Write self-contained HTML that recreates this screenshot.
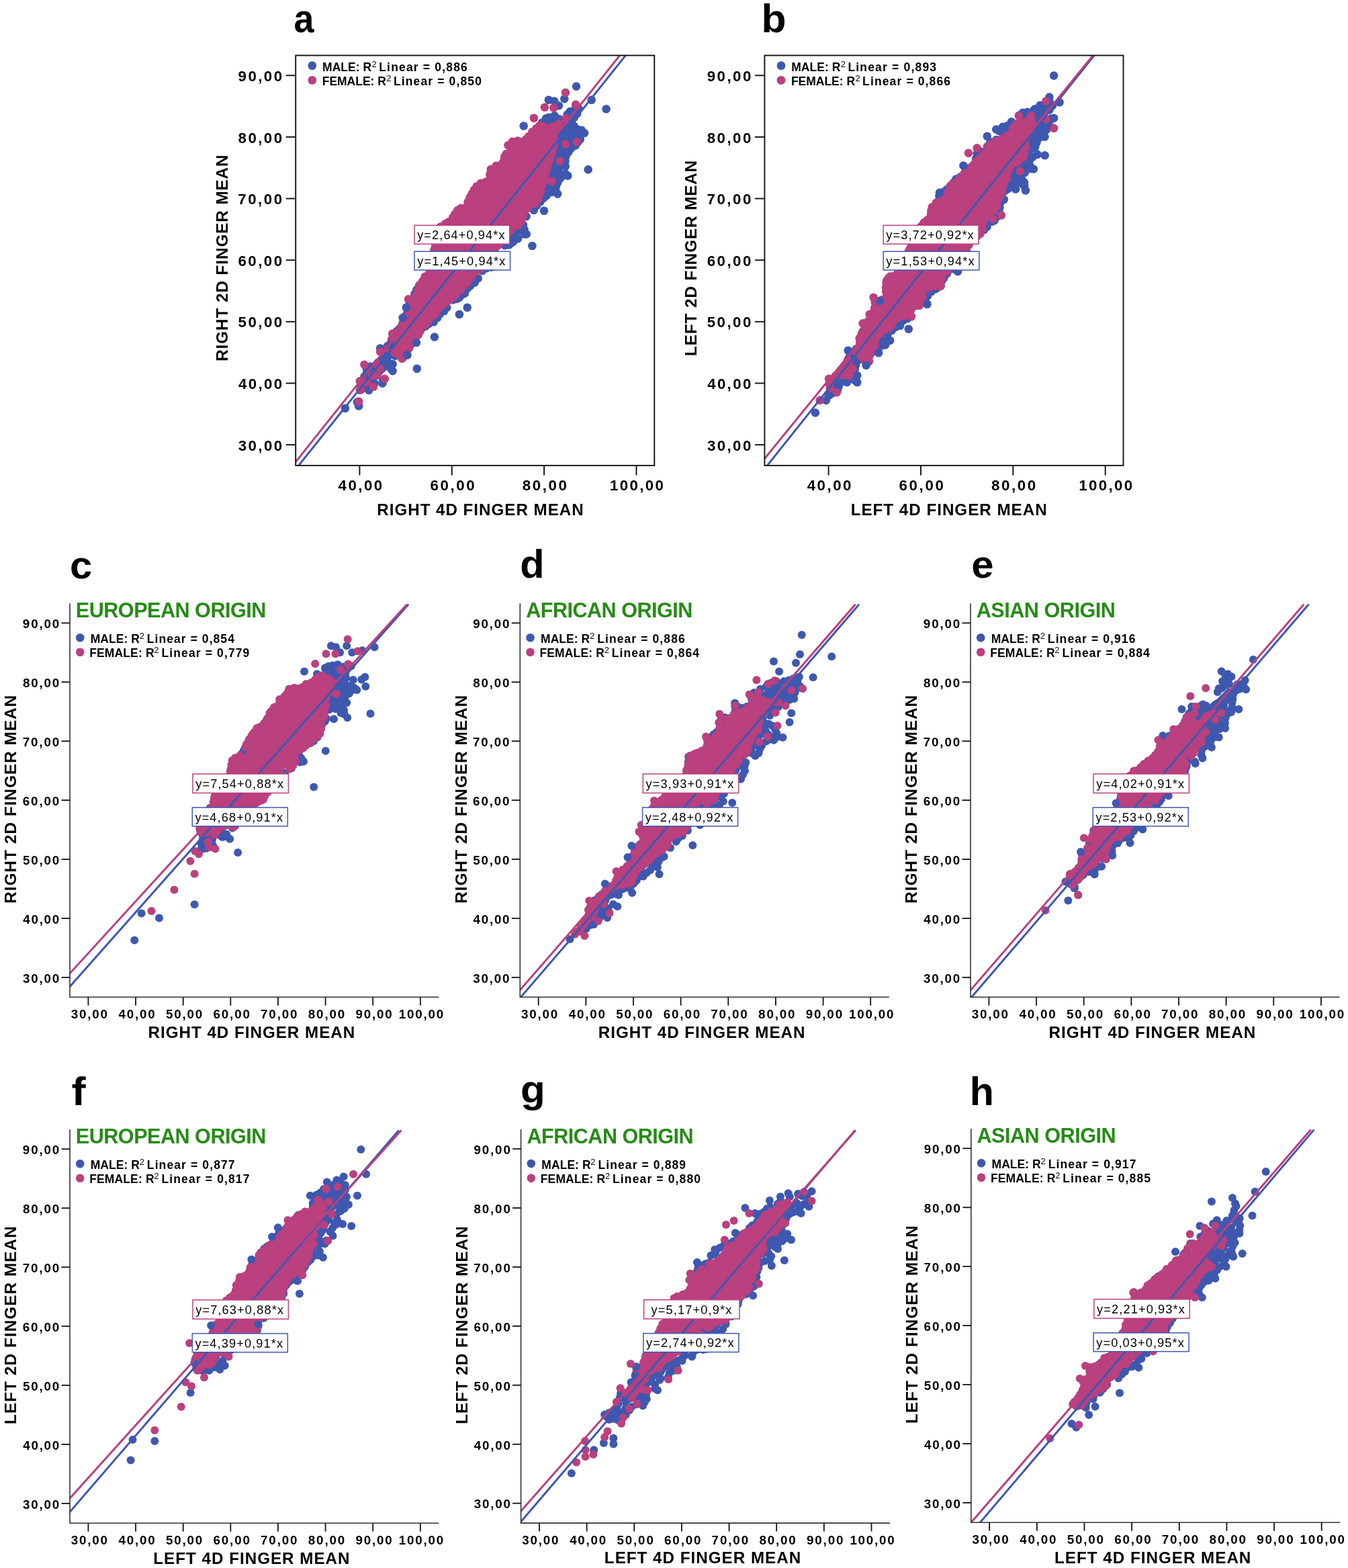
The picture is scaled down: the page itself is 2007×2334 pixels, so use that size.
<!DOCTYPE html>
<html><head><meta charset="utf-8"><title>Finger length scatter plots</title>
<style>html,body{margin:0;padding:0;background:#fff;}svg{display:block;}</style>
</head><body>
<svg xmlns="http://www.w3.org/2000/svg" width="2007" height="2334" viewBox="0 0 2007 2334">
<rect width="2007" height="2334" fill="#fff"/>
<g font-family="'Liberation Sans', Arial, Helvetica, sans-serif">
<g transform="translate(0,0)">
<clipPath id="clipa"><rect x="440.2" y="82.5" width="534.0999999999999" height="610.4"/></clipPath>
<g clip-path="url(#clipa)">
<g transform="translate(0,0)">
<polygon points="543.3,574.1 543.8,574.0 546.5,571.3 547.3,570.6 548.1,570.0 548.9,569.4 549.8,569.0 550.8,568.6 560.6,565.4 565.3,563.5 568.4,558.2 569.2,557.1 570.1,556.1 575.8,550.4 579.6,544.1 582.6,535.2 583.0,534.1 583.5,533.2 584.1,532.2 584.8,531.4 585.5,530.6 586.4,529.9 587.3,529.2 588.3,528.7 589.3,528.3 590.4,528.0 591.4,527.8 600.4,526.5 600.5,526.4 600.5,521.8 600.6,520.7 600.7,519.7 601.0,518.6 601.4,517.6 601.8,516.6 602.4,515.7 603.0,514.8 603.7,514.0 613.1,504.7 625.9,485.4 626.6,484.5 627.4,483.7 628.2,482.9 629.2,482.2 630.2,481.7 639.1,477.2 647.9,469.9 659.1,458.6 661.7,451.0 662.1,450.0 662.6,449.1 663.1,448.1 663.8,447.3 664.5,446.5 665.3,445.8 666.2,445.2 667.1,444.7 668.1,444.2 669.1,443.9 678.6,441.2 686.8,434.1 689.2,429.4 689.8,428.3 690.5,427.4 691.3,426.5 692.2,425.7 700.1,419.3 708.3,411.2 712.5,401.3 713.0,400.4 713.5,399.5 714.2,398.6 714.9,397.8 715.7,397.1 716.6,396.5 717.5,395.9 718.4,395.5 719.4,395.1 720.5,394.9 730.4,392.9 735.5,371.2 735.8,370.1 736.2,369.1 736.7,368.2 737.2,367.3 737.9,366.5 738.6,365.7 739.4,365.0 740.3,364.4 741.2,363.9 742.2,363.4 743.2,363.1 756.5,359.3 765.2,353.5 766.0,353.0 766.8,352.6 777.9,347.7 777.9,347.6 774.7,340.0 774.3,339.0 774.0,337.8 773.8,336.7 773.8,335.6 773.9,334.4 774.0,333.3 774.3,332.2 777.7,322.1 778.1,321.2 778.5,320.3 779.1,319.4 779.7,318.6 780.4,317.8 781.1,317.1 790.4,309.4 798.2,300.0 806.6,289.9 807.5,289.0 808.5,288.2 815.2,283.1 816.1,282.5 817.1,282.0 818.1,281.6 819.2,281.2 820.3,281.0 822.6,280.7 822.6,278.5 822.7,277.4 822.8,276.3 823.1,275.3 823.4,274.2 823.9,273.3 824.5,272.3 831.2,262.2 831.8,261.4 832.6,260.6 833.4,259.8 834.2,259.2 838.4,256.4 837.9,253.3 836.2,243.2 836.1,242.1 836.1,240.9 836.2,239.8 836.4,238.7 836.8,237.6 841.8,224.1 842.3,223.1 842.8,222.1 843.4,221.2 844.2,220.4 845.0,219.6 856.7,209.5 857.0,209.3 857.3,209.0 856.9,208.1 856.6,207.0 856.4,205.9 856.3,204.8 856.3,203.7 856.4,202.6 856.6,201.5 857.0,200.5 857.4,199.5 858.0,198.5 858.6,197.6 858.9,197.3 858.5,197.1 857.6,196.6 856.9,196.0 856.1,195.3 849.4,188.6 848.7,187.8 848.0,186.9 847.5,186.0 847.0,185.1 846.7,184.0 846.4,183.0 846.2,182.0 846.2,180.9 846.2,179.8 846.4,178.8 846.6,177.7 847.0,176.7 847.4,175.7 848.0,174.8 848.6,173.9 850.6,171.4 849.1,172.4 843.1,178.5 842.3,179.2 841.4,179.8 840.5,180.4 839.6,180.8 838.6,181.2 837.6,181.5 836.5,181.6 835.5,181.7 834.4,181.7 833.4,181.5 832.3,181.3 831.3,181.0 830.4,180.5 825.5,178.1 820.2,177.7 815.7,179.6 810.8,186.9 810.2,187.7 803.5,196.1 802.7,197.0 801.8,197.8 794.3,203.8 788.3,211.2 787.6,212.0 786.9,212.7 786.1,213.4 785.2,213.9 784.3,214.4 783.3,214.8 782.3,215.1 781.3,215.3 766.3,217.4 767.0,218.5 767.5,219.4 768.0,220.4 768.4,221.4 768.6,222.4 768.8,223.4 768.8,224.5 768.8,225.6 768.7,226.6 768.4,227.7 768.1,228.7 767.6,229.6 767.1,230.6 766.5,231.4 765.8,232.2 765.0,233.0 764.1,233.6 763.2,234.2 762.3,234.6 761.3,235.0 760.3,235.3 759.2,235.5 756.7,235.8 755.2,243.6 754.9,244.6 754.5,245.7 754.0,246.7 753.5,247.6 752.8,248.5 752.0,249.3 751.2,250.0 750.3,250.7 749.3,251.2 748.3,251.7 747.3,252.0 746.2,252.3 739.6,253.4 736.3,256.6 735.1,266.3 734.9,267.5 734.6,268.5 734.2,269.6 733.6,270.6 733.0,271.5 732.3,272.4 731.5,273.2 730.6,273.9 729.7,274.5 728.7,275.0 727.7,275.4 719.0,278.3 712.0,282.9 705.9,292.8 702.9,306.1 702.6,307.1 702.2,308.2 701.8,309.1 701.2,310.0 700.5,310.9 699.8,311.7 698.9,312.4 698.0,313.0 697.1,313.6 696.1,314.0 695.1,314.3 694.0,314.6 688.4,315.5 682.6,323.6 681.9,324.4 681.2,325.2 680.3,325.9 679.4,326.6 679.3,326.6 679.0,327.6 678.6,328.5 678.1,329.5 677.5,330.3 676.9,331.2 676.2,331.9 675.4,332.6 674.5,333.2 659.7,342.6 644.1,405.8 643.7,406.9 643.3,408.0 642.7,409.0 642.1,409.9 641.3,410.8 640.4,411.6 636.9,414.5 631.2,424.6 630.7,425.3 630.2,426.0 624.9,432.7 622.1,442.3 621.8,443.3 621.3,444.3 620.8,445.2 620.2,446.0 619.6,446.8 618.8,447.5 618.0,448.2 617.2,448.8 615.2,450.0 615.6,452.7 615.8,453.8 615.8,454.9 615.7,456.0 615.5,457.1 615.2,458.1 614.7,459.2 614.2,460.1 609.9,467.3 606.9,477.7 606.5,479.0 605.9,480.1 599.2,491.9 598.5,492.9 597.8,493.8 596.9,494.7 596.0,495.4 588.2,501.0 587.1,509.7 586.9,510.8 586.6,511.8 586.2,512.8 585.8,513.7 585.2,514.6 584.6,515.5 583.8,516.2 583.0,516.9 569.8,527.5 568.6,539.7 568.4,540.8 568.2,541.9 567.8,542.9 567.3,543.8 566.8,544.8 566.1,545.6 565.4,546.4 564.6,547.2 563.7,547.8 562.8,548.4 561.8,548.8 560.8,549.2 559.8,549.4 558.7,549.6 557.6,549.7 550.9,549.7 551.8,557.8 551.8,558.8 551.8,559.9 551.6,561.0 551.3,562.0 551.0,563.1 550.5,564.0 550.0,565.0 549.3,565.8 548.6,566.6 544.0,571.2 543.3,574.1" fill="#3e58af"/>
<g fill="#3e58af"><circle cx="531.9" cy="598.4" r="6.3"/><circle cx="537.6" cy="579.9" r="6.3"/><circle cx="555.2" cy="573.0" r="6.3"/><circle cx="570.1" cy="566.6" r="6.3"/><circle cx="581.9" cy="548.6" r="6.3"/><circle cx="584.0" cy="543.0" r="6.3"/><circle cx="600.3" cy="530.7" r="6.3"/><circle cx="605.5" cy="526.0" r="6.3"/><circle cx="606.0" cy="519.0" r="6.3"/><circle cx="610.8" cy="514.0" r="6.3"/><circle cx="616.3" cy="509.2" r="6.3"/><circle cx="618.7" cy="502.6" r="6.3"/><circle cx="622.9" cy="498.1" r="6.3"/><circle cx="626.7" cy="491.0" r="6.3"/><circle cx="633.6" cy="485.6" r="6.3"/><circle cx="638.4" cy="481.9" r="6.3"/><circle cx="645.7" cy="479.3" r="6.3"/><circle cx="654.8" cy="467.6" r="6.3"/><circle cx="661.2" cy="463.0" r="6.3"/><circle cx="665.3" cy="457.8" r="6.3"/><circle cx="680.0" cy="444.9" r="6.3"/><circle cx="685.2" cy="440.9" r="6.3"/><circle cx="692.0" cy="436.6" r="6.3"/><circle cx="695.8" cy="429.4" r="6.3"/><circle cx="700.1" cy="425.2" r="6.3"/><circle cx="706.7" cy="420.5" r="6.3"/><circle cx="711.7" cy="414.3" r="6.3"/><circle cx="718.1" cy="403.0" r="6.3"/><circle cx="724.1" cy="399.3" r="6.3"/><circle cx="731.3" cy="397.5" r="6.3"/><circle cx="735.2" cy="394.3" r="6.3"/><circle cx="737.9" cy="386.3" r="6.3"/><circle cx="738.1" cy="380.5" r="6.3"/><circle cx="751.7" cy="365.2" r="6.3"/><circle cx="757.8" cy="364.5" r="6.3"/><circle cx="764.1" cy="359.8" r="6.3"/><circle cx="770.9" cy="355.3" r="6.3"/><circle cx="783.7" cy="348.5" r="6.3"/><circle cx="780.6" cy="341.4" r="6.3"/><circle cx="778.9" cy="335.0" r="6.3"/><circle cx="783.6" cy="322.1" r="6.3"/><circle cx="794.9" cy="312.8" r="6.3"/><circle cx="799.2" cy="305.7" r="6.3"/><circle cx="804.5" cy="300.3" r="6.3"/><circle cx="809.3" cy="294.8" r="6.3"/><circle cx="813.5" cy="291.2" r="6.3"/><circle cx="820.8" cy="286.2" r="6.3"/><circle cx="827.2" cy="283.8" r="6.3"/><circle cx="827.6" cy="278.7" r="6.3"/><circle cx="829.7" cy="272.7" r="6.3"/><circle cx="834.7" cy="264.8" r="6.3"/><circle cx="840.1" cy="260.7" r="6.3"/><circle cx="841.8" cy="247.7" r="6.3"/><circle cx="841.5" cy="240.1" r="6.3"/><circle cx="842.3" cy="233.5" r="6.3"/><circle cx="846.3" cy="226.6" r="6.3"/><circle cx="849.8" cy="221.3" r="6.3"/><circle cx="855.9" cy="216.9" r="6.3"/><circle cx="860.3" cy="211.6" r="6.3"/><circle cx="861.5" cy="205.9" r="6.3"/><circle cx="862.1" cy="200.0" r="6.3"/><circle cx="870.0" cy="198.0" r="6.3"/><circle cx="865.6" cy="195.6" r="6.3"/><circle cx="859.2" cy="192.4" r="6.3"/><circle cx="854.6" cy="187.8" r="6.3"/><circle cx="851.4" cy="182.4" r="6.3"/><circle cx="854.9" cy="174.8" r="6.3"/><circle cx="859.3" cy="169.0" r="6.3"/><circle cx="861.8" cy="162.1" r="6.3"/><circle cx="855.7" cy="163.1" r="6.3"/><circle cx="848.5" cy="166.1" r="6.3"/><circle cx="844.9" cy="170.3" r="6.3"/><circle cx="832.5" cy="177.3" r="6.3"/><circle cx="825.6" cy="172.3" r="6.3"/><circle cx="813.1" cy="176.2" r="6.3"/><circle cx="807.1" cy="182.5" r="6.3"/><circle cx="802.9" cy="188.4" r="6.3"/><circle cx="799.3" cy="193.4" r="6.3"/><circle cx="794.1" cy="197.7" r="6.3"/><circle cx="788.0" cy="204.5" r="6.3"/><circle cx="783.6" cy="208.5" r="6.3"/><circle cx="777.4" cy="211.8" r="6.3"/><circle cx="769.7" cy="213.3" r="6.3"/><circle cx="761.5" cy="216.4" r="6.3"/><circle cx="763.6" cy="223.3" r="6.3"/><circle cx="760.8" cy="230.6" r="6.3"/><circle cx="755.3" cy="231.7" r="6.3"/><circle cx="751.7" cy="236.6" r="6.3"/><circle cx="745.1" cy="247.2" r="6.3"/><circle cx="737.6" cy="250.0" r="6.3"/><circle cx="733.1" cy="253.2" r="6.3"/><circle cx="730.4" cy="261.8" r="6.3"/><circle cx="730.5" cy="269.0" r="6.3"/><circle cx="723.9" cy="270.7" r="6.3"/><circle cx="716.0" cy="274.6" r="6.3"/><circle cx="706.5" cy="282.6" r="6.3"/><circle cx="702.6" cy="289.5" r="6.3"/><circle cx="697.8" cy="304.3" r="6.3"/><circle cx="694.5" cy="309.2" r="6.3"/><circle cx="688.7" cy="311.0" r="6.3"/><circle cx="682.3" cy="316.0" r="6.3"/><circle cx="677.2" cy="321.3" r="6.3"/><circle cx="674.3" cy="325.8" r="6.3"/><circle cx="669.0" cy="331.5" r="6.3"/><circle cx="656.7" cy="339.5" r="6.3"/><circle cx="653.5" cy="345.2" r="6.3"/><circle cx="650.3" cy="359.1" r="6.3"/><circle cx="648.5" cy="365.7" r="6.3"/><circle cx="646.6" cy="374.0" r="6.3"/><circle cx="644.6" cy="380.9" r="6.3"/><circle cx="644.4" cy="386.7" r="6.3"/><circle cx="633.3" cy="414.1" r="6.3"/><circle cx="624.1" cy="424.9" r="6.3"/><circle cx="620.5" cy="431.1" r="6.3"/><circle cx="617.3" cy="437.6" r="6.3"/><circle cx="614.9" cy="445.9" r="6.3"/><circle cx="609.5" cy="449.3" r="6.3"/><circle cx="607.1" cy="463.0" r="6.3"/><circle cx="604.7" cy="469.2" r="6.3"/><circle cx="603.5" cy="476.4" r="6.3"/><circle cx="599.0" cy="482.2" r="6.3"/><circle cx="594.7" cy="489.3" r="6.3"/><circle cx="591.0" cy="492.7" r="6.3"/><circle cx="584.6" cy="497.0" r="6.3"/><circle cx="576.6" cy="515.5" r="6.3"/><circle cx="569.5" cy="520.8" r="6.3"/><circle cx="563.0" cy="539.5" r="6.3"/><circle cx="551.8" cy="545.6" r="6.3"/><circle cx="545.7" cy="547.8" r="6.3"/><circle cx="546.3" cy="554.0" r="6.3"/><circle cx="545.1" cy="562.7" r="6.3"/><circle cx="540.6" cy="568.5" r="6.3"/><circle cx="537.4" cy="574.7" r="6.3"/><circle cx="852.3" cy="169.3" r="6.3"/><circle cx="817.3" cy="174.8" r="6.3"/><circle cx="823.7" cy="174.3" r="6.3"/><circle cx="851.7" cy="174.7" r="6.3"/><circle cx="816.8" cy="181.1" r="6.3"/><circle cx="835.0" cy="183.4" r="6.3"/><circle cx="848.1" cy="182.9" r="6.3"/><circle cx="811.8" cy="189.3" r="6.3"/><circle cx="852.0" cy="189.7" r="6.3"/><circle cx="859.8" cy="196.0" r="6.3"/><circle cx="865.7" cy="193.7" r="6.3"/><circle cx="859.7" cy="203.2" r="6.3"/><circle cx="863.8" cy="207.3" r="6.3"/><circle cx="766.6" cy="215.3" r="6.3"/><circle cx="849.0" cy="216.5" r="6.3"/><circle cx="857.1" cy="216.0" r="6.3"/><circle cx="769.9" cy="224.9" r="6.3"/><circle cx="763.8" cy="231.0" r="6.3"/><circle cx="840.9" cy="228.6" r="6.3"/><circle cx="756.2" cy="235.9" r="6.3"/><circle cx="840.3" cy="236.8" r="6.3"/><circle cx="752.7" cy="244.1" r="6.3"/><circle cx="739.8" cy="249.5" r="6.3"/><circle cx="834.4" cy="259.4" r="6.3"/><circle cx="842.3" cy="259.1" r="6.3"/><circle cx="832.5" cy="266.6" r="6.3"/><circle cx="723.7" cy="273.2" r="6.3"/><circle cx="830.6" cy="270.2" r="6.3"/><circle cx="715.3" cy="276.7" r="6.3"/><circle cx="825.2" cy="276.9" r="6.3"/><circle cx="710.2" cy="286.2" r="6.3"/><circle cx="813.5" cy="285.4" r="6.3"/><circle cx="701.0" cy="292.6" r="6.3"/><circle cx="791.6" cy="307.9" r="6.3"/><circle cx="686.1" cy="312.7" r="6.3"/><circle cx="693.7" cy="311.3" r="6.3"/><circle cx="683.8" cy="319.7" r="6.3"/><circle cx="776.1" cy="334.8" r="6.3"/><circle cx="780.5" cy="348.5" r="6.3"/><circle cx="768.2" cy="353.4" r="6.3"/><circle cx="656.3" cy="360.0" r="6.3"/><circle cx="753.7" cy="363.5" r="6.3"/><circle cx="761.0" cy="361.8" r="6.3"/><circle cx="736.5" cy="369.7" r="6.3"/><circle cx="737.4" cy="377.6" r="6.3"/><circle cx="644.9" cy="387.8" r="6.3"/><circle cx="724.0" cy="398.0" r="6.3"/><circle cx="733.2" cy="396.9" r="6.3"/><circle cx="705.6" cy="417.1" r="6.3"/><circle cx="694.6" cy="429.9" r="6.3"/><circle cx="688.0" cy="438.6" r="6.3"/><circle cx="619.2" cy="444.9" r="6.3"/><circle cx="665.8" cy="446.6" r="6.3"/><circle cx="674.7" cy="446.3" r="6.3"/><circle cx="683.3" cy="443.4" r="6.3"/><circle cx="612.8" cy="458.7" r="6.3"/><circle cx="653.2" cy="466.6" r="6.3"/><circle cx="608.4" cy="471.5" r="6.3"/><circle cx="651.3" cy="472.9" r="6.3"/><circle cx="600.7" cy="478.3" r="6.3"/><circle cx="600.7" cy="484.9" r="6.3"/><circle cx="596.6" cy="493.7" r="6.3"/><circle cx="623.9" cy="491.5" r="6.3"/><circle cx="589.9" cy="500.1" r="6.3"/><circle cx="616.7" cy="501.7" r="6.3"/><circle cx="580.2" cy="512.9" r="6.3"/><circle cx="610.1" cy="514.5" r="6.3"/><circle cx="574.3" cy="523.1" r="6.3"/><circle cx="570.7" cy="528.7" r="6.3"/><circle cx="588.3" cy="529.8" r="6.3"/><circle cx="604.1" cy="526.4" r="6.3"/><circle cx="569.1" cy="534.3" r="6.3"/><circle cx="582.0" cy="542.5" r="6.3"/><circle cx="548.9" cy="547.8" r="6.3"/><circle cx="554.5" cy="547.7" r="6.3"/><circle cx="560.9" cy="550.3" r="6.3"/><circle cx="548.1" cy="561.9" r="6.3"/><circle cx="538.5" cy="571.2" r="6.3"/><circle cx="554.8" cy="568.1" r="6.3"/><circle cx="541.1" cy="577.4" r="6.3"/><circle cx="545.8" cy="577.2" r="6.3"/></g>
<polygon points="582.3,516.1 582.8,516.5 583.6,517.0 584.2,517.6 589.2,522.6 596.6,527.0 597.3,527.5 598.0,528.1 598.6,528.7 599.2,529.3 599.3,529.6 600.9,524.8 601.2,524.0 601.6,523.3 602.0,522.6 602.5,522.0 607.9,515.2 609.1,509.0 609.3,508.2 609.6,507.3 610.0,506.5 610.5,505.8 611.0,505.1 611.6,504.4 618.8,497.2 623.2,488.4 623.7,487.5 624.3,486.8 624.9,486.0 644.7,466.3 652.8,456.5 653.4,455.9 660.0,449.3 661.0,448.4 673.9,438.7 683.7,429.0 690.1,422.5 696.3,414.8 700.8,407.2 701.3,406.5 701.8,405.9 702.4,405.2 703.1,404.7 703.8,404.2 704.5,403.8 715.8,398.2 739.8,361.3 740.3,360.6 740.8,360.0 755.7,344.1 755.9,343.8 762.5,337.2 763.2,336.6 763.9,336.1 771.6,330.9 775.8,317.0 776.1,316.1 776.5,315.3 777.0,314.5 777.5,313.8 785.5,304.3 786.0,303.7 786.7,303.1 787.3,302.6 788.0,302.2 788.8,301.8 789.5,301.5 796.0,299.3 799.6,291.1 802.8,279.9 803.0,279.1 803.4,278.3 809.4,266.2 811.0,250.9 811.1,250.1 811.3,249.2 816.3,232.6 816.6,231.8 822.6,216.8 821.1,202.2 821.1,201.3 821.1,200.4 821.3,199.5 821.5,198.6 821.9,197.7 822.3,196.9 825.7,190.9 821.9,192.5 821.1,192.9 820.1,193.1 819.2,193.2 818.3,193.3 817.4,193.2 816.4,193.0 815.5,192.8 806.3,189.7 804.5,189.3 800.8,193.8 800.2,194.5 799.4,195.2 791.8,201.3 786.0,208.6 785.4,209.2 784.8,209.8 784.1,210.3 783.4,210.8 782.6,211.2 781.9,211.5 781.0,211.7 780.2,211.9 760.3,214.7 760.3,214.7 762.7,218.4 763.2,219.1 763.6,219.9 763.9,220.8 764.1,221.6 764.2,222.5 764.3,223.3 764.2,224.2 764.1,225.1 763.9,225.9 763.6,226.7 763.2,227.5 762.8,228.3 762.3,229.0 761.7,229.6 761.1,230.2 760.4,230.8 759.7,231.2 758.9,231.6 758.1,231.9 757.2,232.2 756.4,232.3 753.2,232.7 753.3,233.3 753.3,234.2 753.3,235.0 753.1,235.9 751.9,241.9 751.7,242.7 751.4,243.6 751.0,244.4 750.5,245.2 750.0,245.9 749.4,246.6 748.7,247.2 748.0,247.7 747.2,248.1 746.3,248.5 745.5,248.8 744.6,249.0 737.9,250.1 733.0,255.0 731.7,265.0 731.6,265.9 731.3,266.8 731.0,267.6 730.6,268.4 730.0,269.2 729.5,269.9 728.8,270.6 728.1,271.1 727.3,271.6 726.5,272.1 725.6,272.4 717.4,275.1 709.5,280.4 702.6,291.4 699.7,304.3 699.5,305.2 699.2,306.0 698.8,306.8 698.3,307.6 697.7,308.3 697.1,308.9 696.5,309.5 695.7,310.0 695.0,310.4 694.1,310.8 693.3,311.1 692.4,311.3 686.4,312.3 680.1,321.1 679.5,321.8 678.9,322.4 678.2,323.0 677.5,323.5 676.7,324.0 675.8,324.3 675.8,324.3 675.7,324.6 675.6,325.5 675.3,326.3 675.0,327.1 674.6,327.8 674.1,328.5 673.6,329.2 673.0,329.8 672.4,330.4 671.7,330.9 656.8,340.3 642.5,405.2 642.3,406.0 642.0,406.8 641.6,407.5 641.2,408.3 640.7,409.0 640.1,409.6 634.2,415.5 628.1,424.6 623.7,433.4 620.6,448.9 620.4,449.8 620.1,450.6 619.7,451.4 619.3,452.2 613.3,461.2 610.3,470.1 610.0,470.8 609.7,471.5 609.3,472.2 608.8,472.8 602.9,480.3 598.3,490.8 598.0,491.5 597.5,492.3 597.0,492.9 596.5,493.6 595.8,494.1 587.9,500.8 585.2,511.4 585.0,512.3 584.6,513.2 584.1,514.0 583.6,514.8 583.0,515.5 582.3,516.1 582.3,516.1" fill="#ba407e"/>
<g fill="#ba407e"><circle cx="577.0" cy="518.5" r="6.3"/><circle cx="581.4" cy="519.0" r="6.3"/><circle cx="586.9" cy="524.0" r="6.3"/><circle cx="592.7" cy="527.6" r="6.3"/><circle cx="598.6" cy="533.9" r="6.3"/><circle cx="602.6" cy="528.9" r="6.3"/><circle cx="606.1" cy="522.4" r="6.3"/><circle cx="609.3" cy="518.0" r="6.3"/><circle cx="611.0" cy="510.6" r="6.3"/><circle cx="616.0" cy="502.9" r="6.3"/><circle cx="621.3" cy="499.3" r="6.3"/><circle cx="625.2" cy="493.5" r="6.3"/><circle cx="629.2" cy="485.8" r="6.3"/><circle cx="633.9" cy="482.3" r="6.3"/><circle cx="638.2" cy="476.9" r="6.3"/><circle cx="643.8" cy="470.2" r="6.3"/><circle cx="648.5" cy="466.3" r="6.3"/><circle cx="653.3" cy="459.0" r="6.3"/><circle cx="658.6" cy="453.7" r="6.3"/><circle cx="663.7" cy="450.5" r="6.3"/><circle cx="669.1" cy="446.5" r="6.3"/><circle cx="674.6" cy="442.2" r="6.3"/><circle cx="679.3" cy="437.2" r="6.3"/><circle cx="685.7" cy="431.7" r="6.3"/><circle cx="689.9" cy="424.8" r="6.3"/><circle cx="695.1" cy="421.3" r="6.3"/><circle cx="700.8" cy="413.5" r="6.3"/><circle cx="704.6" cy="407.3" r="6.3"/><circle cx="709.2" cy="403.4" r="6.3"/><circle cx="715.7" cy="400.0" r="6.3"/><circle cx="721.5" cy="396.8" r="6.3"/><circle cx="724.8" cy="388.9" r="6.3"/><circle cx="727.7" cy="382.9" r="6.3"/><circle cx="732.6" cy="376.3" r="6.3"/><circle cx="735.9" cy="372.3" r="6.3"/><circle cx="740.9" cy="365.9" r="6.3"/><circle cx="745.2" cy="360.5" r="6.3"/><circle cx="750.5" cy="353.2" r="6.3"/><circle cx="755.5" cy="348.0" r="6.3"/><circle cx="759.1" cy="343.1" r="6.3"/><circle cx="765.4" cy="337.4" r="6.3"/><circle cx="771.4" cy="335.4" r="6.3"/><circle cx="776.3" cy="329.4" r="6.3"/><circle cx="778.2" cy="322.4" r="6.3"/><circle cx="780.3" cy="315.6" r="6.3"/><circle cx="785.6" cy="309.9" r="6.3"/><circle cx="788.8" cy="305.0" r="6.3"/><circle cx="796.5" cy="302.6" r="6.3"/><circle cx="801.2" cy="296.4" r="6.3"/><circle cx="803.3" cy="288.6" r="6.3"/><circle cx="805.6" cy="283.9" r="6.3"/><circle cx="807.2" cy="275.2" r="6.3"/><circle cx="810.3" cy="269.7" r="6.3"/><circle cx="811.5" cy="262.5" r="6.3"/><circle cx="813.4" cy="254.2" r="6.3"/><circle cx="814.8" cy="247.5" r="6.3"/><circle cx="817.5" cy="240.5" r="6.3"/><circle cx="818.7" cy="235.2" r="6.3"/><circle cx="822.2" cy="227.8" r="6.3"/><circle cx="823.5" cy="220.3" r="6.3"/><circle cx="825.0" cy="214.1" r="6.3"/><circle cx="825.2" cy="207.2" r="6.3"/><circle cx="824.0" cy="199.1" r="6.3"/><circle cx="826.8" cy="192.5" r="6.3"/><circle cx="831.8" cy="187.4" r="6.3"/><circle cx="831.2" cy="184.9" r="6.3"/><circle cx="823.9" cy="188.3" r="6.3"/><circle cx="818.3" cy="191.3" r="6.3"/><circle cx="810.1" cy="188.8" r="6.3"/><circle cx="803.7" cy="186.5" r="6.3"/><circle cx="798.6" cy="191.0" r="6.3"/><circle cx="792.6" cy="196.2" r="6.3"/><circle cx="787.7" cy="202.7" r="6.3"/><circle cx="783.6" cy="206.9" r="6.3"/><circle cx="776.6" cy="210.8" r="6.3"/><circle cx="770.7" cy="209.6" r="6.3"/><circle cx="762.7" cy="210.9" r="6.3"/><circle cx="756.5" cy="216.2" r="6.3"/><circle cx="760.7" cy="221.1" r="6.3"/><circle cx="759.9" cy="226.9" r="6.3"/><circle cx="753.6" cy="229.2" r="6.3"/><circle cx="751.0" cy="233.7" r="6.3"/><circle cx="749.0" cy="241.9" r="6.3"/><circle cx="743.7" cy="246.5" r="6.3"/><circle cx="738.4" cy="246.9" r="6.3"/><circle cx="730.8" cy="252.0" r="6.3"/><circle cx="730.6" cy="259.2" r="6.3"/><circle cx="729.7" cy="265.8" r="6.3"/><circle cx="723.9" cy="270.8" r="6.3"/><circle cx="715.9" cy="272.7" r="6.3"/><circle cx="709.8" cy="277.3" r="6.3"/><circle cx="705.9" cy="282.7" r="6.3"/><circle cx="702.6" cy="288.6" r="6.3"/><circle cx="699.5" cy="294.2" r="6.3"/><circle cx="696.6" cy="300.6" r="6.3"/><circle cx="693.8" cy="308.5" r="6.3"/><circle cx="686.1" cy="310.1" r="6.3"/><circle cx="681.3" cy="313.0" r="6.3"/><circle cx="677.4" cy="318.6" r="6.3"/><circle cx="674.2" cy="323.5" r="6.3"/><circle cx="667.6" cy="330.5" r="6.3"/><circle cx="663.1" cy="333.1" r="6.3"/><circle cx="656.0" cy="337.6" r="6.3"/><circle cx="652.8" cy="342.3" r="6.3"/><circle cx="652.8" cy="350.0" r="6.3"/><circle cx="649.2" cy="357.8" r="6.3"/><circle cx="648.6" cy="364.2" r="6.3"/><circle cx="646.8" cy="371.1" r="6.3"/><circle cx="646.4" cy="380.0" r="6.3"/><circle cx="643.9" cy="387.1" r="6.3"/><circle cx="642.7" cy="393.4" r="6.3"/><circle cx="641.2" cy="399.3" r="6.3"/><circle cx="639.6" cy="406.4" r="6.3"/><circle cx="632.7" cy="411.8" r="6.3"/><circle cx="629.2" cy="418.5" r="6.3"/><circle cx="625.1" cy="424.1" r="6.3"/><circle cx="622.7" cy="431.2" r="6.3"/><circle cx="619.9" cy="438.1" r="6.3"/><circle cx="618.5" cy="444.1" r="6.3"/><circle cx="617.1" cy="452.7" r="6.3"/><circle cx="611.3" cy="458.7" r="6.3"/><circle cx="608.3" cy="464.5" r="6.3"/><circle cx="605.7" cy="470.7" r="6.3"/><circle cx="602.4" cy="476.1" r="6.3"/><circle cx="599.8" cy="483.7" r="6.3"/><circle cx="596.3" cy="488.6" r="6.3"/><circle cx="590.3" cy="495.0" r="6.3"/><circle cx="584.9" cy="499.9" r="6.3"/><circle cx="583.0" cy="505.5" r="6.3"/><circle cx="580.5" cy="513.1" r="6.3"/><circle cx="802.7" cy="191.5" r="6.3"/><circle cx="816.0" cy="191.6" r="6.3"/><circle cx="823.8" cy="191.5" r="6.3"/><circle cx="763.4" cy="211.9" r="6.3"/><circle cx="773.1" cy="213.8" r="6.3"/><circle cx="779.2" cy="213.9" r="6.3"/><circle cx="761.4" cy="219.3" r="6.3"/><circle cx="823.7" cy="217.5" r="6.3"/><circle cx="755.5" cy="232.8" r="6.3"/><circle cx="751.1" cy="240.9" r="6.3"/><circle cx="816.7" cy="239.0" r="6.3"/><circle cx="749.9" cy="248.4" r="6.3"/><circle cx="811.4" cy="246.6" r="6.3"/><circle cx="733.4" cy="255.7" r="6.3"/><circle cx="812.9" cy="252.3" r="6.3"/><circle cx="729.3" cy="259.8" r="6.3"/><circle cx="717.1" cy="275.4" r="6.3"/><circle cx="805.4" cy="276.4" r="6.3"/><circle cx="800.9" cy="280.6" r="6.3"/><circle cx="704.9" cy="286.7" r="6.3"/><circle cx="703.4" cy="296.4" r="6.3"/><circle cx="797.3" cy="294.0" r="6.3"/><circle cx="697.8" cy="303.7" r="6.3"/><circle cx="787.5" cy="300.9" r="6.3"/><circle cx="686.1" cy="310.7" r="6.3"/><circle cx="695.3" cy="307.6" r="6.3"/><circle cx="785.3" cy="307.7" r="6.3"/><circle cx="775.2" cy="318.3" r="6.3"/><circle cx="667.2" cy="332.1" r="6.3"/><circle cx="771.2" cy="330.0" r="6.3"/><circle cx="764.2" cy="335.5" r="6.3"/><circle cx="755.9" cy="345.9" r="6.3"/><circle cx="655.2" cy="349.7" r="6.3"/><circle cx="752.4" cy="351.8" r="6.3"/><circle cx="652.2" cy="356.1" r="6.3"/><circle cx="742.6" cy="358.6" r="6.3"/><circle cx="737.3" cy="363.8" r="6.3"/><circle cx="648.9" cy="370.2" r="6.3"/><circle cx="724.8" cy="386.3" r="6.3"/><circle cx="641.0" cy="391.4" r="6.3"/><circle cx="720.1" cy="392.1" r="6.3"/><circle cx="640.6" cy="399.6" r="6.3"/><circle cx="711.2" cy="399.2" r="6.3"/><circle cx="638.7" cy="407.8" r="6.3"/><circle cx="701.1" cy="408.2" r="6.3"/><circle cx="628.6" cy="421.9" r="6.3"/><circle cx="692.2" cy="420.3" r="6.3"/><circle cx="624.8" cy="425.4" r="6.3"/><circle cx="687.3" cy="427.1" r="6.3"/><circle cx="670.6" cy="440.9" r="6.3"/><circle cx="663.4" cy="449.7" r="6.3"/><circle cx="615.9" cy="453.5" r="6.3"/><circle cx="640.7" cy="470.2" r="6.3"/><circle cx="603.0" cy="475.7" r="6.3"/><circle cx="636.2" cy="474.3" r="6.3"/><circle cx="599.7" cy="483.0" r="6.3"/><circle cx="628.7" cy="481.1" r="6.3"/><circle cx="621.5" cy="487.8" r="6.3"/><circle cx="593.4" cy="496.2" r="6.3"/><circle cx="621.5" cy="497.1" r="6.3"/><circle cx="582.3" cy="509.7" r="6.3"/><circle cx="610.2" cy="508.5" r="6.3"/><circle cx="578.3" cy="516.7" r="6.3"/><circle cx="606.8" cy="517.5" r="6.3"/><circle cx="600.3" cy="531.7" r="6.3"/></g>
<circle cx="513.9" cy="607.7" r="6.3" fill="#3e58af"/>
<circle cx="534.1" cy="604.3" r="6.3" fill="#3e58af"/>
<circle cx="549.2" cy="580.7" r="6.3" fill="#3e58af"/>
<circle cx="569.4" cy="570.6" r="6.3" fill="#3e58af"/>
<circle cx="557.6" cy="570.6" r="6.3" fill="#3e58af"/>
<circle cx="542.5" cy="560.5" r="6.3" fill="#3e58af"/>
<circle cx="566.1" cy="518.5" r="6.3" fill="#3e58af"/>
<circle cx="584.6" cy="552.1" r="6.3" fill="#3e58af"/>
<circle cx="584.6" cy="542.0" r="6.3" fill="#3e58af"/>
<circle cx="620.8" cy="548.8" r="6.3" fill="#3e58af"/>
<circle cx="646.9" cy="501.6" r="6.3" fill="#3e58af"/>
<circle cx="683.9" cy="467.9" r="6.3" fill="#3e58af"/>
<circle cx="695.7" cy="457.8" r="6.3" fill="#3e58af"/>
<circle cx="604.8" cy="457.8" r="6.3" fill="#3e58af"/>
<circle cx="599.7" cy="473.0" r="6.3" fill="#3e58af"/>
<circle cx="581.2" cy="513.4" r="6.3" fill="#3e58af"/>
<circle cx="606.5" cy="528.6" r="6.3" fill="#3e58af"/>
<circle cx="619.9" cy="510.0" r="6.3" fill="#3e58af"/>
<circle cx="858.0" cy="128.6" r="6.3" fill="#3e58af"/>
<circle cx="840.3" cy="147.1" r="6.3" fill="#3e58af"/>
<circle cx="816.8" cy="148.8" r="6.3" fill="#3e58af"/>
<circle cx="825.2" cy="150.5" r="6.3" fill="#3e58af"/>
<circle cx="831.9" cy="157.2" r="6.3" fill="#3e58af"/>
<circle cx="880.7" cy="148.8" r="6.3" fill="#3e58af"/>
<circle cx="902.6" cy="162.3" r="6.3" fill="#3e58af"/>
<circle cx="779.7" cy="187.5" r="6.3" fill="#3e58af"/>
<circle cx="875.7" cy="252.4" r="6.3" fill="#3e58af"/>
<circle cx="810.0" cy="313.8" r="6.3" fill="#3e58af"/>
<circle cx="792.4" cy="366.0" r="6.3" fill="#3e58af"/>
<circle cx="830.2" cy="288.6" r="6.3" fill="#3e58af"/>
<circle cx="845.4" cy="261.6" r="6.3" fill="#3e58af"/>
<circle cx="855.5" cy="216.2" r="6.3" fill="#3e58af"/>
<circle cx="542.5" cy="542.9" r="6.3" fill="#ba407e"/>
<circle cx="561.0" cy="542.0" r="6.3" fill="#ba407e"/>
<circle cx="566.1" cy="548.8" r="6.3" fill="#ba407e"/>
<circle cx="561.0" cy="558.9" r="6.3" fill="#ba407e"/>
<circle cx="554.3" cy="558.9" r="6.3" fill="#ba407e"/>
<circle cx="545.9" cy="569.0" r="6.3" fill="#ba407e"/>
<circle cx="535.8" cy="567.3" r="6.3" fill="#ba407e"/>
<circle cx="556.0" cy="575.7" r="6.3" fill="#ba407e"/>
<circle cx="535.8" cy="580.7" r="6.3" fill="#ba407e"/>
<circle cx="534.1" cy="597.6" r="6.3" fill="#ba407e"/>
<circle cx="572.8" cy="563.9" r="6.3" fill="#ba407e"/>
<circle cx="566.1" cy="523.5" r="6.3" fill="#ba407e"/>
<circle cx="608.1" cy="445.2" r="6.3" fill="#ba407e"/>
<circle cx="584.6" cy="496.6" r="6.3" fill="#ba407e"/>
<circle cx="537.4" cy="579.1" r="6.3" fill="#ba407e"/>
<circle cx="842.0" cy="137.9" r="6.3" fill="#ba407e"/>
<circle cx="810.9" cy="159.8" r="6.3" fill="#ba407e"/>
<circle cx="824.3" cy="160.6" r="6.3" fill="#ba407e"/>
<circle cx="794.9" cy="175.8" r="6.3" fill="#ba407e"/>
<circle cx="857.2" cy="155.6" r="6.3" fill="#ba407e"/>
<circle cx="842.0" cy="214.5" r="6.3" fill="#ba407e"/>
<circle cx="858.9" cy="211.1" r="6.3" fill="#ba407e"/>
<circle cx="833.6" cy="239.7" r="6.3" fill="#ba407e"/>
<circle cx="821.8" cy="270.0" r="6.3" fill="#ba407e"/>
<circle cx="831.9" cy="184.2" r="6.3" fill="#ba407e"/>
<circle cx="842.0" cy="176.6" r="6.3" fill="#ba407e"/>
</g>
<line x1="398.04" y1="751.44" x2="1016.16" y2="-23.75" stroke="#3e58af" stroke-width="3"/>
<line x1="398.04" y1="740.54" x2="1016.16" y2="-34.65" stroke="#ba407e" stroke-width="3"/>
</g>
<rect x="440.2" y="82.5" width="534.0999999999999" height="610.4" fill="none" stroke="#111" stroke-width="1.9"/>
<line x1="425.7" y1="662.10" x2="440.2" y2="662.10" stroke="#111" stroke-width="1.9"/>
<text x="354.79" y="670.70" font-size="22.3" font-weight="bold" fill="#000" textLength="65.33" lengthAdjust="spacing">30,00</text>
<line x1="425.7" y1="570.47" x2="440.2" y2="570.47" stroke="#111" stroke-width="1.9"/>
<text x="354.96" y="579.07" font-size="22.3" font-weight="bold" fill="#000" textLength="65.15" lengthAdjust="spacing">40,00</text>
<line x1="425.7" y1="478.84" x2="440.2" y2="478.84" stroke="#111" stroke-width="1.9"/>
<text x="354.61" y="487.44" font-size="22.3" font-weight="bold" fill="#000" textLength="65.50" lengthAdjust="spacing">50,00</text>
<line x1="425.7" y1="387.21" x2="440.2" y2="387.21" stroke="#111" stroke-width="1.9"/>
<text x="354.48" y="395.81" font-size="22.3" font-weight="bold" fill="#000" textLength="65.63" lengthAdjust="spacing">60,00</text>
<line x1="425.7" y1="295.58" x2="440.2" y2="295.58" stroke="#111" stroke-width="1.9"/>
<text x="354.34" y="304.18" font-size="22.3" font-weight="bold" fill="#000" textLength="65.77" lengthAdjust="spacing">70,00</text>
<line x1="425.7" y1="203.95" x2="440.2" y2="203.95" stroke="#111" stroke-width="1.9"/>
<text x="354.59" y="212.55" font-size="22.3" font-weight="bold" fill="#000" textLength="65.52" lengthAdjust="spacing">80,00</text>
<line x1="425.7" y1="112.32" x2="440.2" y2="112.32" stroke="#111" stroke-width="1.9"/>
<text x="354.53" y="120.92" font-size="22.3" font-weight="bold" fill="#000" textLength="65.59" lengthAdjust="spacing">90,00</text>
<line x1="535.40" y1="692.9" x2="535.40" y2="707.4" stroke="#111" stroke-width="1.9"/>
<text x="503.51" y="730.40" font-size="22.3" font-weight="bold" fill="#000" textLength="65.75" lengthAdjust="spacing">40,00</text>
<line x1="672.76" y1="692.9" x2="672.76" y2="707.4" stroke="#111" stroke-width="1.9"/>
<text x="640.39" y="730.40" font-size="22.3" font-weight="bold" fill="#000" textLength="66.23" lengthAdjust="spacing">60,00</text>
<line x1="810.12" y1="692.9" x2="810.12" y2="707.4" stroke="#111" stroke-width="1.9"/>
<text x="777.86" y="730.40" font-size="22.3" font-weight="bold" fill="#000" textLength="66.12" lengthAdjust="spacing">80,00</text>
<line x1="947.48" y1="692.9" x2="947.48" y2="707.4" stroke="#111" stroke-width="1.9"/>
<text x="908.03" y="730.40" font-size="22.3" font-weight="bold" fill="#000" textLength="79.82" lengthAdjust="spacing">100,00</text>
<text x="561.28" y="767.20" font-size="24.2" font-weight="bold" fill="#000" textLength="307.35" lengthAdjust="spacing">RIGHT 4D FINGER MEAN</text>
<text transform="translate(339.10,537.82) rotate(-90)" x="0" y="0" font-size="24.2" font-weight="bold" textLength="307.35" lengthAdjust="spacing">RIGHT 2D FINGER MEAN</text>
<circle cx="464.8" cy="97.7" r="6.4" fill="#3e58af"/>
<circle cx="464.8" cy="119.4" r="6.4" fill="#ba407e"/>
<text x="480.03" y="106.30" font-size="17.5" font-weight="bold" fill="#000" textLength="73.13" lengthAdjust="spacing">MALE: R</text>
<text transform="translate(553.45,99.80) scale(1.028,1)" font-size="12.60" font-weight="normal" fill="#000">2</text>
<text x="564.23" y="106.30" font-size="17.5" font-weight="bold" fill="#000" textLength="131.60" lengthAdjust="spacing">Linear = 0,886</text>
<text x="479.73" y="127.10" font-size="17.5" font-weight="bold" fill="#000" textLength="95.13" lengthAdjust="spacing">FEMALE: R</text>
<text transform="translate(575.35,120.60) scale(1.028,1)" font-size="12.60" font-weight="normal" fill="#000">2</text>
<text x="585.93" y="127.10" font-size="17.5" font-weight="bold" fill="#000" textLength="130.99" lengthAdjust="spacing">Linear = 0,850</text>
<text transform="translate(437.62,47.73) scale(0.919,1)" font-size="58.59" font-weight="bold" fill="#000">a</text>
<rect x="617.0" y="335.4" width="141.8" height="27.8" fill="#fff" stroke="#ba407e" stroke-width="1.5"/>
<text x="621.16" y="355.90" font-size="18.2" font-weight="normal" fill="#000" textLength="130.34" lengthAdjust="spacing">y=2,64+0,94*x</text>
<rect x="617.0" y="374.3" width="142.6" height="27.7" fill="#fff" stroke="#3e58af" stroke-width="1.5"/>
<text x="621.16" y="394.70" font-size="18.2" font-weight="normal" fill="#000" textLength="131.14" lengthAdjust="spacing">y=1,45+0,94*x</text>
</g>
<g transform="translate(698.2,0)">
<clipPath id="clipb"><rect x="440.2" y="82.5" width="534.0999999999999" height="610.4"/></clipPath>
<g clip-path="url(#clipb)">
<g transform="translate(-698.2,0)">
<polygon points="1241.4,578.0 1241.5,577.9 1244.1,571.6 1244.5,570.7 1245.0,569.8 1245.5,569.0 1246.2,568.2 1246.9,567.5 1247.7,566.9 1254.4,561.8 1255.3,561.2 1256.3,560.7 1257.2,560.3 1258.3,560.0 1259.3,559.8 1260.4,559.7 1261.5,559.7 1262.6,559.8 1267.0,560.4 1266.8,559.2 1266.9,557.9 1267.1,556.7 1270.4,539.9 1270.7,538.8 1271.1,537.7 1271.6,536.8 1272.1,535.8 1272.8,534.9 1273.6,534.1 1274.4,533.4 1275.3,532.7 1276.3,532.2 1277.3,531.7 1278.3,531.4 1279.4,531.2 1280.5,531.0 1281.6,531.0 1282.7,531.1 1283.8,531.3 1284.9,531.6 1285.9,532.1 1286.9,532.6 1288.8,533.7 1290.7,525.9 1291.1,524.8 1291.5,523.8 1292.0,522.8 1292.6,521.9 1293.3,521.1 1294.1,520.3 1295.0,519.6 1295.9,519.0 1296.9,518.5 1297.9,518.1 1305.0,515.8 1309.7,509.9 1310.4,509.1 1311.2,508.3 1312.1,507.6 1317.4,504.1 1317.4,499.9 1317.4,498.9 1317.5,497.9 1317.8,496.9 1318.1,495.9 1318.6,494.9 1319.1,494.0 1319.7,493.2 1320.4,492.4 1321.1,491.7 1334.3,480.1 1339.1,475.3 1339.8,474.7 1340.5,474.1 1349.3,467.8 1351.6,461.1 1352.0,460.1 1352.4,459.2 1353.0,458.3 1353.6,457.5 1354.4,456.7 1355.1,456.0 1363.6,449.3 1364.4,448.7 1365.2,448.1 1366.2,447.7 1367.1,447.4 1368.1,447.1 1369.1,446.9 1374.2,446.3 1374.7,442.8 1374.9,441.7 1375.2,440.7 1375.7,439.6 1376.2,438.7 1376.8,437.7 1377.5,436.9 1378.3,436.1 1379.2,435.4 1389.8,427.8 1396.7,419.6 1403.0,408.6 1403.6,407.7 1404.3,406.8 1405.1,406.0 1405.9,405.3 1406.9,404.6 1421.3,396.0 1432.9,376.7 1432.4,376.1 1431.8,375.2 1431.3,374.3 1430.8,373.3 1430.5,372.3 1430.3,371.2 1430.1,370.1 1430.1,369.0 1430.2,367.9 1430.4,366.8 1430.7,365.8 1431.1,364.8 1431.6,363.8 1432.2,362.9 1432.9,362.0 1433.7,361.3 1434.5,360.6 1441.2,355.5 1442.1,355.0 1442.9,354.5 1449.3,351.3 1451.1,346.8 1451.6,345.8 1452.1,344.8 1452.8,343.9 1453.5,343.1 1454.3,342.3 1455.2,341.7 1465.3,335.0 1474.5,328.8 1481.2,322.1 1483.2,318.8 1482.6,316.5 1482.4,315.5 1482.3,314.6 1482.3,313.6 1482.4,312.6 1482.5,311.6 1484.2,303.2 1484.5,302.2 1484.8,301.2 1485.3,300.2 1485.8,299.3 1486.5,298.4 1487.2,297.6 1488.0,296.9 1488.9,296.2 1499.0,289.5 1509.1,282.8 1519.2,276.0 1520.3,275.4 1520.9,275.1 1519.4,263.0 1519.3,261.9 1519.4,260.7 1519.5,259.6 1519.8,258.5 1520.1,257.5 1520.6,256.5 1521.2,255.5 1521.9,254.6 1522.6,253.8 1523.5,253.0 1527.8,249.6 1527.8,248.1 1527.8,247.2 1527.9,246.3 1529.6,236.2 1529.8,235.1 1530.2,234.1 1530.6,233.0 1531.2,232.1 1531.9,231.1 1532.6,230.3 1533.5,229.5 1534.4,228.9 1535.3,228.3 1536.4,227.8 1539.8,226.5 1538.2,224.2 1537.6,223.3 1537.1,222.4 1536.8,221.4 1536.5,220.3 1536.3,219.3 1536.2,218.2 1536.2,217.1 1536.3,216.0 1536.6,215.0 1536.9,214.0 1537.3,213.0 1537.8,212.0 1538.5,211.1 1539.2,210.3 1539.9,209.6 1540.8,208.9 1549.9,202.3 1552.1,196.9 1552.6,195.9 1553.1,195.0 1553.8,194.1 1554.5,193.3 1555.3,192.6 1557.0,191.1 1556.8,190.7 1556.6,189.6 1556.4,188.5 1556.4,187.5 1556.4,186.4 1556.6,185.3 1556.9,184.2 1557.3,183.2 1560.8,175.0 1558.5,167.0 1558.2,166.0 1558.1,164.9 1558.1,163.8 1558.1,162.8 1558.3,161.7 1558.6,160.7 1558.9,159.7 1559.4,158.7 1560.0,157.8 1560.6,156.9 1560.6,156.9 1560.5,157.0 1547.7,163.4 1538.1,169.8 1537.3,170.3 1536.4,170.7 1535.5,171.0 1534.5,171.3 1533.6,171.5 1522.8,173.0 1521.1,173.6 1514.5,180.2 1513.6,181.0 1505.2,187.7 1504.0,188.6 1496.8,192.9 1486.8,202.9 1479.3,214.8 1474.5,224.4 1474.0,225.4 1473.4,226.3 1472.7,227.1 1471.9,227.8 1471.0,228.5 1470.1,229.1 1469.2,229.6 1468.1,230.0 1467.1,230.3 1466.0,230.4 1459.5,231.3 1458.3,234.8 1457.9,235.7 1457.5,236.6 1457.0,237.4 1450.3,247.5 1449.6,248.4 1448.8,249.3 1448.0,250.0 1447.0,250.7 1446.0,251.3 1443.4,252.6 1441.4,258.4 1441.1,259.3 1440.6,260.3 1440.1,261.1 1439.4,262.0 1438.7,262.7 1437.9,263.4 1437.1,264.0 1428.4,269.8 1422.8,276.9 1422.0,277.7 1421.2,278.5 1411.1,286.9 1403.6,293.1 1401.2,301.7 1400.8,302.8 1400.3,303.8 1399.7,304.8 1399.1,305.7 1392.6,313.4 1391.4,322.1 1391.2,323.2 1390.8,324.3 1390.4,325.3 1389.9,326.3 1389.2,327.3 1388.5,328.1 1387.7,328.9 1377.2,337.9 1365.2,357.4 1347.1,406.1 1346.7,407.1 1346.2,408.0 1345.6,408.9 1344.9,409.7 1344.1,410.5 1343.3,411.1 1342.4,411.7 1334.0,416.8 1333.1,417.3 1332.1,417.7 1331.0,418.0 1326.4,419.2 1326.3,419.2 1327.5,433.4 1327.6,434.6 1327.5,435.8 1327.2,436.9 1325.6,443.7 1325.2,444.7 1324.8,445.7 1324.3,446.7 1323.7,447.6 1323.0,448.4 1322.3,449.2 1321.4,449.8 1320.5,450.4 1319.6,451.0 1318.6,451.4 1317.6,451.7 1310.8,453.4 1310.0,453.5 1310.7,460.1 1310.7,461.2 1310.7,462.3 1310.5,463.3 1310.3,464.4 1309.9,465.4 1309.4,466.4 1308.9,467.3 1308.2,468.2 1307.5,469.0 1302.0,474.5 1297.8,483.0 1297.2,484.0 1296.5,484.9 1295.7,485.8 1290.8,490.7 1288.6,497.3 1287.1,511.2 1286.9,512.3 1286.6,513.4 1286.3,514.4 1285.8,515.3 1285.2,516.3 1284.6,517.1 1283.8,517.9 1283.0,518.6 1274.6,525.4 1273.4,526.2 1268.9,528.9 1264.9,544.7 1264.7,545.6 1264.3,546.6 1263.8,547.4 1263.3,548.3 1262.7,549.1 1262.1,549.8 1246.9,564.9 1245.9,565.8 1244.8,566.6 1241.7,568.5 1241.7,575.7 1241.7,576.7 1241.5,577.7 1241.4,578.0" fill="#3e58af"/>
<g fill="#3e58af"><circle cx="1234.6" cy="588.2" r="6.3"/><circle cx="1239.3" cy="585.2" r="6.3"/><circle cx="1245.0" cy="579.6" r="6.3"/><circle cx="1248.7" cy="574.8" r="6.3"/><circle cx="1252.1" cy="568.9" r="6.3"/><circle cx="1258.0" cy="565.5" r="6.3"/><circle cx="1272.4" cy="565.7" r="6.3"/><circle cx="1271.7" cy="556.9" r="6.3"/><circle cx="1272.7" cy="549.5" r="6.3"/><circle cx="1273.9" cy="544.0" r="6.3"/><circle cx="1276.2" cy="537.6" r="6.3"/><circle cx="1290.4" cy="538.1" r="6.3"/><circle cx="1293.8" cy="532.1" r="6.3"/><circle cx="1295.6" cy="527.2" r="6.3"/><circle cx="1300.8" cy="522.5" r="6.3"/><circle cx="1307.7" cy="519.2" r="6.3"/><circle cx="1311.5" cy="514.7" r="6.3"/><circle cx="1317.7" cy="508.8" r="6.3"/><circle cx="1322.6" cy="505.2" r="6.3"/><circle cx="1321.9" cy="496.6" r="6.3"/><circle cx="1327.8" cy="491.7" r="6.3"/><circle cx="1333.1" cy="487.0" r="6.3"/><circle cx="1338.3" cy="482.8" r="6.3"/><circle cx="1344.7" cy="477.0" r="6.3"/><circle cx="1351.0" cy="474.2" r="6.3"/><circle cx="1353.6" cy="466.4" r="6.3"/><circle cx="1362.9" cy="455.2" r="6.3"/><circle cx="1376.6" cy="450.7" r="6.3"/><circle cx="1381.1" cy="440.2" r="6.3"/><circle cx="1386.7" cy="434.0" r="6.3"/><circle cx="1393.0" cy="430.1" r="6.3"/><circle cx="1398.9" cy="426.0" r="6.3"/><circle cx="1401.8" cy="418.9" r="6.3"/><circle cx="1404.9" cy="414.2" r="6.3"/><circle cx="1409.9" cy="407.2" r="6.3"/><circle cx="1422.7" cy="400.1" r="6.3"/><circle cx="1427.0" cy="395.2" r="6.3"/><circle cx="1432.4" cy="388.8" r="6.3"/><circle cx="1435.9" cy="382.5" r="6.3"/><circle cx="1439.6" cy="375.4" r="6.3"/><circle cx="1434.7" cy="371.3" r="6.3"/><circle cx="1436.8" cy="363.9" r="6.3"/><circle cx="1448.8" cy="356.3" r="6.3"/><circle cx="1454.0" cy="352.2" r="6.3"/><circle cx="1465.2" cy="342.0" r="6.3"/><circle cx="1469.5" cy="337.5" r="6.3"/><circle cx="1480.6" cy="328.0" r="6.3"/><circle cx="1485.8" cy="321.6" r="6.3"/><circle cx="1487.8" cy="315.8" r="6.3"/><circle cx="1488.5" cy="309.0" r="6.3"/><circle cx="1489.8" cy="300.9" r="6.3"/><circle cx="1525.1" cy="277.0" r="6.3"/><circle cx="1524.9" cy="271.2" r="6.3"/><circle cx="1525.8" cy="256.9" r="6.3"/><circle cx="1532.4" cy="251.3" r="6.3"/><circle cx="1533.1" cy="246.1" r="6.3"/><circle cx="1533.5" cy="237.3" r="6.3"/><circle cx="1537.6" cy="233.6" r="6.3"/><circle cx="1544.6" cy="229.9" r="6.3"/><circle cx="1541.4" cy="217.7" r="6.3"/><circle cx="1543.4" cy="212.0" r="6.3"/><circle cx="1555.5" cy="203.6" r="6.3"/><circle cx="1564.7" cy="177.8" r="6.3"/><circle cx="1562.4" cy="163.5" r="6.3"/><circle cx="1567.1" cy="157.1" r="6.3"/><circle cx="1562.5" cy="151.4" r="6.3"/><circle cx="1556.2" cy="155.1" r="6.3"/><circle cx="1548.9" cy="158.5" r="6.3"/><circle cx="1541.4" cy="162.0" r="6.3"/><circle cx="1529.6" cy="166.8" r="6.3"/><circle cx="1522.6" cy="167.9" r="6.3"/><circle cx="1517.2" cy="171.7" r="6.3"/><circle cx="1506.0" cy="181.3" r="6.3"/><circle cx="1500.2" cy="187.0" r="6.3"/><circle cx="1493.0" cy="188.9" r="6.3"/><circle cx="1487.8" cy="195.1" r="6.3"/><circle cx="1474.5" cy="211.3" r="6.3"/><circle cx="1473.0" cy="219.2" r="6.3"/><circle cx="1460.6" cy="225.9" r="6.3"/><circle cx="1454.7" cy="228.7" r="6.3"/><circle cx="1453.2" cy="236.2" r="6.3"/><circle cx="1437.6" cy="251.1" r="6.3"/><circle cx="1435.7" cy="258.2" r="6.3"/><circle cx="1429.6" cy="263.6" r="6.3"/><circle cx="1423.6" cy="266.5" r="6.3"/><circle cx="1419.7" cy="271.9" r="6.3"/><circle cx="1414.2" cy="278.2" r="6.3"/><circle cx="1409.2" cy="282.6" r="6.3"/><circle cx="1403.5" cy="286.2" r="6.3"/><circle cx="1398.4" cy="291.4" r="6.3"/><circle cx="1396.6" cy="300.0" r="6.3"/><circle cx="1388.7" cy="311.9" r="6.3"/><circle cx="1386.5" cy="317.5" r="6.3"/><circle cx="1385.4" cy="325.5" r="6.3"/><circle cx="1379.4" cy="330.6" r="6.3"/><circle cx="1374.9" cy="335.4" r="6.3"/><circle cx="1369.7" cy="339.7" r="6.3"/><circle cx="1367.1" cy="347.4" r="6.3"/><circle cx="1362.8" cy="352.9" r="6.3"/><circle cx="1358.5" cy="359.7" r="6.3"/><circle cx="1357.4" cy="366.3" r="6.3"/><circle cx="1353.5" cy="373.1" r="6.3"/><circle cx="1351.8" cy="379.8" r="6.3"/><circle cx="1348.1" cy="387.0" r="6.3"/><circle cx="1344.3" cy="400.6" r="6.3"/><circle cx="1341.2" cy="406.3" r="6.3"/><circle cx="1320.4" cy="417.7" r="6.3"/><circle cx="1321.5" cy="423.6" r="6.3"/><circle cx="1322.9" cy="431.6" r="6.3"/><circle cx="1318.4" cy="445.2" r="6.3"/><circle cx="1313.3" cy="448.4" r="6.3"/><circle cx="1306.1" cy="456.1" r="6.3"/><circle cx="1305.1" cy="462.2" r="6.3"/><circle cx="1301.5" cy="469.1" r="6.3"/><circle cx="1295.5" cy="474.6" r="6.3"/><circle cx="1293.8" cy="481.1" r="6.3"/><circle cx="1289.2" cy="485.4" r="6.3"/><circle cx="1284.9" cy="493.2" r="6.3"/><circle cx="1282.6" cy="498.6" r="6.3"/><circle cx="1284.0" cy="507.8" r="6.3"/><circle cx="1282.2" cy="514.6" r="6.3"/><circle cx="1274.9" cy="519.3" r="6.3"/><circle cx="1270.6" cy="523.8" r="6.3"/><circle cx="1265.6" cy="526.4" r="6.3"/><circle cx="1263.3" cy="533.6" r="6.3"/><circle cx="1260.3" cy="541.1" r="6.3"/><circle cx="1257.7" cy="548.5" r="6.3"/><circle cx="1253.0" cy="552.2" r="6.3"/><circle cx="1248.2" cy="557.4" r="6.3"/><circle cx="1241.4" cy="563.3" r="6.3"/><circle cx="1236.4" cy="566.7" r="6.3"/><circle cx="1237.7" cy="576.1" r="6.3"/><circle cx="1548.6" cy="156.8" r="6.3"/><circle cx="1557.7" cy="158.0" r="6.3"/><circle cx="1561.7" cy="157.2" r="6.3"/><circle cx="1539.4" cy="163.9" r="6.3"/><circle cx="1546.2" cy="166.2" r="6.3"/><circle cx="1561.3" cy="163.2" r="6.3"/><circle cx="1524.9" cy="171.7" r="6.3"/><circle cx="1564.7" cy="176.6" r="6.3"/><circle cx="1562.1" cy="187.3" r="6.3"/><circle cx="1558.3" cy="192.8" r="6.3"/><circle cx="1552.8" cy="199.8" r="6.3"/><circle cx="1483.4" cy="208.0" r="6.3"/><circle cx="1547.0" cy="205.2" r="6.3"/><circle cx="1478.8" cy="212.9" r="6.3"/><circle cx="1539.6" cy="212.9" r="6.3"/><circle cx="1469.9" cy="218.2" r="6.3"/><circle cx="1540.6" cy="219.6" r="6.3"/><circle cx="1457.9" cy="225.8" r="6.3"/><circle cx="1456.4" cy="231.9" r="6.3"/><circle cx="1529.3" cy="242.6" r="6.3"/><circle cx="1447.5" cy="248.0" r="6.3"/><circle cx="1439.9" cy="256.1" r="6.3"/><circle cx="1525.2" cy="255.9" r="6.3"/><circle cx="1433.6" cy="261.9" r="6.3"/><circle cx="1518.0" cy="260.6" r="6.3"/><circle cx="1425.5" cy="267.9" r="6.3"/><circle cx="1521.6" cy="267.8" r="6.3"/><circle cx="1424.6" cy="275.2" r="6.3"/><circle cx="1522.6" cy="274.0" r="6.3"/><circle cx="1416.8" cy="283.1" r="6.3"/><circle cx="1512.1" cy="281.5" r="6.3"/><circle cx="1408.7" cy="289.7" r="6.3"/><circle cx="1494.8" cy="297.0" r="6.3"/><circle cx="1400.7" cy="302.5" r="6.3"/><circle cx="1393.8" cy="310.9" r="6.3"/><circle cx="1486.0" cy="308.9" r="6.3"/><circle cx="1483.5" cy="318.9" r="6.3"/><circle cx="1389.7" cy="324.9" r="6.3"/><circle cx="1477.0" cy="329.8" r="6.3"/><circle cx="1454.0" cy="343.5" r="6.3"/><circle cx="1359.6" cy="359.0" r="6.3"/><circle cx="1435.4" cy="357.9" r="6.3"/><circle cx="1443.1" cy="359.6" r="6.3"/><circle cx="1352.8" cy="387.6" r="6.3"/><circle cx="1427.8" cy="386.7" r="6.3"/><circle cx="1347.3" cy="394.6" r="6.3"/><circle cx="1414.0" cy="400.7" r="6.3"/><circle cx="1422.2" cy="400.7" r="6.3"/><circle cx="1345.3" cy="408.4" r="6.3"/><circle cx="1407.5" cy="407.3" r="6.3"/><circle cx="1331.3" cy="415.7" r="6.3"/><circle cx="1338.9" cy="412.9" r="6.3"/><circle cx="1399.5" cy="414.5" r="6.3"/><circle cx="1323.2" cy="419.7" r="6.3"/><circle cx="1324.5" cy="429.9" r="6.3"/><circle cx="1396.6" cy="427.5" r="6.3"/><circle cx="1380.7" cy="435.6" r="6.3"/><circle cx="1324.4" cy="440.5" r="6.3"/><circle cx="1321.0" cy="447.1" r="6.3"/><circle cx="1368.7" cy="448.5" r="6.3"/><circle cx="1377.5" cy="447.6" r="6.3"/><circle cx="1309.8" cy="457.1" r="6.3"/><circle cx="1305.6" cy="460.8" r="6.3"/><circle cx="1355.0" cy="463.3" r="6.3"/><circle cx="1307.2" cy="470.8" r="6.3"/><circle cx="1348.6" cy="469.0" r="6.3"/><circle cx="1336.4" cy="476.3" r="6.3"/><circle cx="1292.6" cy="483.3" r="6.3"/><circle cx="1335.2" cy="482.0" r="6.3"/><circle cx="1291.9" cy="490.0" r="6.3"/><circle cx="1287.7" cy="497.3" r="6.3"/><circle cx="1288.0" cy="502.7" r="6.3"/><circle cx="1289.0" cy="509.5" r="6.3"/><circle cx="1308.9" cy="509.3" r="6.3"/><circle cx="1308.7" cy="516.3" r="6.3"/><circle cx="1268.0" cy="524.4" r="6.3"/><circle cx="1281.4" cy="531.0" r="6.3"/><circle cx="1287.2" cy="532.5" r="6.3"/><circle cx="1268.5" cy="536.9" r="6.3"/><circle cx="1273.8" cy="539.7" r="6.3"/><circle cx="1265.1" cy="546.2" r="6.3"/><circle cx="1252.9" cy="550.8" r="6.3"/><circle cx="1260.3" cy="553.4" r="6.3"/><circle cx="1266.0" cy="551.1" r="6.3"/><circle cx="1253.8" cy="558.2" r="6.3"/><circle cx="1258.8" cy="558.0" r="6.3"/><circle cx="1268.5" cy="557.9" r="6.3"/><circle cx="1245.8" cy="565.1" r="6.3"/><circle cx="1252.6" cy="567.4" r="6.3"/><circle cx="1239.7" cy="574.2" r="6.3"/><circle cx="1242.7" cy="572.7" r="6.3"/><circle cx="1233.6" cy="587.4" r="6.3"/></g>
<polygon points="1252.9,554.7 1259.7,554.7 1260.4,553.4 1261.0,545.4 1260.8,545.8 1260.3,546.5 1259.8,547.1 1252.9,554.7" fill="#ba407e"/>
<polygon points="1279.3,520.9 1279.9,521.2 1280.6,521.7 1281.3,522.2 1281.9,522.9 1282.5,523.6 1282.9,524.3 1283.3,525.1 1283.7,525.9 1283.9,526.7 1284.1,527.6 1284.8,532.3 1290.5,535.6 1290.5,535.5 1290.6,534.6 1290.8,533.6 1291.0,532.7 1294.1,523.3 1294.4,522.5 1294.8,521.7 1295.3,521.0 1295.8,520.4 1296.4,519.7 1297.0,519.2 1297.7,518.7 1299.4,517.5 1300.7,507.7 1300.8,506.8 1301.1,506.0 1301.4,505.2 1301.8,504.4 1308.1,493.3 1308.6,492.6 1309.1,491.9 1309.8,491.2 1310.4,490.6 1311.2,490.1 1311.9,489.7 1312.8,489.4 1323.8,485.2 1329.2,478.5 1329.8,477.7 1337.8,469.7 1338.5,469.2 1339.1,468.7 1339.9,468.2 1340.6,467.8 1341.4,467.5 1342.2,467.3 1343.1,467.2 1351.1,466.2 1352.9,459.9 1353.2,459.1 1353.5,458.3 1354.0,457.5 1354.5,456.8 1355.1,456.2 1355.7,455.6 1356.4,455.0 1357.1,454.6 1357.9,454.2 1358.7,453.8 1366.0,451.4 1371.4,445.0 1371.4,435.5 1371.4,434.6 1371.5,433.8 1371.7,432.9 1372.0,432.1 1372.4,431.3 1372.8,430.6 1373.3,429.8 1373.9,429.2 1374.5,428.6 1375.2,428.1 1376.0,427.6 1376.8,427.2 1377.6,426.9 1378.4,426.7 1390.7,424.0 1396.3,419.5 1400.4,409.8 1400.8,409.0 1401.3,408.3 1401.8,407.6 1402.3,407.0 1402.9,406.4 1412.1,398.8 1439.0,362.4 1440.2,352.9 1440.4,352.0 1440.6,351.2 1440.9,350.4 1441.3,349.6 1441.8,348.9 1442.3,348.2 1442.9,347.6 1443.6,347.0 1444.3,346.5 1445.0,346.0 1445.8,345.7 1446.6,345.4 1447.4,345.2 1448.3,345.1 1449.2,345.0 1457.3,345.0 1457.8,344.3 1460.7,334.0 1462.2,325.0 1462.4,324.2 1462.7,323.4 1463.0,322.6 1463.4,321.8 1463.9,321.1 1464.5,320.4 1465.1,319.8 1465.7,319.3 1466.5,318.8 1473.2,314.8 1479.9,306.7 1484.4,293.1 1484.8,292.2 1485.2,291.4 1485.8,290.6 1489.6,285.5 1490.9,277.4 1491.1,276.6 1491.4,275.7 1491.7,274.9 1496.2,265.9 1497.7,258.6 1498.0,257.5 1501.1,248.1 1501.4,247.3 1501.8,246.6 1502.2,245.8 1502.8,245.2 1503.3,244.5 1504.0,244.0 1504.6,243.5 1505.4,243.0 1506.1,242.7 1515.6,238.6 1522.0,231.0 1524.3,224.0 1523.0,216.0 1522.9,215.0 1522.9,214.0 1523.0,213.0 1524.6,203.5 1524.8,202.6 1525.1,201.7 1525.5,200.8 1525.9,200.0 1526.5,199.3 1533.8,190.6 1535.7,184.8 1534.7,182.7 1533.2,181.8 1529.9,185.2 1529.2,185.8 1528.5,186.3 1527.8,186.7 1527.0,187.1 1526.1,187.4 1525.3,187.6 1524.4,187.7 1523.6,187.8 1522.7,187.8 1521.8,187.6 1521.0,187.4 1520.1,187.1 1519.3,186.8 1518.6,186.3 1517.9,185.8 1516.9,185.0 1511.3,193.4 1508.1,198.2 1507.6,198.9 1507.0,199.6 1506.3,200.2 1505.6,200.7 1496.0,207.1 1489.7,211.9 1489.0,212.3 1488.3,212.7 1487.6,213.0 1486.8,213.3 1486.0,213.5 1479.2,214.8 1474.4,217.7 1472.0,226.2 1471.7,227.0 1471.4,227.8 1471.0,228.5 1470.5,229.2 1470.0,229.9 1469.4,230.4 1452.9,245.3 1452.6,245.5 1443.1,253.4 1436.9,261.2 1436.3,261.9 1426.3,271.8 1425.5,272.6 1424.6,273.2 1419.0,276.6 1418.1,280.0 1417.9,280.9 1417.5,281.8 1417.0,282.6 1409.0,295.6 1408.4,296.3 1407.9,297.0 1407.2,297.6 1406.5,298.1 1405.8,298.6 1395.5,304.5 1389.3,311.9 1388.0,321.0 1387.8,321.9 1387.6,322.8 1387.2,323.7 1386.8,324.5 1386.2,325.3 1385.6,326.0 1385.0,326.6 1374.5,335.6 1362.0,355.8 1344.0,404.3 1343.7,405.1 1343.2,405.9 1342.7,406.7 1342.1,407.3 1341.5,408.0 1340.8,408.5 1340.0,409.0 1339.2,409.4 1325.4,415.5 1322.4,417.8 1322.4,440.3 1322.3,441.2 1322.2,442.1 1322.0,442.9 1321.7,443.8 1321.3,444.6 1320.8,445.4 1320.3,446.1 1319.7,446.7 1319.0,447.3 1311.8,453.1 1311.1,453.6 1310.3,454.1 1309.5,454.4 1308.6,454.7 1307.7,454.9 1306.9,455.0 1306.0,455.1 1305.1,455.0 1305.0,455.0 1305.5,459.9 1305.5,460.8 1305.5,461.7 1305.3,462.6 1305.1,463.4 1304.8,464.3 1304.4,465.1 1304.0,465.8 1297.6,475.5 1291.2,485.1 1283.5,501.9 1282.0,515.4 1281.9,516.2 1281.6,517.1 1281.3,517.9 1281.0,518.7 1280.5,519.4 1280.0,520.1 1279.4,520.8 1279.3,520.9" fill="#ba407e"/>
<g fill="#ba407e"><circle cx="1234.6" cy="571.6" r="6.3"/><circle cx="1238.6" cy="566.0" r="6.3"/><circle cx="1236.4" cy="568.2" r="6.3"/><circle cx="1243.7" cy="559.6" r="6.3"/><circle cx="1252.0" cy="558.0" r="6.3"/><circle cx="1259.0" cy="557.0" r="6.3"/><circle cx="1262.0" cy="551.9" r="6.3"/><circle cx="1263.9" cy="546.1" r="6.3"/><circle cx="1264.0" cy="538.5" r="6.3"/><circle cx="1262.1" cy="536.2" r="6.3"/><circle cx="1259.8" cy="544.5" r="6.3"/><circle cx="1255.6" cy="549.2" r="6.3"/><circle cx="1249.7" cy="554.8" r="6.3"/><circle cx="1274.0" cy="523.6" r="6.3"/><circle cx="1281.1" cy="523.9" r="6.3"/><circle cx="1281.9" cy="530.9" r="6.3"/><circle cx="1287.9" cy="537.6" r="6.3"/><circle cx="1293.8" cy="538.0" r="6.3"/><circle cx="1293.8" cy="530.9" r="6.3"/><circle cx="1297.2" cy="524.6" r="6.3"/><circle cx="1301.6" cy="518.7" r="6.3"/><circle cx="1302.7" cy="512.3" r="6.3"/><circle cx="1303.4" cy="505.4" r="6.3"/><circle cx="1308.7" cy="497.9" r="6.3"/><circle cx="1312.5" cy="493.3" r="6.3"/><circle cx="1318.3" cy="490.6" r="6.3"/><circle cx="1325.1" cy="487.6" r="6.3"/><circle cx="1329.4" cy="481.7" r="6.3"/><circle cx="1335.3" cy="475.2" r="6.3"/><circle cx="1339.7" cy="471.0" r="6.3"/><circle cx="1346.1" cy="470.1" r="6.3"/><circle cx="1353.9" cy="467.1" r="6.3"/><circle cx="1355.9" cy="461.7" r="6.3"/><circle cx="1359.7" cy="455.8" r="6.3"/><circle cx="1368.7" cy="454.7" r="6.3"/><circle cx="1372.7" cy="447.6" r="6.3"/><circle cx="1373.5" cy="442.2" r="6.3"/><circle cx="1373.2" cy="435.5" r="6.3"/><circle cx="1379.0" cy="429.1" r="6.3"/><circle cx="1385.3" cy="426.7" r="6.3"/><circle cx="1393.9" cy="425.6" r="6.3"/><circle cx="1397.5" cy="420.8" r="6.3"/><circle cx="1401.3" cy="414.5" r="6.3"/><circle cx="1403.8" cy="407.4" r="6.3"/><circle cx="1411.1" cy="403.5" r="6.3"/><circle cx="1416.2" cy="397.6" r="6.3"/><circle cx="1419.3" cy="393.2" r="6.3"/><circle cx="1423.6" cy="387.3" r="6.3"/><circle cx="1427.6" cy="382.2" r="6.3"/><circle cx="1433.1" cy="374.6" r="6.3"/><circle cx="1438.0" cy="369.6" r="6.3"/><circle cx="1442.4" cy="364.7" r="6.3"/><circle cx="1441.8" cy="356.9" r="6.3"/><circle cx="1445.2" cy="349.2" r="6.3"/><circle cx="1451.8" cy="347.8" r="6.3"/><circle cx="1459.4" cy="348.0" r="6.3"/><circle cx="1461.9" cy="341.2" r="6.3"/><circle cx="1463.2" cy="333.9" r="6.3"/><circle cx="1465.2" cy="327.2" r="6.3"/><circle cx="1468.2" cy="320.9" r="6.3"/><circle cx="1475.4" cy="317.7" r="6.3"/><circle cx="1479.7" cy="313.1" r="6.3"/><circle cx="1483.7" cy="306.9" r="6.3"/><circle cx="1484.6" cy="299.3" r="6.3"/><circle cx="1489.1" cy="291.5" r="6.3"/><circle cx="1491.2" cy="285.6" r="6.3"/><circle cx="1492.6" cy="279.1" r="6.3"/><circle cx="1494.7" cy="273.0" r="6.3"/><circle cx="1499.1" cy="265.3" r="6.3"/><circle cx="1499.8" cy="257.8" r="6.3"/><circle cx="1502.6" cy="251.2" r="6.3"/><circle cx="1505.3" cy="246.1" r="6.3"/><circle cx="1512.6" cy="241.8" r="6.3"/><circle cx="1517.7" cy="238.5" r="6.3"/><circle cx="1523.9" cy="233.7" r="6.3"/><circle cx="1525.1" cy="226.7" r="6.3"/><circle cx="1527.4" cy="219.1" r="6.3"/><circle cx="1525.9" cy="213.5" r="6.3"/><circle cx="1527.0" cy="204.5" r="6.3"/><circle cx="1530.8" cy="198.7" r="6.3"/><circle cx="1534.8" cy="194.6" r="6.3"/><circle cx="1537.6" cy="187.8" r="6.3"/><circle cx="1535.6" cy="179.5" r="6.3"/><circle cx="1530.1" cy="179.9" r="6.3"/><circle cx="1526.2" cy="184.8" r="6.3"/><circle cx="1519.5" cy="182.4" r="6.3"/><circle cx="1513.4" cy="184.1" r="6.3"/><circle cx="1508.6" cy="190.3" r="6.3"/><circle cx="1504.8" cy="198.0" r="6.3"/><circle cx="1500.3" cy="201.5" r="6.3"/><circle cx="1493.5" cy="205.2" r="6.3"/><circle cx="1487.8" cy="209.7" r="6.3"/><circle cx="1482.4" cy="210.6" r="6.3"/><circle cx="1475.2" cy="214.9" r="6.3"/><circle cx="1470.4" cy="219.6" r="6.3"/><circle cx="1468.1" cy="226.2" r="6.3"/><circle cx="1463.4" cy="231.0" r="6.3"/><circle cx="1457.6" cy="236.4" r="6.3"/><circle cx="1452.7" cy="240.7" r="6.3"/><circle cx="1447.4" cy="247.6" r="6.3"/><circle cx="1442.2" cy="250.6" r="6.3"/><circle cx="1436.7" cy="257.8" r="6.3"/><circle cx="1431.4" cy="262.8" r="6.3"/><circle cx="1428.1" cy="266.6" r="6.3"/><circle cx="1421.1" cy="272.8" r="6.3"/><circle cx="1415.4" cy="276.1" r="6.3"/><circle cx="1414.0" cy="282.5" r="6.3"/><circle cx="1408.8" cy="289.5" r="6.3"/><circle cx="1406.6" cy="294.1" r="6.3"/><circle cx="1400.4" cy="299.5" r="6.3"/><circle cx="1393.8" cy="302.0" r="6.3"/><circle cx="1387.9" cy="308.2" r="6.3"/><circle cx="1386.4" cy="313.8" r="6.3"/><circle cx="1386.0" cy="321.0" r="6.3"/><circle cx="1380.9" cy="327.3" r="6.3"/><circle cx="1375.6" cy="331.4" r="6.3"/><circle cx="1371.3" cy="336.9" r="6.3"/><circle cx="1365.4" cy="343.3" r="6.3"/><circle cx="1362.1" cy="349.1" r="6.3"/><circle cx="1359.9" cy="356.0" r="6.3"/><circle cx="1356.8" cy="364.1" r="6.3"/><circle cx="1355.0" cy="370.2" r="6.3"/><circle cx="1351.9" cy="376.2" r="6.3"/><circle cx="1348.2" cy="384.2" r="6.3"/><circle cx="1345.6" cy="390.5" r="6.3"/><circle cx="1344.6" cy="397.3" r="6.3"/><circle cx="1340.6" cy="402.8" r="6.3"/><circle cx="1335.9" cy="407.2" r="6.3"/><circle cx="1328.9" cy="411.5" r="6.3"/><circle cx="1322.7" cy="414.2" r="6.3"/><circle cx="1319.4" cy="420.7" r="6.3"/><circle cx="1319.0" cy="427.9" r="6.3"/><circle cx="1319.2" cy="434.0" r="6.3"/><circle cx="1319.8" cy="441.7" r="6.3"/><circle cx="1313.8" cy="446.0" r="6.3"/><circle cx="1308.4" cy="452.1" r="6.3"/><circle cx="1302.8" cy="450.2" r="6.3"/><circle cx="1302.3" cy="458.2" r="6.3"/><circle cx="1301.0" cy="464.3" r="6.3"/><circle cx="1296.9" cy="471.7" r="6.3"/><circle cx="1292.4" cy="478.1" r="6.3"/><circle cx="1288.8" cy="482.1" r="6.3"/><circle cx="1287.2" cy="490.3" r="6.3"/><circle cx="1283.7" cy="495.9" r="6.3"/><circle cx="1279.6" cy="503.6" r="6.3"/><circle cx="1280.2" cy="510.0" r="6.3"/><circle cx="1277.5" cy="518.0" r="6.3"/><circle cx="1531.9" cy="182.8" r="6.3"/><circle cx="1536.4" cy="186.5" r="6.3"/><circle cx="1533.1" cy="190.7" r="6.3"/><circle cx="1505.1" cy="200.4" r="6.3"/><circle cx="1496.1" cy="206.3" r="6.3"/><circle cx="1480.2" cy="213.0" r="6.3"/><circle cx="1485.4" cy="213.9" r="6.3"/><circle cx="1522.5" cy="218.2" r="6.3"/><circle cx="1523.7" cy="227.3" r="6.3"/><circle cx="1467.4" cy="231.4" r="6.3"/><circle cx="1522.9" cy="232.3" r="6.3"/><circle cx="1460.7" cy="240.3" r="6.3"/><circle cx="1514.2" cy="241.7" r="6.3"/><circle cx="1449.9" cy="245.2" r="6.3"/><circle cx="1441.5" cy="254.8" r="6.3"/><circle cx="1429.3" cy="269.8" r="6.3"/><circle cx="1421.1" cy="275.5" r="6.3"/><circle cx="1418.2" cy="283.1" r="6.3"/><circle cx="1411.5" cy="287.1" r="6.3"/><circle cx="1396.4" cy="303.8" r="6.3"/><circle cx="1479.6" cy="311.3" r="6.3"/><circle cx="1390.7" cy="315.8" r="6.3"/><circle cx="1471.8" cy="315.8" r="6.3"/><circle cx="1388.7" cy="324.7" r="6.3"/><circle cx="1462.6" cy="322.5" r="6.3"/><circle cx="1382.7" cy="332.1" r="6.3"/><circle cx="1461.6" cy="338.1" r="6.3"/><circle cx="1449.6" cy="345.9" r="6.3"/><circle cx="1454.7" cy="343.2" r="6.3"/><circle cx="1439.1" cy="358.5" r="6.3"/><circle cx="1436.7" cy="363.0" r="6.3"/><circle cx="1356.3" cy="373.2" r="6.3"/><circle cx="1431.3" cy="372.0" r="6.3"/><circle cx="1424.9" cy="383.8" r="6.3"/><circle cx="1345.0" cy="393.7" r="6.3"/><circle cx="1415.4" cy="390.9" r="6.3"/><circle cx="1403.7" cy="408.0" r="6.3"/><circle cx="1325.1" cy="411.5" r="6.3"/><circle cx="1401.6" cy="415.4" r="6.3"/><circle cx="1394.5" cy="421.2" r="6.3"/><circle cx="1322.8" cy="427.7" r="6.3"/><circle cx="1379.3" cy="427.3" r="6.3"/><circle cx="1321.9" cy="436.2" r="6.3"/><circle cx="1370.9" cy="434.1" r="6.3"/><circle cx="1371.3" cy="439.3" r="6.3"/><circle cx="1366.8" cy="447.9" r="6.3"/><circle cx="1356.1" cy="456.4" r="6.3"/><circle cx="1304.5" cy="461.6" r="6.3"/><circle cx="1351.1" cy="463.7" r="6.3"/><circle cx="1299.4" cy="470.8" r="6.3"/><circle cx="1341.8" cy="468.0" r="6.3"/><circle cx="1347.9" cy="469.1" r="6.3"/><circle cx="1293.7" cy="483.3" r="6.3"/><circle cx="1327.1" cy="483.4" r="6.3"/><circle cx="1289.6" cy="490.2" r="6.3"/><circle cx="1314.5" cy="489.0" r="6.3"/><circle cx="1282.9" cy="497.8" r="6.3"/><circle cx="1302.1" cy="512.2" r="6.3"/><circle cx="1280.7" cy="515.6" r="6.3"/><circle cx="1298.3" cy="524.1" r="6.3"/><circle cx="1292.3" cy="529.9" r="6.3"/><circle cx="1290.7" cy="536.5" r="6.3"/><circle cx="1253.3" cy="553.5" r="6.3"/></g>
<circle cx="1569.1" cy="112.6" r="6.3" fill="#3e58af"/>
<circle cx="1562.3" cy="144.6" r="6.3" fill="#3e58af"/>
<circle cx="1577.5" cy="152.2" r="6.3" fill="#3e58af"/>
<circle cx="1483.2" cy="192.6" r="6.3" fill="#3e58af"/>
<circle cx="1469.7" cy="202.7" r="6.3" fill="#3e58af"/>
<circle cx="1555.6" cy="231.3" r="6.3" fill="#3e58af"/>
<circle cx="1538.8" cy="251.5" r="6.3" fill="#3e58af"/>
<circle cx="1527.0" cy="283.5" r="6.3" fill="#3e58af"/>
<circle cx="1399.0" cy="286.9" r="6.3" fill="#3e58af"/>
<circle cx="1434.4" cy="246.5" r="6.3" fill="#3e58af"/>
<circle cx="1569.1" cy="175.8" r="6.3" fill="#3e58af"/>
<circle cx="1213.9" cy="614.4" r="6.3" fill="#3e58af"/>
<circle cx="1229.9" cy="595.9" r="6.3" fill="#3e58af"/>
<circle cx="1247.5" cy="579.1" r="6.3" fill="#3e58af"/>
<circle cx="1261.0" cy="569.0" r="6.3" fill="#3e58af"/>
<circle cx="1276.2" cy="569.0" r="6.3" fill="#3e58af"/>
<circle cx="1276.2" cy="558.9" r="6.3" fill="#3e58af"/>
<circle cx="1262.7" cy="521.8" r="6.3" fill="#3e58af"/>
<circle cx="1289.6" cy="543.7" r="6.3" fill="#3e58af"/>
<circle cx="1308.1" cy="525.2" r="6.3" fill="#3e58af"/>
<circle cx="1318.2" cy="513.4" r="6.3" fill="#3e58af"/>
<circle cx="1325.0" cy="506.7" r="6.3" fill="#3e58af"/>
<circle cx="1340.1" cy="484.8" r="6.3" fill="#3e58af"/>
<circle cx="1352.8" cy="489.8" r="6.3" fill="#3e58af"/>
<circle cx="1380.5" cy="452.8" r="6.3" fill="#3e58af"/>
<circle cx="1426.0" cy="404.0" r="6.3" fill="#3e58af"/>
<circle cx="1309.8" cy="447.7" r="6.3" fill="#3e58af"/>
<circle cx="1557.3" cy="150.5" r="6.3" fill="#ba407e"/>
<circle cx="1557.3" cy="177.4" r="6.3" fill="#ba407e"/>
<circle cx="1569.1" cy="190.9" r="6.3" fill="#ba407e"/>
<circle cx="1518.6" cy="254.9" r="6.3" fill="#ba407e"/>
<circle cx="1490.8" cy="320.5" r="6.3" fill="#ba407e"/>
<circle cx="1478.1" cy="325.6" r="6.3" fill="#ba407e"/>
<circle cx="1442.0" cy="227.9" r="6.3" fill="#ba407e"/>
<circle cx="1454.6" cy="220.4" r="6.3" fill="#ba407e"/>
<circle cx="1516.9" cy="172.4" r="6.3" fill="#ba407e"/>
<circle cx="1535.4" cy="172.4" r="6.3" fill="#ba407e"/>
<circle cx="1234.1" cy="563.9" r="6.3" fill="#ba407e"/>
<circle cx="1235.8" cy="577.4" r="6.3" fill="#ba407e"/>
<circle cx="1245.9" cy="584.1" r="6.3" fill="#ba407e"/>
<circle cx="1220.6" cy="595.9" r="6.3" fill="#ba407e"/>
<circle cx="1264.4" cy="558.9" r="6.3" fill="#ba407e"/>
<circle cx="1269.4" cy="548.8" r="6.3" fill="#ba407e"/>
<circle cx="1300.6" cy="442.7" r="6.3" fill="#ba407e"/>
<circle cx="1294.7" cy="467.9" r="6.3" fill="#ba407e"/>
<circle cx="1284.6" cy="481.4" r="6.3" fill="#ba407e"/>
<circle cx="1357.0" cy="471.3" r="6.3" fill="#ba407e"/>
<circle cx="1400.7" cy="425.9" r="6.3" fill="#ba407e"/>
<circle cx="1261.0" cy="558.9" r="6.3" fill="#ba407e"/>
</g>
<line x1="398.04" y1="750.71" x2="1016.16" y2="-24.48" stroke="#3e58af" stroke-width="3"/>
<line x1="398.04" y1="734.30" x2="1016.16" y2="-24.39" stroke="#ba407e" stroke-width="3"/>
</g>
<rect x="440.2" y="82.5" width="534.0999999999999" height="610.4" fill="none" stroke="#111" stroke-width="1.9"/>
<line x1="425.7" y1="662.10" x2="440.2" y2="662.10" stroke="#111" stroke-width="1.9"/>
<text x="354.79" y="670.70" font-size="22.3" font-weight="bold" fill="#000" textLength="65.33" lengthAdjust="spacing">30,00</text>
<line x1="425.7" y1="570.47" x2="440.2" y2="570.47" stroke="#111" stroke-width="1.9"/>
<text x="354.96" y="579.07" font-size="22.3" font-weight="bold" fill="#000" textLength="65.15" lengthAdjust="spacing">40,00</text>
<line x1="425.7" y1="478.84" x2="440.2" y2="478.84" stroke="#111" stroke-width="1.9"/>
<text x="354.61" y="487.44" font-size="22.3" font-weight="bold" fill="#000" textLength="65.50" lengthAdjust="spacing">50,00</text>
<line x1="425.7" y1="387.21" x2="440.2" y2="387.21" stroke="#111" stroke-width="1.9"/>
<text x="354.48" y="395.81" font-size="22.3" font-weight="bold" fill="#000" textLength="65.63" lengthAdjust="spacing">60,00</text>
<line x1="425.7" y1="295.58" x2="440.2" y2="295.58" stroke="#111" stroke-width="1.9"/>
<text x="354.34" y="304.18" font-size="22.3" font-weight="bold" fill="#000" textLength="65.77" lengthAdjust="spacing">70,00</text>
<line x1="425.7" y1="203.95" x2="440.2" y2="203.95" stroke="#111" stroke-width="1.9"/>
<text x="354.59" y="212.55" font-size="22.3" font-weight="bold" fill="#000" textLength="65.52" lengthAdjust="spacing">80,00</text>
<line x1="425.7" y1="112.32" x2="440.2" y2="112.32" stroke="#111" stroke-width="1.9"/>
<text x="354.53" y="120.92" font-size="22.3" font-weight="bold" fill="#000" textLength="65.59" lengthAdjust="spacing">90,00</text>
<line x1="535.40" y1="692.9" x2="535.40" y2="707.4" stroke="#111" stroke-width="1.9"/>
<text x="503.51" y="730.40" font-size="22.3" font-weight="bold" fill="#000" textLength="65.75" lengthAdjust="spacing">40,00</text>
<line x1="672.76" y1="692.9" x2="672.76" y2="707.4" stroke="#111" stroke-width="1.9"/>
<text x="640.39" y="730.40" font-size="22.3" font-weight="bold" fill="#000" textLength="66.23" lengthAdjust="spacing">60,00</text>
<line x1="810.12" y1="692.9" x2="810.12" y2="707.4" stroke="#111" stroke-width="1.9"/>
<text x="777.86" y="730.40" font-size="22.3" font-weight="bold" fill="#000" textLength="66.12" lengthAdjust="spacing">80,00</text>
<line x1="947.48" y1="692.9" x2="947.48" y2="707.4" stroke="#111" stroke-width="1.9"/>
<text x="908.03" y="730.40" font-size="22.3" font-weight="bold" fill="#000" textLength="79.82" lengthAdjust="spacing">100,00</text>
<text x="568.48" y="767.20" font-size="24.2" font-weight="bold" fill="#000" textLength="291.95" lengthAdjust="spacing">LEFT 4D FINGER MEAN</text>
<text transform="translate(339.10,529.92) rotate(-90)" x="0" y="0" font-size="24.2" font-weight="bold" textLength="291.15" lengthAdjust="spacing">LEFT 2D FINGER MEAN</text>
<circle cx="464.8" cy="97.7" r="6.4" fill="#3e58af"/>
<circle cx="464.8" cy="119.4" r="6.4" fill="#ba407e"/>
<text x="480.03" y="106.30" font-size="17.5" font-weight="bold" fill="#000" textLength="73.13" lengthAdjust="spacing">MALE: R</text>
<text transform="translate(553.45,99.80) scale(1.028,1)" font-size="12.60" font-weight="normal" fill="#000">2</text>
<text x="564.23" y="106.30" font-size="17.5" font-weight="bold" fill="#000" textLength="131.60" lengthAdjust="spacing">Linear = 0,893</text>
<text x="479.73" y="127.10" font-size="17.5" font-weight="bold" fill="#000" textLength="95.13" lengthAdjust="spacing">FEMALE: R</text>
<text transform="translate(575.35,120.60) scale(1.028,1)" font-size="12.60" font-weight="normal" fill="#000">2</text>
<text x="585.93" y="127.10" font-size="17.5" font-weight="bold" fill="#000" textLength="130.90" lengthAdjust="spacing">Linear = 0,866</text>
<text transform="translate(435.21,47.73) scale(1.036,1)" font-size="58.42" font-weight="bold" fill="#000">b</text>
<rect x="617.0" y="335.4" width="141.8" height="27.8" fill="#fff" stroke="#ba407e" stroke-width="1.5"/>
<text x="621.16" y="355.90" font-size="18.2" font-weight="normal" fill="#000" textLength="130.34" lengthAdjust="spacing">y=3,72+0,92*x</text>
<rect x="617.0" y="374.3" width="142.6" height="27.7" fill="#fff" stroke="#3e58af" stroke-width="1.5"/>
<text x="621.16" y="394.70" font-size="18.2" font-weight="normal" fill="#000" textLength="131.14" lengthAdjust="spacing">y=1,53+0,94*x</text>
</g>
<g transform="translate(0,0)">
<clipPath id="clipc"><rect x="104.0" y="898.3" width="549.5" height="586.0"/></clipPath>
<g clip-path="url(#clipc)">
<g transform="translate(0,0)">
<polygon points="305.7,1254.5 306.8,1254.4 306.9,1254.4 308.1,1254.4 308.3,1254.4 308.9,1254.5 310.1,1254.6 310.0,1254.1 310.0,1253.9 310.0,1252.7 310.0,1252.5 310.1,1251.3 310.1,1251.2 310.3,1250.0 310.3,1249.8 310.6,1248.7 310.7,1248.5 311.1,1247.4 311.2,1247.2 311.7,1246.1 311.8,1246.0 312.5,1245.0 312.6,1244.8 313.3,1243.9 313.4,1243.7 314.2,1242.9 314.4,1242.7 315.3,1242.0 315.4,1241.8 316.4,1241.2 316.6,1241.1 317.6,1240.5 317.8,1240.4 318.9,1239.9 319.0,1239.8 320.2,1239.5 320.4,1239.4 321.5,1239.2 321.7,1239.1 322.9,1239.0 323.1,1239.0 324.2,1239.0 324.4,1239.0 325.0,1239.0 335.2,1239.8 335.4,1238.3 335.5,1237.8 335.5,1237.6 335.8,1236.5 335.8,1236.3 336.2,1235.2 336.3,1235.0 336.8,1234.0 336.8,1233.8 337.4,1232.8 337.5,1232.6 338.2,1231.7 338.3,1231.5 339.1,1230.7 339.2,1230.5 340.1,1229.7 340.2,1229.6 341.1,1228.9 341.3,1228.8 342.3,1228.2 342.4,1228.1 343.0,1227.8 344.0,1227.3 344.0,1227.3 344.1,1227.1 344.4,1226.0 344.5,1225.8 344.9,1224.7 345.0,1224.5 345.2,1224.0 355.4,1204.5 355.7,1203.9 355.8,1203.8 356.5,1202.8 356.6,1202.6 357.3,1201.7 357.5,1201.5 358.3,1200.7 358.5,1200.6 359.4,1199.8 359.5,1199.7 360.5,1199.0 360.7,1198.9 361.2,1198.6 382.8,1187.0 386.9,1184.5 388.5,1180.5 388.8,1179.9 388.8,1179.7 389.4,1178.7 389.5,1178.5 390.2,1177.5 390.3,1177.3 391.1,1176.4 391.2,1176.2 391.6,1175.8 408.5,1159.0 425.3,1142.1 425.8,1141.7 425.9,1141.5 427.0,1140.7 427.2,1140.5 427.8,1140.1 439.2,1133.0 441.9,1129.7 443.1,1117.0 443.2,1116.4 443.2,1116.2 443.5,1115.0 443.5,1114.8 443.9,1113.6 444.0,1113.4 444.4,1112.3 444.5,1112.1 445.1,1111.1 445.2,1110.9 445.9,1109.9 446.0,1109.8 446.8,1108.8 446.9,1108.7 447.8,1107.8 448.0,1107.7 448.9,1107.0 449.1,1106.9 450.1,1106.2 450.3,1106.1 451.4,1105.6 451.6,1105.5 452.7,1105.1 452.9,1105.0 454.0,1104.7 454.2,1104.6 454.7,1104.5 462.0,1098.8 469.2,1093.0 471.5,1087.2 473.3,1080.0 473.4,1079.5 473.5,1079.3 473.8,1078.3 473.9,1078.1 474.4,1077.1 474.5,1077.0 474.7,1076.5 478.8,1069.4 479.1,1068.9 479.2,1068.7 479.9,1067.7 480.0,1067.6 480.8,1066.7 480.9,1066.5 481.8,1065.7 482.0,1065.6 482.9,1064.9 483.1,1064.7 484.1,1064.1 484.3,1064.0 485.4,1063.5 485.6,1063.4 486.7,1063.0 486.9,1062.9 487.5,1062.8 493.0,1061.4 497.9,1057.9 498.4,1057.6 498.6,1057.5 499.6,1056.9 499.7,1056.8 500.8,1056.3 501.0,1056.3 502.1,1055.9 502.3,1055.8 503.4,1055.6 503.6,1055.5 504.7,1055.4 504.9,1055.3 505.4,1055.3 505.3,1054.9 505.2,1054.3 505.2,1054.1 505.2,1052.8 505.2,1052.6 505.3,1051.4 505.3,1051.2 505.5,1050.0 505.6,1049.8 505.9,1048.6 506.0,1048.5 506.5,1047.3 506.5,1047.1 507.1,1046.1 507.2,1045.9 507.5,1045.4 507.8,1045.0 507.8,1044.9 507.7,1044.7 507.4,1043.5 507.4,1043.3 507.3,1042.1 507.2,1041.9 507.2,1040.6 507.2,1040.4 507.3,1039.2 507.4,1039.0 507.6,1037.8 507.6,1037.6 508.0,1036.5 508.0,1036.3 508.5,1035.1 508.6,1035.0 509.2,1033.9 509.3,1033.7 509.9,1032.7 510.1,1032.5 510.8,1031.6 511.0,1031.5 511.8,1030.6 512.0,1030.5 512.5,1030.1 516.4,1026.9 520.6,1021.9 520.9,1021.5 521.1,1021.4 521.9,1020.5 522.0,1020.4 522.9,1019.7 523.1,1019.6 524.1,1018.9 524.2,1018.8 525.3,1018.3 525.3,1018.3 524.6,1017.9 524.4,1017.8 523.9,1017.5 515.8,1012.5 515.3,1012.1 515.1,1012.0 514.2,1011.3 514.0,1011.2 513.2,1010.3 513.0,1010.2 512.3,1009.3 512.1,1009.1 511.4,1008.2 511.3,1008.0 510.8,1006.9 510.7,1006.8 510.2,1005.7 510.1,1005.5 509.7,1004.3 509.7,1004.2 509.4,1003.0 509.4,1002.8 509.3,1001.6 509.3,1001.4 509.2,1000.2 509.2,1000.0 509.4,998.8 509.4,998.6 509.6,997.4 509.6,997.2 509.8,996.7 509.3,996.6 509.1,996.5 508.6,996.3 504.2,994.4 502.4,994.4 494.5,996.0 491.4,997.0 489.2,998.7 488.8,999.0 488.6,999.1 487.7,999.6 487.6,999.7 486.7,1000.2 486.5,1000.3 486.0,1000.5 479.3,1003.1 479.2,1003.4 475.9,1013.1 475.7,1013.7 475.6,1013.9 475.1,1015.0 475.0,1015.2 474.4,1016.3 474.3,1016.4 473.6,1017.4 473.4,1017.6 472.6,1018.5 472.5,1018.7 471.5,1019.5 471.4,1019.6 470.4,1020.3 470.2,1020.5 469.1,1021.1 469.0,1021.2 467.8,1021.7 467.6,1021.8 467.1,1022.0 462.2,1023.6 452.2,1029.1 451.6,1029.3 451.4,1029.4 450.3,1029.9 450.1,1030.0 448.9,1030.3 448.7,1030.4 447.4,1030.6 447.2,1030.7 446.6,1030.7 436.0,1031.6 435.0,1031.9 434.9,1032.1 423.1,1048.9 422.8,1049.4 422.7,1049.5 422.0,1050.3 421.9,1050.4 421.5,1050.8 410.4,1061.9 409.7,1063.9 409.5,1064.5 409.4,1064.7 408.9,1065.9 408.8,1066.1 408.0,1067.3 407.9,1067.5 407.5,1068.0 395.7,1083.2 395.4,1083.6 395.3,1083.7 394.6,1084.5 394.4,1084.6 393.6,1085.3 393.5,1085.5 393.1,1085.8 382.3,1093.9 378.7,1101.0 370.3,1117.9 370.0,1118.4 369.9,1118.5 369.4,1119.4 369.3,1119.6 368.9,1120.0 363.9,1126.8 363.5,1127.2 363.4,1127.3 362.7,1128.2 362.5,1128.3 361.7,1129.1 361.5,1129.2 361.1,1129.6 351.9,1136.4 351.3,1139.4 349.7,1149.3 349.6,1149.7 349.6,1149.9 349.3,1150.8 349.3,1150.9 349.1,1151.4 347.5,1156.4 347.3,1157.0 347.2,1157.2 346.7,1158.3 346.6,1158.4 346.0,1159.4 345.9,1159.6 345.6,1160.1 327.1,1186.3 326.0,1191.8 325.9,1192.4 325.8,1192.6 325.4,1193.8 325.4,1194.0 324.9,1195.2 324.8,1195.4 324.5,1195.9 303.8,1232.5 303.9,1232.7 306.7,1243.9 306.8,1244.5 306.8,1244.7 307.0,1245.9 307.0,1246.1 307.1,1247.2 307.1,1247.4 307.0,1248.6 307.0,1248.8 306.8,1250.0 306.8,1250.2 306.7,1250.7 305.7,1254.5" fill="#3e58af"/>
<g fill="#3e58af"><circle cx="299.8" cy="1263.0" r="6.0"/><circle cx="305.9" cy="1260.5" r="6.0"/><circle cx="314.4" cy="1260.2" r="6.0"/><circle cx="317.1" cy="1258.5" r="6.0"/><circle cx="316.1" cy="1249.8" r="6.0"/><circle cx="328.5" cy="1244.0" r="6.0"/><circle cx="334.1" cy="1245.3" r="6.0"/><circle cx="346.0" cy="1232.4" r="6.0"/><circle cx="350.3" cy="1229.0" r="6.0"/><circle cx="353.3" cy="1221.4" r="6.0"/><circle cx="356.5" cy="1215.3" r="6.0"/><circle cx="359.3" cy="1210.4" r="6.0"/><circle cx="362.9" cy="1204.4" r="6.0"/><circle cx="380.6" cy="1195.7" r="6.0"/><circle cx="386.3" cy="1190.5" r="6.0"/><circle cx="391.6" cy="1188.2" r="6.0"/><circle cx="395.6" cy="1180.4" r="6.0"/><circle cx="400.2" cy="1175.0" r="6.0"/><circle cx="405.2" cy="1170.1" r="6.0"/><circle cx="418.5" cy="1156.8" r="6.0"/><circle cx="424.3" cy="1151.1" r="6.0"/><circle cx="434.0" cy="1143.6" r="6.0"/><circle cx="446.8" cy="1134.6" r="6.0"/><circle cx="448.5" cy="1128.5" r="6.0"/><circle cx="451.1" cy="1113.4" r="6.0"/><circle cx="461.9" cy="1106.3" r="6.0"/><circle cx="466.9" cy="1103.2" r="6.0"/><circle cx="472.7" cy="1097.3" r="6.0"/><circle cx="475.4" cy="1092.2" r="6.0"/><circle cx="477.5" cy="1085.7" r="6.0"/><circle cx="479.2" cy="1079.1" r="6.0"/><circle cx="483.9" cy="1073.8" r="6.0"/><circle cx="507.4" cy="1061.3" r="6.0"/><circle cx="512.8" cy="1063.3" r="6.0"/><circle cx="511.5" cy="1056.3" r="6.0"/><circle cx="513.7" cy="1037.3" r="6.0"/><circle cx="519.9" cy="1032.2" r="6.0"/><circle cx="524.6" cy="1027.0" r="6.0"/><circle cx="527.9" cy="1024.3" r="6.0"/><circle cx="538.3" cy="1011.6" r="6.0"/><circle cx="525.8" cy="1011.9" r="6.0"/><circle cx="514.3" cy="1001.9" r="6.0"/><circle cx="522.8" cy="991.6" r="6.0"/><circle cx="515.9" cy="991.4" r="6.0"/><circle cx="502.9" cy="989.2" r="6.0"/><circle cx="495.3" cy="990.6" r="6.0"/><circle cx="489.1" cy="991.7" r="6.0"/><circle cx="484.0" cy="994.3" r="6.0"/><circle cx="472.0" cy="1003.3" r="6.0"/><circle cx="466.8" cy="1014.8" r="6.0"/><circle cx="448.3" cy="1024.5" r="6.0"/><circle cx="441.4" cy="1025.3" r="6.0"/><circle cx="433.6" cy="1026.8" r="6.0"/><circle cx="430.0" cy="1030.4" r="6.0"/><circle cx="426.5" cy="1035.0" r="6.0"/><circle cx="420.8" cy="1041.0" r="6.0"/><circle cx="417.0" cy="1045.6" r="6.0"/><circle cx="413.1" cy="1051.2" r="6.0"/><circle cx="405.2" cy="1062.3" r="6.0"/><circle cx="399.4" cy="1067.9" r="6.0"/><circle cx="385.7" cy="1082.8" r="6.0"/><circle cx="376.3" cy="1092.8" r="6.0"/><circle cx="369.8" cy="1103.5" r="6.0"/><circle cx="367.3" cy="1110.4" r="6.0"/><circle cx="362.9" cy="1117.1" r="6.0"/><circle cx="360.6" cy="1121.3" r="6.0"/><circle cx="349.7" cy="1129.9" r="6.0"/><circle cx="344.4" cy="1142.9" r="6.0"/><circle cx="343.8" cy="1149.9" r="6.0"/><circle cx="341.9" cy="1156.8" r="6.0"/><circle cx="336.4" cy="1161.3" r="6.0"/><circle cx="332.4" cy="1168.6" r="6.0"/><circle cx="330.1" cy="1174.3" r="6.0"/><circle cx="323.9" cy="1178.9" r="6.0"/><circle cx="320.2" cy="1183.9" r="6.0"/><circle cx="312.9" cy="1202.5" r="6.0"/><circle cx="309.3" cy="1208.9" r="6.0"/><circle cx="300.5" cy="1227.6" r="6.0"/><circle cx="297.4" cy="1234.1" r="6.0"/><circle cx="299.9" cy="1239.9" r="6.0"/><circle cx="302.1" cy="1247.6" r="6.0"/><circle cx="299.4" cy="1255.1" r="6.0"/><circle cx="510.4" cy="992.4" r="6.0"/><circle cx="484.4" cy="995.8" r="6.0"/><circle cx="490.5" cy="998.1" r="6.0"/><circle cx="510.3" cy="997.2" r="6.0"/><circle cx="514.3" cy="997.9" r="6.0"/><circle cx="515.1" cy="1008.9" r="6.0"/><circle cx="463.0" cy="1017.5" r="6.0"/><circle cx="452.9" cy="1025.3" r="6.0"/><circle cx="518.1" cy="1024.4" r="6.0"/><circle cx="525.0" cy="1022.9" r="6.0"/><circle cx="512.8" cy="1029.4" r="6.0"/><circle cx="518.0" cy="1028.7" r="6.0"/><circle cx="424.4" cy="1035.7" r="6.0"/><circle cx="509.4" cy="1037.7" r="6.0"/><circle cx="512.6" cy="1044.0" r="6.0"/><circle cx="416.9" cy="1050.0" r="6.0"/><circle cx="509.2" cy="1052.2" r="6.0"/><circle cx="499.5" cy="1055.2" r="6.0"/><circle cx="512.1" cy="1057.6" r="6.0"/><circle cx="397.4" cy="1070.2" r="6.0"/><circle cx="478.3" cy="1068.4" r="6.0"/><circle cx="486.0" cy="1069.4" r="6.0"/><circle cx="476.9" cy="1077.3" r="6.0"/><circle cx="386.2" cy="1085.4" r="6.0"/><circle cx="471.1" cy="1085.0" r="6.0"/><circle cx="389.2" cy="1091.6" r="6.0"/><circle cx="376.2" cy="1097.3" r="6.0"/><circle cx="467.7" cy="1097.2" r="6.0"/><circle cx="372.8" cy="1103.4" r="6.0"/><circle cx="369.3" cy="1108.5" r="6.0"/><circle cx="441.3" cy="1118.2" r="6.0"/><circle cx="361.1" cy="1121.5" r="6.0"/><circle cx="444.8" cy="1122.4" r="6.0"/><circle cx="348.3" cy="1137.3" r="6.0"/><circle cx="348.5" cy="1148.2" r="6.0"/><circle cx="422.0" cy="1150.9" r="6.0"/><circle cx="348.3" cy="1155.0" r="6.0"/><circle cx="417.3" cy="1156.4" r="6.0"/><circle cx="336.0" cy="1168.4" r="6.0"/><circle cx="330.8" cy="1176.6" r="6.0"/><circle cx="394.1" cy="1175.0" r="6.0"/><circle cx="327.1" cy="1183.0" r="6.0"/><circle cx="387.3" cy="1182.6" r="6.0"/><circle cx="382.7" cy="1187.3" r="6.0"/><circle cx="389.5" cy="1187.3" r="6.0"/><circle cx="376.3" cy="1196.2" r="6.0"/><circle cx="319.2" cy="1204.1" r="6.0"/><circle cx="359.9" cy="1203.8" r="6.0"/><circle cx="310.2" cy="1209.3" r="6.0"/><circle cx="311.2" cy="1215.3" r="6.0"/><circle cx="303.1" cy="1226.8" r="6.0"/><circle cx="316.7" cy="1242.9" r="6.0"/><circle cx="337.2" cy="1241.8" r="6.0"/><circle cx="311.9" cy="1253.9" r="6.0"/><circle cx="301.8" cy="1263.4" r="6.0"/></g>
<polygon points="303.7,1235.3 315.0,1235.3 317.9,1233.6 323.9,1227.6 324.3,1227.3 324.3,1227.2 325.1,1226.5 325.2,1226.5 326.1,1225.9 326.2,1225.8 327.1,1225.3 327.2,1225.3 328.1,1224.9 328.2,1224.9 329.2,1224.5 329.3,1224.5 330.3,1224.3 330.4,1224.3 331.5,1224.2 331.6,1224.1 332.6,1224.1 332.7,1224.1 333.7,1224.2 333.8,1224.2 334.4,1224.3 346.4,1226.3 346.7,1225.5 346.8,1225.4 347.0,1225.0 357.2,1205.4 357.5,1204.9 357.5,1204.8 358.1,1203.9 358.2,1203.8 358.9,1203.0 358.9,1202.9 359.7,1202.1 359.8,1202.1 360.6,1201.4 360.7,1201.3 361.6,1200.7 361.7,1200.6 362.2,1200.4 383.8,1188.7 388.5,1185.9 390.4,1181.2 390.6,1180.7 390.6,1180.6 391.2,1179.6 391.2,1179.6 391.8,1178.6 391.9,1178.5 392.6,1177.7 392.6,1177.6 393.0,1177.2 409.6,1160.6 424.6,1144.0 424.9,1143.7 425.0,1143.6 425.6,1143.0 425.7,1142.9 426.4,1142.3 426.5,1142.3 426.8,1142.0 429.7,1140.1 434.4,1132.7 433.4,1127.1 433.4,1126.5 433.4,1126.4 433.3,1125.3 433.3,1125.2 433.3,1124.2 433.3,1124.1 433.5,1123.0 433.5,1122.9 433.7,1121.9 433.8,1121.8 434.1,1120.7 434.1,1120.6 434.6,1119.7 434.6,1119.6 435.2,1118.6 435.2,1118.6 435.8,1117.7 435.9,1117.6 436.6,1116.8 436.7,1116.7 437.5,1116.0 437.5,1115.9 438.4,1115.3 438.5,1115.2 439.4,1114.6 439.5,1114.6 440.0,1114.3 449.0,1109.9 457.6,1102.8 467.3,1093.1 467.6,1092.8 467.7,1092.8 468.4,1092.2 468.4,1092.1 468.8,1091.9 471.4,1090.0 471.9,1085.3 472.0,1084.7 472.0,1084.6 472.1,1084.1 475.1,1069.0 475.2,1068.5 475.2,1068.4 475.5,1067.4 475.6,1067.3 475.7,1066.9 477.5,1062.3 479.7,1055.0 479.0,1047.3 478.9,1046.7 478.9,1046.6 478.9,1045.4 478.9,1045.3 479.1,1044.1 479.1,1044.0 479.2,1043.5 481.2,1034.4 481.3,1033.8 481.4,1033.7 481.7,1032.7 481.8,1032.6 482.2,1031.6 482.2,1031.5 482.8,1030.6 482.8,1030.5 483.5,1029.6 483.5,1029.5 484.3,1028.7 484.3,1028.6 485.1,1027.9 485.2,1027.8 486.1,1027.1 486.2,1027.1 487.1,1026.5 487.2,1026.4 487.9,1026.1 487.3,1023.7 487.2,1023.2 487.2,1023.1 487.1,1022.0 487.0,1021.9 487.0,1020.9 487.0,1020.8 487.0,1019.7 487.1,1019.6 487.2,1018.5 487.2,1018.4 487.3,1017.9 487.9,1015.5 487.5,1015.4 487.5,1015.3 487.0,1015.1 479.9,1011.0 479.5,1010.8 479.5,1010.8 478.8,1010.3 477.5,1010.8 471.1,1017.2 470.7,1017.5 470.7,1017.6 469.9,1018.2 469.8,1018.3 469.0,1018.9 468.9,1018.9 468.0,1019.4 467.9,1019.5 467.0,1019.9 466.9,1019.9 466.4,1020.1 461.4,1021.8 451.2,1027.3 450.7,1027.6 450.6,1027.6 449.5,1028.0 449.4,1028.1 448.3,1028.4 448.2,1028.4 447.1,1028.6 447.0,1028.7 446.5,1028.7 435.6,1029.6 433.7,1030.2 433.6,1030.4 433.5,1030.5 433.2,1031.0 421.4,1047.8 421.2,1048.2 421.1,1048.2 420.5,1049.0 420.4,1049.0 420.1,1049.4 408.6,1060.9 407.8,1063.2 407.6,1063.8 407.6,1063.9 407.1,1065.0 407.0,1065.1 406.4,1066.2 406.3,1066.3 405.9,1066.8 394.2,1081.9 393.8,1082.3 393.8,1082.4 393.1,1083.1 393.1,1083.2 392.3,1083.8 392.3,1083.9 391.9,1084.2 380.7,1092.6 376.9,1100.1 368.5,1117.0 368.2,1117.4 368.2,1117.5 367.7,1118.3 367.6,1118.4 367.3,1118.8 362.3,1125.6 362.0,1126.0 361.9,1126.0 361.2,1126.8 361.1,1126.9 360.4,1127.6 360.3,1127.6 359.9,1128.0 350.1,1135.3 349.3,1139.0 347.7,1148.9 347.6,1149.4 347.6,1149.4 347.4,1150.3 347.4,1150.4 347.2,1150.8 345.6,1155.8 345.4,1156.3 345.3,1156.4 344.9,1157.4 344.9,1157.5 344.3,1158.4 344.3,1158.5 344.0,1158.9 325.2,1185.5 324.1,1191.4 323.9,1191.9 323.9,1192.0 323.6,1193.0 323.6,1193.1 323.2,1194.1 323.1,1194.2 322.9,1194.7 303.1,1232.1 303.3,1233.2 303.5,1233.9 303.5,1234.0 303.7,1235.3 303.7,1235.3" fill="#ba407e"/>
<g fill="#ba407e"><circle cx="430.5" cy="1025.5" r="6.0"/><circle cx="427.2" cy="1032.4" r="6.0"/><circle cx="422.4" cy="1038.6" r="6.0"/><circle cx="417.9" cy="1043.7" r="6.0"/><circle cx="415.0" cy="1048.5" r="6.0"/><circle cx="408.0" cy="1052.7" r="6.0"/><circle cx="403.7" cy="1058.7" r="6.0"/><circle cx="401.6" cy="1064.9" r="6.0"/><circle cx="398.2" cy="1070.6" r="6.0"/><circle cx="393.4" cy="1076.2" r="6.0"/><circle cx="389.6" cy="1080.7" r="6.0"/><circle cx="382.2" cy="1084.1" r="6.0"/><circle cx="378.6" cy="1089.8" r="6.0"/><circle cx="374.4" cy="1095.6" r="6.0"/><circle cx="371.1" cy="1100.3" r="6.0"/><circle cx="367.0" cy="1107.8" r="6.0"/><circle cx="365.3" cy="1112.1" r="6.0"/><circle cx="357.7" cy="1124.3" r="6.0"/><circle cx="350.1" cy="1127.9" r="6.0"/><circle cx="345.7" cy="1132.0" r="6.0"/><circle cx="344.4" cy="1138.5" r="6.0"/><circle cx="342.9" cy="1147.0" r="6.0"/><circle cx="338.2" cy="1159.7" r="6.0"/><circle cx="333.4" cy="1163.8" r="6.0"/><circle cx="329.5" cy="1169.7" r="6.0"/><circle cx="325.5" cy="1176.4" r="6.0"/><circle cx="321.6" cy="1182.5" r="6.0"/><circle cx="318.9" cy="1187.4" r="6.0"/><circle cx="317.7" cy="1194.1" r="6.0"/><circle cx="315.3" cy="1201.4" r="6.0"/><circle cx="311.1" cy="1205.5" r="6.0"/><circle cx="305.5" cy="1218.6" r="6.0"/><circle cx="300.6" cy="1223.7" r="6.0"/><circle cx="297.4" cy="1230.9" r="6.0"/><circle cx="298.0" cy="1237.1" r="6.0"/><circle cx="302.7" cy="1240.5" r="6.0"/><circle cx="309.2" cy="1239.3" r="6.0"/><circle cx="316.3" cy="1239.0" r="6.0"/><circle cx="323.3" cy="1237.0" r="6.0"/><circle cx="328.5" cy="1231.8" r="6.0"/><circle cx="333.9" cy="1228.5" r="6.0"/><circle cx="347.7" cy="1231.4" r="6.0"/><circle cx="350.4" cy="1226.4" r="6.0"/><circle cx="355.0" cy="1221.8" r="6.0"/><circle cx="358.1" cy="1216.1" r="6.0"/><circle cx="360.2" cy="1209.2" r="6.0"/><circle cx="365.1" cy="1203.6" r="6.0"/><circle cx="371.6" cy="1201.9" r="6.0"/><circle cx="377.7" cy="1196.7" r="6.0"/><circle cx="383.7" cy="1194.1" r="6.0"/><circle cx="389.4" cy="1191.5" r="6.0"/><circle cx="393.9" cy="1185.8" r="6.0"/><circle cx="398.3" cy="1179.8" r="6.0"/><circle cx="402.9" cy="1175.9" r="6.0"/><circle cx="406.5" cy="1171.1" r="6.0"/><circle cx="412.7" cy="1166.2" r="6.0"/><circle cx="416.8" cy="1160.4" r="6.0"/><circle cx="421.8" cy="1155.3" r="6.0"/><circle cx="431.2" cy="1144.7" r="6.0"/><circle cx="436.4" cy="1139.6" r="6.0"/><circle cx="440.0" cy="1133.8" r="6.0"/><circle cx="439.0" cy="1127.6" r="6.0"/><circle cx="438.9" cy="1120.7" r="6.0"/><circle cx="445.7" cy="1117.0" r="6.0"/><circle cx="451.0" cy="1113.7" r="6.0"/><circle cx="455.8" cy="1109.4" r="6.0"/><circle cx="462.1" cy="1105.6" r="6.0"/><circle cx="466.2" cy="1100.3" r="6.0"/><circle cx="472.5" cy="1095.2" r="6.0"/><circle cx="476.6" cy="1092.1" r="6.0"/><circle cx="478.2" cy="1083.9" r="6.0"/><circle cx="477.7" cy="1077.2" r="6.0"/><circle cx="479.6" cy="1071.1" r="6.0"/><circle cx="483.0" cy="1065.4" r="6.0"/><circle cx="483.3" cy="1058.1" r="6.0"/><circle cx="485.2" cy="1050.3" r="6.0"/><circle cx="483.7" cy="1044.2" r="6.0"/><circle cx="485.3" cy="1038.4" r="6.0"/><circle cx="489.0" cy="1031.2" r="6.0"/><circle cx="493.6" cy="1029.9" r="6.0"/><circle cx="491.1" cy="1021.2" r="6.0"/><circle cx="493.2" cy="1016.2" r="6.0"/><circle cx="490.4" cy="1011.3" r="6.0"/><circle cx="484.3" cy="1008.5" r="6.0"/><circle cx="478.6" cy="1005.4" r="6.0"/><circle cx="473.3" cy="1007.7" r="6.0"/><circle cx="469.3" cy="1011.5" r="6.0"/><circle cx="463.4" cy="1016.0" r="6.0"/><circle cx="455.8" cy="1018.1" r="6.0"/><circle cx="444.0" cy="1024.8" r="6.0"/><circle cx="437.9" cy="1023.7" r="6.0"/><circle cx="488.4" cy="1009.9" r="6.0"/><circle cx="466.4" cy="1016.6" r="6.0"/><circle cx="494.3" cy="1015.3" r="6.0"/><circle cx="450.8" cy="1022.5" r="6.0"/><circle cx="456.0" cy="1022.3" r="6.0"/><circle cx="491.1" cy="1023.8" r="6.0"/><circle cx="429.5" cy="1028.7" r="6.0"/><circle cx="435.8" cy="1030.9" r="6.0"/><circle cx="483.9" cy="1030.9" r="6.0"/><circle cx="426.2" cy="1037.8" r="6.0"/><circle cx="485.0" cy="1035.8" r="6.0"/><circle cx="419.9" cy="1044.5" r="6.0"/><circle cx="479.8" cy="1043.0" r="6.0"/><circle cx="416.6" cy="1049.3" r="6.0"/><circle cx="484.5" cy="1051.9" r="6.0"/><circle cx="411.0" cy="1054.8" r="6.0"/><circle cx="482.0" cy="1057.0" r="6.0"/><circle cx="401.5" cy="1061.3" r="6.0"/><circle cx="398.7" cy="1069.4" r="6.0"/><circle cx="394.9" cy="1075.3" r="6.0"/><circle cx="472.3" cy="1076.9" r="6.0"/><circle cx="391.6" cy="1082.0" r="6.0"/><circle cx="475.7" cy="1081.0" r="6.0"/><circle cx="381.5" cy="1088.4" r="6.0"/><circle cx="471.3" cy="1089.1" r="6.0"/><circle cx="377.3" cy="1095.0" r="6.0"/><circle cx="375.4" cy="1101.3" r="6.0"/><circle cx="456.5" cy="1108.8" r="6.0"/><circle cx="438.8" cy="1116.4" r="6.0"/><circle cx="355.7" cy="1130.8" r="6.0"/><circle cx="432.5" cy="1129.0" r="6.0"/><circle cx="346.6" cy="1136.8" r="6.0"/><circle cx="431.1" cy="1134.6" r="6.0"/><circle cx="342.9" cy="1151.0" r="6.0"/><circle cx="345.7" cy="1156.0" r="6.0"/><circle cx="417.5" cy="1156.9" r="6.0"/><circle cx="334.5" cy="1161.5" r="6.0"/><circle cx="409.6" cy="1160.3" r="6.0"/><circle cx="336.5" cy="1167.8" r="6.0"/><circle cx="404.6" cy="1169.5" r="6.0"/><circle cx="330.1" cy="1176.5" r="6.0"/><circle cx="394.6" cy="1180.3" r="6.0"/><circle cx="323.2" cy="1186.9" r="6.0"/><circle cx="385.2" cy="1187.1" r="6.0"/><circle cx="392.0" cy="1189.9" r="6.0"/><circle cx="318.5" cy="1194.7" r="6.0"/><circle cx="322.2" cy="1193.8" r="6.0"/><circle cx="369.1" cy="1196.1" r="6.0"/><circle cx="374.6" cy="1196.3" r="6.0"/><circle cx="317.4" cy="1201.8" r="6.0"/><circle cx="368.1" cy="1200.2" r="6.0"/><circle cx="314.6" cy="1208.7" r="6.0"/><circle cx="359.7" cy="1209.1" r="6.0"/><circle cx="311.2" cy="1215.0" r="6.0"/><circle cx="356.3" cy="1213.6" r="6.0"/><circle cx="351.6" cy="1223.2" r="6.0"/><circle cx="302.4" cy="1227.0" r="6.0"/><circle cx="327.3" cy="1229.6" r="6.0"/><circle cx="334.7" cy="1229.0" r="6.0"/><circle cx="341.9" cy="1228.4" r="6.0"/><circle cx="299.9" cy="1232.9" r="6.0"/><circle cx="307.3" cy="1234.8" r="6.0"/></g>
<circle cx="516.2" cy="961.2" r="6.0" fill="#3e58af"/>
<circle cx="492.9" cy="961.2" r="6.0" fill="#3e58af"/>
<circle cx="500.0" cy="963.2" r="6.0" fill="#3e58af"/>
<circle cx="506.1" cy="971.3" r="6.0" fill="#3e58af"/>
<circle cx="453.0" cy="999.6" r="6.0" fill="#3e58af"/>
<circle cx="524.2" cy="971.3" r="6.0" fill="#3e58af"/>
<circle cx="539.4" cy="968.3" r="6.0" fill="#3e58af"/>
<circle cx="557.6" cy="963.2" r="6.0" fill="#3e58af"/>
<circle cx="543.4" cy="1007.7" r="6.0" fill="#3e58af"/>
<circle cx="544.4" cy="1021.8" r="6.0" fill="#3e58af"/>
<circle cx="531.3" cy="1026.9" r="6.0" fill="#3e58af"/>
<circle cx="551.5" cy="1062.2" r="6.0" fill="#3e58af"/>
<circle cx="517.2" cy="1068.3" r="6.0" fill="#3e58af"/>
<circle cx="516.2" cy="1046.1" r="6.0" fill="#3e58af"/>
<circle cx="497.0" cy="1070.3" r="6.0" fill="#3e58af"/>
<circle cx="484.8" cy="1117.8" r="6.0" fill="#3e58af"/>
<circle cx="467.2" cy="1171.4" r="6.0" fill="#3e58af"/>
<circle cx="452.0" cy="1133.5" r="6.0" fill="#3e58af"/>
<circle cx="289.6" cy="1346.2" r="6.0" fill="#3e58af"/>
<circle cx="210.6" cy="1359.6" r="6.0" fill="#3e58af"/>
<circle cx="237.0" cy="1366.6" r="6.0" fill="#3e58af"/>
<circle cx="200.2" cy="1399.6" r="6.0" fill="#3e58af"/>
<circle cx="354.1" cy="1269.1" r="6.0" fill="#3e58af"/>
<circle cx="307.1" cy="1262.8" r="6.0" fill="#3e58af"/>
<circle cx="342.2" cy="1248.7" r="6.0" fill="#3e58af"/>
<circle cx="331.0" cy="1245.9" r="6.0" fill="#3e58af"/>
<circle cx="336.6" cy="1244.5" r="6.0" fill="#3e58af"/>
<circle cx="517.7" cy="951.6" r="6.0" fill="#ba407e"/>
<circle cx="485.4" cy="973.3" r="6.0" fill="#ba407e"/>
<circle cx="499.5" cy="973.3" r="6.0" fill="#ba407e"/>
<circle cx="469.2" cy="988.0" r="6.0" fill="#ba407e"/>
<circle cx="532.3" cy="969.3" r="6.0" fill="#ba407e"/>
<circle cx="507.1" cy="996.6" r="6.0" fill="#ba407e"/>
<circle cx="518.2" cy="988.5" r="6.0" fill="#ba407e"/>
<circle cx="501.0" cy="1032.9" r="6.0" fill="#ba407e"/>
<circle cx="416.2" cy="1041.0" r="6.0" fill="#ba407e"/>
<circle cx="428.3" cy="1041.0" r="6.0" fill="#ba407e"/>
<circle cx="283.3" cy="1281.7" r="6.0" fill="#ba407e"/>
<circle cx="289.6" cy="1300.7" r="6.0" fill="#ba407e"/>
<circle cx="259.4" cy="1324.5" r="6.0" fill="#ba407e"/>
<circle cx="225.5" cy="1356.1" r="6.0" fill="#ba407e"/>
<circle cx="295.9" cy="1271.2" r="6.0" fill="#ba407e"/>
<circle cx="290.3" cy="1267.0" r="6.0" fill="#ba407e"/>
<circle cx="320.5" cy="1263.5" r="6.0" fill="#ba407e"/>
<circle cx="309.9" cy="1253.0" r="6.0" fill="#ba407e"/>
<circle cx="319.8" cy="1243.1" r="6.0" fill="#ba407e"/>
<circle cx="311.3" cy="1261.4" r="6.0" fill="#ba407e"/>
</g>
<line x1="-47.35" y1="1639.13" x2="608.23" y2="899.60" stroke="#3e58af" stroke-width="3"/>
<line x1="-46.93" y1="1614.05" x2="606.00" y2="899.60" stroke="#ba407e" stroke-width="3"/>
</g>
<path d="M104.0,898.3 V1484.3 H653.5" fill="none" stroke="#333" stroke-width="1.6"/>
<line x1="91.5" y1="1454.90" x2="104.0" y2="1454.90" stroke="#111" stroke-width="1.8"/>
<text x="34.07" y="1462.70" font-size="18.8" font-weight="bold" fill="#000" textLength="54.20" lengthAdjust="spacing">30,00</text>
<line x1="91.5" y1="1366.98" x2="104.0" y2="1366.98" stroke="#111" stroke-width="1.8"/>
<text x="34.22" y="1374.78" font-size="18.8" font-weight="bold" fill="#000" textLength="54.06" lengthAdjust="spacing">40,00</text>
<line x1="91.5" y1="1279.06" x2="104.0" y2="1279.06" stroke="#111" stroke-width="1.8"/>
<text x="33.92" y="1286.86" font-size="18.8" font-weight="bold" fill="#000" textLength="54.35" lengthAdjust="spacing">50,00</text>
<line x1="91.5" y1="1191.14" x2="104.0" y2="1191.14" stroke="#111" stroke-width="1.8"/>
<text x="33.81" y="1198.94" font-size="18.8" font-weight="bold" fill="#000" textLength="54.46" lengthAdjust="spacing">60,00</text>
<line x1="91.5" y1="1103.22" x2="104.0" y2="1103.22" stroke="#111" stroke-width="1.8"/>
<text x="33.69" y="1111.02" font-size="18.8" font-weight="bold" fill="#000" textLength="54.58" lengthAdjust="spacing">70,00</text>
<line x1="91.5" y1="1015.30" x2="104.0" y2="1015.30" stroke="#111" stroke-width="1.8"/>
<text x="33.90" y="1023.10" font-size="18.8" font-weight="bold" fill="#000" textLength="54.37" lengthAdjust="spacing">80,00</text>
<line x1="91.5" y1="927.38" x2="104.0" y2="927.38" stroke="#111" stroke-width="1.8"/>
<text x="33.85" y="935.18" font-size="18.8" font-weight="bold" fill="#000" textLength="54.42" lengthAdjust="spacing">90,00</text>
<line x1="131.40" y1="1484.3" x2="131.40" y2="1496.7" stroke="#111" stroke-width="1.8"/>
<text x="105.77" y="1516.10" font-size="18.8" font-weight="bold" fill="#000" textLength="54.20" lengthAdjust="spacing">30,00</text>
<line x1="202.04" y1="1484.3" x2="202.04" y2="1496.7" stroke="#111" stroke-width="1.8"/>
<text x="176.56" y="1516.10" font-size="18.8" font-weight="bold" fill="#000" textLength="54.06" lengthAdjust="spacing">40,00</text>
<line x1="272.68" y1="1484.3" x2="272.68" y2="1496.7" stroke="#111" stroke-width="1.8"/>
<text x="246.90" y="1516.10" font-size="18.8" font-weight="bold" fill="#000" textLength="54.35" lengthAdjust="spacing">50,00</text>
<line x1="343.32" y1="1484.3" x2="343.32" y2="1496.7" stroke="#111" stroke-width="1.8"/>
<text x="317.43" y="1516.10" font-size="18.8" font-weight="bold" fill="#000" textLength="54.46" lengthAdjust="spacing">60,00</text>
<line x1="413.96" y1="1484.3" x2="413.96" y2="1496.7" stroke="#111" stroke-width="1.8"/>
<text x="387.95" y="1516.10" font-size="18.8" font-weight="bold" fill="#000" textLength="54.58" lengthAdjust="spacing">70,00</text>
<line x1="484.60" y1="1484.3" x2="484.60" y2="1496.7" stroke="#111" stroke-width="1.8"/>
<text x="458.80" y="1516.10" font-size="18.8" font-weight="bold" fill="#000" textLength="54.37" lengthAdjust="spacing">80,00</text>
<line x1="555.24" y1="1484.3" x2="555.24" y2="1496.7" stroke="#111" stroke-width="1.8"/>
<text x="529.39" y="1516.10" font-size="18.8" font-weight="bold" fill="#000" textLength="54.42" lengthAdjust="spacing">90,00</text>
<line x1="625.88" y1="1484.3" x2="625.88" y2="1496.7" stroke="#111" stroke-width="1.8"/>
<text x="593.80" y="1516.10" font-size="18.8" font-weight="bold" fill="#000" textLength="66.36" lengthAdjust="spacing">100,00</text>
<text x="220.48" y="1544.60" font-size="24.2" font-weight="bold" fill="#000" textLength="307.75" lengthAdjust="spacing">RIGHT 4D FINGER MEAN</text>
<text transform="translate(24.30,1344.72) rotate(-90)" x="0" y="0" font-size="24.2" font-weight="bold" textLength="310.05" lengthAdjust="spacing">RIGHT 2D FINGER MEAN</text>
<text x="112.75" y="918.90" font-size="30.6" font-weight="bold" fill="#278b17" textLength="283.61" lengthAdjust="spacing">EUROPEAN ORIGIN</text>
<circle cx="119.2" cy="949.2" r="6.3" fill="#3e58af"/>
<circle cx="119.2" cy="970.8" r="6.3" fill="#ba407e"/>
<text x="134.73" y="957.40" font-size="17.5" font-weight="bold" fill="#000" textLength="73.23" lengthAdjust="spacing">MALE: R</text>
<text transform="translate(207.75,950.90) scale(1.028,1)" font-size="12.60" font-weight="normal" fill="#000">2</text>
<text x="218.83" y="957.40" font-size="17.5" font-weight="bold" fill="#000" textLength="130.06" lengthAdjust="spacing">Linear = 0,854</text>
<text x="133.13" y="978.20" font-size="17.5" font-weight="bold" fill="#000" textLength="96.43" lengthAdjust="spacing">FEMALE: R</text>
<text transform="translate(229.35,971.70) scale(1.028,1)" font-size="12.60" font-weight="normal" fill="#000">2</text>
<text x="240.43" y="978.20" font-size="17.5" font-weight="bold" fill="#000" textLength="130.92" lengthAdjust="spacing">Linear = 0,779</text>
<text transform="translate(104.07,860.64) scale(1.048,1)" font-size="56.95" font-weight="bold" fill="#000">c</text>
<rect x="287.0" y="1152.0" width="142.4" height="28.4" fill="#fff" stroke="#ba407e" stroke-width="1.5"/>
<text x="291.16" y="1173.10" font-size="18.2" font-weight="normal" fill="#000" textLength="130.94" lengthAdjust="spacing">y=7,54+0,88*x</text>
<rect x="286.3" y="1202.0" width="142.0" height="27.8" fill="#fff" stroke="#3e58af" stroke-width="1.5"/>
<text x="290.46" y="1222.50" font-size="18.2" font-weight="normal" fill="#000" textLength="130.54" lengthAdjust="spacing">y=4,68+0,91*x</text>
</g>
<g transform="translate(670.3,0)">
<clipPath id="clipd"><rect x="104.0" y="898.3" width="549.5" height="586.0"/></clipPath>
<g clip-path="url(#clipd)">
<g transform="translate(-670.3,0)">
<polygon points="879.3,1369.6 885.5,1367.2 895.9,1359.4 899.4,1354.7 906.5,1343.3 911.0,1328.3 911.2,1327.7 911.2,1327.6 911.7,1326.5 911.7,1326.3 912.2,1325.4 909.1,1327.0 902.3,1333.8 902.1,1334.0 902.0,1334.1 901.8,1334.3 886.1,1348.5 880.5,1366.7 880.4,1367.2 880.3,1367.4 879.9,1368.3 879.9,1368.4 879.7,1368.9 879.3,1369.6" fill="#3e58af"/>
<polygon points="922.4,1318.5 922.4,1318.5 923.0,1318.4 934.8,1317.2 936.7,1315.3 942.5,1305.2 942.8,1304.7 942.9,1304.5 943.6,1303.6 943.7,1303.4 944.4,1302.6 944.6,1302.4 945.4,1301.7 945.5,1301.5 946.4,1300.8 946.6,1300.7 947.5,1300.1 947.7,1300.0 948.7,1299.5 948.9,1299.4 949.9,1299.0 950.1,1298.9 951.2,1298.6 951.4,1298.5 951.9,1298.4 956.2,1297.5 961.6,1292.1 962.0,1291.7 962.2,1291.6 963.1,1290.9 963.2,1290.7 964.2,1290.1 964.3,1290.0 965.4,1289.4 965.5,1289.4 966.6,1288.9 966.8,1288.8 967.9,1288.5 968.1,1288.5 969.2,1288.2 969.4,1288.2 970.0,1288.1 973.9,1287.7 974.4,1282.1 974.5,1281.5 974.5,1281.3 974.8,1280.1 974.8,1279.9 975.2,1278.8 975.2,1278.6 975.7,1277.5 975.8,1277.3 976.4,1276.2 976.5,1276.1 977.2,1275.1 977.3,1274.9 978.1,1274.0 978.2,1273.8 979.1,1273.0 979.2,1272.9 980.2,1272.1 980.4,1272.0 981.4,1271.4 981.6,1271.3 982.1,1271.0 988.4,1267.8 993.0,1259.7 993.3,1259.2 993.5,1259.0 993.8,1258.5 1002.2,1246.7 1002.6,1246.2 1002.7,1246.1 1003.6,1245.1 1003.7,1244.9 1004.7,1244.1 1004.9,1243.9 1005.9,1243.2 1006.1,1243.1 1006.7,1242.7 1018.2,1236.1 1018.1,1235.0 1018.1,1234.8 1018.2,1233.7 1018.2,1233.5 1018.3,1232.3 1018.4,1232.1 1018.6,1231.0 1018.7,1230.8 1019.1,1229.7 1019.1,1229.5 1019.6,1228.4 1019.7,1228.2 1020.3,1227.2 1020.4,1227.1 1021.1,1226.1 1021.2,1225.9 1022.0,1225.1 1022.1,1224.9 1022.9,1224.1 1023.1,1224.0 1024.0,1223.3 1024.2,1223.2 1025.2,1222.5 1025.3,1222.4 1025.9,1222.2 1034.9,1217.7 1072.4,1189.9 1073.6,1189.0 1072.4,1184.2 1072.3,1183.6 1072.2,1183.4 1072.1,1182.2 1072.0,1182.0 1072.0,1180.8 1072.0,1180.6 1072.1,1179.5 1072.1,1179.3 1072.3,1178.1 1072.3,1177.9 1072.6,1176.7 1072.7,1176.5 1073.1,1175.4 1073.2,1175.2 1073.7,1174.1 1073.8,1174.0 1074.4,1173.0 1074.5,1172.8 1075.2,1171.8 1075.4,1171.7 1076.2,1170.8 1076.3,1170.7 1077.2,1169.9 1077.4,1169.8 1078.4,1169.1 1078.5,1169.0 1079.0,1168.7 1089.9,1162.5 1095.3,1158.2 1103.1,1143.9 1103.0,1143.2 1103.0,1143.1 1103.0,1141.9 1103.0,1141.7 1103.1,1140.5 1103.1,1140.3 1103.3,1139.1 1103.4,1138.9 1103.7,1137.8 1103.8,1137.6 1104.2,1136.5 1104.3,1136.3 1104.8,1135.3 1104.9,1135.1 1105.6,1134.1 1105.7,1133.9 1106.0,1133.5 1111.4,1126.7 1111.8,1126.3 1111.9,1126.2 1112.7,1125.4 1112.8,1125.2 1113.7,1124.5 1113.8,1124.4 1114.8,1123.7 1114.9,1123.6 1115.4,1123.3 1122.0,1119.6 1125.3,1114.5 1129.2,1108.1 1133.2,1101.3 1133.6,1100.8 1133.7,1100.6 1134.5,1099.6 1134.6,1099.5 1135.4,1098.6 1135.6,1098.4 1136.5,1097.6 1136.7,1097.5 1137.7,1096.8 1137.9,1096.6 1139.0,1096.0 1139.2,1095.9 1139.7,1095.7 1149.2,1091.6 1149.8,1091.4 1150.1,1091.3 1150.5,1091.2 1149.6,1090.6 1149.1,1090.2 1149.0,1090.1 1148.1,1089.4 1147.9,1089.2 1147.1,1088.4 1146.9,1088.3 1146.2,1087.4 1146.1,1087.2 1145.4,1086.2 1145.3,1086.0 1144.8,1085.0 1144.7,1084.8 1144.2,1083.7 1144.2,1083.6 1143.8,1082.4 1143.8,1082.2 1143.6,1081.7 1141.0,1068.2 1140.9,1067.6 1140.8,1067.4 1140.7,1066.3 1140.7,1066.1 1140.7,1064.9 1140.7,1064.7 1140.8,1063.5 1140.8,1063.3 1141.1,1062.2 1141.1,1062.0 1141.5,1060.8 1141.5,1060.7 1142.0,1059.6 1142.1,1059.4 1142.6,1058.3 1142.7,1058.2 1143.4,1057.2 1143.5,1057.0 1144.2,1056.1 1144.4,1056.0 1144.8,1055.6 1151.5,1048.8 1151.9,1048.4 1152.1,1048.3 1153.0,1047.5 1153.2,1047.4 1154.1,1046.8 1154.3,1046.7 1155.3,1046.1 1155.5,1046.0 1156.6,1045.6 1156.8,1045.5 1157.9,1045.2 1158.1,1045.1 1158.7,1045.0 1164.1,1043.9 1166.0,1043.1 1167.7,1040.9 1168.1,1040.4 1168.2,1040.3 1169.0,1039.5 1169.1,1039.3 1169.9,1038.6 1170.1,1038.4 1170.5,1038.1 1172.9,1036.3 1175.5,1030.3 1175.7,1029.7 1175.8,1029.6 1176.4,1028.5 1176.6,1028.3 1177.3,1027.3 1177.4,1027.1 1178.2,1026.2 1178.4,1026.0 1179.3,1025.2 1179.4,1025.0 1180.4,1024.3 1180.6,1024.2 1181.1,1023.8 1184.5,1021.8 1183.9,1020.5 1183.7,1020.0 1183.6,1019.8 1183.2,1018.8 1183.1,1018.6 1182.8,1017.5 1182.8,1017.3 1182.6,1016.1 1182.5,1015.9 1182.5,1015.7 1182.3,1015.7 1171.5,1018.4 1166.2,1019.8 1165.6,1019.9 1165.4,1019.9 1164.2,1020.1 1164.0,1020.1 1162.9,1020.2 1162.7,1020.2 1161.5,1020.1 1161.3,1020.1 1160.1,1019.9 1159.9,1019.9 1158.8,1019.6 1158.6,1019.6 1157.5,1019.2 1157.4,1019.1 1157.2,1019.2 1157.0,1019.3 1156.4,1019.5 1149.6,1021.7 1141.8,1026.2 1130.1,1034.0 1129.7,1034.3 1129.5,1034.4 1128.6,1034.9 1128.4,1035.0 1127.5,1035.4 1127.3,1035.5 1126.8,1035.6 1126.4,1035.8 1125.3,1041.3 1125.2,1041.8 1125.1,1042.0 1124.8,1043.1 1124.7,1043.3 1124.3,1044.4 1124.2,1044.6 1123.6,1045.6 1123.5,1045.8 1123.2,1046.3 1117.8,1054.4 1117.5,1054.8 1117.4,1055.0 1116.7,1055.9 1116.5,1056.0 1115.7,1056.8 1115.6,1057.0 1114.7,1057.7 1114.6,1057.8 1113.6,1058.5 1113.4,1058.6 1112.4,1059.1 1112.3,1059.2 1111.2,1059.7 1111.0,1059.7 1109.9,1060.1 1109.8,1060.1 1108.6,1060.4 1108.4,1060.4 1107.3,1060.6 1107.1,1060.6 1106.0,1060.6 1105.8,1060.6 1104.6,1060.5 1104.4,1060.5 1103.3,1060.3 1103.1,1060.3 1102.0,1060.0 1101.8,1059.9 1101.3,1059.7 1098.6,1058.7 1096.7,1061.9 1096.2,1062.6 1096.1,1062.8 1095.6,1063.4 1090.2,1070.2 1089.8,1070.6 1089.7,1070.8 1088.8,1071.6 1088.7,1071.8 1087.8,1072.5 1087.6,1072.6 1086.6,1073.3 1086.5,1073.4 1085.4,1074.0 1085.2,1074.1 1084.1,1074.5 1083.9,1074.6 1082.8,1075.0 1082.6,1075.0 1081.4,1075.2 1081.2,1075.3 1080.7,1075.3 1078.9,1075.5 1078.4,1082.6 1078.3,1083.2 1078.3,1083.4 1078.1,1084.6 1078.1,1084.8 1077.7,1086.0 1077.7,1086.2 1077.2,1087.3 1077.1,1087.5 1076.6,1088.6 1076.5,1088.8 1075.8,1089.8 1075.7,1090.0 1074.9,1090.9 1074.8,1091.1 1074.3,1091.5 1070.3,1095.6 1069.8,1096.1 1069.6,1096.2 1068.4,1097.1 1068.2,1097.3 1067.6,1097.7 1060.9,1101.7 1060.9,1108.6 1060.9,1109.1 1060.9,1109.3 1060.8,1110.4 1060.8,1110.6 1060.6,1111.7 1060.5,1111.9 1060.2,1113.0 1060.1,1113.2 1059.7,1114.2 1059.7,1114.4 1059.1,1115.4 1059.1,1115.6 1058.4,1116.5 1058.3,1116.7 1057.6,1117.6 1057.5,1117.7 1056.7,1118.5 1056.6,1118.7 1055.8,1119.4 1055.6,1119.5 1054.7,1120.2 1054.5,1120.3 1053.6,1120.9 1053.4,1121.0 1052.9,1121.2 1031.4,1131.3 1030.9,1135.4 1029.2,1151.9 1029.1,1152.5 1029.1,1152.7 1028.9,1153.8 1028.8,1154.0 1028.5,1155.1 1028.4,1155.3 1028.0,1156.4 1027.9,1156.6 1027.3,1157.6 1027.2,1157.8 1026.6,1158.8 1026.5,1158.9 1025.7,1159.8 1025.6,1160.0 1025.2,1160.4 988.1,1197.4 987.7,1197.8 987.6,1198.0 986.7,1198.7 986.5,1198.8 985.5,1199.5 985.4,1199.6 984.3,1200.1 984.2,1200.2 983.6,1200.5 979.2,1202.3 969.5,1229.3 969.3,1229.8 969.3,1230.0 968.8,1231.0 968.7,1231.1 968.2,1232.1 968.1,1232.2 967.4,1233.1 967.3,1233.3 966.6,1234.1 966.5,1234.2 965.7,1235.0 965.6,1235.1 964.7,1235.8 964.6,1235.9 964.1,1236.2 963.1,1236.9 962.7,1238.0 964.6,1243.7 964.8,1244.3 964.8,1244.5 965.1,1245.7 965.1,1245.9 965.3,1247.1 965.3,1247.3 965.3,1248.5 965.3,1248.7 965.2,1249.9 965.2,1250.1 965.0,1251.3 964.9,1251.5 964.6,1252.6 964.5,1252.8 964.1,1253.9 964.0,1254.1 963.4,1255.2 963.3,1255.4 962.6,1256.4 962.5,1256.5 961.8,1257.5 961.6,1257.6 961.2,1258.0 953.1,1266.1 947.5,1280.3 947.2,1280.9 947.1,1281.0 946.6,1282.1 946.5,1282.3 946.1,1282.8 939.4,1293.0 939.0,1293.5 938.9,1293.7 938.0,1294.7 937.8,1294.9 936.8,1295.8 936.7,1296.0 936.1,1296.4 926.8,1303.4 924.6,1313.5 924.4,1314.0 924.4,1314.2 924.0,1315.4 923.9,1315.5 923.5,1316.6 923.4,1316.8 922.8,1317.8 922.7,1318.0 922.4,1318.5" fill="#3e58af"/>
<g fill="#3e58af"><circle cx="866.1" cy="1385.2" r="6.0"/><circle cx="872.7" cy="1382.5" r="6.0"/><circle cx="878.5" cy="1376.9" r="6.0"/><circle cx="883.5" cy="1374.5" r="6.0"/><circle cx="890.3" cy="1369.9" r="6.0"/><circle cx="901.0" cy="1362.9" r="6.0"/><circle cx="906.1" cy="1355.6" r="6.0"/><circle cx="913.0" cy="1346.0" r="6.0"/><circle cx="916.7" cy="1330.7" r="6.0"/><circle cx="918.7" cy="1325.4" r="6.0"/><circle cx="927.1" cy="1323.6" r="6.0"/><circle cx="938.6" cy="1320.7" r="6.0"/><circle cx="943.8" cy="1315.1" r="6.0"/><circle cx="947.8" cy="1310.6" r="6.0"/><circle cx="951.3" cy="1304.8" r="6.0"/><circle cx="957.8" cy="1304.4" r="6.0"/><circle cx="962.5" cy="1299.3" r="6.0"/><circle cx="968.1" cy="1295.3" r="6.0"/><circle cx="978.9" cy="1291.0" r="6.0"/><circle cx="980.3" cy="1282.8" r="6.0"/><circle cx="982.9" cy="1277.9" r="6.0"/><circle cx="988.7" cy="1274.9" r="6.0"/><circle cx="1006.6" cy="1252.8" r="6.0"/><circle cx="1010.1" cy="1247.6" r="6.0"/><circle cx="1015.8" cy="1243.9" r="6.0"/><circle cx="1023.9" cy="1236.3" r="6.0"/><circle cx="1039.4" cy="1221.7" r="6.0"/><circle cx="1045.0" cy="1217.3" r="6.0"/><circle cx="1049.1" cy="1213.5" r="6.0"/><circle cx="1055.8" cy="1210.4" r="6.0"/><circle cx="1061.4" cy="1207.0" r="6.0"/><circle cx="1065.6" cy="1201.8" r="6.0"/><circle cx="1071.2" cy="1198.0" r="6.0"/><circle cx="1076.8" cy="1192.7" r="6.0"/><circle cx="1077.9" cy="1181.4" r="6.0"/><circle cx="1092.9" cy="1166.9" r="6.0"/><circle cx="1103.0" cy="1159.7" r="6.0"/><circle cx="1106.1" cy="1152.9" r="6.0"/><circle cx="1109.0" cy="1147.6" r="6.0"/><circle cx="1108.7" cy="1139.6" r="6.0"/><circle cx="1124.5" cy="1125.1" r="6.0"/><circle cx="1129.5" cy="1120.9" r="6.0"/><circle cx="1131.3" cy="1114.9" r="6.0"/><circle cx="1140.6" cy="1103.4" r="6.0"/><circle cx="1145.9" cy="1100.4" r="6.0"/><circle cx="1152.0" cy="1096.4" r="6.0"/><circle cx="1158.1" cy="1096.7" r="6.0"/><circle cx="1154.2" cy="1085.5" r="6.0"/><circle cx="1150.0" cy="1080.6" r="6.0"/><circle cx="1147.9" cy="1060.1" r="6.0"/><circle cx="1153.7" cy="1055.4" r="6.0"/><circle cx="1158.7" cy="1052.2" r="6.0"/><circle cx="1175.5" cy="1041.7" r="6.0"/><circle cx="1179.9" cy="1036.9" r="6.0"/><circle cx="1183.6" cy="1031.0" r="6.0"/><circle cx="1191.6" cy="1021.9" r="6.0"/><circle cx="1187.4" cy="1014.8" r="6.0"/><circle cx="1189.8" cy="1007.5" r="6.0"/><circle cx="1181.2" cy="1010.2" r="6.0"/><circle cx="1174.6" cy="1012.4" r="6.0"/><circle cx="1167.2" cy="1014.0" r="6.0"/><circle cx="1156.0" cy="1014.3" r="6.0"/><circle cx="1148.1" cy="1016.4" r="6.0"/><circle cx="1143.2" cy="1018.2" r="6.0"/><circle cx="1132.0" cy="1025.8" r="6.0"/><circle cx="1119.6" cy="1034.0" r="6.0"/><circle cx="1118.9" cy="1039.9" r="6.0"/><circle cx="1111.6" cy="1052.1" r="6.0"/><circle cx="1105.8" cy="1053.9" r="6.0"/><circle cx="1099.0" cy="1052.2" r="6.0"/><circle cx="1094.9" cy="1055.1" r="6.0"/><circle cx="1078.7" cy="1069.3" r="6.0"/><circle cx="1073.7" cy="1069.6" r="6.0"/><circle cx="1072.7" cy="1076.3" r="6.0"/><circle cx="1073.0" cy="1083.5" r="6.0"/><circle cx="1067.0" cy="1089.7" r="6.0"/><circle cx="1062.7" cy="1093.0" r="6.0"/><circle cx="1056.7" cy="1098.5" r="6.0"/><circle cx="1054.0" cy="1104.0" r="6.0"/><circle cx="1053.6" cy="1111.1" r="6.0"/><circle cx="1050.4" cy="1115.8" r="6.0"/><circle cx="1045.0" cy="1119.8" r="6.0"/><circle cx="1038.6" cy="1122.6" r="6.0"/><circle cx="1032.8" cy="1124.8" r="6.0"/><circle cx="1025.1" cy="1126.6" r="6.0"/><circle cx="1024.6" cy="1135.0" r="6.0"/><circle cx="1024.6" cy="1141.8" r="6.0"/><circle cx="1024.7" cy="1148.3" r="6.0"/><circle cx="1021.1" cy="1154.3" r="6.0"/><circle cx="1016.6" cy="1161.2" r="6.0"/><circle cx="1002.6" cy="1174.9" r="6.0"/><circle cx="992.9" cy="1184.7" r="6.0"/><circle cx="983.6" cy="1194.8" r="6.0"/><circle cx="977.1" cy="1197.1" r="6.0"/><circle cx="972.9" cy="1203.3" r="6.0"/><circle cx="969.0" cy="1214.8" r="6.0"/><circle cx="966.8" cy="1222.7" r="6.0"/><circle cx="959.3" cy="1232.8" r="6.0"/><circle cx="953.0" cy="1256.7" r="6.0"/><circle cx="947.8" cy="1262.3" r="6.0"/><circle cx="945.9" cy="1267.8" r="6.0"/><circle cx="940.1" cy="1280.4" r="6.0"/><circle cx="937.1" cy="1287.5" r="6.0"/><circle cx="925.3" cy="1297.0" r="6.0"/><circle cx="920.2" cy="1306.6" r="6.0"/><circle cx="917.5" cy="1315.3" r="6.0"/><circle cx="913.7" cy="1318.6" r="6.0"/><circle cx="907.7" cy="1320.5" r="6.0"/><circle cx="900.5" cy="1326.7" r="6.0"/><circle cx="895.8" cy="1331.6" r="6.0"/><circle cx="892.3" cy="1335.2" r="6.0"/><circle cx="885.1" cy="1340.2" r="6.0"/><circle cx="880.7" cy="1344.5" r="6.0"/><circle cx="878.8" cy="1351.9" r="6.0"/><circle cx="877.0" cy="1357.4" r="6.0"/><circle cx="875.4" cy="1364.7" r="6.0"/><circle cx="872.4" cy="1370.7" r="6.0"/><circle cx="869.7" cy="1376.8" r="6.0"/><circle cx="865.3" cy="1383.8" r="6.0"/><circle cx="1187.2" cy="1009.7" r="6.0"/><circle cx="1146.4" cy="1017.7" r="6.0"/><circle cx="1152.1" cy="1015.8" r="6.0"/><circle cx="1158.8" cy="1018.2" r="6.0"/><circle cx="1176.9" cy="1018.2" r="6.0"/><circle cx="1187.3" cy="1015.6" r="6.0"/><circle cx="1140.6" cy="1022.3" r="6.0"/><circle cx="1146.8" cy="1022.6" r="6.0"/><circle cx="1188.0" cy="1024.0" r="6.0"/><circle cx="1122.7" cy="1031.1" r="6.0"/><circle cx="1176.8" cy="1030.7" r="6.0"/><circle cx="1173.7" cy="1036.1" r="6.0"/><circle cx="1120.6" cy="1044.8" r="6.0"/><circle cx="1168.5" cy="1045.1" r="6.0"/><circle cx="1153.7" cy="1049.8" r="6.0"/><circle cx="1100.1" cy="1058.4" r="6.0"/><circle cx="1143.8" cy="1056.1" r="6.0"/><circle cx="1093.3" cy="1061.9" r="6.0"/><circle cx="1146.2" cy="1064.9" r="6.0"/><circle cx="1079.5" cy="1068.1" r="6.0"/><circle cx="1083.9" cy="1070.0" r="6.0"/><circle cx="1144.3" cy="1077.5" r="6.0"/><circle cx="1069.7" cy="1089.7" r="6.0"/><circle cx="1076.5" cy="1089.7" r="6.0"/><circle cx="1156.2" cy="1091.3" r="6.0"/><circle cx="1060.6" cy="1095.7" r="6.0"/><circle cx="1067.6" cy="1097.7" r="6.0"/><circle cx="1053.8" cy="1109.5" r="6.0"/><circle cx="1128.4" cy="1109.3" r="6.0"/><circle cx="1134.0" cy="1110.1" r="6.0"/><circle cx="1049.2" cy="1117.1" r="6.0"/><circle cx="1039.3" cy="1122.2" r="6.0"/><circle cx="1044.6" cy="1121.3" r="6.0"/><circle cx="1120.2" cy="1121.5" r="6.0"/><circle cx="1025.2" cy="1136.2" r="6.0"/><circle cx="1104.9" cy="1137.0" r="6.0"/><circle cx="1110.4" cy="1135.1" r="6.0"/><circle cx="1107.4" cy="1142.6" r="6.0"/><circle cx="1026.7" cy="1148.9" r="6.0"/><circle cx="1029.0" cy="1157.6" r="6.0"/><circle cx="1006.3" cy="1167.7" r="6.0"/><circle cx="1015.5" cy="1169.0" r="6.0"/><circle cx="1011.3" cy="1176.4" r="6.0"/><circle cx="997.7" cy="1181.1" r="6.0"/><circle cx="1072.8" cy="1182.2" r="6.0"/><circle cx="982.8" cy="1196.5" r="6.0"/><circle cx="989.1" cy="1197.4" r="6.0"/><circle cx="977.5" cy="1204.0" r="6.0"/><circle cx="1059.5" cy="1201.9" r="6.0"/><circle cx="1055.5" cy="1209.5" r="6.0"/><circle cx="972.8" cy="1216.7" r="6.0"/><circle cx="1044.9" cy="1215.2" r="6.0"/><circle cx="964.7" cy="1223.5" r="6.0"/><circle cx="1031.9" cy="1219.8" r="6.0"/><circle cx="1025.1" cy="1227.3" r="6.0"/><circle cx="1013.5" cy="1241.9" r="6.0"/><circle cx="963.6" cy="1247.3" r="6.0"/><circle cx="964.7" cy="1254.8" r="6.0"/><circle cx="957.4" cy="1262.5" r="6.0"/><circle cx="998.1" cy="1262.0" r="6.0"/><circle cx="951.0" cy="1266.1" r="6.0"/><circle cx="944.3" cy="1275.6" r="6.0"/><circle cx="985.8" cy="1276.0" r="6.0"/><circle cx="943.0" cy="1279.7" r="6.0"/><circle cx="947.6" cy="1279.2" r="6.0"/><circle cx="973.2" cy="1279.7" r="6.0"/><circle cx="938.5" cy="1288.5" r="6.0"/><circle cx="971.4" cy="1288.5" r="6.0"/><circle cx="977.8" cy="1288.5" r="6.0"/><circle cx="928.8" cy="1301.9" r="6.0"/><circle cx="949.7" cy="1299.9" r="6.0"/><circle cx="957.5" cy="1299.8" r="6.0"/><circle cx="924.0" cy="1315.2" r="6.0"/><circle cx="935.3" cy="1321.7" r="6.0"/><circle cx="903.0" cy="1327.4" r="6.0"/><circle cx="915.4" cy="1327.5" r="6.0"/><circle cx="909.1" cy="1332.2" r="6.0"/><circle cx="897.7" cy="1339.7" r="6.0"/><circle cx="879.2" cy="1352.8" r="6.0"/><circle cx="904.9" cy="1352.1" r="6.0"/><circle cx="895.5" cy="1358.6" r="6.0"/><circle cx="876.0" cy="1367.6" r="6.0"/><circle cx="892.7" cy="1366.0" r="6.0"/><circle cx="872.2" cy="1374.6" r="6.0"/><circle cx="870.6" cy="1379.4" r="6.0"/></g>
<polygon points="922.9,1311.7 935.3,1310.9 936.4,1307.1 936.6,1306.5 936.6,1306.4 937.2,1305.2 937.2,1305.1 937.5,1304.5 944.3,1292.7 944.6,1292.2 944.6,1292.1 945.3,1291.2 945.3,1291.1 946.1,1290.3 946.1,1290.2 947.0,1289.5 947.0,1289.4 947.5,1289.1 960.3,1279.5 966.4,1273.3 966.7,1273.0 966.8,1273.0 967.1,1272.7 978.9,1262.6 979.3,1262.3 979.3,1262.2 980.2,1261.6 980.3,1261.5 981.2,1261.0 981.3,1261.0 982.3,1260.5 982.4,1260.5 982.9,1260.3 987.1,1258.9 990.3,1248.1 990.5,1247.5 990.5,1247.4 990.9,1246.4 991.0,1246.3 991.5,1245.4 991.6,1245.3 992.2,1244.4 992.2,1244.3 992.9,1243.4 993.0,1243.4 993.8,1242.6 993.9,1242.5 994.7,1241.8 994.8,1241.8 995.7,1241.2 995.8,1241.1 996.8,1240.6 996.9,1240.6 997.9,1240.2 998.0,1240.1 998.5,1240.0 1008.8,1237.0 1013.2,1234.4 1018.3,1225.4 1018.7,1224.8 1018.8,1224.7 1019.2,1224.1 1029.3,1210.6 1029.6,1210.2 1029.6,1210.2 1030.3,1209.4 1030.4,1209.3 1030.8,1209.0 1049.3,1192.1 1049.8,1191.7 1049.8,1191.7 1050.8,1191.0 1050.9,1190.9 1051.4,1190.6 1058.8,1186.4 1060.9,1177.9 1061.0,1177.4 1061.1,1177.3 1061.4,1176.3 1061.4,1176.2 1061.9,1175.3 1061.9,1175.2 1062.5,1174.3 1062.5,1174.2 1063.1,1173.3 1063.2,1173.3 1063.9,1172.5 1064.0,1172.4 1064.7,1171.7 1064.8,1171.6 1065.6,1171.0 1065.7,1170.9 1066.6,1170.4 1066.7,1170.3 1067.2,1170.1 1068.2,1169.6 1073.0,1163.5 1079.6,1153.9 1084.6,1143.7 1084.9,1143.2 1084.9,1143.1 1085.5,1142.3 1085.5,1142.2 1085.8,1141.8 1093.9,1131.0 1094.4,1130.4 1094.5,1130.3 1095.0,1129.7 1103.1,1121.6 1103.5,1121.2 1103.6,1121.2 1104.4,1120.5 1104.5,1120.4 1104.9,1120.1 1107.7,1118.3 1107.7,1113.9 1107.7,1113.3 1107.7,1113.2 1107.8,1112.1 1107.8,1112.0 1108.1,1110.8 1108.1,1110.7 1108.3,1110.1 1111.0,1102.1 1111.1,1101.6 1111.2,1101.5 1111.6,1100.6 1111.6,1100.6 1112.1,1099.7 1112.1,1099.6 1112.6,1098.8 1112.7,1098.7 1113.0,1098.4 1118.2,1091.9 1123.1,1085.0 1124.0,1079.6 1124.1,1079.1 1124.1,1079.0 1124.4,1077.8 1124.5,1077.7 1124.7,1077.2 1127.4,1070.4 1127.6,1070.0 1127.6,1069.9 1128.1,1069.0 1128.1,1068.9 1128.6,1068.1 1128.7,1068.0 1129.3,1067.2 1129.4,1067.1 1130.0,1066.4 1130.1,1066.3 1130.9,1065.6 1130.9,1065.6 1131.3,1065.3 1132.9,1064.1 1134.8,1052.7 1134.9,1052.2 1134.9,1052.1 1135.2,1051.0 1135.2,1050.9 1135.6,1049.8 1135.7,1049.7 1136.2,1048.7 1136.2,1048.6 1136.8,1047.7 1136.9,1047.6 1137.0,1047.5 1136.3,1047.2 1134.1,1047.6 1133.6,1047.7 1133.5,1047.7 1132.4,1047.8 1132.3,1047.8 1131.3,1047.8 1131.2,1047.8 1130.1,1047.7 1130.0,1047.7 1128.9,1047.5 1128.8,1047.5 1127.8,1047.1 1127.7,1047.1 1126.7,1046.7 1126.6,1046.7 1125.7,1046.1 1125.6,1046.1 1125.3,1045.9 1125.0,1046.6 1125.0,1046.7 1124.4,1047.7 1124.3,1047.7 1123.7,1048.7 1123.6,1048.7 1123.2,1049.2 1112.5,1061.3 1112.1,1061.7 1112.0,1061.8 1111.2,1062.5 1111.1,1062.6 1110.2,1063.3 1110.2,1063.3 1109.2,1063.9 1109.1,1063.9 1108.1,1064.4 1108.0,1064.4 1107.0,1064.8 1106.9,1064.8 1105.8,1065.1 1105.7,1065.1 1104.6,1065.3 1104.5,1065.3 1103.4,1065.3 1103.3,1065.3 1102.2,1065.3 1102.1,1065.3 1101.0,1065.1 1100.9,1065.1 1099.9,1064.8 1099.8,1064.7 1099.6,1064.7 1099.1,1065.3 1099.0,1065.4 1098.3,1066.1 1098.2,1066.1 1097.5,1066.8 1097.4,1066.8 1097.0,1067.1 1087.6,1073.9 1087.1,1074.2 1087.1,1074.2 1086.1,1074.8 1086.1,1074.8 1085.1,1075.2 1085.0,1075.3 1084.0,1075.6 1083.9,1075.6 1082.9,1075.9 1082.8,1075.9 1081.8,1076.1 1081.7,1076.1 1080.6,1076.1 1080.5,1076.1 1079.4,1076.1 1079.4,1076.0 1078.3,1075.9 1078.2,1075.9 1077.7,1075.7 1076.7,1075.5 1076.4,1076.1 1076.4,1085.7 1076.4,1086.2 1076.4,1086.3 1076.3,1087.4 1076.3,1087.5 1076.1,1088.6 1076.1,1088.7 1075.7,1089.7 1075.7,1089.8 1075.3,1090.8 1075.2,1090.9 1074.7,1091.8 1074.7,1091.9 1074.1,1092.8 1074.0,1092.9 1073.7,1093.3 1066.9,1101.4 1066.6,1101.8 1066.5,1101.9 1065.7,1102.6 1065.7,1102.7 1064.8,1103.4 1064.8,1103.4 1063.9,1104.0 1063.8,1104.1 1062.8,1104.6 1062.8,1104.6 1061.8,1105.0 1061.7,1105.1 1060.6,1105.4 1060.6,1105.4 1059.5,1105.6 1059.4,1105.6 1058.9,1105.7 1058.9,1108.6 1058.9,1109.1 1058.9,1109.2 1058.8,1110.2 1058.8,1110.3 1058.6,1111.3 1058.6,1111.4 1058.3,1112.4 1058.3,1112.5 1057.9,1113.4 1057.9,1113.5 1057.4,1114.5 1057.3,1114.5 1056.8,1115.4 1056.7,1115.5 1056.1,1116.3 1056.0,1116.4 1055.3,1117.1 1055.3,1117.2 1054.5,1117.9 1054.4,1117.9 1053.6,1118.6 1053.5,1118.6 1052.6,1119.1 1052.5,1119.2 1052.1,1119.4 1029.6,1130.0 1028.9,1135.1 1027.2,1151.7 1027.2,1152.2 1027.1,1152.3 1026.9,1153.4 1026.9,1153.5 1026.6,1154.5 1026.6,1154.6 1026.2,1155.6 1026.1,1155.7 1025.6,1156.6 1025.5,1156.7 1025.0,1157.6 1024.9,1157.7 1024.2,1158.5 1024.1,1158.6 1023.8,1159.0 986.7,1196.0 986.3,1196.4 986.3,1196.5 985.4,1197.1 985.4,1197.2 984.5,1197.8 984.4,1197.9 983.4,1198.4 983.4,1198.4 982.9,1198.6 977.7,1200.8 967.7,1228.6 967.5,1229.1 967.4,1229.2 967.0,1230.1 967.0,1230.2 966.5,1231.0 966.4,1231.1 965.8,1231.9 965.8,1232.0 965.1,1232.8 965.1,1232.8 964.4,1233.5 964.3,1233.6 963.5,1234.2 963.4,1234.3 963.0,1234.6 961.4,1235.6 960.6,1238.0 962.7,1244.4 962.9,1244.9 962.9,1245.0 963.1,1246.1 963.1,1246.2 963.3,1247.3 963.3,1247.4 963.3,1248.5 963.3,1248.6 963.2,1249.7 963.2,1249.8 963.0,1250.9 963.0,1251.0 962.7,1252.0 962.6,1252.1 962.2,1253.1 962.2,1253.2 961.7,1254.2 961.6,1254.3 961.0,1255.2 960.9,1255.3 960.2,1256.2 960.2,1256.2 959.8,1256.6 951.4,1265.0 945.6,1279.5 945.4,1280.1 945.4,1280.2 944.8,1281.2 944.8,1281.3 944.5,1281.7 937.7,1291.8 937.4,1292.3 937.3,1292.4 936.5,1293.4 936.4,1293.5 935.5,1294.3 935.4,1294.4 934.9,1294.8 925.0,1302.2 922.9,1311.7" fill="#ba407e"/>
<g fill="#ba407e"><circle cx="1052.9" cy="1101.4" r="6.0"/><circle cx="1053.0" cy="1108.6" r="6.0"/><circle cx="1051.3" cy="1113.6" r="6.0"/><circle cx="1045.1" cy="1117.2" r="6.0"/><circle cx="1038.0" cy="1120.6" r="6.0"/><circle cx="1033.8" cy="1123.5" r="6.0"/><circle cx="1027.1" cy="1125.1" r="6.0"/><circle cx="1025.3" cy="1132.8" r="6.0"/><circle cx="1024.4" cy="1139.0" r="6.0"/><circle cx="1021.9" cy="1146.4" r="6.0"/><circle cx="1022.2" cy="1151.4" r="6.0"/><circle cx="1017.6" cy="1157.4" r="6.0"/><circle cx="1011.8" cy="1163.6" r="6.0"/><circle cx="1006.9" cy="1167.8" r="6.0"/><circle cx="1002.4" cy="1173.6" r="6.0"/><circle cx="998.4" cy="1178.6" r="6.0"/><circle cx="992.3" cy="1182.0" r="6.0"/><circle cx="989.5" cy="1186.3" r="6.0"/><circle cx="984.4" cy="1191.0" r="6.0"/><circle cx="977.6" cy="1195.1" r="6.0"/><circle cx="973.2" cy="1200.4" r="6.0"/><circle cx="969.5" cy="1205.2" r="6.0"/><circle cx="968.5" cy="1212.1" r="6.0"/><circle cx="964.8" cy="1220.1" r="6.0"/><circle cx="962.5" cy="1224.9" r="6.0"/><circle cx="960.3" cy="1230.1" r="6.0"/><circle cx="955.9" cy="1236.5" r="6.0"/><circle cx="956.4" cy="1244.1" r="6.0"/><circle cx="957.8" cy="1249.9" r="6.0"/><circle cx="954.5" cy="1256.1" r="6.0"/><circle cx="944.9" cy="1266.7" r="6.0"/><circle cx="942.5" cy="1273.4" r="6.0"/><circle cx="939.3" cy="1277.9" r="6.0"/><circle cx="937.4" cy="1285.5" r="6.0"/><circle cx="933.5" cy="1289.5" r="6.0"/><circle cx="927.1" cy="1294.6" r="6.0"/><circle cx="920.5" cy="1299.5" r="6.0"/><circle cx="919.3" cy="1305.3" r="6.0"/><circle cx="916.8" cy="1311.0" r="6.0"/><circle cx="914.0" cy="1316.7" r="6.0"/><circle cx="906.4" cy="1319.5" r="6.0"/><circle cx="901.9" cy="1324.5" r="6.0"/><circle cx="891.5" cy="1334.6" r="6.0"/><circle cx="882.8" cy="1342.9" r="6.0"/><circle cx="878.7" cy="1350.0" r="6.0"/><circle cx="875.9" cy="1354.6" r="6.0"/><circle cx="872.2" cy="1369.1" r="6.0"/><circle cx="869.5" cy="1374.7" r="6.0"/><circle cx="864.3" cy="1380.6" r="6.0"/><circle cx="862.0" cy="1385.9" r="6.0"/><circle cx="856.0" cy="1390.8" r="6.0"/><circle cx="861.6" cy="1387.0" r="6.0"/><circle cx="864.8" cy="1381.7" r="6.0"/><circle cx="868.7" cy="1376.2" r="6.0"/><circle cx="873.1" cy="1371.0" r="6.0"/><circle cx="879.1" cy="1367.6" r="6.0"/><circle cx="882.6" cy="1360.5" r="6.0"/><circle cx="885.4" cy="1354.2" r="6.0"/><circle cx="887.6" cy="1349.2" r="6.0"/><circle cx="892.5" cy="1342.6" r="6.0"/><circle cx="897.3" cy="1337.1" r="6.0"/><circle cx="900.9" cy="1333.2" r="6.0"/><circle cx="906.2" cy="1326.3" r="6.0"/><circle cx="910.1" cy="1323.5" r="6.0"/><circle cx="917.5" cy="1318.8" r="6.0"/><circle cx="924.3" cy="1317.0" r="6.0"/><circle cx="929.1" cy="1317.0" r="6.0"/><circle cx="937.5" cy="1315.0" r="6.0"/><circle cx="940.7" cy="1312.1" r="6.0"/><circle cx="943.2" cy="1304.3" r="6.0"/><circle cx="946.3" cy="1298.2" r="6.0"/><circle cx="949.3" cy="1293.0" r="6.0"/><circle cx="955.0" cy="1290.1" r="6.0"/><circle cx="962.1" cy="1284.4" r="6.0"/><circle cx="966.9" cy="1280.2" r="6.0"/><circle cx="970.6" cy="1275.8" r="6.0"/><circle cx="977.8" cy="1269.9" r="6.0"/><circle cx="982.3" cy="1266.7" r="6.0"/><circle cx="987.3" cy="1264.0" r="6.0"/><circle cx="993.1" cy="1258.7" r="6.0"/><circle cx="994.4" cy="1252.6" r="6.0"/><circle cx="998.4" cy="1247.1" r="6.0"/><circle cx="1002.8" cy="1243.2" r="6.0"/><circle cx="1010.5" cy="1241.2" r="6.0"/><circle cx="1017.1" cy="1238.4" r="6.0"/><circle cx="1020.4" cy="1232.2" r="6.0"/><circle cx="1024.3" cy="1227.0" r="6.0"/><circle cx="1028.8" cy="1222.1" r="6.0"/><circle cx="1030.9" cy="1216.0" r="6.0"/><circle cx="1037.2" cy="1210.6" r="6.0"/><circle cx="1042.4" cy="1206.9" r="6.0"/><circle cx="1052.5" cy="1196.9" r="6.0"/><circle cx="1058.1" cy="1192.6" r="6.0"/><circle cx="1062.6" cy="1189.5" r="6.0"/><circle cx="1064.7" cy="1181.1" r="6.0"/><circle cx="1067.4" cy="1177.1" r="6.0"/><circle cx="1072.9" cy="1171.0" r="6.0"/><circle cx="1076.1" cy="1167.1" r="6.0"/><circle cx="1084.4" cy="1154.2" r="6.0"/><circle cx="1088.4" cy="1147.8" r="6.0"/><circle cx="1090.7" cy="1142.1" r="6.0"/><circle cx="1096.0" cy="1137.8" r="6.0"/><circle cx="1099.6" cy="1132.8" r="6.0"/><circle cx="1110.4" cy="1121.5" r="6.0"/><circle cx="1113.8" cy="1116.0" r="6.0"/><circle cx="1112.8" cy="1109.0" r="6.0"/><circle cx="1116.5" cy="1104.7" r="6.0"/><circle cx="1119.2" cy="1096.8" r="6.0"/><circle cx="1122.9" cy="1091.6" r="6.0"/><circle cx="1128.9" cy="1085.9" r="6.0"/><circle cx="1128.9" cy="1080.1" r="6.0"/><circle cx="1130.8" cy="1072.9" r="6.0"/><circle cx="1137.3" cy="1061.4" r="6.0"/><circle cx="1139.8" cy="1054.7" r="6.0"/><circle cx="1142.5" cy="1049.4" r="6.0"/><circle cx="1148.7" cy="1046.2" r="6.0"/><circle cx="1143.4" cy="1045.5" r="6.0"/><circle cx="1135.6" cy="1042.0" r="6.0"/><circle cx="1130.7" cy="1041.4" r="6.0"/><circle cx="1124.4" cy="1038.8" r="6.0"/><circle cx="1121.1" cy="1041.4" r="6.0"/><circle cx="1118.9" cy="1047.2" r="6.0"/><circle cx="1112.6" cy="1053.4" r="6.0"/><circle cx="1109.4" cy="1058.2" r="6.0"/><circle cx="1103.9" cy="1060.3" r="6.0"/><circle cx="1097.8" cy="1060.0" r="6.0"/><circle cx="1092.7" cy="1063.5" r="6.0"/><circle cx="1087.4" cy="1068.6" r="6.0"/><circle cx="1079.9" cy="1071.0" r="6.0"/><circle cx="1074.6" cy="1070.7" r="6.0"/><circle cx="1070.3" cy="1075.5" r="6.0"/><circle cx="1071.3" cy="1083.6" r="6.0"/><circle cx="1070.1" cy="1091.0" r="6.0"/><circle cx="1065.9" cy="1094.4" r="6.0"/><circle cx="1061.6" cy="1100.7" r="6.0"/><circle cx="1124.0" cy="1043.0" r="6.0"/><circle cx="1117.9" cy="1050.9" r="6.0"/><circle cx="1109.8" cy="1056.8" r="6.0"/><circle cx="1116.6" cy="1056.1" r="6.0"/><circle cx="1135.3" cy="1057.9" r="6.0"/><circle cx="1094.9" cy="1063.7" r="6.0"/><circle cx="1100.9" cy="1064.0" r="6.0"/><circle cx="1105.6" cy="1065.4" r="6.0"/><circle cx="1085.3" cy="1071.6" r="6.0"/><circle cx="1091.4" cy="1070.4" r="6.0"/><circle cx="1122.4" cy="1078.3" r="6.0"/><circle cx="1072.9" cy="1085.5" r="6.0"/><circle cx="1128.6" cy="1084.7" r="6.0"/><circle cx="1074.0" cy="1092.8" r="6.0"/><circle cx="1064.9" cy="1099.1" r="6.0"/><circle cx="1058.0" cy="1105.0" r="6.0"/><circle cx="1064.5" cy="1102.8" r="6.0"/><circle cx="1111.0" cy="1103.4" r="6.0"/><circle cx="1059.3" cy="1112.6" r="6.0"/><circle cx="1050.4" cy="1118.8" r="6.0"/><circle cx="1055.8" cy="1117.3" r="6.0"/><circle cx="1110.6" cy="1116.2" r="6.0"/><circle cx="1033.4" cy="1122.6" r="6.0"/><circle cx="1040.5" cy="1125.1" r="6.0"/><circle cx="1101.2" cy="1123.7" r="6.0"/><circle cx="1108.7" cy="1123.2" r="6.0"/><circle cx="1095.3" cy="1128.7" r="6.0"/><circle cx="1100.1" cy="1128.6" r="6.0"/><circle cx="1084.6" cy="1141.8" r="6.0"/><circle cx="1026.9" cy="1150.3" r="6.0"/><circle cx="1082.6" cy="1151.6" r="6.0"/><circle cx="1022.3" cy="1155.3" r="6.0"/><circle cx="1076.2" cy="1164.5" r="6.0"/><circle cx="1007.8" cy="1171.7" r="6.0"/><circle cx="1067.1" cy="1170.3" r="6.0"/><circle cx="1004.8" cy="1176.7" r="6.0"/><circle cx="998.4" cy="1185.1" r="6.0"/><circle cx="1065.2" cy="1183.3" r="6.0"/><circle cx="986.6" cy="1191.4" r="6.0"/><circle cx="1053.6" cy="1191.0" r="6.0"/><circle cx="1059.2" cy="1190.4" r="6.0"/><circle cx="978.5" cy="1195.9" r="6.0"/><circle cx="1051.9" cy="1195.3" r="6.0"/><circle cx="977.8" cy="1202.3" r="6.0"/><circle cx="1036.0" cy="1203.4" r="6.0"/><circle cx="974.6" cy="1209.3" r="6.0"/><circle cx="1032.1" cy="1209.6" r="6.0"/><circle cx="1021.8" cy="1223.2" r="6.0"/><circle cx="967.0" cy="1230.7" r="6.0"/><circle cx="1020.4" cy="1229.1" r="6.0"/><circle cx="1016.4" cy="1234.5" r="6.0"/><circle cx="962.0" cy="1243.0" r="6.0"/><circle cx="994.1" cy="1244.1" r="6.0"/><circle cx="961.5" cy="1247.5" r="6.0"/><circle cx="988.3" cy="1257.8" r="6.0"/><circle cx="947.4" cy="1261.1" r="6.0"/><circle cx="953.7" cy="1264.3" r="6.0"/><circle cx="980.4" cy="1264.3" r="6.0"/><circle cx="985.3" cy="1264.3" r="6.0"/><circle cx="946.3" cy="1270.7" r="6.0"/><circle cx="980.4" cy="1267.4" r="6.0"/><circle cx="946.1" cy="1276.0" r="6.0"/><circle cx="964.0" cy="1273.9" r="6.0"/><circle cx="943.6" cy="1282.7" r="6.0"/><circle cx="957.5" cy="1280.5" r="6.0"/><circle cx="963.6" cy="1282.0" r="6.0"/><circle cx="945.6" cy="1287.4" r="6.0"/><circle cx="953.8" cy="1289.0" r="6.0"/><circle cx="927.5" cy="1297.4" r="6.0"/><circle cx="933.9" cy="1294.3" r="6.0"/><circle cx="941.4" cy="1297.1" r="6.0"/><circle cx="922.0" cy="1304.0" r="6.0"/><circle cx="941.5" cy="1304.0" r="6.0"/><circle cx="923.1" cy="1309.9" r="6.0"/><circle cx="928.6" cy="1317.1" r="6.0"/><circle cx="906.5" cy="1321.6" r="6.0"/><circle cx="900.8" cy="1329.9" r="6.0"/><circle cx="894.9" cy="1333.8" r="6.0"/><circle cx="885.9" cy="1343.2" r="6.0"/><circle cx="894.6" cy="1342.9" r="6.0"/><circle cx="878.1" cy="1360.4" r="6.0"/><circle cx="858.8" cy="1386.9" r="6.0"/></g>
<circle cx="1193.7" cy="944.9" r="6.0" fill="#3e58af"/>
<circle cx="1191.0" cy="973.9" r="6.0" fill="#3e58af"/>
<circle cx="1185.0" cy="986.7" r="6.0" fill="#3e58af"/>
<circle cx="1238.2" cy="977.2" r="6.0" fill="#3e58af"/>
<circle cx="1210.6" cy="1008.2" r="6.0" fill="#3e58af"/>
<circle cx="1182.3" cy="1039.9" r="6.0" fill="#3e58af"/>
<circle cx="1178.2" cy="1061.4" r="6.0" fill="#3e58af"/>
<circle cx="1175.6" cy="1074.9" r="6.0" fill="#3e58af"/>
<circle cx="1165.5" cy="1097.8" r="6.0" fill="#3e58af"/>
<circle cx="1152.0" cy="1101.8" r="6.0" fill="#3e58af"/>
<circle cx="1168.1" cy="1038.5" r="6.0" fill="#3e58af"/>
<circle cx="1152.0" cy="984.6" r="6.0" fill="#3e58af"/>
<circle cx="1160.1" cy="999.5" r="6.0" fill="#3e58af"/>
<circle cx="1094.1" cy="1046.6" r="6.0" fill="#3e58af"/>
<circle cx="1090.2" cy="1195.1" r="6.0" fill="#3e58af"/>
<circle cx="1031.3" cy="1258.2" r="6.0" fill="#3e58af"/>
<circle cx="981.6" cy="1301.2" r="6.0" fill="#3e58af"/>
<circle cx="919.3" cy="1349.2" r="6.0" fill="#3e58af"/>
<circle cx="904.2" cy="1366.0" r="6.0" fill="#3e58af"/>
<circle cx="884.0" cy="1376.1" r="6.0" fill="#3e58af"/>
<circle cx="941.2" cy="1329.0" r="6.0" fill="#3e58af"/>
<circle cx="921.0" cy="1332.3" r="6.0" fill="#3e58af"/>
<circle cx="940.4" cy="1259.1" r="6.0" fill="#3e58af"/>
<circle cx="934.5" cy="1275.9" r="6.0" fill="#3e58af"/>
<circle cx="900.8" cy="1315.5" r="6.0" fill="#3e58af"/>
<circle cx="848.6" cy="1398.0" r="6.0" fill="#3e58af"/>
<circle cx="1042.2" cy="1227.9" r="6.0" fill="#3e58af"/>
<circle cx="1178.2" cy="1027.7" r="6.0" fill="#ba407e"/>
<circle cx="1195.1" cy="1025.1" r="6.0" fill="#ba407e"/>
<circle cx="1169.5" cy="1050.6" r="6.0" fill="#ba407e"/>
<circle cx="1154.7" cy="1060.7" r="6.0" fill="#ba407e"/>
<circle cx="1157.4" cy="1080.3" r="6.0" fill="#ba407e"/>
<circle cx="1142.6" cy="1096.4" r="6.0" fill="#ba407e"/>
<circle cx="1130.4" cy="1104.5" r="6.0" fill="#ba407e"/>
<circle cx="1158.7" cy="1045.3" r="6.0" fill="#ba407e"/>
<circle cx="1126.4" cy="1012.3" r="6.0" fill="#ba407e"/>
<circle cx="1143.9" cy="1018.3" r="6.0" fill="#ba407e"/>
<circle cx="1153.3" cy="1012.9" r="6.0" fill="#ba407e"/>
<circle cx="1115.6" cy="1033.8" r="6.0" fill="#ba407e"/>
<circle cx="1129.1" cy="1030.4" r="6.0" fill="#ba407e"/>
<circle cx="1051.0" cy="1096.4" r="6.0" fill="#ba407e"/>
<circle cx="1071.2" cy="1062.8" r="6.0" fill="#ba407e"/>
<circle cx="1094.1" cy="1050.6" r="6.0" fill="#ba407e"/>
<circle cx="974.0" cy="1191.8" r="6.0" fill="#ba407e"/>
<circle cx="877.2" cy="1340.7" r="6.0" fill="#ba407e"/>
<circle cx="870.5" cy="1392.9" r="6.0" fill="#ba407e"/>
<circle cx="907.5" cy="1359.3" r="6.0" fill="#ba407e"/>
<circle cx="890.7" cy="1371.0" r="6.0" fill="#ba407e"/>
<circle cx="899.1" cy="1345.8" r="6.0" fill="#ba407e"/>
<circle cx="954.7" cy="1227.9" r="6.0" fill="#ba407e"/>
<circle cx="951.3" cy="1238.0" r="6.0" fill="#ba407e"/>
<circle cx="917.6" cy="1297.0" r="6.0" fill="#ba407e"/>
</g>
<line x1="-4.50" y1="1611.25" x2="608.83" y2="899.60" stroke="#3e58af" stroke-width="3"/>
<line x1="-15.75" y1="1611.31" x2="603.27" y2="899.60" stroke="#ba407e" stroke-width="3"/>
</g>
<path d="M104.0,898.3 V1484.3 H653.5" fill="none" stroke="#333" stroke-width="1.6"/>
<line x1="91.5" y1="1454.90" x2="104.0" y2="1454.90" stroke="#111" stroke-width="1.8"/>
<text x="34.07" y="1462.70" font-size="18.8" font-weight="bold" fill="#000" textLength="54.20" lengthAdjust="spacing">30,00</text>
<line x1="91.5" y1="1366.98" x2="104.0" y2="1366.98" stroke="#111" stroke-width="1.8"/>
<text x="34.22" y="1374.78" font-size="18.8" font-weight="bold" fill="#000" textLength="54.06" lengthAdjust="spacing">40,00</text>
<line x1="91.5" y1="1279.06" x2="104.0" y2="1279.06" stroke="#111" stroke-width="1.8"/>
<text x="33.92" y="1286.86" font-size="18.8" font-weight="bold" fill="#000" textLength="54.35" lengthAdjust="spacing">50,00</text>
<line x1="91.5" y1="1191.14" x2="104.0" y2="1191.14" stroke="#111" stroke-width="1.8"/>
<text x="33.81" y="1198.94" font-size="18.8" font-weight="bold" fill="#000" textLength="54.46" lengthAdjust="spacing">60,00</text>
<line x1="91.5" y1="1103.22" x2="104.0" y2="1103.22" stroke="#111" stroke-width="1.8"/>
<text x="33.69" y="1111.02" font-size="18.8" font-weight="bold" fill="#000" textLength="54.58" lengthAdjust="spacing">70,00</text>
<line x1="91.5" y1="1015.30" x2="104.0" y2="1015.30" stroke="#111" stroke-width="1.8"/>
<text x="33.90" y="1023.10" font-size="18.8" font-weight="bold" fill="#000" textLength="54.37" lengthAdjust="spacing">80,00</text>
<line x1="91.5" y1="927.38" x2="104.0" y2="927.38" stroke="#111" stroke-width="1.8"/>
<text x="33.85" y="935.18" font-size="18.8" font-weight="bold" fill="#000" textLength="54.42" lengthAdjust="spacing">90,00</text>
<line x1="131.40" y1="1484.3" x2="131.40" y2="1496.7" stroke="#111" stroke-width="1.8"/>
<text x="105.77" y="1516.10" font-size="18.8" font-weight="bold" fill="#000" textLength="54.20" lengthAdjust="spacing">30,00</text>
<line x1="202.04" y1="1484.3" x2="202.04" y2="1496.7" stroke="#111" stroke-width="1.8"/>
<text x="176.56" y="1516.10" font-size="18.8" font-weight="bold" fill="#000" textLength="54.06" lengthAdjust="spacing">40,00</text>
<line x1="272.68" y1="1484.3" x2="272.68" y2="1496.7" stroke="#111" stroke-width="1.8"/>
<text x="246.90" y="1516.10" font-size="18.8" font-weight="bold" fill="#000" textLength="54.35" lengthAdjust="spacing">50,00</text>
<line x1="343.32" y1="1484.3" x2="343.32" y2="1496.7" stroke="#111" stroke-width="1.8"/>
<text x="317.43" y="1516.10" font-size="18.8" font-weight="bold" fill="#000" textLength="54.46" lengthAdjust="spacing">60,00</text>
<line x1="413.96" y1="1484.3" x2="413.96" y2="1496.7" stroke="#111" stroke-width="1.8"/>
<text x="387.95" y="1516.10" font-size="18.8" font-weight="bold" fill="#000" textLength="54.58" lengthAdjust="spacing">70,00</text>
<line x1="484.60" y1="1484.3" x2="484.60" y2="1496.7" stroke="#111" stroke-width="1.8"/>
<text x="458.80" y="1516.10" font-size="18.8" font-weight="bold" fill="#000" textLength="54.37" lengthAdjust="spacing">80,00</text>
<line x1="555.24" y1="1484.3" x2="555.24" y2="1496.7" stroke="#111" stroke-width="1.8"/>
<text x="529.39" y="1516.10" font-size="18.8" font-weight="bold" fill="#000" textLength="54.42" lengthAdjust="spacing">90,00</text>
<line x1="625.88" y1="1484.3" x2="625.88" y2="1496.7" stroke="#111" stroke-width="1.8"/>
<text x="593.80" y="1516.10" font-size="18.8" font-weight="bold" fill="#000" textLength="66.36" lengthAdjust="spacing">100,00</text>
<text x="220.48" y="1544.60" font-size="24.2" font-weight="bold" fill="#000" textLength="307.75" lengthAdjust="spacing">RIGHT 4D FINGER MEAN</text>
<text transform="translate(24.30,1344.72) rotate(-90)" x="0" y="0" font-size="24.2" font-weight="bold" textLength="310.05" lengthAdjust="spacing">RIGHT 2D FINGER MEAN</text>
<text x="112.84" y="918.90" font-size="30.6" font-weight="bold" fill="#278b17" textLength="248.22" lengthAdjust="spacing">AFRICAN ORIGIN</text>
<circle cx="119.2" cy="949.2" r="6.3" fill="#3e58af"/>
<circle cx="119.2" cy="970.8" r="6.3" fill="#ba407e"/>
<text x="134.73" y="957.40" font-size="17.5" font-weight="bold" fill="#000" textLength="73.23" lengthAdjust="spacing">MALE: R</text>
<text transform="translate(207.75,950.90) scale(1.028,1)" font-size="12.60" font-weight="normal" fill="#000">2</text>
<text x="218.83" y="957.40" font-size="17.5" font-weight="bold" fill="#000" textLength="130.60" lengthAdjust="spacing">Linear = 0,886</text>
<text x="133.13" y="978.20" font-size="17.5" font-weight="bold" fill="#000" textLength="96.43" lengthAdjust="spacing">FEMALE: R</text>
<text transform="translate(229.35,971.70) scale(1.028,1)" font-size="12.60" font-weight="normal" fill="#000">2</text>
<text x="240.43" y="978.20" font-size="17.5" font-weight="bold" fill="#000" textLength="130.36" lengthAdjust="spacing">Linear = 0,864</text>
<text transform="translate(103.86,860.33) scale(1.014,1)" font-size="58.69" font-weight="bold" fill="#000">d</text>
<rect x="287.0" y="1152.0" width="142.4" height="28.4" fill="#fff" stroke="#ba407e" stroke-width="1.5"/>
<text x="291.16" y="1173.10" font-size="18.2" font-weight="normal" fill="#000" textLength="130.94" lengthAdjust="spacing">y=3,93+0,91*x</text>
<rect x="286.3" y="1202.0" width="142.0" height="27.8" fill="#fff" stroke="#3e58af" stroke-width="1.5"/>
<text x="290.46" y="1222.50" font-size="18.2" font-weight="normal" fill="#000" textLength="130.54" lengthAdjust="spacing">y=2,48+0,92*x</text>
</g>
<g transform="translate(1341.0,0)">
<clipPath id="clipe"><rect x="104.0" y="898.3" width="549.5" height="586.0"/></clipPath>
<g clip-path="url(#clipe)">
<g transform="translate(-1341.0,0)">
<polygon points="1613.6,1295.4 1619.9,1292.2 1625.3,1289.0 1630.7,1284.6 1632.4,1283.0 1633.0,1279.3 1633.1,1278.8 1633.1,1278.6 1633.4,1277.5 1633.5,1277.3 1633.9,1276.2 1633.9,1276.1 1634.4,1275.1 1634.5,1274.9 1635.1,1273.9 1635.2,1273.8 1635.9,1272.9 1636.0,1272.7 1636.8,1271.9 1636.9,1271.7 1637.7,1271.0 1637.9,1270.8 1638.8,1270.2 1638.9,1270.0 1639.9,1269.5 1640.0,1269.4 1640.5,1269.1 1648.1,1265.3 1651.5,1263.3 1656.5,1255.3 1656.6,1255.2 1656.6,1255.1 1656.7,1255.0 1662.1,1246.9 1662.4,1246.4 1662.6,1246.3 1663.3,1245.3 1663.4,1245.2 1664.3,1244.4 1664.4,1244.2 1665.4,1243.5 1665.5,1243.4 1666.5,1242.7 1666.7,1242.6 1667.7,1242.0 1667.9,1242.0 1669.0,1241.5 1669.2,1241.4 1670.4,1241.1 1670.5,1241.1 1671.7,1240.8 1671.9,1240.8 1673.1,1240.7 1673.3,1240.7 1674.5,1240.7 1674.7,1240.7 1675.3,1240.8 1678.3,1241.1 1678.9,1240.0 1681.4,1235.0 1681.7,1234.5 1681.8,1234.3 1682.4,1233.4 1682.5,1233.2 1683.1,1232.3 1683.3,1232.2 1684.0,1231.4 1684.1,1231.2 1685.0,1230.5 1685.1,1230.4 1685.5,1230.0 1695.0,1223.0 1717.7,1195.2 1722.1,1188.5 1727.3,1177.4 1727.6,1176.8 1727.7,1176.6 1728.4,1175.4 1728.6,1175.2 1729.4,1174.1 1729.6,1174.0 1730.0,1173.5 1752.7,1150.6 1753.2,1150.0 1753.4,1149.9 1754.0,1149.4 1757.8,1146.4 1759.1,1143.8 1761.8,1138.5 1762.0,1137.9 1762.1,1137.8 1762.8,1136.8 1762.9,1136.6 1763.6,1135.7 1763.7,1135.5 1764.5,1134.7 1764.7,1134.5 1765.6,1133.8 1765.7,1133.6 1766.7,1133.0 1766.8,1132.9 1767.9,1132.3 1768.0,1132.2 1769.1,1131.7 1769.3,1131.6 1769.8,1131.4 1774.8,1129.8 1777.8,1126.7 1778.3,1126.3 1778.5,1126.1 1779.0,1125.7 1781.4,1123.8 1782.0,1119.8 1782.1,1119.2 1782.1,1119.0 1782.4,1117.8 1782.5,1117.6 1782.9,1116.4 1783.0,1116.2 1783.6,1115.1 1783.7,1114.9 1784.3,1113.8 1784.4,1113.7 1785.2,1112.7 1785.4,1112.5 1786.2,1111.6 1786.4,1111.5 1786.9,1111.1 1793.9,1105.2 1798.4,1099.6 1798.7,1099.1 1798.9,1099.0 1799.7,1098.1 1799.9,1098.0 1800.3,1097.6 1806.2,1092.7 1806.9,1091.3 1807.8,1087.4 1808.0,1086.9 1808.0,1086.7 1808.4,1085.7 1808.5,1085.5 1808.9,1084.5 1809.0,1084.3 1809.6,1083.4 1809.7,1083.2 1810.3,1082.3 1810.4,1082.1 1811.2,1081.3 1811.3,1081.2 1812.1,1080.4 1812.2,1080.3 1812.7,1079.9 1816.2,1077.1 1817.6,1072.9 1820.3,1064.9 1820.4,1064.3 1820.5,1064.1 1821.0,1063.1 1821.1,1062.9 1821.6,1061.9 1821.7,1061.8 1822.4,1060.8 1822.5,1060.7 1823.3,1059.8 1823.4,1059.7 1824.2,1058.9 1824.3,1058.7 1824.8,1058.4 1828.2,1055.7 1828.1,1055.5 1827.8,1054.3 1827.8,1054.1 1827.7,1052.9 1827.6,1052.7 1827.6,1051.5 1827.6,1051.3 1827.7,1050.1 1827.7,1049.9 1828.0,1048.7 1828.0,1048.5 1828.3,1047.3 1828.4,1047.2 1828.6,1046.6 1830.3,1042.4 1830.3,1034.3 1830.3,1033.7 1830.3,1033.5 1830.5,1032.3 1830.5,1032.1 1830.7,1030.9 1830.8,1030.7 1831.1,1029.6 1831.2,1029.4 1831.6,1028.3 1831.7,1028.1 1832.3,1027.1 1832.4,1026.9 1833.0,1026.0 1832.7,1025.8 1832.5,1025.8 1831.4,1025.3 1831.2,1025.2 1830.2,1024.6 1830.0,1024.5 1829.1,1023.8 1828.9,1023.7 1828.0,1022.9 1827.9,1022.8 1827.7,1023.3 1827.4,1023.9 1827.4,1024.1 1826.8,1025.1 1826.7,1025.3 1826.0,1026.3 1825.9,1026.5 1825.1,1027.4 1825.0,1027.6 1824.6,1028.0 1813.8,1038.8 1813.3,1039.3 1813.1,1039.5 1811.9,1040.4 1811.7,1040.5 1811.1,1040.9 1805.9,1044.0 1800.3,1049.6 1799.9,1050.0 1799.7,1050.1 1798.7,1051.0 1798.5,1051.1 1797.5,1051.8 1797.3,1051.9 1796.7,1052.2 1789.6,1055.7 1781.4,1061.6 1774.9,1066.8 1774.5,1067.1 1774.4,1067.2 1773.4,1067.8 1773.3,1067.9 1772.3,1068.4 1772.1,1068.5 1771.1,1068.9 1771.0,1069.0 1770.5,1069.1 1770.7,1072.2 1770.8,1072.8 1770.8,1073.0 1770.7,1074.2 1770.7,1074.5 1770.6,1075.7 1770.5,1075.9 1770.2,1077.1 1770.2,1077.3 1769.8,1078.5 1769.7,1078.7 1769.2,1079.8 1769.1,1080.0 1768.4,1081.1 1768.3,1081.2 1768.0,1081.7 1763.9,1087.1 1763.6,1087.6 1763.5,1087.7 1762.7,1088.5 1762.6,1088.7 1761.8,1089.4 1761.6,1089.5 1760.7,1090.2 1760.6,1090.3 1759.6,1090.9 1759.5,1091.0 1759.0,1091.2 1752.0,1094.7 1742.3,1102.0 1737.2,1105.9 1734.4,1108.2 1734.4,1111.0 1734.4,1111.7 1734.4,1111.9 1734.2,1113.1 1734.2,1113.3 1734.0,1114.5 1733.9,1114.7 1733.5,1115.9 1733.5,1116.1 1732.9,1117.3 1732.9,1117.4 1732.6,1118.0 1727.2,1127.4 1726.9,1127.9 1726.8,1128.1 1726.1,1129.0 1726.0,1129.1 1725.3,1130.0 1725.2,1130.1 1724.4,1130.9 1724.3,1131.0 1723.4,1131.7 1723.2,1131.8 1722.8,1132.1 1707.8,1142.1 1695.3,1154.6 1694.9,1155.0 1694.7,1155.1 1693.9,1155.9 1693.7,1156.0 1692.8,1156.6 1692.6,1156.7 1692.1,1157.0 1687.2,1159.7 1681.2,1172.8 1674.9,1187.7 1672.5,1197.5 1672.3,1198.1 1672.3,1198.3 1671.8,1199.5 1671.7,1199.7 1671.4,1200.3 1668.8,1205.7 1668.5,1206.3 1668.4,1206.4 1667.7,1207.5 1667.6,1207.6 1666.9,1208.6 1666.7,1208.7 1665.9,1209.6 1665.7,1209.7 1664.8,1210.5 1664.7,1210.6 1664.2,1211.0 1645.1,1224.1 1638.6,1234.9 1638.2,1235.6 1638.1,1235.8 1637.2,1236.9 1637.0,1237.1 1636.5,1237.6 1633.9,1240.3 1632.1,1247.3 1632.0,1247.8 1631.9,1248.0 1631.5,1249.1 1631.5,1249.3 1631.0,1250.3 1630.9,1250.4 1630.3,1251.4 1630.2,1251.6 1629.9,1252.0 1626.4,1256.9 1627.0,1260.8 1627.1,1261.4 1627.1,1261.6 1627.1,1262.7 1627.1,1262.9 1627.1,1264.1 1627.0,1264.3 1626.9,1265.4 1626.8,1265.6 1626.5,1266.8 1626.5,1267.0 1626.1,1268.1 1626.0,1268.2 1625.5,1269.3 1625.4,1269.5 1624.8,1270.5 1624.7,1270.6 1624.0,1271.6 1623.9,1271.7 1623.1,1272.6 1623.0,1272.7 1622.1,1273.5 1621.9,1273.6 1621.0,1274.3 1620.8,1274.5 1620.3,1274.8 1617.5,1276.5 1616.4,1279.1 1616.4,1287.0 1616.3,1287.6 1616.3,1287.8 1616.2,1288.9 1616.2,1289.1 1616.0,1290.3 1615.9,1290.5 1615.6,1291.6 1615.5,1291.8 1615.1,1292.9 1615.0,1293.0 1614.4,1294.1 1614.3,1294.2 1613.7,1295.2 1613.6,1295.4 1613.6,1295.4" fill="#3e58af"/>
<g fill="#3e58af"><circle cx="1591.6" cy="1311.4" r="6.0"/><circle cx="1594.7" cy="1316.7" r="6.0"/><circle cx="1599.6" cy="1319.4" r="6.0"/><circle cx="1604.8" cy="1309.7" r="6.0"/><circle cx="1609.6" cy="1304.4" r="6.0"/><circle cx="1621.4" cy="1297.7" r="6.0"/><circle cx="1627.9" cy="1294.6" r="6.0"/><circle cx="1633.9" cy="1290.8" r="6.0"/><circle cx="1650.3" cy="1270.4" r="6.0"/><circle cx="1655.4" cy="1267.4" r="6.0"/><circle cx="1664.1" cy="1255.1" r="6.0"/><circle cx="1666.9" cy="1250.0" r="6.0"/><circle cx="1673.2" cy="1247.1" r="6.0"/><circle cx="1680.5" cy="1247.5" r="6.0"/><circle cx="1683.8" cy="1242.9" r="6.0"/><circle cx="1688.0" cy="1236.9" r="6.0"/><circle cx="1692.7" cy="1231.8" r="6.0"/><circle cx="1699.9" cy="1228.3" r="6.0"/><circle cx="1702.4" cy="1222.3" r="6.0"/><circle cx="1708.7" cy="1217.8" r="6.0"/><circle cx="1722.0" cy="1200.6" r="6.0"/><circle cx="1726.0" cy="1193.9" r="6.0"/><circle cx="1727.6" cy="1187.8" r="6.0"/><circle cx="1730.4" cy="1183.9" r="6.0"/><circle cx="1735.4" cy="1175.8" r="6.0"/><circle cx="1738.8" cy="1171.4" r="6.0"/><circle cx="1745.1" cy="1167.8" r="6.0"/><circle cx="1754.6" cy="1156.7" r="6.0"/><circle cx="1758.5" cy="1152.5" r="6.0"/><circle cx="1764.3" cy="1147.3" r="6.0"/><circle cx="1766.4" cy="1141.2" r="6.0"/><circle cx="1778.9" cy="1133.8" r="6.0"/><circle cx="1788.5" cy="1123.8" r="6.0"/><circle cx="1789.0" cy="1117.5" r="6.0"/><circle cx="1799.2" cy="1108.7" r="6.0"/><circle cx="1802.5" cy="1103.9" r="6.0"/><circle cx="1808.6" cy="1097.3" r="6.0"/><circle cx="1815.3" cy="1085.4" r="6.0"/><circle cx="1820.7" cy="1080.9" r="6.0"/><circle cx="1823.9" cy="1076.6" r="6.0"/><circle cx="1824.1" cy="1069.2" r="6.0"/><circle cx="1827.3" cy="1062.8" r="6.0"/><circle cx="1833.2" cy="1059.9" r="6.0"/><circle cx="1834.3" cy="1052.8" r="6.0"/><circle cx="1834.4" cy="1045.9" r="6.0"/><circle cx="1835.4" cy="1040.8" r="6.0"/><circle cx="1836.2" cy="1033.5" r="6.0"/><circle cx="1839.7" cy="1028.1" r="6.0"/><circle cx="1845.4" cy="1025.8" r="6.0"/><circle cx="1851.7" cy="1021.5" r="6.0"/><circle cx="1842.5" cy="1018.5" r="6.0"/><circle cx="1830.1" cy="1018.0" r="6.0"/><circle cx="1829.3" cy="1009.7" r="6.0"/><circle cx="1824.6" cy="1006.0" r="6.0"/><circle cx="1825.7" cy="1013.7" r="6.0"/><circle cx="1822.5" cy="1020.7" r="6.0"/><circle cx="1817.4" cy="1025.2" r="6.0"/><circle cx="1812.8" cy="1029.9" r="6.0"/><circle cx="1791.0" cy="1048.6" r="6.0"/><circle cx="1786.5" cy="1052.2" r="6.0"/><circle cx="1780.3" cy="1054.3" r="6.0"/><circle cx="1773.9" cy="1058.7" r="6.0"/><circle cx="1770.1" cy="1062.3" r="6.0"/><circle cx="1763.9" cy="1074.1" r="6.0"/><circle cx="1761.7" cy="1079.5" r="6.0"/><circle cx="1758.3" cy="1083.9" r="6.0"/><circle cx="1751.5" cy="1088.2" r="6.0"/><circle cx="1741.0" cy="1095.2" r="6.0"/><circle cx="1729.8" cy="1104.5" r="6.0"/><circle cx="1728.0" cy="1111.0" r="6.0"/><circle cx="1726.7" cy="1118.2" r="6.0"/><circle cx="1719.3" cy="1128.2" r="6.0"/><circle cx="1712.5" cy="1132.7" r="6.0"/><circle cx="1707.7" cy="1136.8" r="6.0"/><circle cx="1697.3" cy="1145.8" r="6.0"/><circle cx="1686.8" cy="1153.2" r="6.0"/><circle cx="1681.1" cy="1157.8" r="6.0"/><circle cx="1677.4" cy="1165.3" r="6.0"/><circle cx="1674.4" cy="1171.0" r="6.0"/><circle cx="1673.3" cy="1176.9" r="6.0"/><circle cx="1669.0" cy="1183.6" r="6.0"/><circle cx="1667.9" cy="1189.6" r="6.0"/><circle cx="1652.3" cy="1210.6" r="6.0"/><circle cx="1641.9" cy="1218.5" r="6.0"/><circle cx="1636.3" cy="1225.0" r="6.0"/><circle cx="1628.2" cy="1236.5" r="6.0"/><circle cx="1627.8" cy="1243.0" r="6.0"/><circle cx="1625.7" cy="1249.7" r="6.0"/><circle cx="1621.7" cy="1256.1" r="6.0"/><circle cx="1613.0" cy="1272.0" r="6.0"/><circle cx="1610.3" cy="1284.7" r="6.0"/><circle cx="1604.9" cy="1295.6" r="6.0"/><circle cx="1598.7" cy="1299.8" r="6.0"/><circle cx="1849.4" cy="1018.1" r="6.0"/><circle cx="1819.5" cy="1024.1" r="6.0"/><circle cx="1841.5" cy="1024.3" r="6.0"/><circle cx="1831.2" cy="1031.5" r="6.0"/><circle cx="1831.4" cy="1039.0" r="6.0"/><circle cx="1788.1" cy="1050.6" r="6.0"/><circle cx="1795.7" cy="1050.4" r="6.0"/><circle cx="1780.2" cy="1057.7" r="6.0"/><circle cx="1786.6" cy="1060.0" r="6.0"/><circle cx="1825.8" cy="1058.7" r="6.0"/><circle cx="1833.0" cy="1057.3" r="6.0"/><circle cx="1825.7" cy="1065.2" r="6.0"/><circle cx="1767.0" cy="1079.7" r="6.0"/><circle cx="1814.7" cy="1076.5" r="6.0"/><circle cx="1819.0" cy="1079.7" r="6.0"/><circle cx="1808.8" cy="1085.2" r="6.0"/><circle cx="1748.3" cy="1089.8" r="6.0"/><circle cx="1756.3" cy="1090.5" r="6.0"/><circle cx="1807.6" cy="1090.5" r="6.0"/><circle cx="1747.8" cy="1098.1" r="6.0"/><circle cx="1800.5" cy="1098.7" r="6.0"/><circle cx="1810.0" cy="1095.9" r="6.0"/><circle cx="1740.3" cy="1105.2" r="6.0"/><circle cx="1798.2" cy="1104.3" r="6.0"/><circle cx="1788.8" cy="1112.5" r="6.0"/><circle cx="1793.7" cy="1111.3" r="6.0"/><circle cx="1729.8" cy="1117.3" r="6.0"/><circle cx="1726.9" cy="1123.9" r="6.0"/><circle cx="1727.7" cy="1130.6" r="6.0"/><circle cx="1773.4" cy="1130.2" r="6.0"/><circle cx="1708.0" cy="1138.0" r="6.0"/><circle cx="1767.0" cy="1137.8" r="6.0"/><circle cx="1701.6" cy="1145.9" r="6.0"/><circle cx="1696.5" cy="1150.0" r="6.0"/><circle cx="1754.7" cy="1151.8" r="6.0"/><circle cx="1688.6" cy="1156.6" r="6.0"/><circle cx="1747.6" cy="1157.8" r="6.0"/><circle cx="1752.2" cy="1158.4" r="6.0"/><circle cx="1680.3" cy="1163.2" r="6.0"/><circle cx="1684.3" cy="1165.5" r="6.0"/><circle cx="1680.2" cy="1171.0" r="6.0"/><circle cx="1674.0" cy="1176.4" r="6.0"/><circle cx="1726.8" cy="1176.4" r="6.0"/><circle cx="1674.5" cy="1184.0" r="6.0"/><circle cx="1727.1" cy="1183.1" r="6.0"/><circle cx="1676.3" cy="1190.6" r="6.0"/><circle cx="1722.5" cy="1189.6" r="6.0"/><circle cx="1728.9" cy="1189.8" r="6.0"/><circle cx="1667.3" cy="1197.7" r="6.0"/><circle cx="1721.0" cy="1197.1" r="6.0"/><circle cx="1719.4" cy="1204.2" r="6.0"/><circle cx="1651.5" cy="1218.3" r="6.0"/><circle cx="1642.8" cy="1225.1" r="6.0"/><circle cx="1692.4" cy="1223.9" r="6.0"/><circle cx="1643.7" cy="1228.7" r="6.0"/><circle cx="1695.2" cy="1230.6" r="6.0"/><circle cx="1631.5" cy="1235.5" r="6.0"/><circle cx="1637.6" cy="1238.3" r="6.0"/><circle cx="1631.8" cy="1242.4" r="6.0"/><circle cx="1674.6" cy="1244.4" r="6.0"/><circle cx="1627.4" cy="1248.9" r="6.0"/><circle cx="1658.0" cy="1249.2" r="6.0"/><circle cx="1657.4" cy="1257.4" r="6.0"/><circle cx="1625.7" cy="1262.7" r="6.0"/><circle cx="1655.4" cy="1261.5" r="6.0"/><circle cx="1621.5" cy="1269.9" r="6.0"/><circle cx="1642.0" cy="1269.3" r="6.0"/><circle cx="1650.9" cy="1270.0" r="6.0"/><circle cx="1620.4" cy="1276.4" r="6.0"/><circle cx="1641.5" cy="1278.0" r="6.0"/><circle cx="1631.0" cy="1281.3" r="6.0"/><circle cx="1614.0" cy="1289.2" r="6.0"/><circle cx="1631.8" cy="1289.5" r="6.0"/><circle cx="1611.4" cy="1295.1" r="6.0"/><circle cx="1625.1" cy="1296.0" r="6.0"/><circle cx="1599.7" cy="1301.0" r="6.0"/><circle cx="1606.7" cy="1303.5" r="6.0"/><circle cx="1613.1" cy="1301.9" r="6.0"/><circle cx="1595.9" cy="1308.1" r="6.0"/><circle cx="1601.5" cy="1309.4" r="6.0"/><circle cx="1595.9" cy="1314.9" r="6.0"/></g>
<polygon points="1601.2,1303.8 1604.1,1302.3 1605.6,1301.2 1606.2,1299.4 1602.4,1302.6 1601.2,1303.8" fill="#ba407e"/>
<polygon points="1614.2,1288.9 1619.4,1285.5 1626.6,1279.5 1632.9,1273.1 1633.3,1272.7 1633.4,1272.7 1634.3,1272.0 1634.4,1271.9 1635.3,1271.3 1635.4,1271.3 1636.4,1270.7 1636.4,1270.7 1637.0,1270.5 1639.5,1269.5 1641.1,1266.2 1643.5,1259.0 1643.8,1258.2 1643.8,1258.1 1644.1,1257.4 1648.2,1249.3 1648.4,1248.8 1648.5,1248.8 1649.0,1247.9 1649.1,1247.8 1649.8,1246.9 1649.8,1246.9 1650.5,1246.1 1650.6,1246.0 1651.4,1245.3 1651.5,1245.3 1652.3,1244.6 1652.4,1244.6 1653.3,1244.1 1653.4,1244.0 1654.4,1243.6 1654.5,1243.5 1655.5,1243.2 1655.6,1243.2 1656.6,1242.9 1656.7,1242.9 1657.2,1242.8 1663.4,1241.9 1667.6,1238.6 1668.1,1238.2 1668.2,1238.1 1668.7,1237.8 1675.6,1233.5 1677.0,1228.5 1677.2,1228.0 1677.2,1227.9 1677.6,1226.9 1677.6,1226.9 1678.1,1225.9 1678.1,1225.8 1678.7,1225.0 1678.7,1224.9 1679.0,1224.5 1692.5,1207.0 1692.9,1206.5 1693.0,1206.4 1693.8,1205.5 1693.9,1205.5 1694.8,1204.7 1694.9,1204.6 1695.4,1204.3 1714.1,1191.8 1719.3,1185.5 1724.4,1178.0 1724.6,1177.6 1724.7,1177.5 1725.3,1176.7 1725.4,1176.7 1726.1,1175.9 1726.1,1175.9 1726.9,1175.2 1727.0,1175.2 1727.4,1174.9 1728.9,1173.8 1730.6,1162.7 1730.6,1162.1 1730.7,1162.0 1730.9,1161.0 1731.0,1160.9 1731.3,1159.9 1731.3,1159.8 1731.8,1158.9 1731.8,1158.8 1732.4,1157.9 1732.4,1157.8 1733.1,1156.9 1733.1,1156.9 1733.8,1156.1 1733.9,1156.0 1734.7,1155.3 1734.7,1155.2 1735.6,1154.6 1735.7,1154.5 1736.6,1154.0 1736.7,1153.9 1737.6,1153.5 1737.7,1153.4 1738.2,1153.2 1756.3,1146.4 1757.4,1142.8 1757.5,1142.2 1757.6,1142.1 1757.7,1141.6 1760.4,1134.9 1760.7,1134.4 1760.7,1134.3 1761.2,1133.3 1761.3,1133.2 1761.9,1132.3 1761.9,1132.2 1762.6,1131.3 1762.7,1131.2 1763.1,1130.8 1768.5,1125.5 1772.1,1121.8 1773.8,1117.7 1776.4,1109.9 1776.5,1109.4 1776.6,1109.4 1777.0,1108.4 1777.0,1108.3 1777.6,1107.4 1777.6,1107.3 1778.2,1106.4 1778.3,1106.4 1779.0,1105.6 1779.0,1105.5 1779.8,1104.8 1779.8,1104.7 1780.2,1104.4 1784.5,1101.0 1785.2,1099.3 1785.2,1085.5 1785.2,1084.8 1785.2,1084.6 1785.3,1084.0 1786.6,1073.2 1786.6,1073.1 1786.3,1073.1 1786.2,1073.1 1785.2,1072.9 1785.1,1072.9 1784.0,1072.6 1783.9,1072.6 1782.9,1072.2 1782.8,1072.2 1781.9,1071.7 1781.8,1071.6 1780.9,1071.0 1780.8,1071.0 1779.9,1070.3 1779.8,1070.2 1779.1,1069.5 1779.0,1069.4 1778.6,1069.0 1777.9,1068.1 1777.0,1068.5 1776.9,1068.5 1775.9,1068.8 1775.8,1068.8 1775.3,1068.9 1770.6,1069.9 1768.2,1077.1 1768.0,1077.7 1767.9,1077.8 1767.4,1078.9 1767.4,1078.9 1766.8,1080.0 1766.7,1080.1 1766.4,1080.5 1762.3,1085.9 1762.0,1086.3 1762.0,1086.4 1761.3,1087.1 1761.2,1087.2 1760.5,1087.9 1760.4,1088.0 1759.6,1088.6 1759.5,1088.6 1758.6,1089.2 1758.5,1089.2 1758.1,1089.5 1752.9,1092.1 1746.6,1101.5 1746.3,1102.0 1746.2,1102.0 1745.5,1102.8 1745.5,1102.9 1744.8,1103.7 1744.7,1103.7 1743.9,1104.4 1743.8,1104.4 1743.0,1105.0 1742.9,1105.1 1742.0,1105.6 1741.9,1105.6 1740.9,1106.1 1740.8,1106.1 1740.4,1106.3 1733.1,1108.7 1732.4,1109.0 1732.4,1111.0 1732.4,1111.6 1732.4,1111.7 1732.3,1112.9 1732.2,1113.0 1732.0,1114.1 1732.0,1114.2 1731.6,1115.3 1731.6,1115.4 1731.1,1116.4 1731.1,1116.5 1730.8,1117.0 1725.4,1126.4 1725.2,1126.9 1725.1,1126.9 1724.5,1127.8 1724.5,1127.8 1723.8,1128.6 1723.8,1128.7 1723.0,1129.4 1723.0,1129.5 1722.2,1130.1 1722.1,1130.2 1721.7,1130.5 1706.5,1140.6 1693.9,1153.2 1693.5,1153.6 1693.4,1153.6 1692.6,1154.3 1692.6,1154.3 1691.7,1154.9 1691.6,1155.0 1691.2,1155.2 1685.7,1158.2 1679.3,1172.0 1673.0,1187.1 1670.6,1197.0 1670.4,1197.6 1670.4,1197.7 1670.0,1198.8 1669.9,1198.9 1669.7,1199.4 1667.0,1204.8 1666.7,1205.3 1666.7,1205.4 1666.1,1206.3 1666.0,1206.4 1665.3,1207.3 1665.2,1207.4 1664.5,1208.2 1664.4,1208.2 1663.6,1209.0 1663.5,1209.0 1663.0,1209.3 1643.6,1222.7 1636.9,1233.9 1636.5,1234.5 1636.5,1234.6 1635.6,1235.6 1635.5,1235.7 1635.1,1236.2 1632.0,1239.3 1630.2,1246.8 1630.0,1247.3 1630.0,1247.4 1629.7,1248.4 1629.6,1248.5 1629.2,1249.4 1629.1,1249.5 1628.6,1250.4 1628.6,1250.5 1628.3,1250.9 1624.3,1256.4 1625.0,1261.1 1625.1,1261.6 1625.1,1261.7 1625.1,1262.8 1625.1,1262.9 1625.1,1263.9 1625.1,1264.0 1624.9,1265.1 1624.9,1265.2 1624.6,1266.2 1624.6,1266.3 1624.2,1267.3 1624.2,1267.4 1623.7,1268.4 1623.7,1268.5 1623.1,1269.4 1623.1,1269.5 1622.4,1270.3 1622.4,1270.4 1621.6,1271.2 1621.6,1271.3 1620.8,1272.0 1620.7,1272.1 1619.8,1272.7 1619.8,1272.8 1619.3,1273.1 1615.9,1275.1 1614.4,1278.7 1614.4,1287.0 1614.3,1287.5 1614.3,1287.6 1614.2,1288.7 1614.2,1288.8 1614.2,1288.9" fill="#ba407e"/>
<g fill="#ba407e"><circle cx="1595.9" cy="1311.4" r="6.0"/><circle cx="1603.5" cy="1308.4" r="6.0"/><circle cx="1608.0" cy="1305.0" r="6.0"/><circle cx="1612.4" cy="1298.7" r="6.0"/><circle cx="1615.0" cy="1293.1" r="6.0"/><circle cx="1621.9" cy="1289.9" r="6.0"/><circle cx="1627.9" cy="1286.4" r="6.0"/><circle cx="1632.6" cy="1281.0" r="6.0"/><circle cx="1637.7" cy="1275.1" r="6.0"/><circle cx="1647.0" cy="1267.9" r="6.0"/><circle cx="1648.9" cy="1259.2" r="6.0"/><circle cx="1650.8" cy="1253.3" r="6.0"/><circle cx="1656.4" cy="1248.5" r="6.0"/><circle cx="1661.4" cy="1246.3" r="6.0"/><circle cx="1667.5" cy="1243.6" r="6.0"/><circle cx="1673.4" cy="1239.6" r="6.0"/><circle cx="1678.7" cy="1236.6" r="6.0"/><circle cx="1681.0" cy="1229.6" r="6.0"/><circle cx="1685.5" cy="1224.1" r="6.0"/><circle cx="1689.3" cy="1218.4" r="6.0"/><circle cx="1694.6" cy="1212.3" r="6.0"/><circle cx="1704.6" cy="1203.3" r="6.0"/><circle cx="1709.4" cy="1199.4" r="6.0"/><circle cx="1720.4" cy="1191.8" r="6.0"/><circle cx="1724.2" cy="1185.8" r="6.0"/><circle cx="1728.6" cy="1179.6" r="6.0"/><circle cx="1734.4" cy="1176.5" r="6.0"/><circle cx="1733.9" cy="1168.2" r="6.0"/><circle cx="1735.4" cy="1163.4" r="6.0"/><circle cx="1740.3" cy="1158.7" r="6.0"/><circle cx="1746.2" cy="1155.5" r="6.0"/><circle cx="1753.8" cy="1152.3" r="6.0"/><circle cx="1760.8" cy="1150.8" r="6.0"/><circle cx="1762.6" cy="1142.8" r="6.0"/><circle cx="1764.8" cy="1137.3" r="6.0"/><circle cx="1776.9" cy="1120.9" r="6.0"/><circle cx="1779.6" cy="1115.2" r="6.0"/><circle cx="1783.6" cy="1108.2" r="6.0"/><circle cx="1788.4" cy="1105.2" r="6.0"/><circle cx="1789.2" cy="1098.6" r="6.0"/><circle cx="1790.8" cy="1091.1" r="6.0"/><circle cx="1791.1" cy="1084.4" r="6.0"/><circle cx="1790.8" cy="1076.2" r="6.0"/><circle cx="1793.6" cy="1071.0" r="6.0"/><circle cx="1798.4" cy="1067.4" r="6.0"/><circle cx="1805.3" cy="1066.7" r="6.0"/><circle cx="1808.9" cy="1062.2" r="6.0"/><circle cx="1800.9" cy="1064.1" r="6.0"/><circle cx="1795.2" cy="1066.3" r="6.0"/><circle cx="1778.3" cy="1061.8" r="6.0"/><circle cx="1770.2" cy="1065.5" r="6.0"/><circle cx="1766.5" cy="1067.6" r="6.0"/><circle cx="1764.4" cy="1075.3" r="6.0"/><circle cx="1760.6" cy="1079.9" r="6.0"/><circle cx="1755.2" cy="1084.7" r="6.0"/><circle cx="1747.9" cy="1088.8" r="6.0"/><circle cx="1746.0" cy="1094.5" r="6.0"/><circle cx="1740.8" cy="1099.4" r="6.0"/><circle cx="1735.4" cy="1104.1" r="6.0"/><circle cx="1727.5" cy="1104.4" r="6.0"/><circle cx="1726.7" cy="1110.9" r="6.0"/><circle cx="1724.1" cy="1118.4" r="6.0"/><circle cx="1720.1" cy="1123.8" r="6.0"/><circle cx="1715.9" cy="1128.5" r="6.0"/><circle cx="1709.4" cy="1132.2" r="6.0"/><circle cx="1703.2" cy="1137.1" r="6.0"/><circle cx="1698.5" cy="1141.8" r="6.0"/><circle cx="1693.0" cy="1146.5" r="6.0"/><circle cx="1689.0" cy="1151.2" r="6.0"/><circle cx="1682.4" cy="1154.2" r="6.0"/><circle cx="1680.5" cy="1158.6" r="6.0"/><circle cx="1675.8" cy="1167.1" r="6.0"/><circle cx="1673.7" cy="1172.7" r="6.0"/><circle cx="1672.2" cy="1178.7" r="6.0"/><circle cx="1669.2" cy="1185.1" r="6.0"/><circle cx="1667.1" cy="1192.6" r="6.0"/><circle cx="1664.1" cy="1198.7" r="6.0"/><circle cx="1661.6" cy="1205.2" r="6.0"/><circle cx="1656.4" cy="1207.4" r="6.0"/><circle cx="1650.5" cy="1212.9" r="6.0"/><circle cx="1643.4" cy="1216.6" r="6.0"/><circle cx="1639.4" cy="1221.3" r="6.0"/><circle cx="1635.9" cy="1226.0" r="6.0"/><circle cx="1631.3" cy="1232.7" r="6.0"/><circle cx="1626.2" cy="1244.8" r="6.0"/><circle cx="1621.9" cy="1249.7" r="6.0"/><circle cx="1619.0" cy="1262.2" r="6.0"/><circle cx="1616.1" cy="1267.9" r="6.0"/><circle cx="1610.9" cy="1272.8" r="6.0"/><circle cx="1610.2" cy="1279.6" r="6.0"/><circle cx="1610.3" cy="1285.2" r="6.0"/><circle cx="1605.6" cy="1291.7" r="6.0"/><circle cx="1601.1" cy="1297.0" r="6.0"/><circle cx="1595.3" cy="1301.8" r="6.0"/><circle cx="1592.5" cy="1306.6" r="6.0"/><circle cx="1768.2" cy="1067.3" r="6.0"/><circle cx="1772.8" cy="1067.5" r="6.0"/><circle cx="1797.9" cy="1068.2" r="6.0"/><circle cx="1805.0" cy="1065.3" r="6.0"/><circle cx="1791.9" cy="1072.6" r="6.0"/><circle cx="1767.2" cy="1078.1" r="6.0"/><circle cx="1759.8" cy="1086.6" r="6.0"/><circle cx="1786.4" cy="1087.8" r="6.0"/><circle cx="1752.5" cy="1091.5" r="6.0"/><circle cx="1785.3" cy="1091.7" r="6.0"/><circle cx="1744.1" cy="1099.3" r="6.0"/><circle cx="1730.2" cy="1104.4" r="6.0"/><circle cx="1740.8" cy="1105.0" r="6.0"/><circle cx="1731.1" cy="1112.4" r="6.0"/><circle cx="1729.5" cy="1118.0" r="6.0"/><circle cx="1719.8" cy="1124.6" r="6.0"/><circle cx="1724.8" cy="1127.0" r="6.0"/><circle cx="1773.4" cy="1125.5" r="6.0"/><circle cx="1717.0" cy="1133.9" r="6.0"/><circle cx="1762.8" cy="1133.8" r="6.0"/><circle cx="1760.2" cy="1139.8" r="6.0"/><circle cx="1703.6" cy="1147.3" r="6.0"/><circle cx="1761.7" cy="1145.1" r="6.0"/><circle cx="1688.6" cy="1152.1" r="6.0"/><circle cx="1693.2" cy="1151.0" r="6.0"/><circle cx="1739.9" cy="1151.2" r="6.0"/><circle cx="1745.7" cy="1150.4" r="6.0"/><circle cx="1752.4" cy="1150.7" r="6.0"/><circle cx="1685.0" cy="1167.1" r="6.0"/><circle cx="1679.0" cy="1170.1" r="6.0"/><circle cx="1733.1" cy="1171.5" r="6.0"/><circle cx="1671.6" cy="1179.2" r="6.0"/><circle cx="1726.1" cy="1179.5" r="6.0"/><circle cx="1674.8" cy="1186.3" r="6.0"/><circle cx="1720.1" cy="1184.0" r="6.0"/><circle cx="1717.1" cy="1190.0" r="6.0"/><circle cx="1672.4" cy="1196.5" r="6.0"/><circle cx="1663.5" cy="1206.1" r="6.0"/><circle cx="1698.3" cy="1206.6" r="6.0"/><circle cx="1651.9" cy="1212.0" r="6.0"/><circle cx="1659.7" cy="1209.9" r="6.0"/><circle cx="1642.3" cy="1218.7" r="6.0"/><circle cx="1685.2" cy="1216.6" r="6.0"/><circle cx="1644.2" cy="1225.5" r="6.0"/><circle cx="1681.1" cy="1224.7" r="6.0"/><circle cx="1628.3" cy="1239.7" r="6.0"/><circle cx="1668.4" cy="1237.6" r="6.0"/><circle cx="1672.9" cy="1238.3" r="6.0"/><circle cx="1652.1" cy="1244.2" r="6.0"/><circle cx="1660.6" cy="1244.7" r="6.0"/><circle cx="1667.2" cy="1245.7" r="6.0"/><circle cx="1629.7" cy="1251.2" r="6.0"/><circle cx="1644.3" cy="1256.7" r="6.0"/><circle cx="1622.4" cy="1263.9" r="6.0"/><circle cx="1644.4" cy="1262.7" r="6.0"/><circle cx="1622.1" cy="1270.8" r="6.0"/><circle cx="1636.0" cy="1277.2" r="6.0"/><circle cx="1611.1" cy="1285.4" r="6.0"/><circle cx="1623.8" cy="1283.5" r="6.0"/><circle cx="1612.0" cy="1291.1" r="6.0"/><circle cx="1616.5" cy="1290.5" r="6.0"/><circle cx="1606.1" cy="1295.9" r="6.0"/><circle cx="1596.6" cy="1302.0" r="6.0"/><circle cx="1600.7" cy="1305.2" r="6.0"/><circle cx="1608.7" cy="1302.5" r="6.0"/></g>
<circle cx="1865.9" cy="981.8" r="6.0" fill="#3e58af"/>
<circle cx="1818.7" cy="999.3" r="6.0" fill="#3e58af"/>
<circle cx="1828.1" cy="1003.3" r="6.0" fill="#3e58af"/>
<circle cx="1833.5" cy="1007.3" r="6.0" fill="#3e58af"/>
<circle cx="1820.1" cy="1014.1" r="6.0" fill="#3e58af"/>
<circle cx="1814.7" cy="1024.8" r="6.0" fill="#3e58af"/>
<circle cx="1855.1" cy="1026.2" r="6.0" fill="#3e58af"/>
<circle cx="1853.7" cy="1012.7" r="6.0" fill="#3e58af"/>
<circle cx="1844.3" cy="1055.8" r="6.0" fill="#3e58af"/>
<circle cx="1824.1" cy="1084.1" r="6.0" fill="#3e58af"/>
<circle cx="1814.7" cy="1097.6" r="6.0" fill="#3e58af"/>
<circle cx="1803.9" cy="1112.4" r="6.0" fill="#3e58af"/>
<circle cx="1790.4" cy="1128.6" r="6.0" fill="#3e58af"/>
<circle cx="1779.7" cy="1136.6" r="6.0" fill="#3e58af"/>
<circle cx="1759.5" cy="1055.8" r="6.0" fill="#3e58af"/>
<circle cx="1731.2" cy="1094.9" r="6.0" fill="#3e58af"/>
<circle cx="1774.3" cy="1051.8" r="6.0" fill="#3e58af"/>
<circle cx="1701.3" cy="1234.5" r="6.0" fill="#3e58af"/>
<circle cx="1682.5" cy="1254.7" r="6.0" fill="#3e58af"/>
<circle cx="1609.1" cy="1268.1" r="6.0" fill="#3e58af"/>
<circle cx="1656.2" cy="1273.5" r="6.0" fill="#3e58af"/>
<circle cx="1640.1" cy="1289.7" r="6.0" fill="#3e58af"/>
<circle cx="1629.3" cy="1299.1" r="6.0" fill="#3e58af"/>
<circle cx="1599.7" cy="1322.0" r="6.0" fill="#3e58af"/>
<circle cx="1661.6" cy="1195.4" r="6.0" fill="#3e58af"/>
<circle cx="1739.7" cy="1184.6" r="6.0" fill="#3e58af"/>
<circle cx="1590.3" cy="1340.5" r="6.0" fill="#3e58af"/>
<circle cx="1599.8" cy="1322.0" r="6.0" fill="#3e58af"/>
<circle cx="1586.4" cy="1312.6" r="6.0" fill="#3e58af"/>
<circle cx="1629.6" cy="1301.6" r="6.0" fill="#3e58af"/>
<circle cx="1795.2" cy="1024.2" r="6.0" fill="#ba407e"/>
<circle cx="1772.3" cy="1036.3" r="6.0" fill="#ba407e"/>
<circle cx="1780.3" cy="1051.8" r="6.0" fill="#ba407e"/>
<circle cx="1818.7" cy="1061.2" r="6.0" fill="#ba407e"/>
<circle cx="1809.3" cy="1071.3" r="6.0" fill="#ba407e"/>
<circle cx="1795.2" cy="1089.5" r="6.0" fill="#ba407e"/>
<circle cx="1747.3" cy="1085.5" r="6.0" fill="#ba407e"/>
<circle cx="1724.4" cy="1101.6" r="6.0" fill="#ba407e"/>
<circle cx="1688.1" cy="1147.4" r="6.0" fill="#ba407e"/>
<circle cx="1613.8" cy="1247.3" r="6.0" fill="#ba407e"/>
<circle cx="1605.1" cy="1332.1" r="6.0" fill="#ba407e"/>
<circle cx="1594.3" cy="1300.5" r="6.0" fill="#ba407e"/>
<circle cx="1646.8" cy="1278.9" r="6.0" fill="#ba407e"/>
<circle cx="1556.6" cy="1355.0" r="6.0" fill="#ba407e"/>
<circle cx="1605.3" cy="1332.2" r="6.0" fill="#ba407e"/>
<circle cx="1596.6" cy="1317.3" r="6.0" fill="#ba407e"/>
<circle cx="1606.0" cy="1308.6" r="6.0" fill="#ba407e"/>
<circle cx="1592.7" cy="1301.6" r="6.0" fill="#ba407e"/>
</g>
<line x1="71.58" y1="1523.73" x2="607.52" y2="899.60" stroke="#3e58af" stroke-width="3"/>
<line x1="61.00" y1="1523.73" x2="600.32" y2="899.60" stroke="#ba407e" stroke-width="3"/>
</g>
<path d="M104.0,898.3 V1484.3 H653.5" fill="none" stroke="#333" stroke-width="1.6"/>
<line x1="91.5" y1="1454.90" x2="104.0" y2="1454.90" stroke="#111" stroke-width="1.8"/>
<text x="34.07" y="1462.70" font-size="18.8" font-weight="bold" fill="#000" textLength="54.20" lengthAdjust="spacing">30,00</text>
<line x1="91.5" y1="1366.98" x2="104.0" y2="1366.98" stroke="#111" stroke-width="1.8"/>
<text x="34.22" y="1374.78" font-size="18.8" font-weight="bold" fill="#000" textLength="54.06" lengthAdjust="spacing">40,00</text>
<line x1="91.5" y1="1279.06" x2="104.0" y2="1279.06" stroke="#111" stroke-width="1.8"/>
<text x="33.92" y="1286.86" font-size="18.8" font-weight="bold" fill="#000" textLength="54.35" lengthAdjust="spacing">50,00</text>
<line x1="91.5" y1="1191.14" x2="104.0" y2="1191.14" stroke="#111" stroke-width="1.8"/>
<text x="33.81" y="1198.94" font-size="18.8" font-weight="bold" fill="#000" textLength="54.46" lengthAdjust="spacing">60,00</text>
<line x1="91.5" y1="1103.22" x2="104.0" y2="1103.22" stroke="#111" stroke-width="1.8"/>
<text x="33.69" y="1111.02" font-size="18.8" font-weight="bold" fill="#000" textLength="54.58" lengthAdjust="spacing">70,00</text>
<line x1="91.5" y1="1015.30" x2="104.0" y2="1015.30" stroke="#111" stroke-width="1.8"/>
<text x="33.90" y="1023.10" font-size="18.8" font-weight="bold" fill="#000" textLength="54.37" lengthAdjust="spacing">80,00</text>
<line x1="91.5" y1="927.38" x2="104.0" y2="927.38" stroke="#111" stroke-width="1.8"/>
<text x="33.85" y="935.18" font-size="18.8" font-weight="bold" fill="#000" textLength="54.42" lengthAdjust="spacing">90,00</text>
<line x1="131.40" y1="1484.3" x2="131.40" y2="1496.7" stroke="#111" stroke-width="1.8"/>
<text x="105.77" y="1516.10" font-size="18.8" font-weight="bold" fill="#000" textLength="54.20" lengthAdjust="spacing">30,00</text>
<line x1="202.04" y1="1484.3" x2="202.04" y2="1496.7" stroke="#111" stroke-width="1.8"/>
<text x="176.56" y="1516.10" font-size="18.8" font-weight="bold" fill="#000" textLength="54.06" lengthAdjust="spacing">40,00</text>
<line x1="272.68" y1="1484.3" x2="272.68" y2="1496.7" stroke="#111" stroke-width="1.8"/>
<text x="246.90" y="1516.10" font-size="18.8" font-weight="bold" fill="#000" textLength="54.35" lengthAdjust="spacing">50,00</text>
<line x1="343.32" y1="1484.3" x2="343.32" y2="1496.7" stroke="#111" stroke-width="1.8"/>
<text x="317.43" y="1516.10" font-size="18.8" font-weight="bold" fill="#000" textLength="54.46" lengthAdjust="spacing">60,00</text>
<line x1="413.96" y1="1484.3" x2="413.96" y2="1496.7" stroke="#111" stroke-width="1.8"/>
<text x="387.95" y="1516.10" font-size="18.8" font-weight="bold" fill="#000" textLength="54.58" lengthAdjust="spacing">70,00</text>
<line x1="484.60" y1="1484.3" x2="484.60" y2="1496.7" stroke="#111" stroke-width="1.8"/>
<text x="458.80" y="1516.10" font-size="18.8" font-weight="bold" fill="#000" textLength="54.37" lengthAdjust="spacing">80,00</text>
<line x1="555.24" y1="1484.3" x2="555.24" y2="1496.7" stroke="#111" stroke-width="1.8"/>
<text x="529.39" y="1516.10" font-size="18.8" font-weight="bold" fill="#000" textLength="54.42" lengthAdjust="spacing">90,00</text>
<line x1="625.88" y1="1484.3" x2="625.88" y2="1496.7" stroke="#111" stroke-width="1.8"/>
<text x="593.80" y="1516.10" font-size="18.8" font-weight="bold" fill="#000" textLength="66.36" lengthAdjust="spacing">100,00</text>
<text x="220.48" y="1544.60" font-size="24.2" font-weight="bold" fill="#000" textLength="307.75" lengthAdjust="spacing">RIGHT 4D FINGER MEAN</text>
<text transform="translate(24.30,1344.72) rotate(-90)" x="0" y="0" font-size="24.2" font-weight="bold" textLength="310.05" lengthAdjust="spacing">RIGHT 2D FINGER MEAN</text>
<text x="112.64" y="918.90" font-size="30.6" font-weight="bold" fill="#278b17" textLength="207.22" lengthAdjust="spacing">ASIAN ORIGIN</text>
<circle cx="119.2" cy="949.2" r="6.3" fill="#3e58af"/>
<circle cx="119.2" cy="970.8" r="6.3" fill="#ba407e"/>
<text x="134.73" y="957.40" font-size="17.5" font-weight="bold" fill="#000" textLength="73.23" lengthAdjust="spacing">MALE: R</text>
<text transform="translate(207.75,950.90) scale(1.028,1)" font-size="12.60" font-weight="normal" fill="#000">2</text>
<text x="218.83" y="957.40" font-size="17.5" font-weight="bold" fill="#000" textLength="130.60" lengthAdjust="spacing">Linear = 0,916</text>
<text x="133.13" y="978.20" font-size="17.5" font-weight="bold" fill="#000" textLength="96.43" lengthAdjust="spacing">FEMALE: R</text>
<text transform="translate(229.35,971.70) scale(1.028,1)" font-size="12.60" font-weight="normal" fill="#000">2</text>
<text x="240.43" y="978.20" font-size="17.5" font-weight="bold" fill="#000" textLength="130.36" lengthAdjust="spacing">Linear = 0,884</text>
<text transform="translate(105.16,860.05) scale(1.054,1)" font-size="56.77" font-weight="bold" fill="#000">e</text>
<rect x="287.0" y="1152.0" width="142.4" height="28.4" fill="#fff" stroke="#ba407e" stroke-width="1.5"/>
<text x="291.16" y="1173.10" font-size="18.2" font-weight="normal" fill="#000" textLength="130.94" lengthAdjust="spacing">y=4,02+0,91*x</text>
<rect x="286.3" y="1202.0" width="142.0" height="27.8" fill="#fff" stroke="#3e58af" stroke-width="1.5"/>
<text x="290.46" y="1222.50" font-size="18.2" font-weight="normal" fill="#000" textLength="130.54" lengthAdjust="spacing">y=2,53+0,92*x</text>
</g>
<g transform="translate(0,783.0)">
<clipPath id="clipf"><rect x="104.0" y="898.3" width="549.5" height="586.0"/></clipPath>
<g clip-path="url(#clipf)">
<g transform="translate(0,-783.0)">
<polygon points="296.1,2032.8 300.1,2033.8 300.7,2033.9 300.8,2034.0 301.7,2034.3 302.1,2033.9 302.2,2033.8 303.1,2033.1 303.3,2033.0 304.3,2032.3 304.5,2032.2 305.6,2031.7 305.8,2031.6 306.9,2031.2 307.1,2031.1 308.2,2030.8 308.4,2030.7 309.0,2030.6 317.8,2029.2 318.3,2029.1 318.5,2029.1 319.7,2029.0 319.9,2029.0 321.0,2029.0 321.2,2029.0 321.8,2029.1 326.0,2029.6 326.5,2029.0 326.5,2024.0 326.5,2023.4 326.5,2023.2 326.6,2022.1 326.7,2021.9 326.9,2020.8 326.9,2020.6 327.2,2019.5 327.3,2019.3 327.7,2018.3 327.8,2018.1 328.3,2017.1 328.4,2016.9 329.1,2015.9 329.2,2015.8 329.9,2014.9 330.0,2014.7 330.8,2013.9 331.0,2013.8 331.4,2013.4 341.6,2004.6 342.1,2004.2 342.2,2004.1 342.7,2003.8 361.1,1991.1 377.6,1976.8 377.6,1973.0 377.6,1972.4 377.6,1972.2 377.7,1971.0 377.7,1970.9 377.9,1969.7 378.0,1969.5 378.3,1968.4 378.4,1968.3 378.8,1967.2 378.9,1967.0 379.4,1966.0 379.5,1965.8 380.1,1964.9 380.2,1964.7 380.9,1963.8 381.1,1963.7 381.5,1963.2 414.0,1929.5 414.7,1925.9 414.7,1925.6 414.7,1925.5 414.8,1925.2 417.7,1913.6 417.9,1913.0 417.9,1912.8 418.3,1911.7 418.4,1911.5 418.9,1910.5 419.0,1910.3 419.6,1909.3 419.7,1909.1 420.4,1908.2 420.5,1908.0 421.3,1907.1 421.5,1907.0 422.3,1906.2 422.5,1906.1 423.4,1905.4 423.6,1905.3 424.1,1905.0 431.4,1900.6 432.0,1900.3 432.2,1900.2 433.4,1899.6 433.6,1899.5 434.2,1899.3 439.2,1897.6 442.2,1894.0 444.3,1887.7 444.5,1887.2 444.6,1887.0 445.0,1885.9 445.1,1885.8 445.7,1884.8 445.8,1884.6 446.5,1883.7 446.6,1883.5 446.9,1883.1 455.7,1872.8 456.1,1872.4 456.2,1872.3 456.9,1871.6 457.1,1871.4 457.9,1870.8 458.0,1870.7 458.9,1870.1 459.1,1870.0 460.0,1869.5 460.2,1869.4 460.6,1869.2 470.0,1865.0 469.9,1864.7 469.9,1864.5 469.8,1863.4 469.8,1863.2 469.9,1862.1 469.9,1861.9 470.0,1860.8 470.0,1860.6 470.3,1859.5 470.3,1859.3 470.7,1858.2 470.7,1858.0 471.2,1857.0 471.3,1856.8 471.8,1855.8 471.9,1855.6 472.5,1854.7 472.7,1854.6 473.4,1853.7 473.5,1853.5 474.3,1852.7 474.4,1852.6 474.9,1852.2 478.6,1849.1 478.6,1848.4 478.6,1847.8 478.6,1847.6 478.7,1846.4 478.8,1846.2 479.0,1845.1 479.0,1844.9 479.4,1843.8 479.4,1843.6 479.9,1842.5 480.0,1842.3 480.5,1841.3 480.6,1841.1 480.9,1840.6 485.7,1833.4 488.1,1826.5 488.3,1825.9 488.3,1825.7 488.8,1824.6 488.9,1824.5 489.5,1823.4 489.6,1823.3 490.3,1822.3 490.4,1822.2 491.2,1821.3 491.3,1821.1 492.2,1820.3 492.3,1820.2 493.2,1819.5 493.4,1819.4 494.4,1818.7 494.6,1818.6 495.6,1818.1 495.8,1818.0 496.3,1817.8 495.4,1814.9 495.2,1814.3 495.1,1814.1 494.9,1813.0 494.8,1812.8 494.7,1811.6 494.7,1811.4 494.6,1810.2 494.6,1810.0 494.7,1808.8 494.8,1808.7 495.0,1807.5 495.0,1807.3 495.3,1806.2 495.4,1806.0 495.8,1804.9 495.9,1804.7 496.4,1803.6 496.5,1803.5 497.2,1802.5 497.3,1802.3 498.0,1801.4 498.1,1801.2 498.9,1800.4 499.1,1800.2 499.5,1799.8 506.4,1794.0 508.2,1786.6 510.3,1778.0 508.2,1767.2 507.4,1767.6 507.2,1767.7 506.2,1768.2 506.0,1768.2 504.8,1768.6 504.7,1768.6 504.1,1768.7 492.2,1771.1 486.0,1775.3 477.8,1781.1 472.9,1788.0 467.7,1801.1 467.4,1801.6 467.3,1801.8 466.8,1802.9 466.7,1803.1 466.0,1804.1 465.9,1804.2 465.1,1805.2 465.0,1805.3 464.1,1806.2 464.0,1806.3 463.0,1807.1 462.9,1807.2 461.8,1807.9 461.7,1808.0 460.6,1808.5 460.4,1808.6 459.9,1808.9 449.3,1813.1 445.9,1818.2 445.5,1818.7 445.4,1818.9 444.6,1819.8 444.5,1820.0 443.7,1820.8 443.5,1820.9 442.6,1821.7 442.4,1821.8 441.4,1822.5 441.2,1822.6 440.2,1823.1 440.0,1823.2 439.4,1823.5 437.1,1824.4 436.5,1825.5 436.2,1826.0 436.1,1826.2 435.4,1827.3 435.3,1827.5 434.5,1828.5 434.3,1828.7 433.4,1829.6 433.3,1829.7 432.8,1830.1 425.5,1836.0 425.1,1836.3 424.9,1836.4 424.5,1836.7 418.8,1840.5 414.7,1848.8 414.4,1849.3 414.3,1849.5 413.7,1850.4 413.6,1850.6 412.9,1851.5 412.8,1851.6 412.1,1852.4 411.9,1852.5 411.1,1853.3 411.0,1853.4 410.5,1853.8 398.9,1862.5 390.7,1868.6 389.1,1873.2 389.0,1873.8 388.9,1874.0 388.4,1875.0 388.3,1875.2 387.8,1876.2 387.7,1876.3 387.0,1877.3 386.9,1877.4 386.2,1878.3 386.0,1878.5 385.2,1879.3 385.1,1879.4 384.6,1879.8 380.9,1882.7 377.7,1894.4 377.5,1894.9 377.5,1895.1 377.1,1896.2 377.0,1896.3 376.5,1897.4 376.4,1897.5 375.8,1898.5 375.7,1898.6 375.0,1899.6 374.9,1899.7 374.2,1900.5 374.0,1900.7 373.2,1901.4 373.0,1901.6 372.6,1901.9 363.2,1908.9 359.3,1915.8 353.9,1929.5 353.6,1930.0 353.6,1930.2 353.0,1931.2 352.9,1931.3 352.3,1932.3 352.2,1932.4 351.5,1933.3 351.4,1933.5 350.6,1934.3 350.5,1934.4 350.1,1934.8 346.1,1938.3 346.3,1938.8 346.3,1939.0 346.7,1940.1 346.8,1940.3 347.0,1941.5 347.0,1941.7 347.2,1942.8 347.2,1943.0 347.2,1944.2 347.2,1944.4 347.1,1945.6 347.0,1945.8 346.8,1947.0 346.8,1947.2 346.4,1948.3 346.4,1948.5 345.9,1949.6 345.8,1949.8 345.3,1950.9 345.2,1951.0 344.8,1951.5 330.3,1973.4 329.9,1973.9 329.8,1974.1 329.0,1975.0 328.9,1975.1 328.5,1975.6 325.3,1978.7 325.3,1981.7 325.3,1982.3 325.3,1982.4 325.2,1983.6 325.2,1983.7 325.0,1984.8 324.9,1985.0 324.6,1986.1 324.5,1986.3 324.1,1987.3 324.1,1987.5 323.6,1988.5 323.5,1988.6 322.9,1989.6 322.8,1989.7 322.1,1990.6 322.0,1990.8 321.2,1991.6 321.1,1991.7 320.7,1992.1 307.8,2003.7 299.2,2019.1 298.4,2021.0 296.1,2030.1 296.1,2032.8" fill="#3e58af"/>
<g fill="#3e58af"><circle cx="338.7" cy="1936.4" r="6.0"/><circle cx="341.8" cy="1943.4" r="6.0"/><circle cx="339.0" cy="1949.0" r="6.0"/><circle cx="334.9" cy="1955.2" r="6.0"/><circle cx="331.9" cy="1960.3" r="6.0"/><circle cx="326.6" cy="1966.0" r="6.0"/><circle cx="319.6" cy="1976.3" r="6.0"/><circle cx="318.1" cy="1983.5" r="6.0"/><circle cx="300.1" cy="2005.5" r="6.0"/><circle cx="296.3" cy="2009.7" r="6.0"/><circle cx="293.9" cy="2015.9" r="6.0"/><circle cx="295.8" cy="2039.6" r="6.0"/><circle cx="301.8" cy="2040.6" r="6.0"/><circle cx="306.2" cy="2037.0" r="6.0"/><circle cx="314.3" cy="2036.2" r="6.0"/><circle cx="319.6" cy="2035.3" r="6.0"/><circle cx="332.6" cy="2031.9" r="6.0"/><circle cx="334.8" cy="2018.7" r="6.0"/><circle cx="343.7" cy="2009.7" r="6.0"/><circle cx="367.2" cy="1992.7" r="6.0"/><circle cx="372.3" cy="1989.3" r="6.0"/><circle cx="378.3" cy="1985.5" r="6.0"/><circle cx="383.1" cy="1979.8" r="6.0"/><circle cx="384.5" cy="1972.8" r="6.0"/><circle cx="385.0" cy="1965.9" r="6.0"/><circle cx="391.6" cy="1961.4" r="6.0"/><circle cx="395.5" cy="1957.6" r="6.0"/><circle cx="399.3" cy="1952.1" r="6.0"/><circle cx="409.9" cy="1942.2" r="6.0"/><circle cx="414.7" cy="1937.6" r="6.0"/><circle cx="419.2" cy="1933.1" r="6.0"/><circle cx="421.6" cy="1925.6" r="6.0"/><circle cx="422.2" cy="1919.4" r="6.0"/><circle cx="426.1" cy="1913.1" r="6.0"/><circle cx="429.6" cy="1908.7" r="6.0"/><circle cx="435.9" cy="1905.0" r="6.0"/><circle cx="442.2" cy="1902.2" r="6.0"/><circle cx="447.8" cy="1898.1" r="6.0"/><circle cx="450.5" cy="1890.3" r="6.0"/><circle cx="454.1" cy="1885.4" r="6.0"/><circle cx="458.5" cy="1878.7" r="6.0"/><circle cx="462.4" cy="1875.3" r="6.0"/><circle cx="474.3" cy="1868.6" r="6.0"/><circle cx="475.8" cy="1862.7" r="6.0"/><circle cx="483.6" cy="1851.5" r="6.0"/><circle cx="486.0" cy="1846.4" r="6.0"/><circle cx="491.5" cy="1833.2" r="6.0"/><circle cx="495.1" cy="1828.1" r="6.0"/><circle cx="500.4" cy="1822.7" r="6.0"/><circle cx="503.1" cy="1820.0" r="6.0"/><circle cx="501.9" cy="1815.3" r="6.0"/><circle cx="500.4" cy="1808.1" r="6.0"/><circle cx="504.9" cy="1803.4" r="6.0"/><circle cx="512.0" cy="1798.8" r="6.0"/><circle cx="513.3" cy="1792.8" r="6.0"/><circle cx="514.3" cy="1784.3" r="6.0"/><circle cx="514.0" cy="1771.2" r="6.0"/><circle cx="513.8" cy="1764.1" r="6.0"/><circle cx="506.6" cy="1760.4" r="6.0"/><circle cx="500.7" cy="1762.7" r="6.0"/><circle cx="495.0" cy="1763.9" r="6.0"/><circle cx="487.2" cy="1767.7" r="6.0"/><circle cx="482.0" cy="1770.0" r="6.0"/><circle cx="477.0" cy="1775.2" r="6.0"/><circle cx="471.5" cy="1778.4" r="6.0"/><circle cx="468.3" cy="1784.4" r="6.0"/><circle cx="465.7" cy="1791.1" r="6.0"/><circle cx="444.4" cy="1808.4" r="6.0"/><circle cx="435.4" cy="1817.1" r="6.0"/><circle cx="426.4" cy="1828.1" r="6.0"/><circle cx="422.0" cy="1831.7" r="6.0"/><circle cx="415.6" cy="1834.7" r="6.0"/><circle cx="409.5" cy="1846.0" r="6.0"/><circle cx="404.2" cy="1851.7" r="6.0"/><circle cx="396.9" cy="1856.0" r="6.0"/><circle cx="393.1" cy="1859.0" r="6.0"/><circle cx="375.4" cy="1881.3" r="6.0"/><circle cx="372.8" cy="1886.9" r="6.0"/><circle cx="366.9" cy="1898.1" r="6.0"/><circle cx="361.6" cy="1902.2" r="6.0"/><circle cx="354.2" cy="1914.0" r="6.0"/><circle cx="351.2" cy="1921.6" r="6.0"/><circle cx="348.5" cy="1927.8" r="6.0"/><circle cx="491.2" cy="1769.1" r="6.0"/><circle cx="496.9" cy="1766.5" r="6.0"/><circle cx="503.7" cy="1766.9" r="6.0"/><circle cx="484.7" cy="1773.5" r="6.0"/><circle cx="474.7" cy="1779.7" r="6.0"/><circle cx="507.2" cy="1780.4" r="6.0"/><circle cx="515.9" cy="1781.6" r="6.0"/><circle cx="470.0" cy="1790.0" r="6.0"/><circle cx="509.0" cy="1786.2" r="6.0"/><circle cx="465.8" cy="1796.3" r="6.0"/><circle cx="505.1" cy="1794.8" r="6.0"/><circle cx="507.4" cy="1802.6" r="6.0"/><circle cx="444.5" cy="1815.3" r="6.0"/><circle cx="433.8" cy="1820.7" r="6.0"/><circle cx="498.0" cy="1822.0" r="6.0"/><circle cx="411.7" cy="1840.5" r="6.0"/><circle cx="415.0" cy="1847.2" r="6.0"/><circle cx="481.2" cy="1848.7" r="6.0"/><circle cx="473.9" cy="1854.7" r="6.0"/><circle cx="393.3" cy="1859.4" r="6.0"/><circle cx="467.9" cy="1869.2" r="6.0"/><circle cx="387.2" cy="1873.7" r="6.0"/><circle cx="453.3" cy="1872.8" r="6.0"/><circle cx="376.9" cy="1878.5" r="6.0"/><circle cx="385.2" cy="1880.4" r="6.0"/><circle cx="451.4" cy="1888.7" r="6.0"/><circle cx="377.2" cy="1891.8" r="6.0"/><circle cx="444.1" cy="1892.3" r="6.0"/><circle cx="435.2" cy="1899.9" r="6.0"/><circle cx="355.4" cy="1918.6" r="6.0"/><circle cx="414.8" cy="1927.1" r="6.0"/><circle cx="422.3" cy="1925.7" r="6.0"/><circle cx="408.0" cy="1931.7" r="6.0"/><circle cx="414.3" cy="1931.8" r="6.0"/><circle cx="342.5" cy="1938.9" r="6.0"/><circle cx="340.0" cy="1952.4" r="6.0"/><circle cx="385.7" cy="1958.3" r="6.0"/><circle cx="392.9" cy="1961.7" r="6.0"/><circle cx="383.1" cy="1967.9" r="6.0"/><circle cx="382.5" cy="1973.9" r="6.0"/><circle cx="326.9" cy="1980.1" r="6.0"/><circle cx="377.3" cy="1980.4" r="6.0"/><circle cx="324.1" cy="1986.1" r="6.0"/><circle cx="369.0" cy="1987.6" r="6.0"/><circle cx="375.3" cy="1986.5" r="6.0"/><circle cx="312.5" cy="1991.8" r="6.0"/><circle cx="320.3" cy="1992.1" r="6.0"/><circle cx="305.2" cy="1998.3" r="6.0"/><circle cx="311.7" cy="1997.6" r="6.0"/><circle cx="350.7" cy="1998.5" r="6.0"/><circle cx="357.2" cy="1999.9" r="6.0"/><circle cx="304.6" cy="2007.5" r="6.0"/><circle cx="338.9" cy="2005.1" r="6.0"/><circle cx="301.6" cy="2012.7" r="6.0"/><circle cx="334.3" cy="2011.1" r="6.0"/><circle cx="331.5" cy="2025.8" r="6.0"/><circle cx="309.9" cy="2032.1" r="6.0"/><circle cx="315.3" cy="2030.7" r="6.0"/><circle cx="324.4" cy="2034.0" r="6.0"/><circle cx="329.7" cy="2031.4" r="6.0"/><circle cx="304.3" cy="2040.0" r="6.0"/></g>
<polygon points="343.7,1937.7 344.2,1939.0 344.4,1939.5 344.5,1939.6 344.8,1940.7 344.8,1940.8 345.0,1941.8 345.1,1941.9 345.2,1943.0 345.2,1943.1 345.2,1944.2 345.2,1944.3 345.1,1945.4 345.1,1945.5 344.9,1946.6 344.8,1946.7 344.5,1947.7 344.5,1947.8 344.1,1948.8 344.0,1948.9 343.5,1949.9 343.5,1950.0 343.2,1950.4 328.6,1972.3 328.3,1972.8 328.2,1972.8 327.5,1973.7 327.5,1973.7 327.1,1974.1 323.3,1977.9 323.3,1981.7 323.3,1982.2 323.3,1982.3 323.2,1983.3 323.2,1983.4 323.0,1984.4 323.0,1984.5 322.7,1985.5 322.7,1985.6 322.3,1986.5 322.3,1986.6 321.8,1987.5 321.7,1987.6 321.2,1988.5 321.2,1988.6 320.5,1989.4 320.5,1989.5 319.8,1990.2 319.7,1990.3 319.3,1990.6 306.2,2002.4 297.4,2018.3 296.9,2019.5 295.8,2033.3 295.8,2033.3 296.0,2033.3 300.7,2029.4 301.1,2029.1 301.2,2029.0 302.0,2028.5 302.1,2028.4 302.9,2027.9 303.0,2027.9 303.9,2027.5 304.0,2027.4 304.9,2027.1 305.0,2027.1 305.5,2027.0 312.7,2025.2 315.9,2020.3 316.2,2019.9 316.3,2019.8 316.9,2019.0 317.0,2018.9 317.7,2018.2 317.7,2018.1 318.5,2017.5 318.6,2017.4 319.4,2016.8 319.5,2016.8 320.4,2016.3 320.4,2016.2 321.4,2015.8 321.5,2015.8 322.4,2015.5 322.5,2015.4 323.0,2015.3 334.2,2012.5 335.8,2012.0 336.0,2010.9 336.1,2010.4 336.1,2010.3 336.4,2009.2 336.5,2009.1 336.9,2008.0 336.9,2007.9 337.5,2006.9 337.5,2006.8 338.2,2005.9 338.2,2005.8 339.0,2004.9 339.0,2004.9 339.8,2004.1 339.9,2004.0 340.8,2003.3 340.9,2003.3 341.4,2002.9 362.5,1989.5 378.6,1975.7 379.6,1965.9 379.7,1965.4 379.7,1965.3 379.9,1964.2 379.9,1964.1 380.3,1963.0 380.3,1962.9 380.7,1961.9 380.8,1961.8 381.3,1960.9 381.4,1960.8 382.0,1959.9 382.1,1959.8 382.8,1958.9 382.8,1958.9 383.2,1958.5 413.2,1929.5 413.8,1927.2 413.9,1926.8 414.0,1926.7 414.1,1926.3 417.0,1917.5 417.3,1916.8 417.3,1916.7 417.7,1916.0 423.5,1904.3 423.7,1903.9 423.8,1903.8 424.3,1902.9 424.3,1902.9 424.6,1902.5 429.0,1896.6 429.4,1896.1 429.5,1896.1 430.3,1895.2 430.4,1895.1 431.4,1894.3 431.4,1894.2 431.9,1893.8 443.5,1886.1 448.0,1880.5 453.8,1872.5 456.1,1863.0 456.3,1862.4 456.3,1862.3 456.5,1861.7 460.4,1851.4 461.7,1839.8 461.7,1839.6 461.7,1839.6 461.7,1839.4 463.2,1829.2 463.3,1828.6 463.3,1828.5 463.6,1827.4 463.6,1827.3 464.1,1826.2 464.1,1826.1 464.3,1825.5 468.1,1817.9 470.7,1807.5 470.9,1806.9 470.9,1806.8 471.4,1805.7 471.4,1805.6 472.0,1804.4 472.1,1804.3 472.4,1803.8 475.3,1799.5 475.2,1799.1 468.3,1805.0 467.9,1805.3 467.8,1805.4 467.0,1805.9 466.9,1806.0 466.0,1806.5 466.0,1806.6 465.0,1807.0 464.9,1807.0 464.0,1807.3 463.9,1807.4 463.4,1807.5 458.0,1808.9 449.7,1811.6 449.3,1811.8 449.2,1811.8 448.8,1811.9 447.5,1812.2 444.2,1817.1 443.9,1817.5 443.9,1817.6 443.2,1818.4 443.2,1818.5 442.5,1819.2 442.4,1819.2 442.0,1819.6 433.2,1827.1 426.9,1837.2 426.6,1837.8 426.5,1837.9 425.7,1838.8 425.6,1838.9 425.2,1839.4 410.6,1854.0 410.2,1854.4 410.1,1854.4 409.2,1855.2 409.1,1855.2 408.1,1855.9 408.0,1855.9 407.5,1856.2 398.2,1860.9 388.7,1872.8 380.4,1886.6 374.6,1896.7 374.3,1897.1 374.3,1897.2 373.6,1898.1 373.6,1898.2 372.8,1899.1 372.7,1899.1 371.9,1899.9 371.8,1900.0 371.4,1900.3 361.7,1907.6 357.5,1914.9 352.0,1928.7 351.8,1929.2 351.8,1929.3 351.3,1930.2 351.2,1930.3 350.7,1931.2 350.6,1931.2 350.0,1932.1 349.9,1932.1 349.2,1932.9 349.1,1932.9 348.8,1933.3 343.7,1937.7" fill="#ba407e"/>
<g fill="#ba407e"><circle cx="336.9" cy="1935.8" r="6.0"/><circle cx="339.9" cy="1942.7" r="6.0"/><circle cx="337.0" cy="1950.0" r="6.0"/><circle cx="333.9" cy="1955.6" r="6.0"/><circle cx="326.7" cy="1966.0" r="6.0"/><circle cx="321.7" cy="1971.2" r="6.0"/><circle cx="318.0" cy="1978.5" r="6.0"/><circle cx="316.6" cy="1983.6" r="6.0"/><circle cx="314.2" cy="1990.7" r="6.0"/><circle cx="302.7" cy="1998.3" r="6.0"/><circle cx="299.9" cy="2005.6" r="6.0"/><circle cx="293.5" cy="2015.9" r="6.0"/><circle cx="290.5" cy="2023.7" r="6.0"/><circle cx="290.6" cy="2029.8" r="6.0"/><circle cx="292.1" cy="2036.7" r="6.0"/><circle cx="298.4" cy="2036.5" r="6.0"/><circle cx="311.0" cy="2031.1" r="6.0"/><circle cx="315.7" cy="2029.1" r="6.0"/><circle cx="319.6" cy="2022.6" r="6.0"/><circle cx="339.3" cy="2016.1" r="6.0"/><circle cx="341.3" cy="2008.3" r="6.0"/><circle cx="346.4" cy="2005.8" r="6.0"/><circle cx="352.3" cy="2001.1" r="6.0"/><circle cx="358.6" cy="1998.6" r="6.0"/><circle cx="364.8" cy="1994.7" r="6.0"/><circle cx="369.6" cy="1988.4" r="6.0"/><circle cx="374.6" cy="1985.1" r="6.0"/><circle cx="380.3" cy="1980.0" r="6.0"/><circle cx="384.6" cy="1973.9" r="6.0"/><circle cx="383.8" cy="1968.3" r="6.0"/><circle cx="387.9" cy="1960.7" r="6.0"/><circle cx="392.2" cy="1957.4" r="6.0"/><circle cx="398.5" cy="1951.2" r="6.0"/><circle cx="413.6" cy="1936.8" r="6.0"/><circle cx="417.5" cy="1932.5" r="6.0"/><circle cx="419.9" cy="1926.5" r="6.0"/><circle cx="421.2" cy="1919.1" r="6.0"/><circle cx="423.9" cy="1912.8" r="6.0"/><circle cx="428.0" cy="1906.1" r="6.0"/><circle cx="430.9" cy="1900.3" r="6.0"/><circle cx="436.1" cy="1897.0" r="6.0"/><circle cx="443.2" cy="1893.5" r="6.0"/><circle cx="448.7" cy="1889.0" r="6.0"/><circle cx="453.4" cy="1883.0" r="6.0"/><circle cx="455.8" cy="1875.9" r="6.0"/><circle cx="459.5" cy="1870.4" r="6.0"/><circle cx="459.9" cy="1863.4" r="6.0"/><circle cx="462.4" cy="1857.6" r="6.0"/><circle cx="466.6" cy="1851.2" r="6.0"/><circle cx="465.1" cy="1843.0" r="6.0"/><circle cx="467.5" cy="1837.9" r="6.0"/><circle cx="467.0" cy="1828.9" r="6.0"/><circle cx="471.3" cy="1824.8" r="6.0"/><circle cx="474.6" cy="1818.3" r="6.0"/><circle cx="479.1" cy="1804.1" r="6.0"/><circle cx="480.8" cy="1796.9" r="6.0"/><circle cx="478.6" cy="1791.0" r="6.0"/><circle cx="472.1" cy="1794.5" r="6.0"/><circle cx="467.0" cy="1800.1" r="6.0"/><circle cx="461.2" cy="1803.6" r="6.0"/><circle cx="454.1" cy="1803.6" r="6.0"/><circle cx="448.9" cy="1807.5" r="6.0"/><circle cx="442.0" cy="1811.1" r="6.0"/><circle cx="437.9" cy="1815.6" r="6.0"/><circle cx="433.9" cy="1820.4" r="6.0"/><circle cx="428.9" cy="1824.4" r="6.0"/><circle cx="420.0" cy="1836.1" r="6.0"/><circle cx="416.0" cy="1841.7" r="6.0"/><circle cx="411.9" cy="1847.8" r="6.0"/><circle cx="406.0" cy="1851.6" r="6.0"/><circle cx="399.8" cy="1854.1" r="6.0"/><circle cx="394.7" cy="1859.5" r="6.0"/><circle cx="388.3" cy="1864.3" r="6.0"/><circle cx="386.1" cy="1870.2" r="6.0"/><circle cx="382.1" cy="1875.9" r="6.0"/><circle cx="377.2" cy="1882.3" r="6.0"/><circle cx="374.1" cy="1888.3" r="6.0"/><circle cx="371.2" cy="1892.5" r="6.0"/><circle cx="366.8" cy="1897.8" r="6.0"/><circle cx="360.5" cy="1901.5" r="6.0"/><circle cx="355.8" cy="1907.5" r="6.0"/><circle cx="351.6" cy="1912.9" r="6.0"/><circle cx="350.8" cy="1921.1" r="6.0"/><circle cx="347.7" cy="1927.3" r="6.0"/><circle cx="342.5" cy="1931.2" r="6.0"/><circle cx="470.9" cy="1796.3" r="6.0"/><circle cx="478.6" cy="1795.1" r="6.0"/><circle cx="465.3" cy="1801.7" r="6.0"/><circle cx="474.3" cy="1804.0" r="6.0"/><circle cx="446.3" cy="1808.2" r="6.0"/><circle cx="454.2" cy="1809.3" r="6.0"/><circle cx="459.4" cy="1811.0" r="6.0"/><circle cx="475.5" cy="1810.3" r="6.0"/><circle cx="471.4" cy="1815.1" r="6.0"/><circle cx="434.1" cy="1820.4" r="6.0"/><circle cx="426.4" cy="1828.7" r="6.0"/><circle cx="466.0" cy="1828.3" r="6.0"/><circle cx="426.2" cy="1836.0" r="6.0"/><circle cx="466.3" cy="1836.6" r="6.0"/><circle cx="459.7" cy="1840.9" r="6.0"/><circle cx="412.0" cy="1849.7" r="6.0"/><circle cx="402.3" cy="1856.5" r="6.0"/><circle cx="407.3" cy="1855.7" r="6.0"/><circle cx="460.7" cy="1855.6" r="6.0"/><circle cx="394.8" cy="1861.1" r="6.0"/><circle cx="385.5" cy="1868.3" r="6.0"/><circle cx="393.2" cy="1866.6" r="6.0"/><circle cx="385.2" cy="1873.5" r="6.0"/><circle cx="450.1" cy="1875.6" r="6.0"/><circle cx="376.7" cy="1879.8" r="6.0"/><circle cx="450.2" cy="1883.6" r="6.0"/><circle cx="372.7" cy="1886.5" r="6.0"/><circle cx="448.7" cy="1887.7" r="6.0"/><circle cx="436.3" cy="1896.5" r="6.0"/><circle cx="361.5" cy="1900.3" r="6.0"/><circle cx="429.1" cy="1899.7" r="6.0"/><circle cx="356.4" cy="1906.5" r="6.0"/><circle cx="353.2" cy="1914.7" r="6.0"/><circle cx="419.7" cy="1913.4" r="6.0"/><circle cx="352.1" cy="1919.7" r="6.0"/><circle cx="349.5" cy="1926.1" r="6.0"/><circle cx="417.6" cy="1927.4" r="6.0"/><circle cx="342.3" cy="1933.3" r="6.0"/><circle cx="408.4" cy="1935.8" r="6.0"/><circle cx="402.3" cy="1942.7" r="6.0"/><circle cx="346.0" cy="1948.9" r="6.0"/><circle cx="336.3" cy="1955.0" r="6.0"/><circle cx="391.1" cy="1954.1" r="6.0"/><circle cx="382.6" cy="1961.6" r="6.0"/><circle cx="333.5" cy="1966.9" r="6.0"/><circle cx="322.4" cy="1975.0" r="6.0"/><circle cx="328.0" cy="1973.7" r="6.0"/><circle cx="379.4" cy="1976.0" r="6.0"/><circle cx="323.5" cy="1981.4" r="6.0"/><circle cx="323.3" cy="1985.9" r="6.0"/><circle cx="369.7" cy="1988.5" r="6.0"/><circle cx="312.4" cy="1992.4" r="6.0"/><circle cx="357.1" cy="1995.6" r="6.0"/><circle cx="309.0" cy="1999.2" r="6.0"/><circle cx="354.8" cy="2001.3" r="6.0"/><circle cx="339.7" cy="2006.6" r="6.0"/><circle cx="326.1" cy="2013.3" r="6.0"/><circle cx="331.5" cy="2014.0" r="6.0"/><circle cx="291.4" cy="2021.2" r="6.0"/><circle cx="302.6" cy="2027.0" r="6.0"/><circle cx="312.7" cy="2028.2" r="6.0"/><circle cx="296.2" cy="2032.3" r="6.0"/><circle cx="304.7" cy="2032.6" r="6.0"/></g>
<circle cx="194.6" cy="2173.4" r="6.0" fill="#3e58af"/>
<circle cx="537.3" cy="1710.9" r="6.0" fill="#3e58af"/>
<circle cx="545.1" cy="1747.7" r="6.0" fill="#3e58af"/>
<circle cx="532.0" cy="1779.8" r="6.0" fill="#3e58af"/>
<circle cx="523.2" cy="1825.0" r="6.0" fill="#3e58af"/>
<circle cx="510.1" cy="1822.1" r="6.0" fill="#3e58af"/>
<circle cx="495.5" cy="1839.6" r="6.0" fill="#3e58af"/>
<circle cx="480.9" cy="1871.7" r="6.0" fill="#3e58af"/>
<circle cx="445.9" cy="1925.7" r="6.0" fill="#3e58af"/>
<circle cx="443.0" cy="1906.8" r="6.0" fill="#3e58af"/>
<circle cx="413.8" cy="1827.2" r="6.0" fill="#3e58af"/>
<circle cx="405.0" cy="1841.1" r="6.0" fill="#3e58af"/>
<circle cx="374.4" cy="1874.7" r="6.0" fill="#3e58af"/>
<circle cx="513.0" cy="1798.8" r="6.0" fill="#3e58af"/>
<circle cx="518.9" cy="1793.0" r="6.0" fill="#3e58af"/>
<circle cx="501.3" cy="1756.5" r="6.0" fill="#3e58af"/>
<circle cx="511.6" cy="1751.4" r="6.0" fill="#3e58af"/>
<circle cx="486.8" cy="1759.4" r="6.0" fill="#3e58af"/>
<circle cx="461.9" cy="1779.8" r="6.0" fill="#3e58af"/>
<circle cx="283.6" cy="2072.9" r="6.0" fill="#3e58af"/>
<circle cx="230.3" cy="2145.1" r="6.0" fill="#3e58af"/>
<circle cx="197.5" cy="2142.9" r="6.0" fill="#3e58af"/>
<circle cx="334.7" cy="2032.8" r="6.0" fill="#3e58af"/>
<circle cx="327.4" cy="2038.6" r="6.0" fill="#3e58af"/>
<circle cx="311.3" cy="2040.1" r="6.0" fill="#3e58af"/>
<circle cx="289.4" cy="2028.4" r="6.0" fill="#3e58af"/>
<circle cx="314.2" cy="1973.0" r="6.0" fill="#3e58af"/>
<circle cx="384.3" cy="1971.5" r="6.0" fill="#3e58af"/>
<circle cx="526.1" cy="1747.7" r="6.0" fill="#ba407e"/>
<circle cx="485.3" cy="1769.6" r="6.0" fill="#ba407e"/>
<circle cx="502.8" cy="1766.7" r="6.0" fill="#ba407e"/>
<circle cx="473.6" cy="1785.7" r="6.0" fill="#ba407e"/>
<circle cx="489.7" cy="1788.6" r="6.0" fill="#ba407e"/>
<circle cx="494.0" cy="1807.5" r="6.0" fill="#ba407e"/>
<circle cx="482.4" cy="1823.6" r="6.0" fill="#ba407e"/>
<circle cx="488.2" cy="1846.9" r="6.0" fill="#ba407e"/>
<circle cx="450.3" cy="1898.0" r="6.0" fill="#ba407e"/>
<circle cx="428.4" cy="1816.3" r="6.0" fill="#ba407e"/>
<circle cx="356.9" cy="1900.9" r="6.0" fill="#ba407e"/>
<circle cx="304.0" cy="2050.3" r="6.0" fill="#ba407e"/>
<circle cx="276.3" cy="2057.6" r="6.0" fill="#ba407e"/>
<circle cx="285.0" cy="2063.4" r="6.0" fill="#ba407e"/>
<circle cx="269.7" cy="2094.0" r="6.0" fill="#ba407e"/>
<circle cx="230.3" cy="2129.1" r="6.0" fill="#ba407e"/>
<circle cx="282.1" cy="1999.2" r="6.0" fill="#ba407e"/>
<circle cx="340.5" cy="2019.6" r="6.0" fill="#ba407e"/>
<circle cx="311.3" cy="2031.3" r="6.0" fill="#ba407e"/>
<circle cx="293.8" cy="2040.1" r="6.0" fill="#ba407e"/>
</g>
<line x1="-42.72" y1="1637.58" x2="593.77" y2="899.60" stroke="#3e58af" stroke-width="3"/>
<line x1="-43.53" y1="1610.99" x2="597.41" y2="899.60" stroke="#ba407e" stroke-width="3"/>
</g>
<path d="M104.0,898.3 V1484.3 H653.5" fill="none" stroke="#333" stroke-width="1.6"/>
<line x1="91.5" y1="1454.90" x2="104.0" y2="1454.90" stroke="#111" stroke-width="1.8"/>
<text x="34.07" y="1462.70" font-size="18.8" font-weight="bold" fill="#000" textLength="54.20" lengthAdjust="spacing">30,00</text>
<line x1="91.5" y1="1366.98" x2="104.0" y2="1366.98" stroke="#111" stroke-width="1.8"/>
<text x="34.22" y="1374.78" font-size="18.8" font-weight="bold" fill="#000" textLength="54.06" lengthAdjust="spacing">40,00</text>
<line x1="91.5" y1="1279.06" x2="104.0" y2="1279.06" stroke="#111" stroke-width="1.8"/>
<text x="33.92" y="1286.86" font-size="18.8" font-weight="bold" fill="#000" textLength="54.35" lengthAdjust="spacing">50,00</text>
<line x1="91.5" y1="1191.14" x2="104.0" y2="1191.14" stroke="#111" stroke-width="1.8"/>
<text x="33.81" y="1198.94" font-size="18.8" font-weight="bold" fill="#000" textLength="54.46" lengthAdjust="spacing">60,00</text>
<line x1="91.5" y1="1103.22" x2="104.0" y2="1103.22" stroke="#111" stroke-width="1.8"/>
<text x="33.69" y="1111.02" font-size="18.8" font-weight="bold" fill="#000" textLength="54.58" lengthAdjust="spacing">70,00</text>
<line x1="91.5" y1="1015.30" x2="104.0" y2="1015.30" stroke="#111" stroke-width="1.8"/>
<text x="33.90" y="1023.10" font-size="18.8" font-weight="bold" fill="#000" textLength="54.37" lengthAdjust="spacing">80,00</text>
<line x1="91.5" y1="927.38" x2="104.0" y2="927.38" stroke="#111" stroke-width="1.8"/>
<text x="33.85" y="935.18" font-size="18.8" font-weight="bold" fill="#000" textLength="54.42" lengthAdjust="spacing">90,00</text>
<line x1="131.40" y1="1484.3" x2="131.40" y2="1496.7" stroke="#111" stroke-width="1.8"/>
<text x="105.77" y="1516.10" font-size="18.8" font-weight="bold" fill="#000" textLength="54.20" lengthAdjust="spacing">30,00</text>
<line x1="202.04" y1="1484.3" x2="202.04" y2="1496.7" stroke="#111" stroke-width="1.8"/>
<text x="176.56" y="1516.10" font-size="18.8" font-weight="bold" fill="#000" textLength="54.06" lengthAdjust="spacing">40,00</text>
<line x1="272.68" y1="1484.3" x2="272.68" y2="1496.7" stroke="#111" stroke-width="1.8"/>
<text x="246.90" y="1516.10" font-size="18.8" font-weight="bold" fill="#000" textLength="54.35" lengthAdjust="spacing">50,00</text>
<line x1="343.32" y1="1484.3" x2="343.32" y2="1496.7" stroke="#111" stroke-width="1.8"/>
<text x="317.43" y="1516.10" font-size="18.8" font-weight="bold" fill="#000" textLength="54.46" lengthAdjust="spacing">60,00</text>
<line x1="413.96" y1="1484.3" x2="413.96" y2="1496.7" stroke="#111" stroke-width="1.8"/>
<text x="387.95" y="1516.10" font-size="18.8" font-weight="bold" fill="#000" textLength="54.58" lengthAdjust="spacing">70,00</text>
<line x1="484.60" y1="1484.3" x2="484.60" y2="1496.7" stroke="#111" stroke-width="1.8"/>
<text x="458.80" y="1516.10" font-size="18.8" font-weight="bold" fill="#000" textLength="54.37" lengthAdjust="spacing">80,00</text>
<line x1="555.24" y1="1484.3" x2="555.24" y2="1496.7" stroke="#111" stroke-width="1.8"/>
<text x="529.39" y="1516.10" font-size="18.8" font-weight="bold" fill="#000" textLength="54.42" lengthAdjust="spacing">90,00</text>
<line x1="625.88" y1="1484.3" x2="625.88" y2="1496.7" stroke="#111" stroke-width="1.8"/>
<text x="593.80" y="1516.10" font-size="18.8" font-weight="bold" fill="#000" textLength="66.36" lengthAdjust="spacing">100,00</text>
<text x="228.28" y="1544.60" font-size="24.2" font-weight="bold" fill="#000" textLength="292.25" lengthAdjust="spacing">LEFT 4D FINGER MEAN</text>
<text transform="translate(24.30,1337.02) rotate(-90)" x="0" y="0" font-size="24.2" font-weight="bold" textLength="294.65" lengthAdjust="spacing">LEFT 2D FINGER MEAN</text>
<text x="112.75" y="918.90" font-size="30.6" font-weight="bold" fill="#278b17" textLength="283.61" lengthAdjust="spacing">EUROPEAN ORIGIN</text>
<circle cx="119.2" cy="949.2" r="6.3" fill="#3e58af"/>
<circle cx="119.2" cy="970.8" r="6.3" fill="#ba407e"/>
<text x="134.73" y="957.40" font-size="17.5" font-weight="bold" fill="#000" textLength="73.23" lengthAdjust="spacing">MALE: R</text>
<text transform="translate(207.75,950.90) scale(1.028,1)" font-size="12.60" font-weight="normal" fill="#000">2</text>
<text x="218.83" y="957.40" font-size="17.5" font-weight="bold" fill="#000" textLength="130.74" lengthAdjust="spacing">Linear = 0,877</text>
<text x="133.13" y="978.20" font-size="17.5" font-weight="bold" fill="#000" textLength="96.43" lengthAdjust="spacing">FEMALE: R</text>
<text transform="translate(229.35,971.70) scale(1.028,1)" font-size="12.60" font-weight="normal" fill="#000">2</text>
<text x="240.43" y="978.20" font-size="17.5" font-weight="bold" fill="#000" textLength="131.04" lengthAdjust="spacing">Linear = 0,817</text>
<text transform="translate(106.61,862.10) scale(1.081,1)" font-size="58.79" font-weight="bold" fill="#000">f</text>
<rect x="287.0" y="1152.0" width="142.4" height="28.4" fill="#fff" stroke="#ba407e" stroke-width="1.5"/>
<text x="291.16" y="1173.10" font-size="18.2" font-weight="normal" fill="#000" textLength="130.94" lengthAdjust="spacing">y=7,63+0,88*x</text>
<rect x="286.3" y="1202.0" width="142.0" height="27.8" fill="#fff" stroke="#3e58af" stroke-width="1.5"/>
<text x="290.46" y="1222.50" font-size="18.2" font-weight="normal" fill="#000" textLength="130.54" lengthAdjust="spacing">y=4,39+0,91*x</text>
</g>
<g transform="translate(671.6,782.8)">
<clipPath id="clipg"><rect x="104.0" y="898.3" width="549.5" height="586.0"/></clipPath>
<g clip-path="url(#clipg)">
<g transform="translate(-671.6,-782.8)">
<polygon points="916.1,2105.1 916.5,2105.2 916.7,2105.3 917.9,2105.6 918.1,2105.7 919.2,2106.1 919.4,2106.2 920.5,2106.8 920.6,2106.9 921.1,2107.2 923.3,2108.6 923.6,2108.2 929.3,2099.7 933.5,2092.7 933.8,2092.2 933.9,2092.0 934.6,2091.1 934.7,2090.9 935.5,2090.1 935.7,2089.9 936.5,2089.1 936.7,2089.0 937.6,2088.3 937.8,2088.2 938.8,2087.6 939.0,2087.5 940.0,2087.0 940.2,2086.9 941.3,2086.5 941.5,2086.5 942.1,2086.3 953.0,2083.6 957.1,2082.0 957.2,2081.8 961.5,2070.2 961.8,2069.6 961.8,2069.4 962.4,2068.4 962.5,2068.2 963.1,2067.2 963.2,2067.0 963.9,2066.1 964.1,2065.9 964.9,2065.1 965.0,2064.9 965.9,2064.2 966.1,2064.0 967.0,2063.3 967.2,2063.2 968.2,2062.6 968.4,2062.6 969.5,2062.1 969.7,2062.0 970.2,2061.8 972.6,2061.0 974.7,2055.6 974.9,2055.0 975.0,2054.8 975.5,2053.7 975.6,2053.6 976.3,2052.5 976.4,2052.4 977.1,2051.4 977.3,2051.3 978.1,2050.4 978.2,2050.3 979.2,2049.5 979.3,2049.3 980.3,2048.7 980.5,2048.5 981.5,2048.0 981.7,2047.9 982.8,2047.4 983.0,2047.3 984.2,2047.0 984.4,2046.9 985.6,2046.7 985.8,2046.6 987.0,2046.5 987.2,2046.5 987.8,2046.5 988.3,2046.5 989.3,2043.9 989.5,2043.4 989.6,2043.2 990.1,2042.1 990.2,2041.9 990.8,2040.9 990.9,2040.8 991.7,2039.8 991.8,2039.7 992.6,2038.8 992.7,2038.7 993.6,2037.9 993.8,2037.8 994.8,2037.1 994.9,2037.0 996.0,2036.4 996.2,2036.3 996.7,2036.0 1000.3,2034.4 1000.2,2033.0 1000.1,2032.5 1000.1,2032.3 1000.1,2031.1 1000.1,2030.9 1000.1,2029.8 1000.2,2029.6 1000.3,2028.5 1000.4,2028.3 1000.7,2027.1 1000.7,2027.0 1001.1,2025.9 1001.2,2025.7 1001.7,2024.7 1001.8,2024.5 1002.4,2023.5 1002.5,2023.4 1003.2,2022.4 1003.3,2022.3 1004.1,2021.4 1004.3,2021.3 1005.1,2020.5 1005.3,2020.4 1006.2,2019.7 1006.4,2019.6 1006.8,2019.3 1014.1,2014.9 1014.7,2014.6 1014.9,2014.5 1016.2,2013.9 1016.4,2013.8 1017.7,2013.4 1017.9,2013.4 1018.6,2013.2 1025.8,2011.8 1025.9,2011.5 1026.1,2011.0 1026.2,2010.8 1026.7,2009.7 1026.8,2009.6 1027.5,2008.6 1027.6,2008.4 1028.3,2007.5 1028.5,2007.3 1029.3,2006.5 1029.4,2006.4 1030.4,2005.6 1030.5,2005.5 1031.5,2004.8 1031.7,2004.7 1032.7,2004.1 1032.9,2004.1 1034.0,2003.6 1034.2,2003.5 1035.3,2003.2 1035.5,2003.1 1036.7,2002.9 1036.9,2002.9 1037.5,2002.8 1058.6,2000.7 1067.3,1981.7 1067.5,1981.2 1067.6,1981.1 1068.1,1980.1 1068.2,1980.0 1068.5,1979.5 1075.9,1969.0 1089.4,1947.4 1094.7,1931.5 1094.9,1931.0 1095.0,1930.8 1095.4,1929.7 1095.5,1929.6 1096.1,1928.5 1096.2,1928.4 1096.8,1927.4 1097.0,1927.3 1097.7,1926.4 1097.8,1926.3 1098.7,1925.5 1098.8,1925.3 1099.7,1924.6 1099.9,1924.5 1100.9,1923.9 1101.0,1923.8 1102.1,1923.2 1102.2,1923.2 1102.8,1922.9 1114.1,1918.4 1116.7,1915.3 1117.5,1910.3 1117.6,1909.7 1117.7,1909.5 1118.0,1908.4 1118.0,1908.2 1118.5,1907.0 1118.5,1906.9 1118.8,1906.3 1120.2,1903.4 1120.2,1895.1 1120.2,1894.5 1120.3,1894.3 1120.4,1893.0 1120.4,1892.8 1120.7,1891.6 1120.7,1891.4 1121.1,1890.2 1121.2,1890.0 1121.7,1888.9 1121.8,1888.7 1122.1,1888.1 1127.9,1877.9 1128.2,1877.4 1128.3,1877.2 1129.0,1876.3 1129.1,1876.1 1129.9,1875.2 1130.0,1875.1 1130.9,1874.3 1131.0,1874.2 1132.0,1873.4 1132.1,1873.3 1133.1,1872.7 1133.3,1872.6 1134.4,1872.1 1134.6,1872.0 1135.7,1871.6 1135.8,1871.5 1137.0,1871.2 1137.2,1871.2 1137.8,1871.1 1140.5,1870.6 1143.0,1866.9 1148.8,1858.1 1149.2,1857.6 1149.3,1857.5 1150.1,1856.5 1150.2,1856.4 1151.1,1855.5 1151.3,1855.4 1151.7,1855.0 1156.6,1851.1 1159.6,1845.0 1159.9,1844.5 1160.0,1844.3 1160.6,1843.5 1160.3,1843.2 1160.2,1843.0 1159.4,1842.1 1159.3,1841.9 1158.6,1840.9 1158.5,1840.7 1158.0,1839.7 1157.9,1839.5 1157.5,1838.4 1157.4,1838.2 1157.1,1837.0 1157.0,1836.8 1156.8,1835.7 1156.8,1835.5 1156.7,1834.3 1156.7,1834.1 1156.7,1832.9 1156.8,1832.7 1156.8,1832.1 1158.3,1820.4 1158.4,1819.8 1158.4,1819.6 1158.6,1818.5 1158.7,1818.4 1159.0,1817.3 1159.1,1817.1 1159.5,1816.1 1159.6,1815.9 1160.2,1814.9 1160.3,1814.7 1160.9,1813.8 1161.0,1813.7 1161.7,1812.8 1161.9,1812.6 1162.3,1812.2 1169.6,1804.9 1170.0,1804.6 1170.1,1804.4 1171.0,1803.7 1171.1,1803.6 1172.0,1803.0 1172.2,1802.9 1173.1,1802.3 1173.3,1802.3 1174.3,1801.8 1174.5,1801.7 1175.0,1801.6 1182.3,1799.1 1185.6,1797.2 1189.7,1791.0 1190.1,1790.5 1190.2,1790.3 1191.0,1789.4 1191.1,1789.2 1192.0,1788.4 1192.0,1788.4 1190.8,1789.1 1190.3,1789.3 1190.1,1789.4 1189.0,1789.9 1188.8,1790.0 1187.7,1790.4 1187.5,1790.4 1186.4,1790.7 1186.2,1790.7 1185.0,1790.8 1184.8,1790.9 1183.6,1790.9 1183.4,1790.9 1182.3,1790.8 1182.1,1790.8 1180.9,1790.6 1180.7,1790.5 1179.6,1790.2 1179.4,1790.2 1178.3,1789.8 1178.1,1789.7 1177.6,1789.4 1175.1,1788.2 1174.9,1788.2 1174.7,1788.3 1174.2,1788.6 1166.5,1791.4 1161.7,1798.2 1161.3,1798.6 1161.2,1798.8 1160.4,1799.7 1160.3,1799.8 1159.4,1800.6 1159.3,1800.8 1158.3,1801.5 1158.2,1801.6 1157.1,1802.2 1157.0,1802.3 1155.9,1802.8 1155.7,1802.9 1154.6,1803.3 1154.4,1803.4 1153.3,1803.7 1153.1,1803.7 1151.9,1803.9 1151.7,1804.0 1150.5,1804.0 1150.3,1804.0 1149.2,1804.0 1149.0,1804.0 1147.8,1803.8 1147.6,1803.8 1146.4,1803.5 1146.2,1803.4 1146.1,1803.4 1145.9,1803.6 1145.5,1804.2 1145.4,1804.3 1144.6,1805.3 1144.4,1805.5 1143.5,1806.3 1143.4,1806.5 1142.4,1807.3 1142.2,1807.4 1141.6,1807.7 1135.1,1811.8 1134.8,1813.2 1134.7,1813.8 1134.6,1814.0 1134.3,1815.1 1134.2,1815.3 1133.8,1816.4 1133.7,1816.6 1133.1,1817.6 1133.0,1817.8 1132.3,1818.8 1132.2,1819.0 1131.9,1819.4 1124.6,1828.2 1124.2,1828.6 1124.0,1828.8 1123.2,1829.6 1123.1,1829.7 1122.2,1830.4 1122.0,1830.6 1121.0,1831.2 1120.9,1831.3 1119.8,1831.8 1119.6,1831.9 1118.6,1832.4 1118.4,1832.4 1117.8,1832.6 1107.4,1835.7 1105.5,1838.1 1101.9,1846.6 1101.6,1847.1 1101.5,1847.3 1101.0,1848.3 1100.9,1848.5 1100.3,1849.4 1100.2,1849.6 1099.4,1850.4 1099.3,1850.6 1098.5,1851.4 1098.4,1851.5 1097.5,1852.2 1097.3,1852.3 1096.4,1853.0 1096.2,1853.1 1095.2,1853.6 1095.1,1853.7 1094.0,1854.2 1093.9,1854.2 1092.8,1854.6 1092.6,1854.6 1091.5,1854.9 1091.3,1854.9 1090.7,1855.0 1083.8,1855.9 1081.4,1858.3 1081.0,1858.7 1080.9,1858.8 1080.5,1859.1 1071.7,1866.4 1071.3,1866.7 1071.2,1866.8 1070.5,1867.4 1070.3,1867.4 1069.9,1867.7 1069.4,1868.0 1069.4,1870.3 1069.4,1870.9 1069.4,1871.1 1069.3,1872.3 1069.3,1872.5 1069.0,1873.7 1069.0,1873.9 1068.6,1875.0 1068.5,1875.2 1068.1,1876.3 1068.0,1876.5 1067.4,1877.6 1067.3,1877.7 1066.6,1878.7 1066.5,1878.9 1065.7,1879.8 1065.5,1880.0 1064.7,1880.8 1064.5,1880.9 1063.6,1881.7 1063.4,1881.8 1062.4,1882.4 1062.2,1882.5 1061.1,1883.1 1060.9,1883.2 1060.4,1883.4 1048.7,1887.8 1048.5,1887.8 1048.4,1887.9 1048.2,1887.9 1045.6,1888.8 1042.2,1897.4 1041.8,1898.1 1041.7,1898.4 1041.3,1899.1 1036.4,1907.8 1032.5,1922.1 1032.3,1922.7 1032.3,1922.8 1031.9,1923.9 1031.8,1924.1 1031.3,1925.1 1031.2,1925.3 1030.6,1926.2 1030.5,1926.4 1029.8,1927.3 1029.7,1927.4 1028.9,1928.3 1028.8,1928.4 1027.9,1929.2 1027.8,1929.3 1026.9,1930.0 1026.7,1930.1 1025.7,1930.7 1025.6,1930.8 1024.6,1931.3 1024.4,1931.3 1023.9,1931.5 1015.3,1934.7 1007.2,1938.8 1006.4,1939.2 995.1,1970.4 994.9,1971.1 994.8,1971.3 994.1,1972.6 994.0,1972.8 993.6,1973.4 991.6,1976.5 987.8,1986.6 987.6,1987.1 987.5,1987.3 987.0,1988.3 986.9,1988.5 986.6,1989.0 970.9,2014.8 967.4,2021.6 964.9,2031.8 964.7,2032.4 964.7,2032.5 964.3,2033.7 964.2,2033.8 963.7,2034.9 963.6,2035.1 963.0,2036.1 962.9,2036.2 962.2,2037.2 962.1,2037.3 961.3,2038.2 961.1,2038.4 960.3,2039.1 960.1,2039.3 959.2,2040.0 959.0,2040.1 958.0,2040.7 957.8,2040.8 956.8,2041.3 956.6,2041.4 955.5,2041.8 955.3,2041.8 955.0,2041.9 955.1,2042.9 955.1,2043.1 955.0,2044.3 955.0,2044.5 954.8,2045.7 954.8,2045.9 954.5,2047.1 954.4,2047.3 954.2,2047.9 949.8,2059.6 949.7,2060.0 949.6,2060.2 949.2,2061.0 949.1,2061.2 948.9,2061.6 943.0,2071.8 942.7,2072.3 942.6,2072.5 941.9,2073.5 941.8,2073.6 941.0,2074.5 940.9,2074.7 940.0,2075.5 939.9,2075.6 938.9,2076.3 938.7,2076.5 937.7,2077.1 937.5,2077.2 936.5,2077.7 936.3,2077.8 935.2,2078.2 935.0,2078.3 933.8,2078.6 933.6,2078.6 932.4,2078.8 932.2,2078.8 931.0,2078.9 930.8,2078.9 929.7,2078.8 929.5,2078.8 928.5,2078.7 927.3,2089.8 927.2,2090.3 927.2,2090.5 926.9,2091.7 926.9,2091.8 926.6,2092.9 926.5,2093.1 926.0,2094.2 926.0,2094.4 925.4,2095.4 925.3,2095.5 924.7,2096.5 924.5,2096.7 923.8,2097.5 923.7,2097.7 923.3,2098.1 917.4,2103.9 917.1,2104.3 917.0,2104.4 916.2,2105.0 916.1,2105.1" fill="#3e58af"/>
<g fill="#3e58af"><circle cx="906.9" cy="2113.0" r="6.0"/><circle cx="914.4" cy="2111.9" r="6.0"/><circle cx="920.5" cy="2114.0" r="6.0"/><circle cx="924.8" cy="2115.9" r="6.0"/><circle cx="931.7" cy="2105.9" r="6.0"/><circle cx="937.2" cy="2098.9" r="6.0"/><circle cx="940.4" cy="2093.9" r="6.0"/><circle cx="947.6" cy="2090.6" r="6.0"/><circle cx="959.8" cy="2087.1" r="6.0"/><circle cx="962.8" cy="2082.5" r="6.0"/><circle cx="975.1" cy="2067.1" r="6.0"/><circle cx="982.3" cy="2054.1" r="6.0"/><circle cx="996.7" cy="2043.6" r="6.0"/><circle cx="1003.4" cy="2040.0" r="6.0"/><circle cx="1007.8" cy="2035.1" r="6.0"/><circle cx="1006.7" cy="2030.0" r="6.0"/><circle cx="1009.4" cy="2025.2" r="6.0"/><circle cx="1016.1" cy="2021.1" r="6.0"/><circle cx="1030.6" cy="2017.4" r="6.0"/><circle cx="1033.0" cy="2011.7" r="6.0"/><circle cx="1038.7" cy="2008.8" r="6.0"/><circle cx="1046.9" cy="2009.0" r="6.0"/><circle cx="1052.7" cy="2007.7" r="6.0"/><circle cx="1059.0" cy="2005.6" r="6.0"/><circle cx="1065.3" cy="2001.8" r="6.0"/><circle cx="1067.2" cy="1997.2" r="6.0"/><circle cx="1070.8" cy="1990.7" r="6.0"/><circle cx="1073.1" cy="1984.0" r="6.0"/><circle cx="1076.2" cy="1978.5" r="6.0"/><circle cx="1080.7" cy="1971.0" r="6.0"/><circle cx="1089.5" cy="1959.6" r="6.0"/><circle cx="1092.6" cy="1955.2" r="6.0"/><circle cx="1094.8" cy="1949.0" r="6.0"/><circle cx="1098.8" cy="1941.1" r="6.0"/><circle cx="1099.8" cy="1935.7" r="6.0"/><circle cx="1103.1" cy="1929.8" r="6.0"/><circle cx="1110.8" cy="1926.6" r="6.0"/><circle cx="1115.4" cy="1923.7" r="6.0"/><circle cx="1123.2" cy="1914.1" r="6.0"/><circle cx="1125.6" cy="1906.0" r="6.0"/><circle cx="1126.4" cy="1900.7" r="6.0"/><circle cx="1127.4" cy="1892.4" r="6.0"/><circle cx="1129.5" cy="1887.3" r="6.0"/><circle cx="1132.1" cy="1879.5" r="6.0"/><circle cx="1138.6" cy="1877.1" r="6.0"/><circle cx="1145.9" cy="1875.3" r="6.0"/><circle cx="1148.3" cy="1870.0" r="6.0"/><circle cx="1158.1" cy="1858.9" r="6.0"/><circle cx="1164.3" cy="1847.5" r="6.0"/><circle cx="1168.7" cy="1843.8" r="6.0"/><circle cx="1163.7" cy="1838.7" r="6.0"/><circle cx="1164.1" cy="1831.9" r="6.0"/><circle cx="1164.6" cy="1824.3" r="6.0"/><circle cx="1170.5" cy="1814.0" r="6.0"/><circle cx="1174.7" cy="1807.6" r="6.0"/><circle cx="1180.4" cy="1804.8" r="6.0"/><circle cx="1187.3" cy="1803.3" r="6.0"/><circle cx="1191.1" cy="1796.9" r="6.0"/><circle cx="1196.8" cy="1792.6" r="6.0"/><circle cx="1201.4" cy="1789.2" r="6.0"/><circle cx="1201.7" cy="1778.3" r="6.0"/><circle cx="1194.3" cy="1780.2" r="6.0"/><circle cx="1175.8" cy="1781.4" r="6.0"/><circle cx="1161.9" cy="1787.9" r="6.0"/><circle cx="1157.7" cy="1792.2" r="6.0"/><circle cx="1146.6" cy="1796.8" r="6.0"/><circle cx="1142.0" cy="1799.0" r="6.0"/><circle cx="1138.1" cy="1803.7" r="6.0"/><circle cx="1131.3" cy="1807.0" r="6.0"/><circle cx="1129.0" cy="1811.4" r="6.0"/><circle cx="1120.1" cy="1824.0" r="6.0"/><circle cx="1115.9" cy="1827.9" r="6.0"/><circle cx="1099.7" cy="1838.4" r="6.0"/><circle cx="1097.2" cy="1845.1" r="6.0"/><circle cx="1091.8" cy="1847.8" r="6.0"/><circle cx="1084.8" cy="1850.9" r="6.0"/><circle cx="1078.1" cy="1853.3" r="6.0"/><circle cx="1071.8" cy="1857.2" r="6.0"/><circle cx="1066.6" cy="1860.9" r="6.0"/><circle cx="1063.0" cy="1867.2" r="6.0"/><circle cx="1056.6" cy="1878.9" r="6.0"/><circle cx="1050.5" cy="1881.2" r="6.0"/><circle cx="1044.6" cy="1883.5" r="6.0"/><circle cx="1039.4" cy="1887.0" r="6.0"/><circle cx="1037.8" cy="1892.4" r="6.0"/><circle cx="1033.6" cy="1900.3" r="6.0"/><circle cx="1030.6" cy="1905.2" r="6.0"/><circle cx="1028.1" cy="1918.6" r="6.0"/><circle cx="1023.1" cy="1925.4" r="6.0"/><circle cx="1016.4" cy="1926.9" r="6.0"/><circle cx="1011.4" cy="1931.0" r="6.0"/><circle cx="1004.0" cy="1933.6" r="6.0"/><circle cx="1001.0" cy="1938.9" r="6.0"/><circle cx="997.7" cy="1945.3" r="6.0"/><circle cx="994.6" cy="1951.5" r="6.0"/><circle cx="993.3" cy="1957.1" r="6.0"/><circle cx="982.0" cy="1981.9" r="6.0"/><circle cx="979.8" cy="1990.1" r="6.0"/><circle cx="976.1" cy="1994.2" r="6.0"/><circle cx="971.8" cy="2000.2" r="6.0"/><circle cx="961.1" cy="2018.2" r="6.0"/><circle cx="960.5" cy="2026.4" r="6.0"/><circle cx="959.2" cy="2032.0" r="6.0"/><circle cx="953.8" cy="2035.1" r="6.0"/><circle cx="947.0" cy="2034.9" r="6.0"/><circle cx="948.7" cy="2041.6" r="6.0"/><circle cx="938.8" cy="2068.0" r="6.0"/><circle cx="928.3" cy="2073.4" r="6.0"/><circle cx="924.0" cy="2074.4" r="6.0"/><circle cx="922.7" cy="2081.0" r="6.0"/><circle cx="920.3" cy="2090.2" r="6.0"/><circle cx="918.3" cy="2095.8" r="6.0"/><circle cx="912.5" cy="2100.6" r="6.0"/><circle cx="906.9" cy="2102.9" r="6.0"/><circle cx="903.4" cy="2109.1" r="6.0"/><circle cx="1186.2" cy="1790.7" r="6.0"/><circle cx="1158.5" cy="1799.4" r="6.0"/><circle cx="1134.7" cy="1805.9" r="6.0"/><circle cx="1170.1" cy="1803.1" r="6.0"/><circle cx="1180.8" cy="1804.3" r="6.0"/><circle cx="1136.0" cy="1810.2" r="6.0"/><circle cx="1167.5" cy="1811.7" r="6.0"/><circle cx="1126.7" cy="1819.2" r="6.0"/><circle cx="1159.1" cy="1816.1" r="6.0"/><circle cx="1126.8" cy="1824.3" r="6.0"/><circle cx="1115.1" cy="1831.6" r="6.0"/><circle cx="1121.6" cy="1830.4" r="6.0"/><circle cx="1160.7" cy="1832.3" r="6.0"/><circle cx="1103.0" cy="1838.5" r="6.0"/><circle cx="1159.4" cy="1837.6" r="6.0"/><circle cx="1163.7" cy="1845.7" r="6.0"/><circle cx="1086.9" cy="1851.9" r="6.0"/><circle cx="1090.9" cy="1851.2" r="6.0"/><circle cx="1157.5" cy="1852.8" r="6.0"/><circle cx="1083.1" cy="1857.2" r="6.0"/><circle cx="1153.7" cy="1855.9" r="6.0"/><circle cx="1065.2" cy="1864.8" r="6.0"/><circle cx="1144.2" cy="1865.5" r="6.0"/><circle cx="1047.1" cy="1884.4" r="6.0"/><circle cx="1123.7" cy="1885.4" r="6.0"/><circle cx="1123.2" cy="1890.4" r="6.0"/><circle cx="1039.3" cy="1904.7" r="6.0"/><circle cx="1124.7" cy="1904.9" r="6.0"/><circle cx="1120.6" cy="1915.7" r="6.0"/><circle cx="1031.5" cy="1923.4" r="6.0"/><circle cx="1104.0" cy="1923.8" r="6.0"/><circle cx="1111.2" cy="1923.2" r="6.0"/><circle cx="1022.5" cy="1929.9" r="6.0"/><circle cx="1099.1" cy="1929.7" r="6.0"/><circle cx="1009.1" cy="1936.8" r="6.0"/><circle cx="1002.0" cy="1943.8" r="6.0"/><circle cx="1092.5" cy="1941.9" r="6.0"/><circle cx="993.9" cy="1963.8" r="6.0"/><circle cx="989.1" cy="1976.2" r="6.0"/><circle cx="988.1" cy="1982.2" r="6.0"/><circle cx="1066.9" cy="1983.8" r="6.0"/><circle cx="980.8" cy="1990.3" r="6.0"/><circle cx="979.5" cy="1995.0" r="6.0"/><circle cx="1064.3" cy="1994.3" r="6.0"/><circle cx="1047.7" cy="2004.6" r="6.0"/><circle cx="969.2" cy="2010.2" r="6.0"/><circle cx="963.9" cy="2014.9" r="6.0"/><circle cx="1019.9" cy="2017.4" r="6.0"/><circle cx="967.4" cy="2022.5" r="6.0"/><circle cx="1012.9" cy="2024.4" r="6.0"/><circle cx="967.5" cy="2030.5" r="6.0"/><circle cx="1004.5" cy="2028.1" r="6.0"/><circle cx="960.1" cy="2037.5" r="6.0"/><circle cx="1002.3" cy="2035.8" r="6.0"/><circle cx="953.5" cy="2041.7" r="6.0"/><circle cx="947.0" cy="2050.6" r="6.0"/><circle cx="952.7" cy="2047.6" r="6.0"/><circle cx="994.7" cy="2049.9" r="6.0"/><circle cx="950.2" cy="2060.9" r="6.0"/><circle cx="975.1" cy="2060.7" r="6.0"/><circle cx="945.9" cy="2067.7" r="6.0"/><circle cx="938.6" cy="2074.8" r="6.0"/><circle cx="962.0" cy="2075.7" r="6.0"/><circle cx="929.0" cy="2080.4" r="6.0"/><circle cx="956.8" cy="2081.3" r="6.0"/><circle cx="955.5" cy="2089.1" r="6.0"/><circle cx="937.9" cy="2096.3" r="6.0"/><circle cx="914.6" cy="2102.3" r="6.0"/><circle cx="918.4" cy="2102.9" r="6.0"/><circle cx="931.1" cy="2099.9" r="6.0"/><circle cx="918.4" cy="2108.6" r="6.0"/><circle cx="925.9" cy="2107.1" r="6.0"/></g>
<polygon points="942.2,2069.2 942.6,2069.0 942.7,2068.9 943.7,2068.4 943.8,2068.4 944.8,2068.0 944.9,2068.0 946.0,2067.7 946.1,2067.7 946.7,2067.6 950.0,2067.1 949.8,2066.7 949.7,2066.6 949.2,2065.7 949.2,2065.6 948.8,2064.6 948.7,2064.5 948.4,2063.4 948.4,2063.3 948.2,2062.3 948.2,2062.2 948.1,2061.1 948.1,2061.0 948.1,2059.9 948.1,2059.8 948.2,2058.8 948.2,2058.7 948.4,2057.7 948.0,2058.9 947.8,2059.3 947.8,2059.4 947.4,2060.1 947.4,2060.2 947.1,2060.6 942.2,2069.2" fill="#ba407e"/>
<polygon points="949.4,2055.0 949.8,2054.4 949.8,2054.3 950.4,2053.4 950.5,2053.3 951.1,2052.5 951.2,2052.4 952.0,2051.6 952.1,2051.6 952.9,2050.9 953.0,2050.8 953.4,2050.5 959.5,2046.4 962.5,2040.5 962.7,2040.0 962.8,2039.9 963.4,2039.0 963.4,2038.9 964.1,2038.0 964.2,2038.0 965.0,2037.2 965.1,2037.1 965.9,2036.4 966.0,2036.3 966.9,2035.7 967.0,2035.6 968.0,2035.1 968.1,2035.0 969.1,2034.6 969.2,2034.6 969.7,2034.4 978.1,2031.9 979.2,2028.0 979.3,2027.5 979.4,2027.4 979.7,2026.4 979.8,2026.3 980.3,2025.4 980.3,2025.3 980.9,2024.4 981.0,2024.3 981.6,2023.5 981.7,2023.4 982.4,2022.6 982.5,2022.6 983.3,2021.9 983.4,2021.8 984.2,2021.2 984.3,2021.1 985.3,2020.6 985.3,2020.6 986.3,2020.1 986.4,2020.1 986.9,2019.9 993.4,2017.8 1001.9,2010.5 1002.0,2010.4 1002.0,2010.4 1002.2,2010.3 1009.5,2004.4 1016.8,1998.6 1017.0,1998.4 1017.1,1998.3 1017.4,1998.1 1046.2,1977.9 1060.5,1966.5 1061.0,1966.1 1061.1,1966.1 1062.1,1965.4 1062.2,1965.4 1063.3,1964.8 1063.4,1964.8 1064.5,1964.4 1064.6,1964.4 1065.2,1964.2 1076.6,1961.4 1084.4,1947.6 1084.4,1947.5 1084.4,1947.5 1084.5,1947.4 1094.7,1929.9 1095.0,1929.4 1095.0,1929.4 1095.6,1928.5 1095.7,1928.4 1096.4,1927.6 1096.5,1927.6 1097.2,1926.8 1097.3,1926.8 1098.2,1926.1 1098.2,1926.1 1099.1,1925.5 1099.2,1925.4 1099.7,1925.2 1103.8,1923.2 1107.1,1919.8 1112.1,1911.0 1112.4,1910.6 1112.5,1910.5 1113.0,1909.7 1113.1,1909.6 1113.8,1908.8 1113.8,1908.7 1114.5,1908.0 1114.6,1908.0 1115.4,1907.3 1115.5,1907.3 1115.9,1907.0 1116.7,1906.5 1116.5,1905.6 1116.5,1905.5 1116.4,1904.5 1116.4,1904.4 1116.4,1903.8 1116.4,1895.1 1116.4,1894.5 1116.4,1894.4 1116.5,1893.4 1116.5,1893.3 1116.7,1892.2 1116.8,1892.1 1117.1,1891.1 1117.1,1891.0 1117.5,1890.0 1117.5,1889.9 1118.0,1889.0 1118.1,1888.9 1118.7,1888.0 1118.7,1887.9 1119.4,1887.1 1119.5,1887.0 1120.2,1886.3 1120.3,1886.2 1120.7,1885.9 1121.7,1885.0 1120.9,1883.5 1120.6,1883.1 1120.6,1883.0 1120.2,1882.0 1120.1,1881.9 1119.8,1880.9 1119.8,1880.8 1119.5,1879.8 1119.5,1879.7 1119.4,1878.6 1119.3,1878.5 1119.3,1877.5 1119.3,1877.4 1119.4,1876.3 1119.4,1876.2 1119.6,1875.2 1119.6,1875.1 1119.8,1874.0 1119.9,1873.9 1120.2,1872.9 1120.3,1872.8 1120.7,1871.9 1120.8,1871.8 1121.3,1870.9 1121.4,1870.8 1122.0,1870.0 1122.1,1869.9 1122.8,1869.1 1122.9,1869.0 1123.7,1868.3 1123.7,1868.3 1124.6,1867.6 1124.7,1867.6 1125.1,1867.3 1129.0,1865.0 1132.1,1857.1 1131.1,1850.1 1131.0,1849.5 1131.0,1849.4 1131.0,1848.3 1131.0,1848.2 1131.1,1847.1 1131.1,1847.0 1131.2,1845.9 1131.3,1845.8 1131.5,1844.8 1131.6,1844.7 1132.0,1843.6 1132.0,1843.5 1132.2,1843.0 1135.2,1837.2 1135.4,1836.7 1135.5,1836.6 1136.0,1835.7 1136.1,1835.6 1136.8,1834.8 1136.8,1834.7 1137.6,1833.9 1137.7,1833.8 1138.5,1833.1 1138.6,1833.1 1139.4,1832.4 1139.5,1832.4 1140.5,1831.9 1140.6,1831.8 1141.6,1831.4 1141.6,1831.3 1142.7,1831.0 1142.8,1831.0 1143.3,1830.8 1152.4,1828.8 1157.1,1823.2 1159.4,1820.5 1157.1,1815.8 1156.8,1815.3 1156.8,1815.2 1156.4,1814.2 1156.4,1814.1 1156.1,1813.1 1156.1,1813.0 1155.9,1811.9 1155.9,1811.8 1155.8,1810.8 1155.8,1810.7 1155.8,1809.6 1155.8,1809.5 1156.0,1808.4 1156.0,1808.3 1156.2,1807.2 1156.3,1807.1 1156.6,1806.1 1156.6,1806.0 1157.1,1805.0 1157.1,1805.0 1157.7,1804.0 1157.7,1803.9 1158.0,1803.5 1162.6,1797.1 1161.1,1797.6 1148.5,1810.2 1148.2,1810.6 1148.1,1810.6 1147.3,1811.3 1147.2,1811.4 1146.3,1812.0 1146.2,1812.0 1145.2,1812.5 1145.1,1812.6 1144.2,1813.0 1144.1,1813.0 1143.0,1813.3 1142.9,1813.4 1141.9,1813.6 1141.8,1813.6 1141.3,1813.6 1137.4,1820.7 1137.1,1821.1 1137.1,1821.2 1136.5,1822.1 1136.4,1822.2 1135.7,1823.1 1135.6,1823.1 1134.8,1823.9 1134.7,1824.0 1134.3,1824.3 1121.2,1834.5 1120.8,1834.8 1120.7,1834.9 1119.8,1835.4 1119.7,1835.5 1118.8,1835.9 1118.7,1836.0 1118.3,1836.2 1107.9,1840.3 1101.2,1853.8 1100.9,1854.2 1100.9,1854.3 1100.3,1855.2 1100.3,1855.3 1099.7,1856.1 1099.6,1856.2 1098.9,1856.9 1098.8,1857.0 1098.0,1857.7 1098.0,1857.7 1097.1,1858.4 1097.1,1858.4 1096.2,1858.9 1096.1,1859.0 1095.1,1859.4 1095.1,1859.5 1094.1,1859.8 1094.0,1859.9 1093.0,1860.1 1092.9,1860.1 1091.9,1860.3 1091.8,1860.3 1090.7,1860.4 1090.6,1860.4 1089.6,1860.4 1089.5,1860.4 1089.0,1860.3 1088.1,1860.2 1087.6,1862.7 1087.5,1863.2 1087.4,1863.3 1087.1,1864.3 1087.1,1864.4 1086.7,1865.3 1086.6,1865.4 1086.1,1866.3 1086.1,1866.4 1085.5,1867.3 1085.4,1867.3 1085.1,1867.7 1077.8,1876.5 1077.5,1876.9 1077.4,1876.9 1076.7,1877.7 1076.6,1877.7 1075.8,1878.4 1075.8,1878.4 1074.9,1879.0 1074.9,1879.0 1074.0,1879.5 1073.9,1879.6 1073.4,1879.8 1060.3,1885.6 1060.0,1885.7 1060.0,1885.8 1059.7,1885.9 1051.1,1889.1 1042.1,1900.4 1036.8,1909.5 1029.7,1923.8 1029.5,1924.2 1029.4,1924.3 1028.9,1925.2 1028.8,1925.3 1028.2,1926.1 1028.1,1926.2 1027.4,1926.9 1027.4,1927.0 1026.6,1927.7 1026.5,1927.7 1025.7,1928.4 1025.6,1928.4 1024.7,1928.9 1024.6,1929.0 1023.7,1929.4 1023.6,1929.5 1023.2,1929.7 1014.5,1932.9 1006.3,1937.0 1004.7,1937.8 993.2,1969.7 993.0,1970.3 992.9,1970.5 992.3,1971.6 992.3,1971.7 991.9,1972.3 989.8,1975.5 985.9,1985.9 985.7,1986.4 985.7,1986.5 985.2,1987.4 985.2,1987.5 984.9,1988.0 969.1,2013.8 965.6,2020.9 963.0,2031.3 962.8,2031.8 962.8,2031.9 962.4,2032.9 962.4,2033.0 962.0,2033.9 961.9,2034.0 961.4,2034.9 961.3,2035.0 960.7,2035.8 960.7,2035.9 960.0,2036.7 959.9,2036.7 959.2,2037.5 959.1,2037.5 958.3,2038.2 958.2,2038.2 957.3,2038.8 957.3,2038.8 956.3,2039.3 956.2,2039.3 955.8,2039.5 954.2,2040.2 952.7,2045.9 952.6,2046.5 952.5,2046.6 952.3,2047.2 949.4,2055.0" fill="#ba407e"/>
<g fill="#ba407e"><circle cx="931.8" cy="2072.9" r="6.0"/><circle cx="936.2" cy="2075.6" r="6.0"/><circle cx="940.4" cy="2080.4" r="6.0"/><circle cx="945.0" cy="2073.6" r="6.0"/><circle cx="957.8" cy="2068.4" r="6.0"/><circle cx="954.4" cy="2057.2" r="6.0"/><circle cx="960.1" cy="2053.0" r="6.0"/><circle cx="967.9" cy="2040.5" r="6.0"/><circle cx="972.8" cy="2038.6" r="6.0"/><circle cx="980.9" cy="2036.2" r="6.0"/><circle cx="983.9" cy="2030.2" r="6.0"/><circle cx="987.1" cy="2026.1" r="6.0"/><circle cx="994.9" cy="2022.3" r="6.0"/><circle cx="999.0" cy="2019.4" r="6.0"/><circle cx="1005.4" cy="2013.8" r="6.0"/><circle cx="1010.1" cy="2010.9" r="6.0"/><circle cx="1015.5" cy="2005.9" r="6.0"/><circle cx="1020.2" cy="2001.9" r="6.0"/><circle cx="1026.1" cy="1997.4" r="6.0"/><circle cx="1037.7" cy="1989.4" r="6.0"/><circle cx="1044.2" cy="1986.7" r="6.0"/><circle cx="1054.2" cy="1976.6" r="6.0"/><circle cx="1059.4" cy="1973.6" r="6.0"/><circle cx="1066.8" cy="1968.3" r="6.0"/><circle cx="1073.7" cy="1966.4" r="6.0"/><circle cx="1080.4" cy="1965.0" r="6.0"/><circle cx="1083.7" cy="1960.6" r="6.0"/><circle cx="1089.8" cy="1948.1" r="6.0"/><circle cx="1093.1" cy="1941.7" r="6.0"/><circle cx="1101.7" cy="1931.0" r="6.0"/><circle cx="1112.7" cy="1921.8" r="6.0"/><circle cx="1115.8" cy="1916.3" r="6.0"/><circle cx="1120.4" cy="1899.2" r="6.0"/><circle cx="1123.1" cy="1891.4" r="6.0"/><circle cx="1126.8" cy="1887.4" r="6.0"/><circle cx="1126.4" cy="1880.4" r="6.0"/><circle cx="1124.7" cy="1873.5" r="6.0"/><circle cx="1129.5" cy="1869.0" r="6.0"/><circle cx="1133.5" cy="1864.2" r="6.0"/><circle cx="1136.6" cy="1859.7" r="6.0"/><circle cx="1135.8" cy="1851.5" r="6.0"/><circle cx="1136.4" cy="1844.7" r="6.0"/><circle cx="1141.0" cy="1838.5" r="6.0"/><circle cx="1144.8" cy="1835.5" r="6.0"/><circle cx="1153.2" cy="1834.6" r="6.0"/><circle cx="1156.9" cy="1829.8" r="6.0"/><circle cx="1161.7" cy="1823.7" r="6.0"/><circle cx="1164.3" cy="1817.9" r="6.0"/><circle cx="1161.1" cy="1813.4" r="6.0"/><circle cx="1162.0" cy="1805.3" r="6.0"/><circle cx="1169.4" cy="1795.5" r="6.0"/><circle cx="1171.9" cy="1791.3" r="6.0"/><circle cx="1164.7" cy="1791.8" r="6.0"/><circle cx="1160.0" cy="1793.9" r="6.0"/><circle cx="1149.2" cy="1803.2" r="6.0"/><circle cx="1143.8" cy="1806.8" r="6.0"/><circle cx="1138.1" cy="1808.7" r="6.0"/><circle cx="1134.8" cy="1816.3" r="6.0"/><circle cx="1130.1" cy="1820.6" r="6.0"/><circle cx="1125.3" cy="1825.8" r="6.0"/><circle cx="1118.5" cy="1830.6" r="6.0"/><circle cx="1112.4" cy="1833.8" r="6.0"/><circle cx="1108.0" cy="1835.6" r="6.0"/><circle cx="1103.2" cy="1839.7" r="6.0"/><circle cx="1099.6" cy="1845.9" r="6.0"/><circle cx="1096.4" cy="1852.6" r="6.0"/><circle cx="1089.7" cy="1854.2" r="6.0"/><circle cx="1083.3" cy="1856.8" r="6.0"/><circle cx="1081.5" cy="1861.5" r="6.0"/><circle cx="1077.7" cy="1868.1" r="6.0"/><circle cx="1074.8" cy="1874.0" r="6.0"/><circle cx="1068.7" cy="1876.2" r="6.0"/><circle cx="1060.7" cy="1880.5" r="6.0"/><circle cx="1055.6" cy="1882.1" r="6.0"/><circle cx="1045.0" cy="1889.4" r="6.0"/><circle cx="1040.3" cy="1894.5" r="6.0"/><circle cx="1036.4" cy="1901.4" r="6.0"/><circle cx="1032.7" cy="1907.3" r="6.0"/><circle cx="1029.6" cy="1912.9" r="6.0"/><circle cx="1027.1" cy="1919.0" r="6.0"/><circle cx="1022.4" cy="1924.8" r="6.0"/><circle cx="1016.5" cy="1927.2" r="6.0"/><circle cx="1008.2" cy="1929.7" r="6.0"/><circle cx="1003.5" cy="1932.5" r="6.0"/><circle cx="1000.0" cy="1939.6" r="6.0"/><circle cx="997.0" cy="1943.9" r="6.0"/><circle cx="994.6" cy="1950.9" r="6.0"/><circle cx="992.4" cy="1958.6" r="6.0"/><circle cx="986.3" cy="1970.8" r="6.0"/><circle cx="983.3" cy="1977.4" r="6.0"/><circle cx="980.4" cy="1984.1" r="6.0"/><circle cx="978.2" cy="1989.2" r="6.0"/><circle cx="974.5" cy="1994.5" r="6.0"/><circle cx="971.6" cy="2001.7" r="6.0"/><circle cx="966.3" cy="2007.9" r="6.0"/><circle cx="963.5" cy="2012.8" r="6.0"/><circle cx="961.8" cy="2020.3" r="6.0"/><circle cx="958.1" cy="2027.4" r="6.0"/><circle cx="956.6" cy="2033.9" r="6.0"/><circle cx="947.3" cy="2041.5" r="6.0"/><circle cx="946.5" cy="2050.1" r="6.0"/><circle cx="944.9" cy="2056.2" r="6.0"/><circle cx="940.7" cy="2061.4" r="6.0"/><circle cx="938.1" cy="2067.9" r="6.0"/><circle cx="1172.1" cy="1789.4" r="6.0"/><circle cx="1161.9" cy="1795.6" r="6.0"/><circle cx="1169.7" cy="1796.4" r="6.0"/><circle cx="1154.9" cy="1802.2" r="6.0"/><circle cx="1140.9" cy="1811.4" r="6.0"/><circle cx="1149.9" cy="1811.5" r="6.0"/><circle cx="1157.4" cy="1810.0" r="6.0"/><circle cx="1156.5" cy="1816.0" r="6.0"/><circle cx="1131.2" cy="1825.0" r="6.0"/><circle cx="1159.7" cy="1825.2" r="6.0"/><circle cx="1123.8" cy="1830.2" r="6.0"/><circle cx="1127.7" cy="1828.3" r="6.0"/><circle cx="1154.2" cy="1828.8" r="6.0"/><circle cx="1108.0" cy="1837.9" r="6.0"/><circle cx="1112.2" cy="1836.5" r="6.0"/><circle cx="1140.0" cy="1834.6" r="6.0"/><circle cx="1104.1" cy="1844.4" r="6.0"/><circle cx="1131.0" cy="1842.1" r="6.0"/><circle cx="1130.3" cy="1848.9" r="6.0"/><circle cx="1088.8" cy="1855.8" r="6.0"/><circle cx="1096.6" cy="1856.1" r="6.0"/><circle cx="1086.0" cy="1864.8" r="6.0"/><circle cx="1132.8" cy="1861.4" r="6.0"/><circle cx="1128.6" cy="1869.1" r="6.0"/><circle cx="1069.1" cy="1876.8" r="6.0"/><circle cx="1078.3" cy="1875.5" r="6.0"/><circle cx="1123.9" cy="1877.9" r="6.0"/><circle cx="1057.6" cy="1882.4" r="6.0"/><circle cx="1065.9" cy="1883.7" r="6.0"/><circle cx="1046.9" cy="1891.4" r="6.0"/><circle cx="1121.6" cy="1891.1" r="6.0"/><circle cx="1045.7" cy="1896.2" r="6.0"/><circle cx="1040.7" cy="1903.7" r="6.0"/><circle cx="1119.3" cy="1904.1" r="6.0"/><circle cx="1035.0" cy="1910.5" r="6.0"/><circle cx="1111.2" cy="1910.3" r="6.0"/><circle cx="1032.7" cy="1916.8" r="6.0"/><circle cx="1109.4" cy="1916.2" r="6.0"/><circle cx="1025.3" cy="1923.4" r="6.0"/><circle cx="1105.5" cy="1923.5" r="6.0"/><circle cx="1024.4" cy="1929.8" r="6.0"/><circle cx="1097.4" cy="1930.6" r="6.0"/><circle cx="1104.0" cy="1929.2" r="6.0"/><circle cx="1007.6" cy="1934.7" r="6.0"/><circle cx="1094.0" cy="1936.9" r="6.0"/><circle cx="1002.9" cy="1943.0" r="6.0"/><circle cx="1090.0" cy="1943.1" r="6.0"/><circle cx="1083.1" cy="1950.6" r="6.0"/><circle cx="997.7" cy="1956.0" r="6.0"/><circle cx="994.9" cy="1963.0" r="6.0"/><circle cx="1074.4" cy="1960.7" r="6.0"/><circle cx="988.8" cy="1969.3" r="6.0"/><circle cx="1055.2" cy="1969.6" r="6.0"/><circle cx="1062.6" cy="1968.6" r="6.0"/><circle cx="986.3" cy="1976.3" r="6.0"/><circle cx="1052.3" cy="1975.3" r="6.0"/><circle cx="985.6" cy="1982.8" r="6.0"/><circle cx="1029.5" cy="1986.6" r="6.0"/><circle cx="1037.8" cy="1987.0" r="6.0"/><circle cx="1022.2" cy="1993.9" r="6.0"/><circle cx="1015.8" cy="2001.3" r="6.0"/><circle cx="971.1" cy="2006.8" r="6.0"/><circle cx="967.7" cy="2013.4" r="6.0"/><circle cx="960.6" cy="2021.0" r="6.0"/><circle cx="988.1" cy="2023.3" r="6.0"/><circle cx="992.2" cy="2019.9" r="6.0"/><circle cx="981.5" cy="2026.3" r="6.0"/><circle cx="958.3" cy="2034.0" r="6.0"/><circle cx="967.9" cy="2036.1" r="6.0"/><circle cx="978.0" cy="2034.4" r="6.0"/><circle cx="956.2" cy="2041.1" r="6.0"/><circle cx="968.5" cy="2040.4" r="6.0"/><circle cx="950.8" cy="2049.6" r="6.0"/><circle cx="960.9" cy="2046.8" r="6.0"/><circle cx="945.9" cy="2056.0" r="6.0"/><circle cx="952.6" cy="2054.8" r="6.0"/><circle cx="944.7" cy="2062.7" r="6.0"/><circle cx="948.2" cy="2059.2" r="6.0"/><circle cx="940.0" cy="2066.8" r="6.0"/><circle cx="948.6" cy="2066.6" r="6.0"/><circle cx="953.6" cy="2067.2" r="6.0"/><circle cx="941.8" cy="2075.8" r="6.0"/></g>
<circle cx="850.9" cy="2193.0" r="6.0" fill="#3e58af"/>
<circle cx="1208.6" cy="1773.3" r="6.0" fill="#3e58af"/>
<circle cx="1188.2" cy="1776.9" r="6.0" fill="#3e58af"/>
<circle cx="1173.6" cy="1776.2" r="6.0" fill="#3e58af"/>
<circle cx="1161.9" cy="1781.3" r="6.0" fill="#3e58af"/>
<circle cx="1145.9" cy="1787.1" r="6.0" fill="#3e58af"/>
<circle cx="1109.4" cy="1798.1" r="6.0" fill="#3e58af"/>
<circle cx="1124.0" cy="1806.1" r="6.0" fill="#3e58af"/>
<circle cx="1167.8" cy="1876.1" r="6.0" fill="#3e58af"/>
<circle cx="1148.8" cy="1884.1" r="6.0" fill="#3e58af"/>
<circle cx="1178.0" cy="1845.5" r="6.0" fill="#3e58af"/>
<circle cx="1172.2" cy="1836.7" r="6.0" fill="#3e58af"/>
<circle cx="1037.9" cy="1879.0" r="6.0" fill="#3e58af"/>
<circle cx="1064.2" cy="1860.1" r="6.0" fill="#3e58af"/>
<circle cx="1058.4" cy="1868.8" r="6.0" fill="#3e58af"/>
<circle cx="1121.1" cy="1928.6" r="6.0" fill="#3e58af"/>
<circle cx="1094.8" cy="1835.3" r="6.0" fill="#3e58af"/>
<circle cx="1192.6" cy="1806.1" r="6.0" fill="#3e58af"/>
<circle cx="1204.3" cy="1795.9" r="6.0" fill="#3e58af"/>
<circle cx="946.9" cy="2034.2" r="6.0" fill="#3e58af"/>
<circle cx="945.5" cy="2047.4" r="6.0" fill="#3e58af"/>
<circle cx="939.6" cy="2057.6" r="6.0" fill="#3e58af"/>
<circle cx="960.1" cy="2083.8" r="6.0" fill="#3e58af"/>
<circle cx="957.1" cy="2092.6" r="6.0" fill="#3e58af"/>
<circle cx="979.0" cy="2069.2" r="6.0" fill="#3e58af"/>
<circle cx="983.4" cy="2051.7" r="6.0" fill="#3e58af"/>
<circle cx="1030.1" cy="2019.6" r="6.0" fill="#3e58af"/>
<circle cx="1015.5" cy="2025.5" r="6.0" fill="#3e58af"/>
<circle cx="998.0" cy="2034.2" r="6.0" fill="#3e58af"/>
<circle cx="900.2" cy="2105.7" r="6.0" fill="#3e58af"/>
<circle cx="913.4" cy="2140.7" r="6.0" fill="#3e58af"/>
<circle cx="913.4" cy="2149.5" r="6.0" fill="#3e58af"/>
<circle cx="898.8" cy="2148.0" r="6.0" fill="#3e58af"/>
<circle cx="884.2" cy="2158.2" r="6.0" fill="#3e58af"/>
<circle cx="858.2" cy="2176.7" r="6.0" fill="#ba407e"/>
<circle cx="871.6" cy="2168.3" r="6.0" fill="#ba407e"/>
<circle cx="883.4" cy="2164.9" r="6.0" fill="#ba407e"/>
<circle cx="871.6" cy="2158.2" r="6.0" fill="#ba407e"/>
<circle cx="1208.6" cy="1787.8" r="6.0" fill="#ba407e"/>
<circle cx="1197.0" cy="1774.0" r="6.0" fill="#ba407e"/>
<circle cx="1115.3" cy="1806.1" r="6.0" fill="#ba407e"/>
<circle cx="1081.0" cy="1822.9" r="6.0" fill="#ba407e"/>
<circle cx="1092.6" cy="1817.0" r="6.0" fill="#ba407e"/>
<circle cx="1169.2" cy="1820.7" r="6.0" fill="#ba407e"/>
<circle cx="1129.9" cy="1911.1" r="6.0" fill="#ba407e"/>
<circle cx="1027.7" cy="1895.8" r="6.0" fill="#ba407e"/>
<circle cx="1026.3" cy="1905.3" r="6.0" fill="#ba407e"/>
<circle cx="1078.8" cy="1845.5" r="6.0" fill="#ba407e"/>
<circle cx="938.9" cy="2029.9" r="6.0" fill="#ba407e"/>
<circle cx="923.6" cy="2066.3" r="6.0" fill="#ba407e"/>
<circle cx="917.8" cy="2086.8" r="6.0" fill="#ba407e"/>
<circle cx="936.7" cy="2097.0" r="6.0" fill="#ba407e"/>
<circle cx="928.0" cy="2110.1" r="6.0" fill="#ba407e"/>
<circle cx="925.0" cy="2118.9" r="6.0" fill="#ba407e"/>
<circle cx="904.6" cy="2130.5" r="6.0" fill="#ba407e"/>
<circle cx="900.2" cy="2139.3" r="6.0" fill="#ba407e"/>
<circle cx="871.1" cy="2145.1" r="6.0" fill="#ba407e"/>
<circle cx="1009.7" cy="2040.1" r="6.0" fill="#ba407e"/>
<circle cx="995.1" cy="2053.2" r="6.0" fill="#ba407e"/>
<circle cx="964.4" cy="2069.2" r="6.0" fill="#ba407e"/>
<circle cx="948.4" cy="2089.7" r="6.0" fill="#ba407e"/>
</g>
<line x1="-44.32" y1="1656.02" x2="601.51" y2="899.60" stroke="#3e58af" stroke-width="3"/>
<line x1="-44.47" y1="1635.36" x2="602.38" y2="899.60" stroke="#ba407e" stroke-width="3"/>
</g>
<path d="M104.0,898.3 V1484.3 H653.5" fill="none" stroke="#333" stroke-width="1.6"/>
<line x1="91.5" y1="1454.90" x2="104.0" y2="1454.90" stroke="#111" stroke-width="1.8"/>
<text x="34.07" y="1462.70" font-size="18.8" font-weight="bold" fill="#000" textLength="54.20" lengthAdjust="spacing">30,00</text>
<line x1="91.5" y1="1366.98" x2="104.0" y2="1366.98" stroke="#111" stroke-width="1.8"/>
<text x="34.22" y="1374.78" font-size="18.8" font-weight="bold" fill="#000" textLength="54.06" lengthAdjust="spacing">40,00</text>
<line x1="91.5" y1="1279.06" x2="104.0" y2="1279.06" stroke="#111" stroke-width="1.8"/>
<text x="33.92" y="1286.86" font-size="18.8" font-weight="bold" fill="#000" textLength="54.35" lengthAdjust="spacing">50,00</text>
<line x1="91.5" y1="1191.14" x2="104.0" y2="1191.14" stroke="#111" stroke-width="1.8"/>
<text x="33.81" y="1198.94" font-size="18.8" font-weight="bold" fill="#000" textLength="54.46" lengthAdjust="spacing">60,00</text>
<line x1="91.5" y1="1103.22" x2="104.0" y2="1103.22" stroke="#111" stroke-width="1.8"/>
<text x="33.69" y="1111.02" font-size="18.8" font-weight="bold" fill="#000" textLength="54.58" lengthAdjust="spacing">70,00</text>
<line x1="91.5" y1="1015.30" x2="104.0" y2="1015.30" stroke="#111" stroke-width="1.8"/>
<text x="33.90" y="1023.10" font-size="18.8" font-weight="bold" fill="#000" textLength="54.37" lengthAdjust="spacing">80,00</text>
<line x1="91.5" y1="927.38" x2="104.0" y2="927.38" stroke="#111" stroke-width="1.8"/>
<text x="33.85" y="935.18" font-size="18.8" font-weight="bold" fill="#000" textLength="54.42" lengthAdjust="spacing">90,00</text>
<line x1="131.40" y1="1484.3" x2="131.40" y2="1496.7" stroke="#111" stroke-width="1.8"/>
<text x="105.77" y="1516.10" font-size="18.8" font-weight="bold" fill="#000" textLength="54.20" lengthAdjust="spacing">30,00</text>
<line x1="202.04" y1="1484.3" x2="202.04" y2="1496.7" stroke="#111" stroke-width="1.8"/>
<text x="176.56" y="1516.10" font-size="18.8" font-weight="bold" fill="#000" textLength="54.06" lengthAdjust="spacing">40,00</text>
<line x1="272.68" y1="1484.3" x2="272.68" y2="1496.7" stroke="#111" stroke-width="1.8"/>
<text x="246.90" y="1516.10" font-size="18.8" font-weight="bold" fill="#000" textLength="54.35" lengthAdjust="spacing">50,00</text>
<line x1="343.32" y1="1484.3" x2="343.32" y2="1496.7" stroke="#111" stroke-width="1.8"/>
<text x="317.43" y="1516.10" font-size="18.8" font-weight="bold" fill="#000" textLength="54.46" lengthAdjust="spacing">60,00</text>
<line x1="413.96" y1="1484.3" x2="413.96" y2="1496.7" stroke="#111" stroke-width="1.8"/>
<text x="387.95" y="1516.10" font-size="18.8" font-weight="bold" fill="#000" textLength="54.58" lengthAdjust="spacing">70,00</text>
<line x1="484.60" y1="1484.3" x2="484.60" y2="1496.7" stroke="#111" stroke-width="1.8"/>
<text x="458.80" y="1516.10" font-size="18.8" font-weight="bold" fill="#000" textLength="54.37" lengthAdjust="spacing">80,00</text>
<line x1="555.24" y1="1484.3" x2="555.24" y2="1496.7" stroke="#111" stroke-width="1.8"/>
<text x="529.39" y="1516.10" font-size="18.8" font-weight="bold" fill="#000" textLength="54.42" lengthAdjust="spacing">90,00</text>
<line x1="625.88" y1="1484.3" x2="625.88" y2="1496.7" stroke="#111" stroke-width="1.8"/>
<text x="593.80" y="1516.10" font-size="18.8" font-weight="bold" fill="#000" textLength="66.36" lengthAdjust="spacing">100,00</text>
<text x="228.28" y="1544.60" font-size="24.2" font-weight="bold" fill="#000" textLength="292.25" lengthAdjust="spacing">LEFT 4D FINGER MEAN</text>
<text transform="translate(24.30,1337.02) rotate(-90)" x="0" y="0" font-size="24.2" font-weight="bold" textLength="294.65" lengthAdjust="spacing">LEFT 2D FINGER MEAN</text>
<text x="112.84" y="918.90" font-size="30.6" font-weight="bold" fill="#278b17" textLength="248.22" lengthAdjust="spacing">AFRICAN ORIGIN</text>
<circle cx="119.2" cy="949.2" r="6.3" fill="#3e58af"/>
<circle cx="119.2" cy="970.8" r="6.3" fill="#ba407e"/>
<text x="134.73" y="957.40" font-size="17.5" font-weight="bold" fill="#000" textLength="73.23" lengthAdjust="spacing">MALE: R</text>
<text transform="translate(207.75,950.90) scale(1.028,1)" font-size="12.60" font-weight="normal" fill="#000">2</text>
<text x="218.83" y="957.40" font-size="17.5" font-weight="bold" fill="#000" textLength="130.62" lengthAdjust="spacing">Linear = 0,889</text>
<text x="133.13" y="978.20" font-size="17.5" font-weight="bold" fill="#000" textLength="96.43" lengthAdjust="spacing">FEMALE: R</text>
<text transform="translate(229.35,971.70) scale(1.028,1)" font-size="12.60" font-weight="normal" fill="#000">2</text>
<text x="240.43" y="978.20" font-size="17.5" font-weight="bold" fill="#000" textLength="130.99" lengthAdjust="spacing">Linear = 0,880</text>
<text transform="translate(103.33,858.62) scale(1.039,1)" font-size="57.96" font-weight="bold" fill="#000">g</text>
<rect x="287.0" y="1152.0" width="142.4" height="28.4" fill="#fff" stroke="#ba407e" stroke-width="1.5"/>
<text x="297.99" y="1173.10" font-size="18.2" font-weight="normal" fill="#000" textLength="119.67" lengthAdjust="spacing">y=5,17+0,9*x</text>
<rect x="286.3" y="1202.0" width="142.0" height="27.8" fill="#fff" stroke="#3e58af" stroke-width="1.5"/>
<text x="290.46" y="1222.50" font-size="18.2" font-weight="normal" fill="#000" textLength="130.54" lengthAdjust="spacing">y=2,74+0,92*x</text>
</g>
<g transform="translate(1341.8,782.0)">
<clipPath id="cliph"><rect x="104.0" y="898.3" width="549.5" height="586.0"/></clipPath>
<g clip-path="url(#cliph)">
<g transform="translate(-1341.8,-782.0)">
<polygon points="1609.1,2086.5 1609.2,2086.5 1609.4,2086.6 1610.6,2086.8 1610.8,2086.8 1611.0,2086.9 1611.4,2086.0 1611.5,2085.8 1612.1,2084.8 1612.2,2084.7 1612.9,2083.7 1613.0,2083.6 1613.8,2082.7 1613.9,2082.6 1614.8,2081.8 1614.9,2081.7 1615.8,2081.0 1616.0,2080.9 1617.0,2080.2 1617.1,2080.1 1617.6,2079.9 1624.6,2076.4 1628.2,2073.7 1632.5,2069.4 1640.2,2060.4 1640.5,2060.0 1640.7,2059.9 1641.4,2059.2 1641.5,2059.1 1641.9,2058.7 1650.0,2052.0 1650.5,2051.6 1650.6,2051.5 1651.7,2050.8 1651.8,2050.7 1653.0,2050.1 1653.1,2050.0 1653.7,2049.8 1659.4,2047.5 1663.0,2045.3 1666.8,2040.5 1667.3,2040.0 1667.4,2039.9 1667.9,2039.4 1673.3,2034.0 1673.7,2033.6 1673.8,2033.5 1674.7,2032.8 1674.8,2032.7 1675.7,2032.0 1675.9,2031.9 1676.9,2031.4 1677.0,2031.3 1678.0,2030.9 1678.2,2030.8 1678.7,2030.6 1685.8,2028.3 1686.1,2027.2 1686.2,2027.0 1686.6,2025.9 1686.7,2025.7 1687.3,2024.7 1687.4,2024.5 1687.7,2024.0 1693.1,2015.9 1693.4,2015.5 1693.5,2015.4 1693.8,2015.0 1699.2,2008.2 1699.5,2007.8 1699.7,2007.6 1700.5,2006.8 1700.6,2006.7 1701.5,2005.9 1701.6,2005.8 1702.6,2005.2 1702.7,2005.1 1703.7,2004.5 1703.9,2004.4 1704.4,2004.2 1716.5,1998.8 1717.1,1998.5 1717.3,1998.5 1718.5,1998.1 1718.7,1998.0 1719.9,1997.8 1720.1,1997.7 1721.4,1997.6 1721.6,1997.6 1722.2,1997.6 1726.0,1997.6 1726.0,1987.3 1726.0,1986.8 1726.0,1986.6 1726.1,1985.5 1726.2,1985.3 1726.4,1984.2 1726.4,1984.0 1726.7,1982.9 1726.8,1982.7 1727.2,1981.7 1727.3,1981.5 1727.8,1980.5 1727.9,1980.3 1728.2,1979.9 1761.1,1927.8 1761.4,1927.3 1761.5,1927.2 1762.2,1926.3 1762.4,1926.1 1763.1,1925.3 1763.3,1925.1 1764.1,1924.4 1764.3,1924.3 1765.2,1923.6 1765.4,1923.5 1766.4,1922.9 1766.5,1922.8 1767.6,1922.3 1767.8,1922.3 1768.9,1921.9 1769.0,1921.8 1770.1,1921.6 1770.3,1921.5 1771.5,1921.4 1771.7,1921.3 1772.8,1921.3 1773.0,1921.3 1774.1,1921.3 1774.3,1921.4 1774.9,1921.4 1777.8,1921.8 1777.8,1921.4 1777.8,1921.2 1777.9,1920.0 1777.9,1919.8 1778.1,1918.7 1778.2,1918.5 1778.5,1917.4 1778.6,1917.2 1779.0,1916.1 1779.1,1915.9 1779.6,1914.9 1779.7,1914.7 1780.4,1913.7 1780.5,1913.5 1780.9,1913.1 1786.2,1906.3 1786.6,1905.9 1786.7,1905.8 1787.5,1905.0 1787.7,1904.8 1788.5,1904.1 1788.7,1904.0 1789.6,1903.3 1789.7,1903.2 1790.2,1902.9 1799.7,1897.5 1799.9,1897.4 1800.0,1897.3 1800.3,1897.2 1800.8,1896.9 1800.8,1896.8 1801.1,1895.6 1801.1,1895.4 1801.5,1894.3 1801.5,1894.1 1802.0,1893.0 1802.1,1892.8 1802.6,1891.8 1802.7,1891.6 1803.4,1890.7 1803.5,1890.5 1804.2,1889.6 1804.4,1889.4 1804.8,1889.0 1812.9,1880.9 1813.3,1880.5 1813.5,1880.3 1814.0,1879.9 1817.1,1877.5 1818.6,1871.3 1818.8,1870.7 1818.8,1870.5 1819.2,1869.4 1819.3,1869.2 1819.8,1868.1 1819.9,1867.9 1820.6,1866.9 1820.7,1866.7 1821.4,1865.7 1821.6,1865.6 1822.4,1864.7 1822.5,1864.5 1823.4,1863.8 1823.6,1863.6 1824.6,1862.9 1824.8,1862.8 1825.8,1862.2 1826.0,1862.1 1827.1,1861.6 1827.3,1861.6 1827.6,1861.5 1827.6,1860.6 1827.6,1860.4 1827.8,1859.3 1827.8,1859.1 1828.0,1857.9 1828.1,1857.7 1828.4,1856.6 1828.5,1856.4 1828.9,1855.3 1829.0,1855.1 1829.6,1854.1 1829.7,1853.9 1830.3,1853.0 1830.4,1852.8 1831.2,1851.9 1831.3,1851.7 1831.7,1851.3 1833.0,1850.0 1833.0,1847.7 1833.0,1847.2 1833.0,1847.0 1833.1,1845.8 1833.2,1845.6 1833.4,1844.4 1833.4,1844.3 1833.8,1843.1 1833.9,1842.9 1834.3,1841.9 1834.4,1841.7 1834.9,1840.6 1835.0,1840.5 1835.4,1840.0 1838.4,1835.4 1838.4,1831.6 1838.4,1830.9 1838.4,1830.7 1838.6,1829.4 1838.6,1829.2 1838.9,1828.0 1838.9,1827.8 1839.1,1827.2 1841.8,1819.1 1842.0,1818.5 1842.1,1818.4 1842.4,1817.6 1840.2,1815.7 1840.1,1816.1 1839.9,1816.2 1839.3,1817.2 1839.1,1817.4 1838.3,1818.3 1838.2,1818.4 1837.3,1819.2 1837.2,1819.4 1836.2,1820.1 1836.1,1820.2 1835.1,1820.9 1834.9,1821.0 1833.8,1821.5 1833.6,1821.6 1832.5,1822.0 1832.3,1822.1 1831.1,1822.4 1830.9,1822.4 1829.8,1822.6 1829.6,1822.6 1828.4,1822.7 1828.2,1822.7 1827.0,1822.6 1826.8,1822.6 1826.2,1822.5 1819.7,1821.6 1813.4,1823.4 1812.3,1823.8 1811.8,1825.2 1811.6,1825.8 1811.5,1825.9 1811.1,1826.9 1811.0,1827.1 1810.5,1828.1 1810.4,1828.2 1809.8,1829.2 1809.6,1829.3 1808.9,1830.2 1808.8,1830.3 1808.0,1831.1 1807.9,1831.2 1807.5,1831.6 1791.3,1845.0 1790.9,1845.4 1790.8,1845.5 1789.9,1846.1 1789.7,1846.2 1788.8,1846.7 1788.6,1846.8 1787.6,1847.2 1787.5,1847.3 1786.4,1847.7 1786.3,1847.7 1785.8,1847.9 1779.4,1849.4 1777.3,1852.0 1774.1,1861.6 1773.9,1862.2 1773.8,1862.4 1773.3,1863.5 1773.2,1863.6 1772.6,1864.7 1772.5,1864.9 1771.8,1865.9 1771.7,1866.0 1771.3,1866.5 1760.5,1878.6 1760.1,1879.0 1760.0,1879.1 1759.3,1879.8 1759.2,1879.9 1758.4,1880.5 1758.2,1880.6 1757.8,1880.9 1752.8,1884.3 1750.4,1889.0 1750.2,1889.5 1750.1,1889.7 1749.5,1890.6 1749.4,1890.8 1748.7,1891.7 1748.6,1891.8 1747.8,1892.6 1747.7,1892.8 1746.9,1893.5 1746.7,1893.6 1746.3,1894.0 1740.9,1898.0 1740.7,1898.2 1740.6,1898.3 1740.3,1898.5 1732.2,1903.8 1732.1,1903.9 1732.1,1903.9 1732.0,1904.0 1719.5,1911.9 1711.7,1923.1 1711.3,1923.6 1711.2,1923.8 1710.4,1924.7 1710.2,1924.9 1709.3,1925.7 1709.1,1925.9 1708.1,1926.6 1708.0,1926.7 1707.4,1927.1 1695.1,1934.5 1684.5,1971.0 1681.8,1980.4 1681.6,1980.9 1681.6,1981.1 1681.2,1982.2 1681.1,1982.3 1680.9,1982.8 1678.2,1988.2 1678.0,1988.6 1677.9,1988.7 1677.7,1989.1 1660.2,2018.7 1659.9,2019.2 1659.8,2019.4 1659.1,2020.3 1659.0,2020.5 1658.2,2021.4 1658.0,2021.5 1657.2,2022.3 1657.0,2022.4 1656.5,2022.8 1651.2,2026.8 1650.7,2027.1 1650.6,2027.2 1649.7,2027.8 1649.5,2027.9 1649.0,2028.1 1644.3,2030.5 1640.9,2035.5 1640.6,2036.0 1640.5,2036.1 1639.8,2037.0 1639.6,2037.2 1638.8,2038.0 1638.7,2038.1 1637.8,2038.8 1637.7,2039.0 1636.7,2039.6 1636.6,2039.7 1635.6,2040.3 1635.4,2040.3 1634.3,2040.8 1634.2,2040.9 1633.1,2041.2 1632.9,2041.3 1631.8,2041.5 1631.6,2041.6 1631.0,2041.6 1629.4,2041.8 1629.5,2042.2 1629.6,2042.8 1629.6,2043.0 1629.8,2044.1 1629.8,2044.3 1629.8,2045.5 1629.8,2045.7 1629.7,2046.9 1629.7,2047.1 1629.5,2048.2 1629.5,2048.4 1629.1,2049.6 1629.1,2049.7 1628.7,2050.8 1628.6,2051.0 1628.1,2052.1 1628.0,2052.2 1627.3,2053.2 1627.2,2053.4 1626.5,2054.3 1626.4,2054.5 1625.6,2055.3 1625.4,2055.4 1624.5,2056.2 1624.4,2056.3 1623.4,2057.0 1623.3,2057.1 1622.2,2057.7 1622.1,2057.8 1621.0,2058.3 1621.0,2058.4 1621.1,2058.6 1621.4,2059.8 1621.5,2060.0 1621.7,2061.2 1621.7,2061.4 1621.7,2062.7 1621.7,2062.9 1621.7,2064.1 1621.7,2064.3 1621.5,2065.5 1621.4,2065.7 1621.1,2066.9 1621.0,2067.1 1620.6,2068.3 1620.5,2068.5 1620.3,2069.0 1617.6,2074.4 1617.2,2075.1 1617.1,2075.3 1616.7,2075.9 1611.3,2084.0 1611.0,2084.5 1610.9,2084.6 1610.1,2085.6 1610.0,2085.7 1609.6,2086.1 1609.1,2086.5" fill="#3e58af"/>
<g fill="#3e58af"><circle cx="1616.7" cy="2095.3" r="6.0"/><circle cx="1617.4" cy="2088.6" r="6.0"/><circle cx="1627.4" cy="2082.5" r="6.0"/><circle cx="1638.5" cy="2071.8" r="6.0"/><circle cx="1642.3" cy="2067.5" r="6.0"/><circle cx="1648.2" cy="2060.9" r="6.0"/><circle cx="1665.2" cy="2051.4" r="6.0"/><circle cx="1670.1" cy="2045.7" r="6.0"/><circle cx="1674.9" cy="2041.7" r="6.0"/><circle cx="1686.1" cy="2033.8" r="6.0"/><circle cx="1691.0" cy="2030.9" r="6.0"/><circle cx="1694.5" cy="2024.6" r="6.0"/><circle cx="1698.2" cy="2019.6" r="6.0"/><circle cx="1702.6" cy="2013.4" r="6.0"/><circle cx="1707.4" cy="2009.3" r="6.0"/><circle cx="1730.9" cy="2001.7" r="6.0"/><circle cx="1732.0" cy="1994.1" r="6.0"/><circle cx="1732.0" cy="1986.5" r="6.0"/><circle cx="1735.6" cy="1980.9" r="6.0"/><circle cx="1737.8" cy="1975.4" r="6.0"/><circle cx="1742.0" cy="1968.9" r="6.0"/><circle cx="1745.9" cy="1962.7" r="6.0"/><circle cx="1760.7" cy="1940.1" r="6.0"/><circle cx="1763.9" cy="1934.8" r="6.0"/><circle cx="1769.2" cy="1928.4" r="6.0"/><circle cx="1774.3" cy="1927.3" r="6.0"/><circle cx="1782.7" cy="1928.2" r="6.0"/><circle cx="1785.0" cy="1925.6" r="6.0"/><circle cx="1784.8" cy="1919.2" r="6.0"/><circle cx="1788.6" cy="1913.0" r="6.0"/><circle cx="1793.7" cy="1907.7" r="6.0"/><circle cx="1799.5" cy="1905.9" r="6.0"/><circle cx="1804.9" cy="1900.7" r="6.0"/><circle cx="1807.9" cy="1895.7" r="6.0"/><circle cx="1812.2" cy="1890.2" r="6.0"/><circle cx="1815.9" cy="1885.4" r="6.0"/><circle cx="1822.7" cy="1881.8" r="6.0"/><circle cx="1824.1" cy="1874.6" r="6.0"/><circle cx="1827.5" cy="1869.4" r="6.0"/><circle cx="1834.1" cy="1865.7" r="6.0"/><circle cx="1833.3" cy="1862.2" r="6.0"/><circle cx="1835.2" cy="1855.3" r="6.0"/><circle cx="1838.6" cy="1849.7" r="6.0"/><circle cx="1845.4" cy="1836.1" r="6.0"/><circle cx="1845.1" cy="1831.2" r="6.0"/><circle cx="1846.2" cy="1824.2" r="6.0"/><circle cx="1845.6" cy="1813.6" r="6.0"/><circle cx="1840.5" cy="1795.5" r="6.0"/><circle cx="1837.5" cy="1801.4" r="6.0"/><circle cx="1834.9" cy="1809.3" r="6.0"/><circle cx="1833.3" cy="1814.9" r="6.0"/><circle cx="1826.4" cy="1817.1" r="6.0"/><circle cx="1811.7" cy="1816.2" r="6.0"/><circle cx="1806.1" cy="1821.6" r="6.0"/><circle cx="1799.0" cy="1832.2" r="6.0"/><circle cx="1793.2" cy="1836.8" r="6.0"/><circle cx="1787.2" cy="1841.0" r="6.0"/><circle cx="1772.1" cy="1850.9" r="6.0"/><circle cx="1768.4" cy="1858.2" r="6.0"/><circle cx="1766.2" cy="1863.7" r="6.0"/><circle cx="1761.9" cy="1867.6" r="6.0"/><circle cx="1757.8" cy="1874.2" r="6.0"/><circle cx="1750.5" cy="1877.6" r="6.0"/><circle cx="1747.7" cy="1882.4" r="6.0"/><circle cx="1743.7" cy="1889.2" r="6.0"/><circle cx="1736.7" cy="1892.8" r="6.0"/><circle cx="1724.8" cy="1899.7" r="6.0"/><circle cx="1719.0" cy="1904.9" r="6.0"/><circle cx="1715.2" cy="1909.5" r="6.0"/><circle cx="1710.4" cy="1913.3" r="6.0"/><circle cx="1707.1" cy="1918.9" r="6.0"/><circle cx="1701.8" cy="1924.9" r="6.0"/><circle cx="1695.7" cy="1927.5" r="6.0"/><circle cx="1688.9" cy="1938.8" r="6.0"/><circle cx="1683.7" cy="1952.4" r="6.0"/><circle cx="1680.9" cy="1958.6" r="6.0"/><circle cx="1679.1" cy="1965.8" r="6.0"/><circle cx="1678.2" cy="1972.6" r="6.0"/><circle cx="1665.3" cy="1997.6" r="6.0"/><circle cx="1658.2" cy="2007.7" r="6.0"/><circle cx="1656.6" cy="2014.8" r="6.0"/><circle cx="1650.8" cy="2020.6" r="6.0"/><circle cx="1645.2" cy="2023.7" r="6.0"/><circle cx="1639.6" cy="2027.9" r="6.0"/><circle cx="1634.6" cy="2031.9" r="6.0"/><circle cx="1629.3" cy="2036.4" r="6.0"/><circle cx="1622.2" cy="2035.6" r="6.0"/><circle cx="1623.9" cy="2043.5" r="6.0"/><circle cx="1621.4" cy="2050.7" r="6.0"/><circle cx="1612.8" cy="2056.6" r="6.0"/><circle cx="1616.3" cy="2063.9" r="6.0"/><circle cx="1611.8" cy="2069.5" r="6.0"/><circle cx="1604.3" cy="2081.8" r="6.0"/><circle cx="1604.4" cy="2092.9" r="6.0"/><circle cx="1837.6" cy="1808.9" r="6.0"/><circle cx="1844.2" cy="1817.7" r="6.0"/><circle cx="1818.4" cy="1823.3" r="6.0"/><circle cx="1837.9" cy="1836.2" r="6.0"/><circle cx="1793.0" cy="1842.2" r="6.0"/><circle cx="1836.9" cy="1841.6" r="6.0"/><circle cx="1774.9" cy="1851.2" r="6.0"/><circle cx="1833.8" cy="1850.9" r="6.0"/><circle cx="1831.5" cy="1863.2" r="6.0"/><circle cx="1766.2" cy="1869.4" r="6.0"/><circle cx="1817.7" cy="1868.9" r="6.0"/><circle cx="1825.7" cy="1869.5" r="6.0"/><circle cx="1820.7" cy="1874.7" r="6.0"/><circle cx="1751.0" cy="1881.5" r="6.0"/><circle cx="1809.3" cy="1890.1" r="6.0"/><circle cx="1741.9" cy="1895.7" r="6.0"/><circle cx="1804.7" cy="1897.5" r="6.0"/><circle cx="1737.2" cy="1900.7" r="6.0"/><circle cx="1795.9" cy="1901.9" r="6.0"/><circle cx="1718.5" cy="1909.9" r="6.0"/><circle cx="1723.3" cy="1908.0" r="6.0"/><circle cx="1789.7" cy="1908.4" r="6.0"/><circle cx="1712.8" cy="1917.0" r="6.0"/><circle cx="1779.7" cy="1915.5" r="6.0"/><circle cx="1776.6" cy="1920.2" r="6.0"/><circle cx="1780.9" cy="1920.5" r="6.0"/><circle cx="1761.1" cy="1927.4" r="6.0"/><circle cx="1766.6" cy="1928.1" r="6.0"/><circle cx="1762.7" cy="1936.0" r="6.0"/><circle cx="1691.5" cy="1941.3" r="6.0"/><circle cx="1755.1" cy="1940.7" r="6.0"/><circle cx="1687.4" cy="1949.5" r="6.0"/><circle cx="1745.3" cy="1955.0" r="6.0"/><circle cx="1688.9" cy="1961.1" r="6.0"/><circle cx="1682.1" cy="1968.7" r="6.0"/><circle cx="1736.1" cy="1968.6" r="6.0"/><circle cx="1741.8" cy="1967.6" r="6.0"/><circle cx="1682.7" cy="1973.6" r="6.0"/><circle cx="1679.7" cy="1983.1" r="6.0"/><circle cx="1726.0" cy="1980.1" r="6.0"/><circle cx="1733.2" cy="1982.5" r="6.0"/><circle cx="1730.2" cy="1989.1" r="6.0"/><circle cx="1676.2" cy="1994.8" r="6.0"/><circle cx="1727.8" cy="2001.4" r="6.0"/><circle cx="1699.8" cy="2008.6" r="6.0"/><circle cx="1694.2" cy="2013.8" r="6.0"/><circle cx="1648.3" cy="2026.0" r="6.0"/><circle cx="1638.8" cy="2034.4" r="6.0"/><circle cx="1678.7" cy="2035.4" r="6.0"/><circle cx="1685.0" cy="2034.3" r="6.0"/><circle cx="1636.4" cy="2040.0" r="6.0"/><circle cx="1668.4" cy="2039.8" r="6.0"/><circle cx="1628.1" cy="2045.7" r="6.0"/><circle cx="1662.2" cy="2047.3" r="6.0"/><circle cx="1641.9" cy="2058.8" r="6.0"/><circle cx="1615.8" cy="2068.7" r="6.0"/><circle cx="1638.6" cy="2065.5" r="6.0"/><circle cx="1629.1" cy="2074.7" r="6.0"/><circle cx="1637.2" cy="2072.9" r="6.0"/><circle cx="1614.3" cy="2081.3" r="6.0"/><circle cx="1628.0" cy="2078.9" r="6.0"/><circle cx="1602.1" cy="2088.4" r="6.0"/><circle cx="1609.3" cy="2088.0" r="6.0"/><circle cx="1615.6" cy="2093.1" r="6.0"/></g>
<polygon points="1603.9,2089.0 1604.9,2088.5 1606.0,2086.9 1603.9,2089.0" fill="#ba407e"/>
<polygon points="1611.8,2079.6 1620.1,2072.5 1620.5,2072.2 1620.6,2072.1 1621.5,2071.5 1621.5,2071.5 1622.0,2071.2 1631.4,2065.8 1631.7,2065.7 1631.7,2065.6 1632.0,2065.5 1639.1,2061.9 1640.6,2060.8 1642.2,2056.3 1642.3,2055.8 1642.4,2055.7 1642.8,2054.7 1642.8,2054.7 1643.3,2053.8 1643.4,2053.7 1644.0,2052.8 1644.0,2052.7 1644.7,2052.0 1644.8,2051.9 1645.5,2051.2 1645.6,2051.1 1646.4,2050.4 1646.5,2050.4 1646.9,2050.1 1653.2,2045.8 1654.9,2043.7 1657.0,2037.4 1657.2,2036.9 1657.2,2036.8 1657.6,2035.8 1657.7,2035.7 1658.3,2034.7 1658.3,2034.6 1659.0,2033.7 1659.0,2033.7 1659.8,2032.8 1659.8,2032.8 1660.7,2032.0 1660.7,2031.9 1661.6,2031.3 1661.7,2031.2 1662.2,2030.9 1668.9,2026.9 1669.3,2026.6 1669.4,2026.6 1670.3,2026.2 1670.4,2026.1 1670.9,2025.9 1677.2,2023.5 1680.5,2017.0 1680.8,2016.5 1680.8,2016.5 1681.3,2015.6 1681.4,2015.5 1682.0,2014.7 1682.1,2014.6 1682.8,2013.9 1682.8,2013.8 1683.6,2013.1 1683.6,2013.1 1684.0,2012.8 1694.8,2004.7 1695.2,2004.4 1695.3,2004.3 1696.2,2003.8 1696.3,2003.7 1697.2,2003.3 1697.3,2003.2 1698.3,2002.9 1698.4,2002.8 1699.4,2002.6 1699.5,2002.5 1700.6,2002.4 1700.6,2002.4 1701.2,2002.3 1728.0,2000.4 1728.0,1976.6 1728.0,1976.0 1728.0,1975.9 1728.1,1974.9 1728.1,1974.8 1728.3,1973.8 1728.4,1973.7 1728.7,1972.6 1728.7,1972.6 1729.1,1971.6 1729.1,1971.5 1729.6,1970.6 1729.7,1970.5 1730.2,1969.6 1730.3,1969.5 1730.6,1969.1 1763.5,1927.8 1763.9,1927.4 1763.9,1927.3 1764.7,1926.6 1764.7,1926.5 1765.0,1926.3 1765.0,1925.8 1765.0,1925.7 1765.0,1924.7 1765.0,1924.6 1765.2,1923.5 1765.2,1923.4 1765.5,1922.4 1765.5,1922.3 1765.9,1921.3 1765.9,1921.2 1766.4,1920.2 1766.4,1920.1 1766.7,1919.7 1774.8,1906.2 1775.0,1905.9 1775.0,1905.8 1775.2,1905.5 1784.6,1892.0 1784.9,1891.7 1785.0,1891.6 1785.6,1890.8 1785.7,1890.8 1786.0,1890.4 1792.7,1883.7 1793.0,1883.4 1790.0,1880.5 1789.7,1880.1 1789.6,1880.0 1788.9,1879.2 1788.9,1879.1 1788.3,1878.3 1788.2,1878.2 1787.7,1877.2 1787.7,1877.2 1787.3,1876.2 1787.2,1876.1 1786.9,1875.1 1786.9,1875.0 1786.7,1874.0 1786.7,1873.9 1786.5,1872.8 1786.5,1872.7 1786.5,1871.7 1786.5,1871.6 1786.6,1870.5 1786.6,1870.4 1786.8,1869.4 1786.8,1869.3 1787.1,1868.3 1787.1,1868.2 1787.5,1867.2 1787.6,1867.1 1787.8,1866.6 1790.5,1861.2 1790.8,1860.7 1790.8,1860.6 1791.5,1859.6 1791.5,1859.5 1792.3,1858.6 1792.3,1858.5 1793.2,1857.7 1793.3,1857.6 1793.7,1857.2 1804.5,1848.6 1804.3,1848.3 1804.2,1848.2 1803.9,1847.7 1801.3,1842.3 1801.0,1841.8 1801.0,1841.7 1800.9,1841.6 1799.9,1842.0 1789.9,1853.1 1789.5,1853.5 1789.5,1853.6 1788.6,1854.3 1788.6,1854.4 1787.7,1855.0 1787.6,1855.1 1786.6,1855.7 1786.5,1855.7 1785.5,1856.2 1785.4,1856.2 1784.4,1856.6 1784.3,1856.6 1783.2,1856.8 1783.1,1856.9 1782.0,1857.0 1781.9,1857.0 1780.8,1857.0 1780.7,1857.0 1779.6,1857.0 1779.5,1856.9 1778.4,1856.8 1778.3,1856.7 1777.7,1856.6 1775.7,1856.0 1773.2,1861.9 1773.0,1862.3 1773.0,1862.4 1772.6,1863.1 1772.5,1863.2 1772.3,1863.5 1765.6,1874.3 1765.3,1874.7 1765.3,1874.8 1764.7,1875.6 1764.6,1875.7 1763.9,1876.4 1763.9,1876.5 1763.1,1877.2 1763.0,1877.2 1762.2,1877.8 1762.2,1877.9 1761.3,1878.4 1761.2,1878.4 1760.8,1878.7 1749.9,1884.1 1747.5,1887.3 1747.2,1887.7 1747.1,1887.8 1746.4,1888.6 1746.3,1888.6 1745.9,1889.0 1732.5,1901.1 1732.1,1901.4 1732.1,1901.5 1731.3,1902.0 1731.3,1902.1 1730.9,1902.3 1718.1,1910.5 1710.0,1922.0 1709.7,1922.4 1709.6,1922.5 1708.9,1923.4 1708.8,1923.4 1708.0,1924.2 1707.9,1924.3 1707.0,1925.0 1706.9,1925.0 1706.4,1925.4 1693.4,1933.2 1682.6,1970.5 1679.9,1979.9 1679.7,1980.3 1679.7,1980.4 1679.3,1981.4 1679.3,1981.5 1679.1,1981.9 1676.4,1987.3 1676.2,1987.7 1676.2,1987.7 1676.0,1988.1 1658.5,2017.7 1658.2,2018.1 1658.1,2018.2 1657.5,2019.1 1657.4,2019.2 1656.7,2020.0 1656.6,2020.1 1655.8,2020.8 1655.8,2020.8 1655.3,2021.2 1650.0,2025.2 1649.6,2025.5 1649.5,2025.6 1648.6,2026.1 1648.6,2026.1 1648.1,2026.4 1642.9,2029.0 1639.3,2034.4 1639.0,2034.8 1638.9,2034.9 1638.3,2035.7 1638.2,2035.8 1637.5,2036.5 1637.4,2036.6 1636.6,2037.3 1636.5,2037.3 1635.6,2037.9 1635.6,2038.0 1634.6,2038.5 1634.6,2038.5 1633.6,2038.9 1633.5,2039.0 1632.5,2039.3 1632.4,2039.3 1631.4,2039.6 1631.3,2039.6 1630.8,2039.7 1627.0,2040.1 1627.5,2042.6 1627.6,2043.2 1627.7,2043.3 1627.8,2044.3 1627.8,2044.4 1627.8,2045.5 1627.8,2045.6 1627.7,2046.7 1627.7,2046.8 1627.5,2047.8 1627.5,2047.9 1627.2,2049.0 1627.2,2049.1 1626.8,2050.1 1626.8,2050.2 1626.3,2051.1 1626.2,2051.2 1625.7,2052.1 1625.6,2052.2 1624.9,2053.0 1624.9,2053.1 1624.1,2053.9 1624.1,2054.0 1623.3,2054.7 1623.2,2054.7 1622.3,2055.4 1622.2,2055.4 1621.3,2055.9 1621.2,2056.0 1620.2,2056.4 1620.1,2056.5 1619.6,2056.6 1618.3,2057.1 1618.5,2057.4 1618.7,2057.9 1618.8,2058.0 1619.2,2059.1 1619.2,2059.2 1619.5,2060.3 1619.5,2060.4 1619.7,2061.5 1619.7,2061.6 1619.7,2062.7 1619.7,2062.8 1619.7,2063.9 1619.7,2064.0 1619.5,2065.2 1619.5,2065.3 1619.2,2066.4 1619.2,2066.5 1618.8,2067.5 1618.7,2067.6 1618.5,2068.1 1615.8,2073.5 1615.5,2074.1 1615.4,2074.2 1615.0,2074.8 1611.8,2079.6" fill="#ba407e"/>
<g fill="#ba407e"><circle cx="1597.1" cy="2090.2" r="6.0"/><circle cx="1602.4" cy="2093.1" r="6.0"/><circle cx="1610.0" cy="2092.1" r="6.0"/><circle cx="1613.9" cy="2086.3" r="6.0"/><circle cx="1617.3" cy="2080.9" r="6.0"/><circle cx="1622.2" cy="2077.6" r="6.0"/><circle cx="1629.6" cy="2074.0" r="6.0"/><circle cx="1635.5" cy="2068.8" r="6.0"/><circle cx="1640.2" cy="2066.9" r="6.0"/><circle cx="1645.6" cy="2062.3" r="6.0"/><circle cx="1648.2" cy="2054.5" r="6.0"/><circle cx="1659.8" cy="2046.5" r="6.0"/><circle cx="1662.4" cy="2039.8" r="6.0"/><circle cx="1665.8" cy="2035.9" r="6.0"/><circle cx="1670.9" cy="2030.5" r="6.0"/><circle cx="1677.5" cy="2029.0" r="6.0"/><circle cx="1681.7" cy="2024.0" r="6.0"/><circle cx="1685.7" cy="2018.8" r="6.0"/><circle cx="1692.1" cy="2014.3" r="6.0"/><circle cx="1697.2" cy="2008.9" r="6.0"/><circle cx="1703.6" cy="2006.3" r="6.0"/><circle cx="1710.5" cy="2007.4" r="6.0"/><circle cx="1716.5" cy="2006.3" r="6.0"/><circle cx="1730.5" cy="2005.7" r="6.0"/><circle cx="1733.4" cy="2000.3" r="6.0"/><circle cx="1733.8" cy="1993.4" r="6.0"/><circle cx="1732.7" cy="1980.5" r="6.0"/><circle cx="1733.5" cy="1974.4" r="6.0"/><circle cx="1737.6" cy="1967.2" r="6.0"/><circle cx="1741.6" cy="1961.8" r="6.0"/><circle cx="1746.3" cy="1956.5" r="6.0"/><circle cx="1751.0" cy="1952.3" r="6.0"/><circle cx="1755.2" cy="1946.1" r="6.0"/><circle cx="1758.6" cy="1940.6" r="6.0"/><circle cx="1763.4" cy="1934.7" r="6.0"/><circle cx="1768.2" cy="1931.0" r="6.0"/><circle cx="1771.0" cy="1924.0" r="6.0"/><circle cx="1772.8" cy="1918.1" r="6.0"/><circle cx="1777.5" cy="1913.6" r="6.0"/><circle cx="1781.5" cy="1907.5" r="6.0"/><circle cx="1788.1" cy="1895.6" r="6.0"/><circle cx="1792.2" cy="1891.0" r="6.0"/><circle cx="1798.9" cy="1887.0" r="6.0"/><circle cx="1798.9" cy="1881.2" r="6.0"/><circle cx="1794.0" cy="1875.7" r="6.0"/><circle cx="1790.8" cy="1870.3" r="6.0"/><circle cx="1795.9" cy="1864.8" r="6.0"/><circle cx="1805.4" cy="1855.4" r="6.0"/><circle cx="1810.2" cy="1850.7" r="6.0"/><circle cx="1808.0" cy="1846.7" r="6.0"/><circle cx="1806.5" cy="1839.8" r="6.0"/><circle cx="1804.2" cy="1834.3" r="6.0"/><circle cx="1798.1" cy="1838.0" r="6.0"/><circle cx="1792.4" cy="1842.5" r="6.0"/><circle cx="1788.1" cy="1847.8" r="6.0"/><circle cx="1783.9" cy="1852.0" r="6.0"/><circle cx="1776.7" cy="1850.9" r="6.0"/><circle cx="1772.1" cy="1852.7" r="6.0"/><circle cx="1768.0" cy="1858.5" r="6.0"/><circle cx="1764.1" cy="1864.8" r="6.0"/><circle cx="1761.5" cy="1870.2" r="6.0"/><circle cx="1755.6" cy="1875.3" r="6.0"/><circle cx="1750.1" cy="1878.1" r="6.0"/><circle cx="1744.9" cy="1883.1" r="6.0"/><circle cx="1741.1" cy="1887.7" r="6.0"/><circle cx="1734.7" cy="1893.0" r="6.0"/><circle cx="1730.2" cy="1896.5" r="6.0"/><circle cx="1723.3" cy="1901.3" r="6.0"/><circle cx="1719.4" cy="1904.0" r="6.0"/><circle cx="1713.7" cy="1909.9" r="6.0"/><circle cx="1708.5" cy="1913.6" r="6.0"/><circle cx="1705.7" cy="1919.2" r="6.0"/><circle cx="1698.7" cy="1923.9" r="6.0"/><circle cx="1694.1" cy="1926.5" r="6.0"/><circle cx="1689.0" cy="1932.4" r="6.0"/><circle cx="1687.8" cy="1937.9" r="6.0"/><circle cx="1685.5" cy="1944.6" r="6.0"/><circle cx="1681.8" cy="1951.2" r="6.0"/><circle cx="1681.1" cy="1958.2" r="6.0"/><circle cx="1678.8" cy="1965.6" r="6.0"/><circle cx="1675.9" cy="1972.1" r="6.0"/><circle cx="1675.5" cy="1977.9" r="6.0"/><circle cx="1671.1" cy="1984.2" r="6.0"/><circle cx="1666.4" cy="1996.5" r="6.0"/><circle cx="1661.3" cy="2002.6" r="6.0"/><circle cx="1658.4" cy="2008.5" r="6.0"/><circle cx="1655.6" cy="2014.7" r="6.0"/><circle cx="1648.9" cy="2019.9" r="6.0"/><circle cx="1644.1" cy="2021.6" r="6.0"/><circle cx="1634.4" cy="2032.3" r="6.0"/><circle cx="1628.6" cy="2034.3" r="6.0"/><circle cx="1621.4" cy="2035.1" r="6.0"/><circle cx="1622.3" cy="2041.3" r="6.0"/><circle cx="1622.2" cy="2048.4" r="6.0"/><circle cx="1615.3" cy="2053.2" r="6.0"/><circle cx="1612.5" cy="2056.6" r="6.0"/><circle cx="1614.3" cy="2062.7" r="6.0"/><circle cx="1612.4" cy="2067.8" r="6.0"/><circle cx="1607.9" cy="2075.8" r="6.0"/><circle cx="1605.0" cy="2081.6" r="6.0"/><circle cx="1599.8" cy="2086.5" r="6.0"/><circle cx="1795.6" cy="1836.1" r="6.0"/><circle cx="1805.0" cy="1836.5" r="6.0"/><circle cx="1797.4" cy="1844.3" r="6.0"/><circle cx="1801.2" cy="1845.8" r="6.0"/><circle cx="1784.5" cy="1851.3" r="6.0"/><circle cx="1793.8" cy="1850.8" r="6.0"/><circle cx="1803.2" cy="1851.0" r="6.0"/><circle cx="1781.0" cy="1857.0" r="6.0"/><circle cx="1795.8" cy="1859.0" r="6.0"/><circle cx="1798.9" cy="1859.1" r="6.0"/><circle cx="1764.4" cy="1872.9" r="6.0"/><circle cx="1789.3" cy="1871.2" r="6.0"/><circle cx="1751.3" cy="1876.0" r="6.0"/><circle cx="1758.5" cy="1875.9" r="6.0"/><circle cx="1792.7" cy="1875.9" r="6.0"/><circle cx="1736.9" cy="1889.1" r="6.0"/><circle cx="1745.7" cy="1891.0" r="6.0"/><circle cx="1790.6" cy="1889.7" r="6.0"/><circle cx="1786.0" cy="1898.5" r="6.0"/><circle cx="1728.0" cy="1904.0" r="6.0"/><circle cx="1779.1" cy="1905.6" r="6.0"/><circle cx="1716.5" cy="1909.9" r="6.0"/><circle cx="1777.3" cy="1911.7" r="6.0"/><circle cx="1709.7" cy="1918.9" r="6.0"/><circle cx="1767.5" cy="1919.0" r="6.0"/><circle cx="1704.0" cy="1923.1" r="6.0"/><circle cx="1766.6" cy="1923.6" r="6.0"/><circle cx="1700.7" cy="1932.0" r="6.0"/><circle cx="1766.5" cy="1929.1" r="6.0"/><circle cx="1689.3" cy="1938.0" r="6.0"/><circle cx="1762.9" cy="1937.5" r="6.0"/><circle cx="1691.3" cy="1944.0" r="6.0"/><circle cx="1751.6" cy="1942.3" r="6.0"/><circle cx="1748.1" cy="1951.9" r="6.0"/><circle cx="1740.1" cy="1956.9" r="6.0"/><circle cx="1738.7" cy="1963.9" r="6.0"/><circle cx="1680.4" cy="1969.4" r="6.0"/><circle cx="1732.6" cy="1970.0" r="6.0"/><circle cx="1679.6" cy="1976.3" r="6.0"/><circle cx="1733.6" cy="1976.7" r="6.0"/><circle cx="1679.4" cy="1984.6" r="6.0"/><circle cx="1732.0" cy="1981.5" r="6.0"/><circle cx="1671.1" cy="1991.6" r="6.0"/><circle cx="1728.8" cy="1988.6" r="6.0"/><circle cx="1664.4" cy="1995.9" r="6.0"/><circle cx="1734.0" cy="1997.1" r="6.0"/><circle cx="1665.9" cy="2002.1" r="6.0"/><circle cx="1699.2" cy="2002.2" r="6.0"/><circle cx="1705.7" cy="2002.0" r="6.0"/><circle cx="1711.4" cy="2004.9" r="6.0"/><circle cx="1724.1" cy="2002.2" r="6.0"/><circle cx="1733.0" cy="2004.3" r="6.0"/><circle cx="1660.5" cy="2009.6" r="6.0"/><circle cx="1688.9" cy="2011.5" r="6.0"/><circle cx="1695.0" cy="2010.5" r="6.0"/><circle cx="1658.6" cy="2017.7" r="6.0"/><circle cx="1685.1" cy="2014.3" r="6.0"/><circle cx="1650.3" cy="2020.9" r="6.0"/><circle cx="1640.7" cy="2028.6" r="6.0"/><circle cx="1669.5" cy="2029.9" r="6.0"/><circle cx="1676.9" cy="2030.3" r="6.0"/><circle cx="1628.6" cy="2038.0" r="6.0"/><circle cx="1633.4" cy="2038.0" r="6.0"/><circle cx="1660.3" cy="2036.2" r="6.0"/><circle cx="1627.5" cy="2043.1" r="6.0"/><circle cx="1661.0" cy="2044.1" r="6.0"/><circle cx="1625.9" cy="2050.4" r="6.0"/><circle cx="1653.3" cy="2050.3" r="6.0"/><circle cx="1616.1" cy="2055.0" r="6.0"/><circle cx="1621.5" cy="2057.8" r="6.0"/><circle cx="1642.0" cy="2057.5" r="6.0"/><circle cx="1616.8" cy="2061.0" r="6.0"/><circle cx="1646.5" cy="2062.9" r="6.0"/><circle cx="1616.4" cy="2067.5" r="6.0"/><circle cx="1611.2" cy="2075.5" r="6.0"/><circle cx="1617.0" cy="2076.2" r="6.0"/><circle cx="1607.3" cy="2080.4" r="6.0"/><circle cx="1614.2" cy="2082.5" r="6.0"/><circle cx="1608.6" cy="2088.0" r="6.0"/></g>
<circle cx="1884.7" cy="1744.0" r="6.0" fill="#3e58af"/>
<circle cx="1868.6" cy="1773.7" r="6.0" fill="#3e58af"/>
<circle cx="1803.9" cy="1788.5" r="6.0" fill="#3e58af"/>
<circle cx="1864.5" cy="1809.4" r="6.0" fill="#3e58af"/>
<circle cx="1849.7" cy="1865.9" r="6.0" fill="#3e58af"/>
<circle cx="1836.2" cy="1870.6" r="6.0" fill="#3e58af"/>
<circle cx="1825.5" cy="1885.5" r="6.0" fill="#3e58af"/>
<circle cx="1809.3" cy="1903.0" r="6.0" fill="#3e58af"/>
<circle cx="1789.8" cy="1931.2" r="6.0" fill="#3e58af"/>
<circle cx="1750.0" cy="1863.2" r="6.0" fill="#3e58af"/>
<circle cx="1786.4" cy="1824.8" r="6.0" fill="#3e58af"/>
<circle cx="1834.9" cy="1783.1" r="6.0" fill="#3e58af"/>
<circle cx="1838.9" cy="1791.2" r="6.0" fill="#3e58af"/>
<circle cx="1667.0" cy="2073.5" r="6.0" fill="#3e58af"/>
<circle cx="1630.6" cy="2093.7" r="6.0" fill="#3e58af"/>
<circle cx="1621.2" cy="2105.9" r="6.0" fill="#3e58af"/>
<circle cx="1595.6" cy="2119.3" r="6.0" fill="#3e58af"/>
<circle cx="1602.4" cy="2124.7" r="6.0" fill="#3e58af"/>
<circle cx="1695.3" cy="2035.8" r="6.0" fill="#3e58af"/>
<circle cx="1699.3" cy="2022.4" r="6.0" fill="#3e58af"/>
<circle cx="1707.4" cy="2014.3" r="6.0" fill="#3e58af"/>
<circle cx="1688.1" cy="1923.2" r="6.0" fill="#ba407e"/>
<circle cx="1771.6" cy="1837.0" r="6.0" fill="#ba407e"/>
<circle cx="1793.1" cy="1827.5" r="6.0" fill="#ba407e"/>
<circle cx="1809.3" cy="1824.8" r="6.0" fill="#ba407e"/>
<circle cx="1803.9" cy="1885.5" r="6.0" fill="#ba407e"/>
<circle cx="1779.0" cy="1931.2" r="6.0" fill="#ba407e"/>
<circle cx="1821.4" cy="1845.1" r="6.0" fill="#ba407e"/>
<circle cx="1818.7" cy="1854.5" r="6.0" fill="#ba407e"/>
<circle cx="1606.4" cy="2120.7" r="6.0" fill="#ba407e"/>
<circle cx="1563.3" cy="2140.9" r="6.0" fill="#ba407e"/>
<circle cx="1615.8" cy="2033.1" r="6.0" fill="#ba407e"/>
<circle cx="1607.7" cy="2052.0" r="6.0" fill="#ba407e"/>
<circle cx="1716.8" cy="2011.6" r="6.0" fill="#ba407e"/>
<circle cx="1687.2" cy="1924.0" r="6.0" fill="#ba407e"/>
</g>
<line x1="-29.86" y1="1657.55" x2="614.50" y2="899.60" stroke="#3e58af" stroke-width="3"/>
<line x1="-45.87" y1="1657.55" x2="609.81" y2="899.60" stroke="#ba407e" stroke-width="3"/>
</g>
<path d="M104.0,898.3 V1484.3 H653.5" fill="none" stroke="#333" stroke-width="1.6"/>
<line x1="91.5" y1="1454.90" x2="104.0" y2="1454.90" stroke="#111" stroke-width="1.8"/>
<text x="34.07" y="1462.70" font-size="18.8" font-weight="bold" fill="#000" textLength="54.20" lengthAdjust="spacing">30,00</text>
<line x1="91.5" y1="1366.98" x2="104.0" y2="1366.98" stroke="#111" stroke-width="1.8"/>
<text x="34.22" y="1374.78" font-size="18.8" font-weight="bold" fill="#000" textLength="54.06" lengthAdjust="spacing">40,00</text>
<line x1="91.5" y1="1279.06" x2="104.0" y2="1279.06" stroke="#111" stroke-width="1.8"/>
<text x="33.92" y="1286.86" font-size="18.8" font-weight="bold" fill="#000" textLength="54.35" lengthAdjust="spacing">50,00</text>
<line x1="91.5" y1="1191.14" x2="104.0" y2="1191.14" stroke="#111" stroke-width="1.8"/>
<text x="33.81" y="1198.94" font-size="18.8" font-weight="bold" fill="#000" textLength="54.46" lengthAdjust="spacing">60,00</text>
<line x1="91.5" y1="1103.22" x2="104.0" y2="1103.22" stroke="#111" stroke-width="1.8"/>
<text x="33.69" y="1111.02" font-size="18.8" font-weight="bold" fill="#000" textLength="54.58" lengthAdjust="spacing">70,00</text>
<line x1="91.5" y1="1015.30" x2="104.0" y2="1015.30" stroke="#111" stroke-width="1.8"/>
<text x="33.90" y="1023.10" font-size="18.8" font-weight="bold" fill="#000" textLength="54.37" lengthAdjust="spacing">80,00</text>
<line x1="91.5" y1="927.38" x2="104.0" y2="927.38" stroke="#111" stroke-width="1.8"/>
<text x="33.85" y="935.18" font-size="18.8" font-weight="bold" fill="#000" textLength="54.42" lengthAdjust="spacing">90,00</text>
<line x1="131.40" y1="1484.3" x2="131.40" y2="1496.7" stroke="#111" stroke-width="1.8"/>
<text x="105.77" y="1516.10" font-size="18.8" font-weight="bold" fill="#000" textLength="54.20" lengthAdjust="spacing">30,00</text>
<line x1="202.04" y1="1484.3" x2="202.04" y2="1496.7" stroke="#111" stroke-width="1.8"/>
<text x="176.56" y="1516.10" font-size="18.8" font-weight="bold" fill="#000" textLength="54.06" lengthAdjust="spacing">40,00</text>
<line x1="272.68" y1="1484.3" x2="272.68" y2="1496.7" stroke="#111" stroke-width="1.8"/>
<text x="246.90" y="1516.10" font-size="18.8" font-weight="bold" fill="#000" textLength="54.35" lengthAdjust="spacing">50,00</text>
<line x1="343.32" y1="1484.3" x2="343.32" y2="1496.7" stroke="#111" stroke-width="1.8"/>
<text x="317.43" y="1516.10" font-size="18.8" font-weight="bold" fill="#000" textLength="54.46" lengthAdjust="spacing">60,00</text>
<line x1="413.96" y1="1484.3" x2="413.96" y2="1496.7" stroke="#111" stroke-width="1.8"/>
<text x="387.95" y="1516.10" font-size="18.8" font-weight="bold" fill="#000" textLength="54.58" lengthAdjust="spacing">70,00</text>
<line x1="484.60" y1="1484.3" x2="484.60" y2="1496.7" stroke="#111" stroke-width="1.8"/>
<text x="458.80" y="1516.10" font-size="18.8" font-weight="bold" fill="#000" textLength="54.37" lengthAdjust="spacing">80,00</text>
<line x1="555.24" y1="1484.3" x2="555.24" y2="1496.7" stroke="#111" stroke-width="1.8"/>
<text x="529.39" y="1516.10" font-size="18.8" font-weight="bold" fill="#000" textLength="54.42" lengthAdjust="spacing">90,00</text>
<line x1="625.88" y1="1484.3" x2="625.88" y2="1496.7" stroke="#111" stroke-width="1.8"/>
<text x="593.80" y="1516.10" font-size="18.8" font-weight="bold" fill="#000" textLength="66.36" lengthAdjust="spacing">100,00</text>
<text x="228.28" y="1544.60" font-size="24.2" font-weight="bold" fill="#000" textLength="292.25" lengthAdjust="spacing">LEFT 4D FINGER MEAN</text>
<text transform="translate(24.30,1337.02) rotate(-90)" x="0" y="0" font-size="24.2" font-weight="bold" textLength="294.65" lengthAdjust="spacing">LEFT 2D FINGER MEAN</text>
<text x="112.64" y="918.90" font-size="30.6" font-weight="bold" fill="#278b17" textLength="207.22" lengthAdjust="spacing">ASIAN ORIGIN</text>
<circle cx="119.2" cy="949.2" r="6.3" fill="#3e58af"/>
<circle cx="119.2" cy="970.8" r="6.3" fill="#ba407e"/>
<text x="134.73" y="957.40" font-size="17.5" font-weight="bold" fill="#000" textLength="73.23" lengthAdjust="spacing">MALE: R</text>
<text transform="translate(207.75,950.90) scale(1.028,1)" font-size="12.60" font-weight="normal" fill="#000">2</text>
<text x="218.83" y="957.40" font-size="17.5" font-weight="bold" fill="#000" textLength="130.74" lengthAdjust="spacing">Linear = 0,917</text>
<text x="133.13" y="978.20" font-size="17.5" font-weight="bold" fill="#000" textLength="96.43" lengthAdjust="spacing">FEMALE: R</text>
<text transform="translate(229.35,971.70) scale(1.028,1)" font-size="12.60" font-weight="normal" fill="#000">2</text>
<text x="240.43" y="978.20" font-size="17.5" font-weight="bold" fill="#000" textLength="130.76" lengthAdjust="spacing">Linear = 0,885</text>
<text transform="translate(102.07,863.00) scale(1.003,1)" font-size="58.93" font-weight="bold" fill="#000">h</text>
<rect x="287.0" y="1152.0" width="142.4" height="28.4" fill="#fff" stroke="#ba407e" stroke-width="1.5"/>
<text x="291.16" y="1173.10" font-size="18.2" font-weight="normal" fill="#000" textLength="130.94" lengthAdjust="spacing">y=2,21+0,93*x</text>
<rect x="286.3" y="1202.0" width="142.0" height="27.8" fill="#fff" stroke="#3e58af" stroke-width="1.5"/>
<text x="290.46" y="1222.50" font-size="18.2" font-weight="normal" fill="#000" textLength="130.54" lengthAdjust="spacing">y=0,03+0,95*x</text>
</g>
</g></svg>
</body></html>
